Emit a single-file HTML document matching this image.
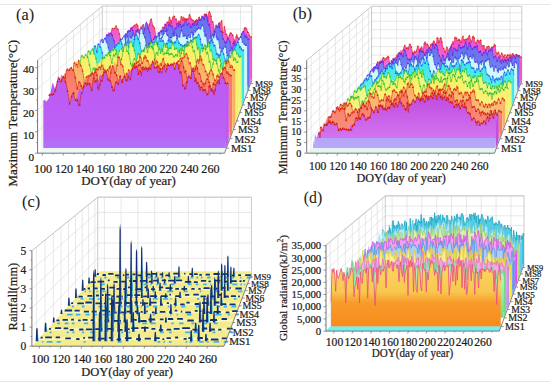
<!DOCTYPE html>
<html><head><meta charset="utf-8"><style>
html,body{margin:0;padding:0;background:#fff;}
svg{display:block;}
text{font-family:"Liberation Serif",serif;fill:#1e1c1a;stroke:#1e1c1a;stroke-width:0.22px;}
</style></head><body>
<svg width="550" height="386" viewBox="0 0 550 386" xmlns="http://www.w3.org/2000/svg">
<defs><linearGradient id="ga9" gradientUnits="userSpaceOnUse" x1="0" y1="15.3" x2="0" y2="83.6"><stop offset="0" stop-color="#f050c8"/><stop offset="1" stop-color="#f088d8"/></linearGradient><linearGradient id="ga8" gradientUnits="userSpaceOnUse" x1="0" y1="18.2" x2="0" y2="90.4"><stop offset="0" stop-color="#6470f0"/><stop offset="1" stop-color="#8890f0"/></linearGradient><linearGradient id="ga7" gradientUnits="userSpaceOnUse" x1="0" y1="28.9" x2="0" y2="97.5"><stop offset="0" stop-color="#c8f8f8"/><stop offset="1" stop-color="#e0fafa"/></linearGradient><linearGradient id="ga6" gradientUnits="userSpaceOnUse" x1="0" y1="38.6" x2="0" y2="104.9"><stop offset="0" stop-color="#38e8e8"/><stop offset="1" stop-color="#78f0f0"/></linearGradient><linearGradient id="ga5" gradientUnits="userSpaceOnUse" x1="0" y1="42.2" x2="0" y2="112.7"><stop offset="0" stop-color="#e8f870"/><stop offset="1" stop-color="#f0f8a0"/></linearGradient><linearGradient id="ga4" gradientUnits="userSpaceOnUse" x1="0" y1="45.9" x2="0" y2="120.9"><stop offset="0" stop-color="#f8f060"/><stop offset="1" stop-color="#f8f290"/></linearGradient><linearGradient id="ga3" gradientUnits="userSpaceOnUse" x1="0" y1="58.6" x2="0" y2="129.6"><stop offset="0" stop-color="#f8b064"/><stop offset="1" stop-color="#f8c488"/></linearGradient><linearGradient id="ga2" gradientUnits="userSpaceOnUse" x1="0" y1="65.7" x2="0" y2="138.6"><stop offset="0" stop-color="#f87a64"/><stop offset="1" stop-color="#f89484"/></linearGradient><linearGradient id="ga1" gradientUnits="userSpaceOnUse" x1="0" y1="66.8" x2="0" y2="148.2"><stop offset="0" stop-color="#bc58f4"/><stop offset="0.871" stop-color="#bc62f6"/><stop offset="0.871" stop-color="#b26af6"/><stop offset="1" stop-color="#b672f6"/></linearGradient><linearGradient id="gb9" gradientUnits="userSpaceOnUse" x1="0" y1="39.5" x2="0" y2="83.8"><stop offset="0" stop-color="#f050c8"/><stop offset="1" stop-color="#f088d8"/></linearGradient><linearGradient id="gb8" gradientUnits="userSpaceOnUse" x1="0" y1="45.9" x2="0" y2="90.6"><stop offset="0" stop-color="#6470f0"/><stop offset="1" stop-color="#8890f0"/></linearGradient><linearGradient id="gb7" gradientUnits="userSpaceOnUse" x1="0" y1="54.8" x2="0" y2="97.7"><stop offset="0" stop-color="#c8f8f8"/><stop offset="1" stop-color="#e0fafa"/></linearGradient><linearGradient id="gb6" gradientUnits="userSpaceOnUse" x1="0" y1="63.1" x2="0" y2="105.1"><stop offset="0" stop-color="#38e8e8"/><stop offset="1" stop-color="#78f0f0"/></linearGradient><linearGradient id="gb5" gradientUnits="userSpaceOnUse" x1="0" y1="72.0" x2="0" y2="112.8"><stop offset="0" stop-color="#e8f870"/><stop offset="1" stop-color="#f0f8a0"/></linearGradient><linearGradient id="gb4" gradientUnits="userSpaceOnUse" x1="0" y1="77.6" x2="0" y2="121.0"><stop offset="0" stop-color="#f8f060"/><stop offset="1" stop-color="#f8f290"/></linearGradient><linearGradient id="gb3" gradientUnits="userSpaceOnUse" x1="0" y1="87.6" x2="0" y2="129.6"><stop offset="0" stop-color="#f8b064"/><stop offset="1" stop-color="#f8c488"/></linearGradient><linearGradient id="gb2" gradientUnits="userSpaceOnUse" x1="0" y1="95.5" x2="0" y2="138.7"><stop offset="0" stop-color="#f87a64"/><stop offset="1" stop-color="#f89484"/></linearGradient><linearGradient id="gb1" gradientUnits="userSpaceOnUse" x1="0" y1="98.8" x2="0" y2="148.2"><stop offset="0" stop-color="#c24ee0"/><stop offset="0.788" stop-color="#d274f0"/><stop offset="0.788" stop-color="#b4a4f8"/><stop offset="1" stop-color="#b8aaf8"/></linearGradient><linearGradient id="gd9" gradientUnits="userSpaceOnUse" x1="0" y1="216.1" x2="0" y2="267.6"><stop offset="0" stop-color="#50d0e2"/><stop offset="0.35" stop-color="#50d0e2"/><stop offset="1" stop-color="#30c0e0"/></linearGradient><linearGradient id="gdb9" gradientUnits="userSpaceOnUse" x1="0" y1="212.7" x2="0" y2="263.4"><stop offset="0" stop-color="#50d0e2"/><stop offset="0.35" stop-color="#50d0e2"/><stop offset="1" stop-color="#30c0e0"/></linearGradient><linearGradient id="gd8" gradientUnits="userSpaceOnUse" x1="0" y1="220.3" x2="0" y2="273.8"><stop offset="0" stop-color="#b0e8f8"/><stop offset="0.35" stop-color="#b0e8f8"/><stop offset="1" stop-color="#64c8f0"/></linearGradient><linearGradient id="gdb8" gradientUnits="userSpaceOnUse" x1="0" y1="216.8" x2="0" y2="269.4"><stop offset="0" stop-color="#b0e8f8"/><stop offset="0.35" stop-color="#b0e8f8"/><stop offset="1" stop-color="#64c8f0"/></linearGradient><linearGradient id="gd7" gradientUnits="userSpaceOnUse" x1="0" y1="227.4" x2="0" y2="280.3"><stop offset="0" stop-color="#d8f0b0"/><stop offset="0.35" stop-color="#d8f0b0"/><stop offset="1" stop-color="#a8e070"/></linearGradient><linearGradient id="gdb7" gradientUnits="userSpaceOnUse" x1="0" y1="223.7" x2="0" y2="275.7"><stop offset="0" stop-color="#d8f0b0"/><stop offset="0.35" stop-color="#d8f0b0"/><stop offset="1" stop-color="#a8e070"/></linearGradient><linearGradient id="gd6" gradientUnits="userSpaceOnUse" x1="0" y1="234.4" x2="0" y2="287.0"><stop offset="0" stop-color="#f0a4f0"/><stop offset="0.35" stop-color="#f0a4f0"/><stop offset="1" stop-color="#f048f0"/></linearGradient><linearGradient id="gdb6" gradientUnits="userSpaceOnUse" x1="0" y1="230.5" x2="0" y2="282.3"><stop offset="0" stop-color="#f0a4f0"/><stop offset="0.35" stop-color="#f0a4f0"/><stop offset="1" stop-color="#f048f0"/></linearGradient><linearGradient id="gd5" gradientUnits="userSpaceOnUse" x1="0" y1="242.9" x2="0" y2="294.2"><stop offset="0" stop-color="#a8d0f8"/><stop offset="0.35" stop-color="#a8d0f8"/><stop offset="1" stop-color="#5c9cf0"/></linearGradient><linearGradient id="gdb5" gradientUnits="userSpaceOnUse" x1="0" y1="238.7" x2="0" y2="289.1"><stop offset="0" stop-color="#a8d0f8"/><stop offset="0.35" stop-color="#a8d0f8"/><stop offset="1" stop-color="#5c9cf0"/></linearGradient><linearGradient id="gd4" gradientUnits="userSpaceOnUse" x1="0" y1="247.7" x2="0" y2="301.6"><stop offset="0" stop-color="#f8f090"/><stop offset="0.35" stop-color="#f8f090"/><stop offset="1" stop-color="#f8e838"/></linearGradient><linearGradient id="gdb4" gradientUnits="userSpaceOnUse" x1="0" y1="243.3" x2="0" y2="296.4"><stop offset="0" stop-color="#f8f090"/><stop offset="0.35" stop-color="#f8f090"/><stop offset="1" stop-color="#f8e838"/></linearGradient><linearGradient id="gd3" gradientUnits="userSpaceOnUse" x1="0" y1="255.6" x2="0" y2="309.5"><stop offset="0" stop-color="#f0acE4"/><stop offset="0.35" stop-color="#f0acE4"/><stop offset="1" stop-color="#c094f0"/></linearGradient><linearGradient id="gdb3" gradientUnits="userSpaceOnUse" x1="0" y1="251.1" x2="0" y2="304.0"><stop offset="0" stop-color="#f0acE4"/><stop offset="0.35" stop-color="#f0acE4"/><stop offset="1" stop-color="#c094f0"/></linearGradient><linearGradient id="gd2" gradientUnits="userSpaceOnUse" x1="0" y1="265.3" x2="0" y2="317.8"><stop offset="0" stop-color="#b0f0b8"/><stop offset="0.35" stop-color="#b0f0b8"/><stop offset="1" stop-color="#70dc80"/></linearGradient><linearGradient id="gdb2" gradientUnits="userSpaceOnUse" x1="0" y1="260.4" x2="0" y2="312.0"><stop offset="0" stop-color="#b0f0b8"/><stop offset="0.35" stop-color="#b0f0b8"/><stop offset="1" stop-color="#70dc80"/></linearGradient><linearGradient id="gd1" gradientUnits="userSpaceOnUse" x1="0" y1="258.5" x2="0" y2="326.5"><stop offset="0" stop-color="#f8da64"/><stop offset="0.487" stop-color="#f8c850"/><stop offset="0.646" stop-color="#f89c2c"/><stop offset="1" stop-color="#f88a1a"/></linearGradient><linearGradient id="gdb1" gradientUnits="userSpaceOnUse" x1="0" y1="258.5" x2="0" y2="326.5"><stop offset="0" stop-color="#f8da64"/><stop offset="0.487" stop-color="#f8c850"/><stop offset="0.646" stop-color="#f89c2c"/><stop offset="1" stop-color="#f88a1a"/></linearGradient></defs>
<rect width="550" height="386" fill="#fff"/>
<line x1="0" y1="4.5" x2="550" y2="4.5" stroke="#e6e6e6" stroke-width="1"/>
<line x1="0" y1="381.5" x2="550" y2="381.5" stroke="#e6e6e6" stroke-width="1"/>
<line x1="102.3" y1="63.3" x2="251.8" y2="63.3" stroke="#d6d6d6" stroke-width="0.6"/>
<line x1="37.6" y1="131.8" x2="102.3" y2="63.3" stroke="#d6d6d6" stroke-width="0.6"/>
<line x1="102.3" y1="46.2" x2="251.8" y2="46.2" stroke="#d6d6d6" stroke-width="0.6"/>
<line x1="37.6" y1="110.4" x2="102.3" y2="46.2" stroke="#d6d6d6" stroke-width="0.6"/>
<line x1="102.3" y1="29.1" x2="251.8" y2="29.1" stroke="#d6d6d6" stroke-width="0.6"/>
<line x1="37.6" y1="89.1" x2="102.3" y2="29.1" stroke="#d6d6d6" stroke-width="0.6"/>
<line x1="102.3" y1="12.0" x2="251.8" y2="12.0" stroke="#d6d6d6" stroke-width="0.6"/>
<line x1="37.6" y1="67.7" x2="102.3" y2="12.0" stroke="#d6d6d6" stroke-width="0.6"/>
<line x1="106.7" y1="6.0" x2="106.7" y2="80.4" stroke="#d6d6d6" stroke-width="0.6"/>
<line x1="123.4" y1="6.0" x2="123.4" y2="80.4" stroke="#d6d6d6" stroke-width="0.6"/>
<line x1="140.1" y1="6.0" x2="140.1" y2="80.4" stroke="#d6d6d6" stroke-width="0.6"/>
<line x1="156.9" y1="6.0" x2="156.9" y2="80.4" stroke="#d6d6d6" stroke-width="0.6"/>
<line x1="173.6" y1="6.0" x2="173.6" y2="80.4" stroke="#d6d6d6" stroke-width="0.6"/>
<line x1="190.3" y1="6.0" x2="190.3" y2="80.4" stroke="#d6d6d6" stroke-width="0.6"/>
<line x1="207.1" y1="6.0" x2="207.1" y2="80.4" stroke="#d6d6d6" stroke-width="0.6"/>
<line x1="223.8" y1="6.0" x2="223.8" y2="80.4" stroke="#d6d6d6" stroke-width="0.6"/>
<line x1="240.5" y1="6.0" x2="240.5" y2="80.4" stroke="#d6d6d6" stroke-width="0.6"/>
<line x1="42.0" y1="56.5" x2="42.0" y2="148.2" stroke="#d6d6d6" stroke-width="0.6"/>
<line x1="50.5" y1="49.4" x2="50.5" y2="138.6" stroke="#d6d6d6" stroke-width="0.6"/>
<line x1="58.6" y1="42.6" x2="58.6" y2="129.6" stroke="#d6d6d6" stroke-width="0.6"/>
<line x1="66.3" y1="36.2" x2="66.3" y2="120.9" stroke="#d6d6d6" stroke-width="0.6"/>
<line x1="73.5" y1="30.1" x2="73.5" y2="112.7" stroke="#d6d6d6" stroke-width="0.6"/>
<line x1="80.5" y1="24.3" x2="80.5" y2="104.9" stroke="#d6d6d6" stroke-width="0.6"/>
<line x1="87.1" y1="18.7" x2="87.1" y2="97.5" stroke="#d6d6d6" stroke-width="0.6"/>
<line x1="93.4" y1="13.5" x2="93.4" y2="90.4" stroke="#d6d6d6" stroke-width="0.6"/>
<line x1="99.4" y1="8.4" x2="99.4" y2="83.6" stroke="#d6d6d6" stroke-width="0.6"/>
<line x1="102.3" y1="6.0" x2="251.8" y2="6.0" stroke="#bcbcbc" stroke-width="0.8"/>
<line x1="251.8" y1="6.0" x2="251.8" y2="80.4" stroke="#bcbcbc" stroke-width="0.8"/>
<line x1="102.3" y1="6.0" x2="102.3" y2="80.4" stroke="#bcbcbc" stroke-width="0.8"/>
<line x1="37.6" y1="60.2" x2="102.3" y2="6.0" stroke="#bcbcbc" stroke-width="0.8"/>
<polygon points="104.5,45.0 105.3,43.6 106.1,43.2 107.0,51.2 107.8,41.5 108.6,40.8 109.5,40.9 110.3,40.3 111.1,34.3 112.0,28.1 112.8,28.6 113.6,29.4 114.5,28.4 115.3,27.2 116.1,25.9 117.0,27.9 117.8,29.2 118.6,30.7 119.5,33.9 120.3,38.8 121.1,44.3 122.0,41.2 122.8,42.1 123.6,37.8 124.5,39.6 125.3,42.6 126.1,41.8 127.0,40.2 127.8,39.3 128.6,40.0 129.5,39.9 130.3,32.7 131.1,27.8 132.0,27.8 132.8,27.0 133.6,25.7 134.5,25.5 135.3,26.4 136.1,24.1 137.0,24.0 137.8,26.0 138.6,30.1 139.5,33.1 140.3,29.4 141.1,26.8 141.9,28.5 142.8,25.5 143.6,24.1 144.4,30.0 145.3,33.7 146.1,32.4 146.9,30.4 147.8,31.9 148.6,31.0 149.4,24.9 150.3,20.1 151.1,19.3 151.9,21.3 152.8,25.7 153.6,26.3 154.4,27.9 155.3,32.3 156.1,37.4 156.9,39.9 157.8,37.8 158.6,34.6 159.4,33.0 160.3,32.8 161.1,34.5 161.9,32.3 162.8,27.4 163.6,26.8 164.4,28.3 165.3,26.4 166.1,25.2 166.9,23.5 167.8,22.3 168.6,21.7 169.4,17.5 170.3,19.3 171.1,22.7 171.9,20.2 172.8,17.6 173.6,16.1 174.4,16.3 175.3,19.1 176.1,19.3 176.9,20.4 177.8,25.3 178.6,21.8 179.4,21.7 180.3,22.7 181.1,16.9 181.9,16.2 182.8,19.9 183.6,16.8 184.4,18.6 185.3,23.2 186.1,20.2 186.9,18.1 187.8,19.6 188.6,17.7 189.4,14.7 190.3,16.0 191.1,19.0 191.9,20.0 192.7,20.0 193.6,20.1 194.4,21.7 195.2,32.4 196.1,20.4 196.9,19.0 197.7,21.7 198.6,17.3 199.4,17.5 200.2,22.5 201.1,19.6 201.9,15.7 202.7,17.0 203.6,16.6 204.4,14.5 205.2,14.0 206.1,14.5 206.9,14.6 207.7,19.5 208.6,12.3 209.4,11.8 210.2,13.0 211.1,16.4 211.9,22.8 212.7,21.6 213.6,24.5 214.4,31.5 215.2,31.3 216.1,32.9 216.9,33.0 217.7,27.6 218.6,22.9 219.4,23.0 220.2,25.1 221.1,21.9 221.9,19.9 222.7,32.2 223.6,32.7 224.4,26.9 225.2,29.7 226.1,34.3 226.9,34.3 227.7,37.6 228.6,39.5 229.4,35.0 230.2,32.4 231.1,33.2 231.9,33.7 232.7,35.2 233.6,38.0 234.4,41.0 235.2,43.6 236.1,36.7 236.9,34.2 237.7,37.7 238.6,38.4 239.4,41.4 240.2,44.9 241.0,40.1 241.9,34.0 242.7,33.3 243.5,32.0 244.4,28.5 245.2,27.1 246.0,28.4 246.9,29.1 247.7,32.3 248.5,32.4 249.4,35.5 250.2,37.6 251.0,36.8 251.9,37.4 251.9,79.1 104.5,79.1" fill="url(#ga9)"/>
<polygon points="250.2,83.6 251.9,79.1 251.9,37.4 250.2,41.3" fill="#f050c8"/>
<polygon points="100.4,49.1 101.3,47.6 102.1,47.2 103.0,55.3 103.8,45.5 104.7,44.7 105.5,44.9 106.4,44.2 107.2,38.2 108.1,31.9 108.9,32.4 109.7,33.2 110.6,32.1 111.4,30.9 112.3,29.6 113.1,31.6 114.0,32.9 114.8,34.5 115.7,37.8 116.5,42.7 117.4,48.3 118.2,45.2 119.0,46.1 119.9,41.7 120.7,43.5 121.6,46.5 122.4,45.8 123.3,44.2 124.1,43.3 125.0,43.9 125.8,43.9 126.7,36.5 127.5,31.5 128.4,31.5 129.2,30.8 130.0,29.4 130.9,29.2 131.7,30.1 132.6,27.8 133.4,27.7 134.3,29.7 135.1,33.9 136.0,37.0 136.8,33.1 137.7,30.6 138.5,32.3 139.3,29.2 140.2,27.8 141.0,33.8 141.9,37.6 142.7,36.2 143.6,34.2 144.4,35.7 145.3,34.8 146.1,28.6 147.0,23.8 147.8,22.9 148.7,25.0 149.5,29.4 150.3,30.1 151.2,31.6 152.0,36.1 152.9,41.4 153.7,43.8 154.6,41.7 155.4,38.4 156.3,36.8 157.1,36.6 158.0,38.3 158.8,36.1 159.7,31.2 160.5,30.6 161.3,32.1 162.2,30.2 163.0,28.9 163.9,27.2 164.7,25.9 165.6,25.4 166.4,21.1 167.3,22.9 168.1,26.4 169.0,23.8 169.8,21.2 170.6,19.6 171.5,19.9 172.3,22.7 173.2,22.9 174.0,24.1 174.9,29.0 175.7,25.4 176.6,25.4 177.4,26.4 178.3,20.5 179.1,19.7 180.0,23.6 180.8,20.4 181.6,22.2 182.5,26.9 183.3,23.8 184.2,21.8 185.0,23.2 185.9,21.2 186.7,18.3 187.6,19.6 188.4,22.6 189.3,23.6 190.1,23.7 190.9,23.7 191.8,25.4 192.6,36.3 193.5,24.0 194.3,22.6 195.2,25.3 196.0,20.9 196.9,21.0 197.7,26.2 198.6,23.2 199.4,19.2 200.3,20.6 201.1,20.2 201.9,18.0 202.8,17.5 203.6,18.0 204.5,18.2 205.3,23.1 206.2,15.8 207.0,15.3 207.9,16.6 208.7,19.9 209.6,26.5 210.4,25.2 211.2,28.2 212.1,35.3 212.9,35.1 213.8,36.7 214.6,36.8 215.5,31.4 216.3,26.6 217.2,26.6 218.0,28.8 218.9,25.5 219.7,23.5 220.6,36.0 221.4,36.5 222.2,30.6 223.1,33.5 223.9,38.2 224.8,38.1 225.6,41.5 226.5,43.4 227.3,38.9 228.2,36.3 229.0,37.0 229.9,37.5 230.7,39.0 231.6,41.9 232.4,45.0 233.2,47.6 234.1,40.6 234.9,38.0 235.8,41.6 236.6,42.3 237.5,45.3 238.3,48.9 239.2,44.1 240.0,37.8 240.9,37.2 241.7,35.8 242.5,32.3 243.4,30.8 244.2,32.2 245.1,32.9 245.9,36.1 246.8,36.3 247.6,39.4 248.5,41.5 249.3,40.7 250.2,41.3 250.2,83.6 100.4,83.6" fill="url(#ga9)"/>
<polyline points="104.5,45.0 105.3,43.6 106.1,43.2 107.0,51.2 107.8,41.5 108.6,40.8 109.5,40.9 110.3,40.3 111.1,34.3 112.0,28.1 112.8,28.6 113.6,29.4 114.5,28.4 115.3,27.2 116.1,25.9 117.0,27.9 117.8,29.2 118.6,30.7 119.5,33.9 120.3,38.8 121.1,44.3 122.0,41.2 122.8,42.1 123.6,37.8 124.5,39.6 125.3,42.6 126.1,41.8 127.0,40.2 127.8,39.3 128.6,40.0 129.5,39.9 130.3,32.7 131.1,27.8 132.0,27.8 132.8,27.0 133.6,25.7 134.5,25.5 135.3,26.4 136.1,24.1 137.0,24.0 137.8,26.0 138.6,30.1 139.5,33.1 140.3,29.4 141.1,26.8 141.9,28.5 142.8,25.5 143.6,24.1 144.4,30.0 145.3,33.7 146.1,32.4 146.9,30.4 147.8,31.9 148.6,31.0 149.4,24.9 150.3,20.1 151.1,19.3 151.9,21.3 152.8,25.7 153.6,26.3 154.4,27.9 155.3,32.3 156.1,37.4 156.9,39.9 157.8,37.8 158.6,34.6 159.4,33.0 160.3,32.8 161.1,34.5 161.9,32.3 162.8,27.4 163.6,26.8 164.4,28.3 165.3,26.4 166.1,25.2 166.9,23.5 167.8,22.3 168.6,21.7 169.4,17.5 170.3,19.3 171.1,22.7 171.9,20.2 172.8,17.6 173.6,16.1 174.4,16.3 175.3,19.1 176.1,19.3 176.9,20.4 177.8,25.3 178.6,21.8 179.4,21.7 180.3,22.7 181.1,16.9 181.9,16.2 182.8,19.9 183.6,16.8 184.4,18.6 185.3,23.2 186.1,20.2 186.9,18.1 187.8,19.6 188.6,17.7 189.4,14.7 190.3,16.0 191.1,19.0 191.9,20.0 192.7,20.0 193.6,20.1 194.4,21.7 195.2,32.4 196.1,20.4 196.9,19.0 197.7,21.7 198.6,17.3 199.4,17.5 200.2,22.5 201.1,19.6 201.9,15.7 202.7,17.0 203.6,16.6 204.4,14.5 205.2,14.0 206.1,14.5 206.9,14.6 207.7,19.5 208.6,12.3 209.4,11.8 210.2,13.0 211.1,16.4 211.9,22.8 212.7,21.6 213.6,24.5 214.4,31.5 215.2,31.3 216.1,32.9 216.9,33.0 217.7,27.6 218.6,22.9 219.4,23.0 220.2,25.1 221.1,21.9 221.9,19.9 222.7,32.2 223.6,32.7 224.4,26.9 225.2,29.7 226.1,34.3 226.9,34.3 227.7,37.6 228.6,39.5 229.4,35.0 230.2,32.4 231.1,33.2 231.9,33.7 232.7,35.2 233.6,38.0 234.4,41.0 235.2,43.6 236.1,36.7 236.9,34.2 237.7,37.7 238.6,38.4 239.4,41.4 240.2,44.9 241.0,40.1 241.9,34.0 242.7,33.3 243.5,32.0 244.4,28.5 245.2,27.1 246.0,28.4 246.9,29.1 247.7,32.3 248.5,32.4 249.4,35.5 250.2,37.6 251.0,36.8 251.9,37.4" fill="none" stroke="#e02818" stroke-width="0.6"/>
<path d="M103.5 45.8h1.9l-0.9 -1.9zM105.2 43.9h1.9l-0.9 -1.9zM106.9 42.2h1.9l-0.9 -1.9zM108.5 41.7h1.9l-0.9 -1.9zM110.2 35.0h1.9l-0.9 -1.9zM111.9 29.3h1.9l-0.9 -1.9zM113.5 29.1h1.9l-0.9 -1.9zM115.2 26.6h1.9l-0.9 -1.9zM116.9 29.9h1.9l-0.9 -1.9zM118.5 34.7h1.9l-0.9 -1.9zM120.2 45.1h1.9l-0.9 -1.9zM121.9 42.8h1.9l-0.9 -1.9zM123.5 40.3h1.9l-0.9 -1.9zM125.2 42.6h1.9l-0.9 -1.9zM126.9 40.1h1.9l-0.9 -1.9zM128.5 40.7h1.9l-0.9 -1.9zM130.2 28.5h1.9l-0.9 -1.9zM131.9 27.8h1.9l-0.9 -1.9zM133.5 26.2h1.9l-0.9 -1.9zM135.2 24.8h1.9l-0.9 -1.9zM136.9 26.7h1.9l-0.9 -1.9zM138.5 33.9h1.9l-0.9 -1.9zM140.2 27.6h1.9l-0.9 -1.9zM141.9 26.2h1.9l-0.9 -1.9zM143.5 30.7h1.9l-0.9 -1.9zM145.2 33.2h1.9l-0.9 -1.9zM146.8 32.6h1.9l-0.9 -1.9zM148.5 25.6h1.9l-0.9 -1.9zM150.2 20.0h1.9l-0.9 -1.9zM151.8 26.4h1.9l-0.9 -1.9zM153.5 28.6h1.9l-0.9 -1.9zM155.2 38.2h1.9l-0.9 -1.9zM156.8 38.5h1.9l-0.9 -1.9zM158.5 33.7h1.9l-0.9 -1.9zM160.2 35.2h1.9l-0.9 -1.9zM161.8 28.2h1.9l-0.9 -1.9zM163.5 29.1h1.9l-0.9 -1.9zM165.2 25.9h1.9l-0.9 -1.9zM166.8 23.0h1.9l-0.9 -1.9zM168.5 18.2h1.9l-0.9 -1.9zM170.2 23.5h1.9l-0.9 -1.9zM171.8 18.3h1.9l-0.9 -1.9zM173.5 17.1h1.9l-0.9 -1.9zM175.2 20.0h1.9l-0.9 -1.9zM176.8 26.0h1.9l-0.9 -1.9zM178.5 22.5h1.9l-0.9 -1.9zM180.2 17.6h1.9l-0.9 -1.9zM181.8 20.7h1.9l-0.9 -1.9zM183.5 19.3h1.9l-0.9 -1.9zM185.2 20.9h1.9l-0.9 -1.9zM186.8 20.3h1.9l-0.9 -1.9zM188.5 15.5h1.9l-0.9 -1.9zM190.2 19.7h1.9l-0.9 -1.9zM191.8 20.8h1.9l-0.9 -1.9zM193.5 22.5h1.9l-0.9 -1.9zM195.1 21.1h1.9l-0.9 -1.9zM196.8 22.4h1.9l-0.9 -1.9zM198.5 18.2h1.9l-0.9 -1.9zM200.1 20.3h1.9l-0.9 -1.9zM201.8 17.7h1.9l-0.9 -1.9zM203.5 15.2h1.9l-0.9 -1.9zM205.1 15.2h1.9l-0.9 -1.9zM206.8 20.3h1.9l-0.9 -1.9zM208.5 12.5h1.9l-0.9 -1.9zM210.1 17.1h1.9l-0.9 -1.9zM211.8 22.3h1.9l-0.9 -1.9zM213.5 32.3h1.9l-0.9 -1.9zM215.1 33.6h1.9l-0.9 -1.9zM216.8 28.4h1.9l-0.9 -1.9zM218.5 23.7h1.9l-0.9 -1.9zM220.1 22.6h1.9l-0.9 -1.9zM221.8 32.9h1.9l-0.9 -1.9zM223.5 27.6h1.9l-0.9 -1.9zM225.1 35.1h1.9l-0.9 -1.9zM226.8 38.3h1.9l-0.9 -1.9zM228.5 35.8h1.9l-0.9 -1.9zM230.1 33.9h1.9l-0.9 -1.9zM231.8 35.9h1.9l-0.9 -1.9zM233.5 41.8h1.9l-0.9 -1.9zM235.1 37.5h1.9l-0.9 -1.9zM236.8 38.4h1.9l-0.9 -1.9zM238.5 42.1h1.9l-0.9 -1.9zM240.1 40.9h1.9l-0.9 -1.9zM241.8 34.1h1.9l-0.9 -1.9zM243.5 29.2h1.9l-0.9 -1.9zM245.1 29.2h1.9l-0.9 -1.9zM246.8 33.0h1.9l-0.9 -1.9zM248.4 36.3h1.9l-0.9 -1.9zM250.1 37.5h1.9l-0.9 -1.9z" fill="#e02818"/>
<polygon points="98.7,52.3 99.5,50.0 100.4,50.1 101.2,51.7 102.1,48.3 102.9,46.3 103.8,47.8 104.6,48.7 105.5,41.3 106.3,34.5 107.2,34.9 108.0,36.5 108.9,35.1 109.7,33.2 110.6,33.5 111.4,34.6 112.3,35.1 113.1,38.3 114.0,40.5 114.9,44.8 115.7,50.4 116.6,47.3 117.4,43.8 118.3,43.5 119.1,45.4 120.0,48.5 120.8,47.2 121.7,45.6 122.5,45.7 123.4,46.1 124.2,45.0 125.1,37.6 125.9,33.9 126.8,33.9 127.6,31.6 128.5,30.1 129.3,31.0 130.2,31.7 131.0,28.5 131.9,28.4 132.7,30.3 133.6,34.4 134.4,37.3 135.3,32.8 136.1,30.5 137.0,32.6 137.8,29.4 138.7,34.2 139.5,33.6 140.4,37.1 141.3,36.3 142.1,34.8 143.0,35.1 143.8,33.7 144.7,28.7 145.5,23.9 146.4,22.6 147.2,24.1 148.1,28.6 148.9,30.3 149.8,32.1 150.6,35.6 151.5,40.6 152.3,44.2 153.2,43.4 154.0,39.3 154.9,36.6 155.7,37.4 156.6,40.1 157.4,38.4 158.3,33.1 159.1,32.2 160.0,34.9 160.8,33.4 161.7,30.9 162.5,30.0 163.4,30.7 164.2,29.6 165.1,24.1 165.9,25.6 166.8,30.5 167.7,29.5 168.5,24.9 169.4,22.6 170.2,25.1 171.1,27.3 171.9,26.0 172.8,27.5 173.6,33.5 174.5,30.1 175.3,28.4 176.2,29.2 177.0,23.8 177.9,22.9 178.7,26.3 179.6,23.3 180.4,24.4 181.3,28.1 182.1,26.0 183.0,24.8 183.8,25.1 184.7,21.7 185.5,19.3 186.4,21.5 187.2,24.9 188.1,24.4 188.9,23.5 189.8,24.6 190.6,26.7 191.5,28.0 192.3,24.3 193.2,22.9 194.1,25.4 194.9,21.7 195.8,21.3 196.6,25.9 197.5,24.0 198.3,19.6 199.2,19.9 200.0,20.5 200.9,19.6 201.7,17.8 202.6,16.8 203.4,18.5 204.3,19.3 205.1,15.7 206.0,14.6 206.8,17.6 207.7,20.8 208.5,26.0 209.4,24.1 210.2,28.2 211.1,36.4 211.9,35.4 212.8,35.8 213.6,35.6 214.5,31.3 215.3,27.1 216.2,25.4 217.0,28.2 217.9,26.6 218.7,23.4 219.6,26.6 220.5,31.8 221.3,31.6 222.2,33.5 223.0,38.9 223.9,40.1 224.7,41.7 225.6,44.5 226.4,42.0 227.3,38.4 228.1,38.8 229.0,39.8 229.8,41.5 230.7,45.4 231.5,48.8 232.4,50.3 233.2,43.3 234.1,41.0 234.9,44.8 235.8,45.3 236.6,46.6 237.5,50.6 238.3,47.0 239.2,39.9 240.0,37.9 240.9,36.5 241.7,33.9 242.6,31.5 243.4,31.4 244.3,33.7 245.1,36.7 246.0,34.7 246.9,37.3 247.7,40.2 248.6,39.2 249.4,38.8 249.4,85.6 98.7,85.6" fill="url(#ga8)"/>
<polygon points="247.6,90.4 249.4,85.6 249.4,38.8 247.6,42.8" fill="#6470f0"/>
<polygon points="94.4,56.5 95.3,54.2 96.2,54.3 97.0,56.0 97.9,52.5 98.8,50.4 99.6,52.0 100.5,52.8 101.4,45.4 102.2,38.4 103.1,38.8 104.0,40.5 104.8,39.0 105.7,37.2 106.6,37.4 107.4,38.5 108.3,39.1 109.2,42.3 110.0,44.6 110.9,48.9 111.8,54.6 112.6,51.4 113.5,47.9 114.4,47.6 115.2,49.5 116.1,52.6 116.9,51.4 117.8,49.7 118.7,49.9 119.5,50.3 120.4,49.1 121.3,41.6 122.1,37.8 123.0,37.8 123.9,35.5 124.7,34.0 125.6,34.9 126.5,35.6 127.3,32.4 128.2,32.3 129.1,34.2 129.9,38.3 130.8,41.3 131.7,36.7 132.5,34.4 133.4,36.5 134.3,33.3 135.1,38.2 136.0,37.5 136.8,41.1 137.7,40.3 138.6,38.8 139.4,39.1 140.3,37.6 141.2,32.5 142.0,27.7 142.9,26.3 143.8,27.9 144.6,32.4 145.5,34.2 146.4,36.0 147.2,39.6 148.1,44.7 149.0,48.3 149.8,47.5 150.7,43.3 151.6,40.6 152.4,41.4 153.3,44.2 154.2,42.4 155.0,37.0 155.9,36.1 156.8,38.8 157.6,37.4 158.5,34.8 159.3,33.9 160.2,34.6 161.1,33.5 161.9,27.9 162.8,29.4 163.7,34.4 164.5,33.4 165.4,28.7 166.3,26.4 167.1,28.9 168.0,31.1 168.9,29.8 169.7,31.4 170.6,37.4 171.5,33.9 172.3,32.2 173.2,33.0 174.1,27.6 174.9,26.6 175.8,30.2 176.7,27.1 177.5,28.2 178.4,32.0 179.3,29.9 180.1,28.6 181.0,28.9 181.8,25.5 182.7,23.0 183.6,25.2 184.4,28.7 185.3,28.2 186.2,27.2 187.0,28.4 187.9,30.5 188.8,31.9 189.6,28.1 190.5,26.7 191.4,29.2 192.2,25.5 193.1,25.0 194.0,29.7 194.8,27.8 195.7,23.3 196.6,23.6 197.4,24.2 198.3,23.3 199.2,21.5 200.0,20.5 200.9,22.2 201.7,23.0 202.6,19.4 203.5,18.2 204.3,21.3 205.2,24.5 206.1,29.8 206.9,27.9 207.8,32.0 208.7,40.4 209.5,39.3 210.4,39.7 211.3,39.5 212.1,35.2 213.0,31.0 213.9,29.2 214.7,32.1 215.6,30.5 216.5,27.1 217.3,30.4 218.2,35.7 219.1,35.5 219.9,37.4 220.8,43.0 221.7,44.1 222.5,45.8 223.4,48.6 224.2,46.0 225.1,42.5 226.0,42.8 226.8,43.8 227.7,45.6 228.6,49.5 229.4,53.0 230.3,54.6 231.2,47.4 232.0,45.0 232.9,48.9 233.8,49.4 234.6,50.8 235.5,54.8 236.4,51.1 237.2,44.0 238.1,41.9 239.0,40.5 239.8,37.9 240.7,35.4 241.6,35.3 242.4,37.6 243.3,40.7 244.2,38.6 245.0,41.3 245.9,44.2 246.7,43.2 247.6,42.8 247.6,90.4 94.4,90.4" fill="url(#ga8)"/>
<polyline points="98.7,52.3 99.5,50.0 100.4,50.1 101.2,51.7 102.1,48.3 102.9,46.3 103.8,47.8 104.6,48.7 105.5,41.3 106.3,34.5 107.2,34.9 108.0,36.5 108.9,35.1 109.7,33.2 110.6,33.5 111.4,34.6 112.3,35.1 113.1,38.3 114.0,40.5 114.9,44.8 115.7,50.4 116.6,47.3 117.4,43.8 118.3,43.5 119.1,45.4 120.0,48.5 120.8,47.2 121.7,45.6 122.5,45.7 123.4,46.1 124.2,45.0 125.1,37.6 125.9,33.9 126.8,33.9 127.6,31.6 128.5,30.1 129.3,31.0 130.2,31.7 131.0,28.5 131.9,28.4 132.7,30.3 133.6,34.4 134.4,37.3 135.3,32.8 136.1,30.5 137.0,32.6 137.8,29.4 138.7,34.2 139.5,33.6 140.4,37.1 141.3,36.3 142.1,34.8 143.0,35.1 143.8,33.7 144.7,28.7 145.5,23.9 146.4,22.6 147.2,24.1 148.1,28.6 148.9,30.3 149.8,32.1 150.6,35.6 151.5,40.6 152.3,44.2 153.2,43.4 154.0,39.3 154.9,36.6 155.7,37.4 156.6,40.1 157.4,38.4 158.3,33.1 159.1,32.2 160.0,34.9 160.8,33.4 161.7,30.9 162.5,30.0 163.4,30.7 164.2,29.6 165.1,24.1 165.9,25.6 166.8,30.5 167.7,29.5 168.5,24.9 169.4,22.6 170.2,25.1 171.1,27.3 171.9,26.0 172.8,27.5 173.6,33.5 174.5,30.1 175.3,28.4 176.2,29.2 177.0,23.8 177.9,22.9 178.7,26.3 179.6,23.3 180.4,24.4 181.3,28.1 182.1,26.0 183.0,24.8 183.8,25.1 184.7,21.7 185.5,19.3 186.4,21.5 187.2,24.9 188.1,24.4 188.9,23.5 189.8,24.6 190.6,26.7 191.5,28.0 192.3,24.3 193.2,22.9 194.1,25.4 194.9,21.7 195.8,21.3 196.6,25.9 197.5,24.0 198.3,19.6 199.2,19.9 200.0,20.5 200.9,19.6 201.7,17.8 202.6,16.8 203.4,18.5 204.3,19.3 205.1,15.7 206.0,14.6 206.8,17.6 207.7,20.8 208.5,26.0 209.4,24.1 210.2,28.2 211.1,36.4 211.9,35.4 212.8,35.8 213.6,35.6 214.5,31.3 215.3,27.1 216.2,25.4 217.0,28.2 217.9,26.6 218.7,23.4 219.6,26.6 220.5,31.8 221.3,31.6 222.2,33.5 223.0,38.9 223.9,40.1 224.7,41.7 225.6,44.5 226.4,42.0 227.3,38.4 228.1,38.8 229.0,39.8 229.8,41.5 230.7,45.4 231.5,48.8 232.4,50.3 233.2,43.3 234.1,41.0 234.9,44.8 235.8,45.3 236.6,46.6 237.5,50.6 238.3,47.0 239.2,39.9 240.0,37.9 240.9,36.5 241.7,33.9 242.6,31.5 243.4,31.4 244.3,33.7 245.1,36.7 246.0,34.7 246.9,37.3 247.7,40.2 248.6,39.2 249.4,38.8" fill="none" stroke="#7020e0" stroke-width="0.6"/>
<path d="M97.7 53.0h1.9l-1.0 -1.9zM99.4 50.8h1.9l-1.0 -1.9zM101.1 49.1h1.9l-1.0 -1.9zM102.8 48.6h1.9l-1.0 -1.9zM104.5 42.1h1.9l-1.0 -1.9zM106.2 35.6h1.9l-1.0 -1.9zM107.9 35.8h1.9l-1.0 -1.9zM109.6 34.3h1.9l-1.0 -1.9zM111.3 35.9h1.9l-1.0 -1.9zM113.0 41.3h1.9l-1.0 -1.9zM114.8 51.2h1.9l-1.0 -1.9zM116.5 44.6h1.9l-1.0 -1.9zM118.2 46.1h1.9l-1.0 -1.9zM119.9 48.0h1.9l-1.0 -1.9zM121.6 46.5h1.9l-1.0 -1.9zM123.3 45.8h1.9l-1.0 -1.9zM125.0 34.7h1.9l-1.0 -1.9zM126.7 32.4h1.9l-1.0 -1.9zM128.4 31.7h1.9l-1.0 -1.9zM130.1 29.3h1.9l-1.0 -1.9zM131.8 31.1h1.9l-1.0 -1.9zM133.5 38.1h1.9l-1.0 -1.9zM135.2 31.3h1.9l-1.0 -1.9zM136.9 30.2h1.9l-1.0 -1.9zM138.6 34.4h1.9l-1.0 -1.9zM140.3 37.1h1.9l-1.0 -1.9zM142.0 35.9h1.9l-1.0 -1.9zM143.7 29.4h1.9l-1.0 -1.9zM145.4 23.3h1.9l-1.0 -1.9zM147.1 29.3h1.9l-1.0 -1.9zM148.8 32.8h1.9l-1.0 -1.9zM150.5 41.4h1.9l-1.0 -1.9zM152.2 44.2h1.9l-1.0 -1.9zM153.9 37.4h1.9l-1.0 -1.9zM155.6 40.9h1.9l-1.0 -1.9zM157.3 33.8h1.9l-1.0 -1.9zM159.0 35.6h1.9l-1.0 -1.9zM160.7 31.7h1.9l-1.0 -1.9zM162.4 31.4h1.9l-1.0 -1.9zM164.1 24.9h1.9l-1.0 -1.9zM165.8 31.3h1.9l-1.0 -1.9zM167.6 25.7h1.9l-1.0 -1.9zM169.3 25.9h1.9l-1.0 -1.9zM171.0 26.7h1.9l-1.0 -1.9zM172.7 34.3h1.9l-1.0 -1.9zM174.4 29.1h1.9l-1.0 -1.9zM176.1 24.5h1.9l-1.0 -1.9zM177.8 27.1h1.9l-1.0 -1.9zM179.5 25.1h1.9l-1.0 -1.9zM181.2 26.8h1.9l-1.0 -1.9zM182.9 25.8h1.9l-1.0 -1.9zM184.6 20.0h1.9l-1.0 -1.9zM186.3 25.6h1.9l-1.0 -1.9zM188.0 24.2h1.9l-1.0 -1.9zM189.7 27.5h1.9l-1.0 -1.9zM191.4 25.1h1.9l-1.0 -1.9zM193.1 26.1h1.9l-1.0 -1.9zM194.8 22.1h1.9l-1.0 -1.9zM196.5 24.8h1.9l-1.0 -1.9zM198.2 20.6h1.9l-1.0 -1.9zM199.9 20.4h1.9l-1.0 -1.9zM201.6 17.6h1.9l-1.0 -1.9zM203.3 20.0h1.9l-1.0 -1.9zM205.0 15.4h1.9l-1.0 -1.9zM206.7 21.6h1.9l-1.0 -1.9zM208.4 24.9h1.9l-1.0 -1.9zM210.1 37.2h1.9l-1.0 -1.9zM211.8 36.5h1.9l-1.0 -1.9zM213.5 32.1h1.9l-1.0 -1.9zM215.2 26.1h1.9l-1.0 -1.9zM216.9 27.4h1.9l-1.0 -1.9zM218.6 27.3h1.9l-1.0 -1.9zM220.4 32.3h1.9l-1.0 -1.9zM222.1 39.7h1.9l-1.0 -1.9zM223.8 42.5h1.9l-1.0 -1.9zM225.5 42.7h1.9l-1.0 -1.9zM227.2 39.6h1.9l-1.0 -1.9zM228.9 42.3h1.9l-1.0 -1.9zM230.6 49.6h1.9l-1.0 -1.9zM232.3 44.0h1.9l-1.0 -1.9zM234.0 45.5h1.9l-1.0 -1.9zM235.7 47.4h1.9l-1.0 -1.9zM237.4 47.7h1.9l-1.0 -1.9zM239.1 38.6h1.9l-1.0 -1.9zM240.8 34.7h1.9l-1.0 -1.9zM242.5 32.2h1.9l-1.0 -1.9zM244.2 37.5h1.9l-1.0 -1.9zM245.9 38.1h1.9l-1.0 -1.9zM247.6 39.9h1.9l-1.0 -1.9z" fill="#7020e0"/>
<polygon points="92.6,58.2 93.5,62.4 94.3,56.4 95.2,57.0 96.1,54.8 97.0,54.2 97.8,53.9 98.7,53.8 99.6,48.6 100.4,40.9 101.3,39.8 102.2,42.7 103.1,42.3 103.9,39.5 104.8,38.4 105.7,40.5 106.5,41.8 107.4,44.3 108.3,47.5 109.2,51.5 110.0,57.1 110.9,55.2 111.8,51.4 112.6,50.0 113.5,52.3 114.4,56.1 115.3,55.4 116.1,52.5 117.0,51.2 117.9,52.9 118.7,52.9 119.6,44.1 120.5,39.2 121.4,39.8 122.2,38.6 123.1,37.0 124.0,36.6 124.8,37.4 125.7,43.5 126.6,34.1 127.5,36.6 128.3,41.3 129.2,43.3 130.1,38.6 130.9,37.1 131.8,39.0 132.7,35.3 133.6,32.9 134.4,38.9 135.3,43.9 136.2,42.2 137.0,39.2 137.9,45.3 138.8,39.7 139.6,33.2 140.5,28.7 141.4,28.6 142.3,29.2 143.1,33.3 144.0,35.6 144.9,37.0 145.7,41.1 146.6,47.5 147.5,49.9 148.4,47.5 149.2,44.0 150.1,42.9 151.0,44.1 151.8,45.5 152.7,42.9 153.6,39.2 154.5,38.6 155.3,40.5 156.2,39.5 157.1,37.0 157.9,35.5 158.8,36.0 159.7,36.4 160.6,31.1 161.4,32.3 162.3,36.9 163.2,35.6 164.0,33.1 164.9,30.3 165.8,31.2 166.7,35.0 167.5,35.3 168.4,36.1 169.3,41.8 170.1,38.8 171.0,37.3 171.9,38.3 172.8,33.8 173.6,36.6 174.5,35.5 175.4,32.7 176.2,35.1 177.1,39.6 178.0,36.4 178.9,34.9 179.7,36.8 180.6,33.2 181.5,30.2 182.3,32.2 183.2,35.9 184.1,36.6 185.0,35.4 185.8,35.9 186.7,38.1 187.6,39.4 188.4,35.6 189.3,34.5 190.2,37.2 191.1,32.1 191.9,32.2 192.8,37.8 193.7,34.3 194.5,30.2 195.4,31.9 196.3,30.9 197.2,29.3 198.0,28.9 198.9,28.1 199.8,28.5 200.6,28.8 201.5,26.9 202.4,25.0 203.3,26.2 204.1,30.7 205.0,37.1 205.9,34.8 206.7,37.7 207.6,45.2 208.5,45.2 209.4,47.0 210.2,45.9 211.1,40.0 212.0,34.9 212.8,34.8 213.7,38.2 214.6,34.4 215.5,31.6 216.3,36.4 217.2,40.2 218.1,38.7 218.9,41.7 219.8,47.8 220.7,46.9 221.6,57.9 222.4,52.8 223.3,48.3 224.2,45.6 225.0,46.9 225.9,46.0 226.8,52.8 227.7,51.7 228.5,54.9 229.4,57.5 230.3,50.3 231.1,47.5 232.0,50.9 232.9,51.2 233.8,53.9 234.6,56.9 235.5,52.2 236.4,46.8 237.2,44.1 238.1,41.1 239.0,38.9 239.9,37.7 240.7,37.2 241.6,38.1 242.5,42.0 243.3,41.3 244.2,43.8 245.1,45.4 246.0,44.9 246.8,46.1 246.8,92.5 92.6,92.5" fill="url(#ga7)"/>
<polygon points="244.9,97.5 246.8,92.5 246.8,46.1 244.9,50.4" fill="#c8f8f8"/>
<polygon points="88.2,62.6 89.1,66.9 89.9,60.8 90.8,61.4 91.7,59.2 92.6,58.5 93.5,58.3 94.4,58.2 95.3,52.8 96.1,45.0 97.0,43.9 97.9,46.8 98.8,46.5 99.7,43.6 100.6,42.6 101.5,44.7 102.3,45.9 103.2,48.5 104.1,51.8 105.0,55.8 105.9,61.5 106.8,59.6 107.7,55.7 108.5,54.3 109.4,56.6 110.3,60.5 111.2,59.7 112.1,56.8 113.0,55.6 113.9,57.3 114.7,57.3 115.6,48.3 116.5,43.3 117.4,44.0 118.3,42.7 119.2,41.1 120.1,40.6 120.9,41.4 121.8,47.7 122.7,38.1 123.6,40.6 124.5,45.4 125.4,47.5 126.3,42.7 127.1,41.2 128.0,43.2 128.9,39.3 129.8,36.9 130.7,43.0 131.6,48.1 132.5,46.4 133.3,43.3 134.2,49.5 135.1,43.8 136.0,37.2 136.9,32.6 137.8,32.5 138.7,33.2 139.5,37.3 140.4,39.6 141.3,41.0 142.2,45.2 143.1,51.7 144.0,54.2 144.9,51.8 145.7,48.2 146.6,47.1 147.5,48.3 148.4,49.7 149.3,47.1 150.2,43.3 151.1,42.7 151.9,44.6 152.8,43.6 153.7,41.1 154.6,39.5 155.5,40.1 156.4,40.5 157.3,35.1 158.1,36.3 159.0,41.0 159.9,39.7 160.8,37.1 161.7,34.3 162.6,35.2 163.5,39.0 164.3,39.4 165.2,40.2 166.1,46.0 167.0,42.9 167.9,41.4 168.8,42.4 169.7,37.8 170.5,40.6 171.4,39.6 172.3,36.8 173.2,39.1 174.1,43.8 175.0,40.5 175.9,39.0 176.7,40.8 177.6,37.2 178.5,34.2 179.4,36.2 180.3,39.9 181.2,40.7 182.1,39.5 182.9,39.9 183.8,42.2 184.7,43.5 185.6,39.6 186.5,38.5 187.4,41.3 188.3,36.1 189.1,36.2 190.0,41.9 190.9,38.4 191.8,34.2 192.7,35.9 193.6,34.9 194.5,33.2 195.3,32.8 196.2,32.0 197.1,32.4 198.0,32.8 198.9,30.8 199.8,28.9 200.7,30.1 201.5,34.7 202.4,41.2 203.3,38.8 204.2,41.8 205.1,49.5 206.0,49.4 206.9,51.2 207.7,50.2 208.6,44.1 209.5,39.0 210.4,38.8 211.3,42.3 212.2,38.4 213.1,35.6 213.9,40.5 214.8,44.3 215.7,42.8 216.6,45.8 217.5,52.1 218.4,51.1 219.3,62.3 220.1,57.1 221.0,52.5 221.9,49.9 222.8,51.1 223.7,50.3 224.6,57.2 225.5,56.0 226.3,59.3 227.2,61.9 228.1,54.6 229.0,51.8 229.9,55.2 230.8,55.5 231.7,58.2 232.5,61.3 233.4,56.6 234.3,51.0 235.2,48.3 236.1,45.3 237.0,43.0 237.9,41.8 238.7,41.3 239.6,42.2 240.5,46.2 241.4,45.5 242.3,48.0 243.2,49.6 244.1,49.1 244.9,50.4 244.9,97.5 88.2,97.5" fill="url(#ga7)"/>
<polyline points="92.6,58.2 93.5,62.4 94.3,56.4 95.2,57.0 96.1,54.8 97.0,54.2 97.8,53.9 98.7,53.8 99.6,48.6 100.4,40.9 101.3,39.8 102.2,42.7 103.1,42.3 103.9,39.5 104.8,38.4 105.7,40.5 106.5,41.8 107.4,44.3 108.3,47.5 109.2,51.5 110.0,57.1 110.9,55.2 111.8,51.4 112.6,50.0 113.5,52.3 114.4,56.1 115.3,55.4 116.1,52.5 117.0,51.2 117.9,52.9 118.7,52.9 119.6,44.1 120.5,39.2 121.4,39.8 122.2,38.6 123.1,37.0 124.0,36.6 124.8,37.4 125.7,43.5 126.6,34.1 127.5,36.6 128.3,41.3 129.2,43.3 130.1,38.6 130.9,37.1 131.8,39.0 132.7,35.3 133.6,32.9 134.4,38.9 135.3,43.9 136.2,42.2 137.0,39.2 137.9,45.3 138.8,39.7 139.6,33.2 140.5,28.7 141.4,28.6 142.3,29.2 143.1,33.3 144.0,35.6 144.9,37.0 145.7,41.1 146.6,47.5 147.5,49.9 148.4,47.5 149.2,44.0 150.1,42.9 151.0,44.1 151.8,45.5 152.7,42.9 153.6,39.2 154.5,38.6 155.3,40.5 156.2,39.5 157.1,37.0 157.9,35.5 158.8,36.0 159.7,36.4 160.6,31.1 161.4,32.3 162.3,36.9 163.2,35.6 164.0,33.1 164.9,30.3 165.8,31.2 166.7,35.0 167.5,35.3 168.4,36.1 169.3,41.8 170.1,38.8 171.0,37.3 171.9,38.3 172.8,33.8 173.6,36.6 174.5,35.5 175.4,32.7 176.2,35.1 177.1,39.6 178.0,36.4 178.9,34.9 179.7,36.8 180.6,33.2 181.5,30.2 182.3,32.2 183.2,35.9 184.1,36.6 185.0,35.4 185.8,35.9 186.7,38.1 187.6,39.4 188.4,35.6 189.3,34.5 190.2,37.2 191.1,32.1 191.9,32.2 192.8,37.8 193.7,34.3 194.5,30.2 195.4,31.9 196.3,30.9 197.2,29.3 198.0,28.9 198.9,28.1 199.8,28.5 200.6,28.8 201.5,26.9 202.4,25.0 203.3,26.2 204.1,30.7 205.0,37.1 205.9,34.8 206.7,37.7 207.6,45.2 208.5,45.2 209.4,47.0 210.2,45.9 211.1,40.0 212.0,34.9 212.8,34.8 213.7,38.2 214.6,34.4 215.5,31.6 216.3,36.4 217.2,40.2 218.1,38.7 218.9,41.7 219.8,47.8 220.7,46.9 221.6,57.9 222.4,52.8 223.3,48.3 224.2,45.6 225.0,46.9 225.9,46.0 226.8,52.8 227.7,51.7 228.5,54.9 229.4,57.5 230.3,50.3 231.1,47.5 232.0,50.9 232.9,51.2 233.8,53.9 234.6,56.9 235.5,52.2 236.4,46.8 237.2,44.1 238.1,41.1 239.0,38.9 239.9,37.7 240.7,37.2 241.6,38.1 242.5,42.0 243.3,41.3 244.2,43.8 245.1,45.4 246.0,44.9 246.8,46.1" fill="none" stroke="#4040e0" stroke-width="0.6"/>
<path d="M91.6 59.0h1.9l-1.0 -1.9zM93.4 57.2h1.9l-1.0 -1.9zM95.1 55.6h1.9l-1.0 -1.9zM96.9 54.7h1.9l-1.0 -1.9zM98.6 49.3h1.9l-1.0 -1.9zM100.3 40.6h1.9l-1.0 -1.9zM102.1 43.1h1.9l-1.0 -1.9zM103.8 39.2h1.9l-1.0 -1.9zM105.6 42.5h1.9l-1.0 -1.9zM107.3 48.3h1.9l-1.0 -1.9zM109.1 57.8h1.9l-1.0 -1.9zM110.8 52.1h1.9l-1.0 -1.9zM112.5 53.0h1.9l-1.0 -1.9zM114.3 56.1h1.9l-1.0 -1.9zM116.0 52.0h1.9l-1.0 -1.9zM117.8 53.7h1.9l-1.0 -1.9zM119.5 40.0h1.9l-1.0 -1.9zM121.2 39.4h1.9l-1.0 -1.9zM123.0 37.3h1.9l-1.0 -1.9zM124.7 44.3h1.9l-1.0 -1.9zM126.5 37.3h1.9l-1.0 -1.9zM128.2 44.1h1.9l-1.0 -1.9zM130.0 37.8h1.9l-1.0 -1.9zM131.7 36.0h1.9l-1.0 -1.9zM133.4 39.7h1.9l-1.0 -1.9zM135.2 43.0h1.9l-1.0 -1.9zM136.9 46.1h1.9l-1.0 -1.9zM138.7 33.9h1.9l-1.0 -1.9zM140.4 29.3h1.9l-1.0 -1.9zM142.2 34.1h1.9l-1.0 -1.9zM143.9 37.7h1.9l-1.0 -1.9zM145.6 48.2h1.9l-1.0 -1.9zM147.4 48.3h1.9l-1.0 -1.9zM149.1 43.7h1.9l-1.0 -1.9zM150.9 46.2h1.9l-1.0 -1.9zM152.6 40.0h1.9l-1.0 -1.9zM154.4 41.3h1.9l-1.0 -1.9zM156.1 37.8h1.9l-1.0 -1.9zM157.8 36.8h1.9l-1.0 -1.9zM159.6 31.9h1.9l-1.0 -1.9zM161.3 37.7h1.9l-1.0 -1.9zM163.1 33.9h1.9l-1.0 -1.9zM164.8 31.9h1.9l-1.0 -1.9zM166.6 36.1h1.9l-1.0 -1.9zM168.3 42.6h1.9l-1.0 -1.9zM170.0 38.0h1.9l-1.0 -1.9zM171.8 34.6h1.9l-1.0 -1.9zM173.5 36.3h1.9l-1.0 -1.9zM175.3 35.9h1.9l-1.0 -1.9zM177.0 37.2h1.9l-1.0 -1.9zM178.8 37.5h1.9l-1.0 -1.9zM180.5 31.0h1.9l-1.0 -1.9zM182.2 36.6h1.9l-1.0 -1.9zM184.0 36.2h1.9l-1.0 -1.9zM185.7 38.9h1.9l-1.0 -1.9zM187.5 36.3h1.9l-1.0 -1.9zM189.2 38.0h1.9l-1.0 -1.9zM191.0 33.0h1.9l-1.0 -1.9zM192.7 35.1h1.9l-1.0 -1.9zM194.4 32.6h1.9l-1.0 -1.9zM196.2 30.0h1.9l-1.0 -1.9zM197.9 28.9h1.9l-1.0 -1.9zM199.7 29.6h1.9l-1.0 -1.9zM201.4 25.8h1.9l-1.0 -1.9zM203.2 31.5h1.9l-1.0 -1.9zM204.9 35.5h1.9l-1.0 -1.9zM206.6 46.0h1.9l-1.0 -1.9zM208.4 47.7h1.9l-1.0 -1.9zM210.1 40.8h1.9l-1.0 -1.9zM211.9 35.6h1.9l-1.0 -1.9zM213.6 35.2h1.9l-1.0 -1.9zM215.4 37.2h1.9l-1.0 -1.9zM217.1 39.5h1.9l-1.0 -1.9zM218.8 48.6h1.9l-1.0 -1.9zM220.6 58.7h1.9l-1.0 -1.9zM222.3 49.1h1.9l-1.0 -1.9zM224.1 47.7h1.9l-1.0 -1.9zM225.8 53.6h1.9l-1.0 -1.9zM227.6 55.7h1.9l-1.0 -1.9zM229.3 51.1h1.9l-1.0 -1.9zM231.0 51.6h1.9l-1.0 -1.9zM232.8 54.7h1.9l-1.0 -1.9zM234.5 53.0h1.9l-1.0 -1.9zM236.3 44.9h1.9l-1.0 -1.9zM238.0 39.7h1.9l-1.0 -1.9zM239.8 38.0h1.9l-1.0 -1.9zM241.5 42.8h1.9l-1.0 -1.9zM243.2 44.5h1.9l-1.0 -1.9zM245.0 45.7h1.9l-1.0 -1.9z" fill="#4040e0"/>
<polygon points="86.2,63.8 87.1,61.9 88.0,62.1 88.9,63.6 89.8,60.1 90.7,58.8 91.6,60.8 92.5,59.9 93.4,52.8 94.3,45.7 95.2,46.1 96.0,48.7 96.9,52.0 97.8,44.0 98.7,44.2 99.6,46.8 100.5,47.0 101.4,48.8 102.3,52.7 103.2,57.8 104.1,63.8 105.0,60.2 105.9,56.7 106.8,56.8 107.6,58.8 108.5,62.0 109.4,60.7 110.3,59.2 111.2,59.5 112.1,59.7 113.0,58.4 113.9,50.7 114.8,46.9 115.7,46.6 116.6,44.9 117.5,43.7 118.3,43.3 119.2,44.1 120.1,40.8 121.0,40.2 121.9,43.6 122.8,48.3 123.7,49.9 124.6,44.7 125.5,43.1 126.4,46.3 127.3,41.9 128.2,39.5 129.1,46.0 129.9,49.9 130.8,48.5 131.7,46.1 132.6,47.4 133.5,46.2 134.4,39.3 135.3,34.7 136.2,34.7 137.1,35.4 138.0,38.7 138.9,40.0 139.8,43.0 140.6,47.8 141.5,51.8 142.4,55.0 143.3,54.3 144.2,50.2 145.1,47.8 146.0,48.7 146.9,51.4 147.8,49.6 148.7,44.0 149.6,44.1 150.5,47.2 151.4,44.2 152.2,42.5 153.1,42.9 154.0,42.0 154.9,41.2 155.8,36.3 156.7,38.7 157.6,44.2 158.5,41.7 159.4,37.9 160.3,42.1 161.2,38.1 162.1,42.0 162.9,40.4 163.8,42.3 164.7,49.0 165.6,44.4 166.5,43.3 167.4,45.2 168.3,40.2 169.2,39.1 170.1,42.0 171.0,39.3 171.9,41.7 172.8,46.7 173.7,43.5 174.5,41.5 175.4,42.5 176.3,40.3 177.2,38.3 178.1,40.1 179.0,43.0 179.9,43.8 180.8,44.7 181.7,44.6 182.6,45.6 183.5,47.6 184.4,45.1 185.2,43.9 186.1,45.6 187.0,41.1 187.9,41.7 188.8,46.9 189.7,43.8 190.6,39.6 191.5,41.0 192.4,40.3 193.3,38.6 194.2,38.6 195.1,37.6 196.0,37.6 196.8,37.4 197.7,35.6 198.6,34.5 199.5,35.8 200.4,39.2 201.3,45.6 202.2,44.4 203.1,46.8 204.0,53.5 204.9,52.8 205.8,54.5 206.7,54.1 207.5,48.0 208.4,42.5 209.3,42.3 210.2,44.4 211.1,40.8 212.0,37.8 212.9,42.2 213.8,46.8 214.7,45.3 215.6,47.6 216.5,53.9 217.4,53.1 218.3,54.9 219.1,58.3 220.0,55.0 220.9,51.1 221.8,51.3 222.7,52.2 223.6,53.7 224.5,57.6 225.4,61.2 226.3,62.5 227.2,54.9 228.1,53.3 229.0,57.6 229.8,56.8 230.7,58.3 231.6,62.4 232.5,58.3 233.4,52.0 234.3,49.3 235.2,47.2 236.1,44.8 237.0,42.1 237.9,42.1 238.8,44.2 239.7,47.5 240.6,46.3 241.4,49.0 242.3,51.1 243.2,50.2 244.1,50.4 244.1,99.7 86.2,99.7" fill="url(#ga6)"/>
<polygon points="242.1,104.9 244.1,99.7 244.1,50.4 242.1,54.8" fill="#38e8e8"/>
<polygon points="81.6,68.5 82.5,66.5 83.4,66.7 84.3,68.2 85.2,64.7 86.1,63.4 87.0,65.4 88.0,64.5 88.9,57.3 89.8,50.0 90.7,50.4 91.6,53.0 92.5,56.4 93.4,48.3 94.3,48.5 95.2,51.2 96.1,51.4 97.0,53.1 97.9,57.1 98.8,62.3 99.7,68.5 100.7,64.7 101.6,61.2 102.5,61.3 103.4,63.3 104.3,66.6 105.2,65.3 106.1,63.7 107.0,64.1 107.9,64.3 108.8,62.9 109.7,55.1 110.6,51.2 111.5,50.9 112.4,49.2 113.3,48.0 114.3,47.6 115.2,48.4 116.1,45.0 117.0,44.5 117.9,47.9 118.8,52.7 119.7,54.3 120.6,49.0 121.5,47.4 122.4,50.6 123.3,46.1 124.2,43.7 125.1,50.3 126.0,54.3 127.0,52.8 127.9,50.5 128.8,51.8 129.7,50.5 130.6,43.5 131.5,38.8 132.4,38.8 133.3,39.5 134.2,42.9 135.1,44.2 136.0,47.2 136.9,52.2 137.8,56.2 138.7,59.5 139.7,58.8 140.6,54.6 141.5,52.1 142.4,53.1 143.3,55.8 144.2,54.0 145.1,48.3 146.0,48.4 146.9,51.5 147.8,48.5 148.7,46.8 149.6,47.2 150.5,46.3 151.4,45.4 152.4,40.4 153.3,43.0 154.2,48.5 155.1,46.0 156.0,42.1 156.9,46.3 157.8,42.3 158.7,46.3 159.6,44.7 160.5,46.6 161.4,53.4 162.3,48.7 163.2,47.6 164.1,49.5 165.0,44.5 166.0,43.3 166.9,46.3 167.8,43.5 168.7,45.9 169.6,51.0 170.5,47.8 171.4,45.7 172.3,46.8 173.2,44.6 174.1,42.5 175.0,44.4 175.9,47.3 176.8,48.1 177.7,49.0 178.7,48.9 179.6,49.9 180.5,52.0 181.4,49.5 182.3,48.2 183.2,50.0 184.1,45.4 185.0,45.9 185.9,51.3 186.8,48.1 187.7,43.8 188.6,45.3 189.5,44.5 190.4,42.8 191.4,42.8 192.3,41.7 193.2,41.8 194.1,41.6 195.0,39.7 195.9,38.6 196.8,39.9 197.7,43.5 198.6,49.9 199.5,48.7 200.4,51.1 201.3,57.9 202.2,57.3 203.1,59.0 204.1,58.6 205.0,52.3 205.9,46.8 206.8,46.5 207.7,48.7 208.6,45.0 209.5,42.0 210.4,46.4 211.3,51.1 212.2,49.6 213.1,51.9 214.0,58.4 214.9,57.5 215.8,59.3 216.8,62.8 217.7,59.5 218.6,55.6 219.5,55.8 220.4,56.7 221.3,58.2 222.2,62.2 223.1,65.8 224.0,67.1 224.9,59.4 225.8,57.8 226.7,62.1 227.6,61.3 228.5,62.8 229.4,67.0 230.4,62.8 231.3,56.4 232.2,53.7 233.1,51.6 234.0,49.2 234.9,46.4 235.8,46.4 236.7,48.5 237.6,51.9 238.5,50.7 239.4,53.4 240.3,55.6 241.2,54.6 242.1,54.8 242.1,104.9 81.6,104.9" fill="url(#ga6)"/>
<polyline points="86.2,63.8 87.1,61.9 88.0,62.1 88.9,63.6 89.8,60.1 90.7,58.8 91.6,60.8 92.5,59.9 93.4,52.8 94.3,45.7 95.2,46.1 96.0,48.7 96.9,52.0 97.8,44.0 98.7,44.2 99.6,46.8 100.5,47.0 101.4,48.8 102.3,52.7 103.2,57.8 104.1,63.8 105.0,60.2 105.9,56.7 106.8,56.8 107.6,58.8 108.5,62.0 109.4,60.7 110.3,59.2 111.2,59.5 112.1,59.7 113.0,58.4 113.9,50.7 114.8,46.9 115.7,46.6 116.6,44.9 117.5,43.7 118.3,43.3 119.2,44.1 120.1,40.8 121.0,40.2 121.9,43.6 122.8,48.3 123.7,49.9 124.6,44.7 125.5,43.1 126.4,46.3 127.3,41.9 128.2,39.5 129.1,46.0 129.9,49.9 130.8,48.5 131.7,46.1 132.6,47.4 133.5,46.2 134.4,39.3 135.3,34.7 136.2,34.7 137.1,35.4 138.0,38.7 138.9,40.0 139.8,43.0 140.6,47.8 141.5,51.8 142.4,55.0 143.3,54.3 144.2,50.2 145.1,47.8 146.0,48.7 146.9,51.4 147.8,49.6 148.7,44.0 149.6,44.1 150.5,47.2 151.4,44.2 152.2,42.5 153.1,42.9 154.0,42.0 154.9,41.2 155.8,36.3 156.7,38.7 157.6,44.2 158.5,41.7 159.4,37.9 160.3,42.1 161.2,38.1 162.1,42.0 162.9,40.4 163.8,42.3 164.7,49.0 165.6,44.4 166.5,43.3 167.4,45.2 168.3,40.2 169.2,39.1 170.1,42.0 171.0,39.3 171.9,41.7 172.8,46.7 173.7,43.5 174.5,41.5 175.4,42.5 176.3,40.3 177.2,38.3 178.1,40.1 179.0,43.0 179.9,43.8 180.8,44.7 181.7,44.6 182.6,45.6 183.5,47.6 184.4,45.1 185.2,43.9 186.1,45.6 187.0,41.1 187.9,41.7 188.8,46.9 189.7,43.8 190.6,39.6 191.5,41.0 192.4,40.3 193.3,38.6 194.2,38.6 195.1,37.6 196.0,37.6 196.8,37.4 197.7,35.6 198.6,34.5 199.5,35.8 200.4,39.2 201.3,45.6 202.2,44.4 203.1,46.8 204.0,53.5 204.9,52.8 205.8,54.5 206.7,54.1 207.5,48.0 208.4,42.5 209.3,42.3 210.2,44.4 211.1,40.8 212.0,37.8 212.9,42.2 213.8,46.8 214.7,45.3 215.6,47.6 216.5,53.9 217.4,53.1 218.3,54.9 219.1,58.3 220.0,55.0 220.9,51.1 221.8,51.3 222.7,52.2 223.6,53.7 224.5,57.6 225.4,61.2 226.3,62.5 227.2,54.9 228.1,53.3 229.0,57.6 229.8,56.8 230.7,58.3 231.6,62.4 232.5,58.3 233.4,52.0 234.3,49.3 235.2,47.2 236.1,44.8 237.0,42.1 237.9,42.1 238.8,44.2 239.7,47.5 240.6,46.3 241.4,49.0 242.3,51.1 243.2,50.2 244.1,50.4" fill="none" stroke="#2060e8" stroke-width="0.6"/>
<path d="M85.2 64.6h2.0l-1.0 -2.0zM87.0 62.9h2.0l-1.0 -2.0zM88.8 60.9h2.0l-1.0 -2.0zM90.6 61.6h2.0l-1.0 -2.0zM92.4 53.6h2.0l-1.0 -2.0zM94.2 46.9h2.0l-1.0 -2.0zM95.9 52.8h2.0l-1.0 -2.0zM97.7 44.9h2.0l-1.0 -2.0zM99.5 47.8h2.0l-1.0 -2.0zM101.3 53.5h2.0l-1.0 -2.0zM103.1 64.6h2.0l-1.0 -2.0zM104.9 57.5h2.0l-1.0 -2.0zM106.6 59.6h2.0l-1.0 -2.0zM108.4 61.5h2.0l-1.0 -2.0zM110.2 60.3h2.0l-1.0 -2.0zM112.0 59.2h2.0l-1.0 -2.0zM113.8 47.7h2.0l-1.0 -2.0zM115.6 45.7h2.0l-1.0 -2.0zM117.4 44.1h2.0l-1.0 -2.0zM119.1 41.6h2.0l-1.0 -2.0zM120.9 44.4h2.0l-1.0 -2.0zM122.7 50.7h2.0l-1.0 -2.0zM124.5 43.9h2.0l-1.0 -2.0zM126.3 42.7h2.0l-1.0 -2.0zM128.1 46.8h2.0l-1.0 -2.0zM129.8 49.3h2.0l-1.0 -2.0zM131.6 48.2h2.0l-1.0 -2.0zM133.4 40.1h2.0l-1.0 -2.0zM135.2 35.5h2.0l-1.0 -2.0zM137.0 39.5h2.0l-1.0 -2.0zM138.8 43.8h2.0l-1.0 -2.0zM140.5 52.6h2.0l-1.0 -2.0zM142.3 55.1h2.0l-1.0 -2.0zM144.1 48.6h2.0l-1.0 -2.0zM145.9 52.2h2.0l-1.0 -2.0zM147.7 44.8h2.0l-1.0 -2.0zM149.5 48.0h2.0l-1.0 -2.0zM151.2 43.3h2.0l-1.0 -2.0zM153.0 42.8h2.0l-1.0 -2.0zM154.8 37.1h2.0l-1.0 -2.0zM156.6 45.0h2.0l-1.0 -2.0zM158.4 38.7h2.0l-1.0 -2.0zM160.2 38.9h2.0l-1.0 -2.0zM162.0 41.2h2.0l-1.0 -2.0zM163.7 49.8h2.0l-1.0 -2.0zM165.5 44.1h2.0l-1.0 -2.0zM167.3 41.0h2.0l-1.0 -2.0zM169.1 42.8h2.0l-1.0 -2.0zM170.9 42.5h2.0l-1.0 -2.0zM172.7 44.3h2.0l-1.0 -2.0zM174.4 43.3h2.0l-1.0 -2.0zM176.2 39.1h2.0l-1.0 -2.0zM178.0 43.8h2.0l-1.0 -2.0zM179.8 45.5h2.0l-1.0 -2.0zM181.6 46.4h2.0l-1.0 -2.0zM183.4 45.9h2.0l-1.0 -2.0zM185.1 46.4h2.0l-1.0 -2.0zM186.9 42.5h2.0l-1.0 -2.0zM188.7 44.6h2.0l-1.0 -2.0zM190.5 41.8h2.0l-1.0 -2.0zM192.3 39.4h2.0l-1.0 -2.0zM194.1 38.3h2.0l-1.0 -2.0zM195.8 38.2h2.0l-1.0 -2.0zM197.6 35.3h2.0l-1.0 -2.0zM199.4 40.0h2.0l-1.0 -2.0zM201.2 45.2h2.0l-1.0 -2.0zM203.0 54.3h2.0l-1.0 -2.0zM204.8 55.3h2.0l-1.0 -2.0zM206.5 48.8h2.0l-1.0 -2.0zM208.3 43.1h2.0l-1.0 -2.0zM210.1 41.6h2.0l-1.0 -2.0zM211.9 43.0h2.0l-1.0 -2.0zM213.7 46.1h2.0l-1.0 -2.0zM215.5 54.7h2.0l-1.0 -2.0zM217.3 55.7h2.0l-1.0 -2.0zM219.0 55.8h2.0l-1.0 -2.0zM220.8 52.1h2.0l-1.0 -2.0zM222.6 54.5h2.0l-1.0 -2.0zM224.4 62.0h2.0l-1.0 -2.0zM226.2 55.7h2.0l-1.0 -2.0zM228.0 58.4h2.0l-1.0 -2.0zM229.7 59.1h2.0l-1.0 -2.0zM231.5 59.1h2.0l-1.0 -2.0zM233.3 50.1h2.0l-1.0 -2.0zM235.1 45.6h2.0l-1.0 -2.0zM236.9 42.9h2.0l-1.0 -2.0zM238.7 48.3h2.0l-1.0 -2.0zM240.4 49.8h2.0l-1.0 -2.0zM242.2 51.0h2.0l-1.0 -2.0z" fill="#2060e8"/>
<polygon points="79.6,69.3 80.5,67.6 81.4,67.7 82.3,69.5 83.2,65.8 84.1,63.5 85.1,65.4 86.0,65.9 86.9,59.1 87.8,51.4 88.7,51.1 89.6,53.9 90.5,53.8 91.4,50.4 92.4,48.9 93.3,52.1 94.2,53.7 95.1,55.2 96.0,58.5 96.9,63.3 97.8,69.3 98.8,67.5 99.7,63.0 100.6,62.2 101.5,65.7 102.4,68.7 103.3,67.5 104.2,66.4 105.2,65.1 106.1,66.4 107.0,66.8 107.9,57.7 108.8,52.7 109.7,53.5 110.6,52.3 111.5,50.6 112.5,50.3 113.4,51.3 114.3,48.5 115.2,48.1 116.1,50.5 117.0,55.2 117.9,57.4 118.9,52.7 119.8,51.0 120.7,53.1 121.6,49.1 122.5,47.2 123.4,54.0 124.3,57.7 125.3,56.0 126.2,53.5 127.1,55.1 128.0,53.7 128.9,46.7 129.8,41.9 130.7,41.7 131.6,42.5 132.6,46.0 133.5,47.2 134.4,50.1 135.3,55.1 136.2,59.3 137.1,61.4 138.0,60.6 139.0,57.8 139.9,54.6 140.8,54.4 141.7,57.4 142.6,55.1 143.5,49.7 144.4,49.7 145.4,61.1 146.3,49.4 147.2,47.5 148.1,47.5 149.0,46.5 149.9,46.2 150.8,42.2 151.7,43.2 152.7,47.1 153.6,46.3 154.5,43.6 155.4,40.9 156.3,42.2 157.2,46.0 158.1,46.4 159.1,47.8 160.0,53.3 160.9,49.1 161.8,48.9 162.7,51.8 163.6,45.5 164.5,43.1 165.5,46.5 166.4,45.0 167.3,47.2 168.2,51.1 169.1,48.2 170.0,46.8 170.9,48.1 171.8,46.0 172.8,42.5 173.7,44.8 174.6,49.1 175.5,49.0 176.4,48.4 177.3,49.1 178.2,51.5 179.2,54.4 180.1,49.7 181.0,48.2 181.9,51.2 182.8,46.6 183.7,46.4 184.6,51.2 185.5,48.9 186.5,44.9 187.4,44.9 188.3,44.5 189.2,43.1 190.1,42.8 191.0,41.5 191.9,41.3 192.9,42.0 193.8,40.2 194.7,37.9 195.6,38.8 196.5,43.7 197.4,50.3 198.3,47.5 199.3,50.2 200.2,67.1 201.1,58.3 202.0,58.8 202.9,57.7 203.8,52.4 204.7,47.4 205.6,45.6 206.6,48.4 207.5,46.5 208.4,42.1 209.3,46.2 210.2,51.5 211.1,50.0 212.0,52.4 213.0,59.2 213.9,58.4 214.8,60.4 215.7,64.1 216.6,60.4 217.5,57.4 218.4,57.4 219.4,57.4 220.3,60.5 221.2,65.6 222.1,67.3 223.0,68.6 223.9,62.8 224.8,61.0 225.7,63.9 226.7,63.8 227.6,67.2 228.5,70.6 229.4,65.0 230.3,57.9 231.2,57.0 232.1,55.5 233.1,50.9 234.0,49.0 234.9,50.0 235.8,50.4 236.7,53.6 237.6,53.1 238.5,55.7 239.5,57.7 240.4,56.5 241.3,56.6 241.3,107.2 79.6,107.2" fill="url(#ga5)"/>
<polygon points="239.2,112.7 241.3,107.2 241.3,56.6 239.2,61.2" fill="#e8f870"/>
<polygon points="74.7,74.1 75.6,72.4 76.6,72.6 77.5,74.4 78.4,70.6 79.4,68.2 80.3,70.2 81.2,70.7 82.1,63.8 83.1,56.0 84.0,55.7 84.9,58.4 85.9,58.3 86.8,54.9 87.7,53.4 88.6,56.7 89.6,58.3 90.5,59.8 91.4,63.1 92.4,68.0 93.3,74.1 94.2,72.3 95.2,67.8 96.1,66.9 97.0,70.4 97.9,73.5 98.9,72.3 99.8,71.2 100.7,69.9 101.7,71.1 102.6,71.6 103.5,62.3 104.4,57.2 105.4,58.0 106.3,56.8 107.2,55.1 108.2,54.8 109.1,55.8 110.0,53.0 111.0,52.6 111.9,55.0 112.8,59.8 113.7,62.0 114.7,57.3 115.6,55.6 116.5,57.6 117.5,53.6 118.4,51.6 119.3,58.5 120.2,62.4 121.2,60.6 122.1,58.1 123.0,59.7 124.0,58.3 124.9,51.2 125.8,46.3 126.8,46.1 127.7,46.9 128.6,50.5 129.5,51.7 130.5,54.6 131.4,59.7 132.3,63.9 133.3,66.1 134.2,65.3 135.1,62.4 136.0,59.2 137.0,59.0 137.9,62.1 138.8,59.7 139.8,54.2 140.7,54.2 141.6,65.8 142.6,53.9 143.5,52.0 144.4,51.9 145.3,50.9 146.3,50.7 147.2,46.6 148.1,47.6 149.1,51.6 150.0,50.7 150.9,48.0 151.8,45.3 152.8,46.5 153.7,50.5 154.6,50.8 155.6,52.3 156.5,57.8 157.4,53.6 158.4,53.4 159.3,56.4 160.2,49.9 161.1,47.5 162.1,51.0 163.0,49.4 163.9,51.7 164.9,55.7 165.8,52.7 166.7,51.2 167.6,52.6 168.6,50.4 169.5,46.9 170.4,49.2 171.4,53.6 172.3,53.5 173.2,52.8 174.2,53.6 175.1,56.0 176.0,59.0 176.9,54.2 177.9,52.7 178.8,55.7 179.7,51.1 180.7,50.8 181.6,55.7 182.5,53.4 183.4,49.3 184.4,49.3 185.3,48.9 186.2,47.5 187.2,47.2 188.1,45.8 189.0,45.7 190.0,46.4 190.9,44.5 191.8,42.2 192.7,43.1 193.7,48.1 194.6,54.8 195.5,51.9 196.5,54.7 197.4,71.9 198.3,63.0 199.2,63.4 200.2,62.3 201.1,57.0 202.0,51.9 203.0,50.1 203.9,52.9 204.8,50.9 205.8,46.5 206.7,50.6 207.6,56.1 208.5,54.5 209.5,57.0 210.4,63.8 211.3,63.0 212.3,65.1 213.2,68.8 214.1,65.1 215.0,62.1 216.0,62.0 216.9,62.0 217.8,65.2 218.8,70.4 219.7,72.1 220.6,73.4 221.6,67.5 222.5,65.7 223.4,68.6 224.3,68.5 225.3,72.0 226.2,75.5 227.1,69.8 228.1,62.6 229.0,61.6 229.9,60.1 230.8,55.4 231.8,53.5 232.7,54.5 233.6,54.9 234.6,58.2 235.5,57.7 236.4,60.3 237.4,62.3 238.3,61.1 239.2,61.2 239.2,112.7 74.7,112.7" fill="url(#ga5)"/>
<polyline points="79.6,69.3 80.5,67.6 81.4,67.7 82.3,69.5 83.2,65.8 84.1,63.5 85.1,65.4 86.0,65.9 86.9,59.1 87.8,51.4 88.7,51.1 89.6,53.9 90.5,53.8 91.4,50.4 92.4,48.9 93.3,52.1 94.2,53.7 95.1,55.2 96.0,58.5 96.9,63.3 97.8,69.3 98.8,67.5 99.7,63.0 100.6,62.2 101.5,65.7 102.4,68.7 103.3,67.5 104.2,66.4 105.2,65.1 106.1,66.4 107.0,66.8 107.9,57.7 108.8,52.7 109.7,53.5 110.6,52.3 111.5,50.6 112.5,50.3 113.4,51.3 114.3,48.5 115.2,48.1 116.1,50.5 117.0,55.2 117.9,57.4 118.9,52.7 119.8,51.0 120.7,53.1 121.6,49.1 122.5,47.2 123.4,54.0 124.3,57.7 125.3,56.0 126.2,53.5 127.1,55.1 128.0,53.7 128.9,46.7 129.8,41.9 130.7,41.7 131.6,42.5 132.6,46.0 133.5,47.2 134.4,50.1 135.3,55.1 136.2,59.3 137.1,61.4 138.0,60.6 139.0,57.8 139.9,54.6 140.8,54.4 141.7,57.4 142.6,55.1 143.5,49.7 144.4,49.7 145.4,61.1 146.3,49.4 147.2,47.5 148.1,47.5 149.0,46.5 149.9,46.2 150.8,42.2 151.7,43.2 152.7,47.1 153.6,46.3 154.5,43.6 155.4,40.9 156.3,42.2 157.2,46.0 158.1,46.4 159.1,47.8 160.0,53.3 160.9,49.1 161.8,48.9 162.7,51.8 163.6,45.5 164.5,43.1 165.5,46.5 166.4,45.0 167.3,47.2 168.2,51.1 169.1,48.2 170.0,46.8 170.9,48.1 171.8,46.0 172.8,42.5 173.7,44.8 174.6,49.1 175.5,49.0 176.4,48.4 177.3,49.1 178.2,51.5 179.2,54.4 180.1,49.7 181.0,48.2 181.9,51.2 182.8,46.6 183.7,46.4 184.6,51.2 185.5,48.9 186.5,44.9 187.4,44.9 188.3,44.5 189.2,43.1 190.1,42.8 191.0,41.5 191.9,41.3 192.9,42.0 193.8,40.2 194.7,37.9 195.6,38.8 196.5,43.7 197.4,50.3 198.3,47.5 199.3,50.2 200.2,67.1 201.1,58.3 202.0,58.8 202.9,57.7 203.8,52.4 204.7,47.4 205.6,45.6 206.6,48.4 207.5,46.5 208.4,42.1 209.3,46.2 210.2,51.5 211.1,50.0 212.0,52.4 213.0,59.2 213.9,58.4 214.8,60.4 215.7,64.1 216.6,60.4 217.5,57.4 218.4,57.4 219.4,57.4 220.3,60.5 221.2,65.6 222.1,67.3 223.0,68.6 223.9,62.8 224.8,61.0 225.7,63.9 226.7,63.8 227.6,67.2 228.5,70.6 229.4,65.0 230.3,57.9 231.2,57.0 232.1,55.5 233.1,50.9 234.0,49.0 234.9,50.0 235.8,50.4 236.7,53.6 237.6,53.1 238.5,55.7 239.5,57.7 240.4,56.5 241.3,56.6" fill="none" stroke="#30c030" stroke-width="0.6"/>
<path d="M78.5 70.1h2.0l-1.0 -2.0zM80.4 68.6h2.0l-1.0 -2.0zM82.2 66.6h2.0l-1.0 -2.0zM84.0 66.2h2.0l-1.0 -2.0zM85.9 59.9h2.0l-1.0 -2.0zM87.7 52.0h2.0l-1.0 -2.0zM89.5 54.6h2.0l-1.0 -2.0zM91.3 49.7h2.0l-1.0 -2.0zM93.2 54.5h2.0l-1.0 -2.0zM95.0 59.3h2.0l-1.0 -2.0zM96.8 70.1h2.0l-1.0 -2.0zM98.6 63.9h2.0l-1.0 -2.0zM100.5 66.5h2.0l-1.0 -2.0zM102.3 68.3h2.0l-1.0 -2.0zM104.1 65.9h2.0l-1.0 -2.0zM106.0 67.6h2.0l-1.0 -2.0zM107.8 53.5h2.0l-1.0 -2.0zM109.6 53.1h2.0l-1.0 -2.0zM111.4 51.1h2.0l-1.0 -2.0zM113.3 49.4h2.0l-1.0 -2.0zM115.1 51.3h2.0l-1.0 -2.0zM116.9 58.2h2.0l-1.0 -2.0zM118.7 51.8h2.0l-1.0 -2.0zM120.6 49.9h2.0l-1.0 -2.0zM122.4 54.8h2.0l-1.0 -2.0zM124.2 56.8h2.0l-1.0 -2.0zM126.1 56.0h2.0l-1.0 -2.0zM127.9 47.5h2.0l-1.0 -2.0zM129.7 42.5h2.0l-1.0 -2.0zM131.5 46.8h2.0l-1.0 -2.0zM133.4 50.9h2.0l-1.0 -2.0zM135.2 60.1h2.0l-1.0 -2.0zM137.0 61.4h2.0l-1.0 -2.0zM138.8 55.4h2.0l-1.0 -2.0zM140.7 58.2h2.0l-1.0 -2.0zM142.5 50.5h2.0l-1.0 -2.0zM144.3 61.9h2.0l-1.0 -2.0zM146.2 48.3h2.0l-1.0 -2.0zM148.0 47.3h2.0l-1.0 -2.0zM149.8 43.0h2.0l-1.0 -2.0zM151.6 48.0h2.0l-1.0 -2.0zM153.5 44.4h2.0l-1.0 -2.0zM155.3 43.0h2.0l-1.0 -2.0zM157.1 47.2h2.0l-1.0 -2.0zM158.9 54.1h2.0l-1.0 -2.0zM160.8 49.8h2.0l-1.0 -2.0zM162.6 46.3h2.0l-1.0 -2.0zM164.4 47.4h2.0l-1.0 -2.0zM166.3 48.1h2.0l-1.0 -2.0zM168.1 49.0h2.0l-1.0 -2.0zM169.9 49.0h2.0l-1.0 -2.0zM171.7 43.3h2.0l-1.0 -2.0zM173.6 49.9h2.0l-1.0 -2.0zM175.4 49.2h2.0l-1.0 -2.0zM177.2 52.3h2.0l-1.0 -2.0zM179.0 50.5h2.0l-1.0 -2.0zM180.9 52.0h2.0l-1.0 -2.0zM182.7 47.2h2.0l-1.0 -2.0zM184.5 49.7h2.0l-1.0 -2.0zM186.4 45.7h2.0l-1.0 -2.0zM188.2 44.0h2.0l-1.0 -2.0zM190.0 42.3h2.0l-1.0 -2.0zM191.8 42.8h2.0l-1.0 -2.0zM193.7 38.7h2.0l-1.0 -2.0zM195.5 44.5h2.0l-1.0 -2.0zM197.3 48.3h2.0l-1.0 -2.0zM199.1 67.9h2.0l-1.0 -2.0zM201.0 59.6h2.0l-1.0 -2.0zM202.8 53.2h2.0l-1.0 -2.0zM204.6 46.4h2.0l-1.0 -2.0zM206.5 47.3h2.0l-1.0 -2.0zM208.3 47.0h2.0l-1.0 -2.0zM210.1 50.8h2.0l-1.0 -2.0zM211.9 60.0h2.0l-1.0 -2.0zM213.8 61.2h2.0l-1.0 -2.0zM215.6 61.2h2.0l-1.0 -2.0zM217.4 58.2h2.0l-1.0 -2.0zM219.2 61.3h2.0l-1.0 -2.0zM221.1 68.1h2.0l-1.0 -2.0zM222.9 63.6h2.0l-1.0 -2.0zM224.7 64.7h2.0l-1.0 -2.0zM226.6 68.0h2.0l-1.0 -2.0zM228.4 65.8h2.0l-1.0 -2.0zM230.2 57.8h2.0l-1.0 -2.0zM232.0 51.7h2.0l-1.0 -2.0zM233.9 50.8h2.0l-1.0 -2.0zM235.7 54.5h2.0l-1.0 -2.0zM237.5 56.5h2.0l-1.0 -2.0zM239.3 57.3h2.0l-1.0 -2.0z" fill="#30c030"/>
<polygon points="72.6,76.0 73.5,73.9 74.4,73.1 75.4,74.4 76.3,72.2 77.2,76.3 78.2,70.1 79.1,70.7 80.1,64.9 81.0,56.7 81.9,55.5 82.9,57.9 83.8,57.5 84.7,55.8 85.7,54.7 86.6,56.3 87.5,57.0 88.5,60.0 89.4,64.8 90.4,68.8 91.3,74.2 92.2,72.9 93.2,68.8 94.1,67.2 95.0,69.9 96.0,74.5 96.9,74.1 97.8,71.3 98.8,70.2 99.7,71.5 100.7,71.8 101.6,63.4 102.5,57.9 103.5,58.7 104.4,57.6 105.3,54.9 106.3,54.9 107.2,56.6 108.1,53.4 109.1,52.7 110.0,55.0 111.0,59.8 111.9,62.6 112.8,58.0 113.8,54.9 114.7,56.7 115.6,53.9 116.6,52.2 117.5,57.3 118.4,61.1 119.4,60.8 120.3,64.7 121.3,59.1 122.2,56.5 123.1,50.8 124.1,46.8 125.0,44.4 125.9,45.9 126.9,51.0 127.8,51.7 128.7,53.4 129.7,57.6 130.6,63.5 131.6,67.1 132.5,64.8 133.4,60.3 134.4,58.7 135.3,59.9 136.2,61.7 137.2,58.5 138.1,53.7 139.0,54.1 140.0,57.0 140.9,53.8 141.9,50.9 142.8,51.0 143.7,51.3 144.7,50.2 145.6,45.0 146.5,47.7 147.5,51.9 148.4,49.3 149.3,46.8 150.3,45.6 151.2,46.5 152.2,49.1 153.1,48.8 154.0,51.7 155.0,58.8 155.9,53.1 156.8,52.5 157.8,55.8 158.7,49.2 159.6,47.8 160.6,52.7 161.5,49.5 162.5,50.9 163.4,55.3 164.3,53.6 165.3,52.7 166.2,53.2 167.1,49.7 168.1,53.1 169.0,55.6 169.9,54.0 170.9,53.7 171.8,53.6 172.8,55.5 173.7,56.3 174.6,57.4 175.6,54.9 176.5,54.3 177.4,55.6 178.4,50.4 179.3,51.3 180.2,57.1 181.2,53.2 182.1,48.7 183.1,50.3 184.0,55.9 184.9,46.6 185.9,46.0 186.8,46.2 187.7,46.3 188.7,45.3 189.6,42.4 190.5,41.4 191.5,43.7 192.4,46.9 193.4,52.3 194.3,50.7 195.2,54.7 196.2,61.9 197.1,60.7 198.0,61.5 199.0,61.4 199.9,56.2 200.8,49.4 201.8,48.2 202.7,51.9 203.7,48.1 204.6,44.4 205.5,49.1 206.5,54.7 207.4,52.4 208.3,54.9 209.3,61.7 210.2,61.1 211.1,70.7 212.1,67.0 213.0,63.8 214.0,59.8 214.9,60.1 215.8,61.1 216.8,63.3 217.7,67.0 218.6,70.4 219.6,73.9 220.5,65.6 221.4,63.2 222.4,68.3 223.3,67.3 224.3,77.4 225.2,74.2 226.1,70.3 227.1,62.2 228.0,59.7 228.9,58.5 229.9,55.7 230.8,58.1 231.7,52.7 232.7,54.6 233.6,59.9 234.6,57.2 235.5,59.2 236.4,62.9 237.4,61.8 238.3,61.4 238.3,115.1 72.6,115.1" fill="url(#ga4)"/>
<polygon points="236.1,120.9 238.3,115.1 238.3,61.4 236.1,66.2" fill="#f8f060"/>
<polygon points="67.5,81.1 68.4,79.0 69.4,78.1 70.3,79.5 71.3,77.2 72.2,81.4 73.2,75.1 74.1,75.6 75.1,69.8 76.0,61.4 77.0,60.2 77.9,62.6 78.9,62.3 79.8,60.5 80.8,59.4 81.8,61.0 82.7,61.8 83.7,64.8 84.6,69.7 85.6,73.7 86.5,79.3 87.5,78.0 88.4,73.7 89.4,72.2 90.3,74.9 91.3,79.6 92.2,79.1 93.2,76.3 94.1,75.2 95.1,76.5 96.0,76.8 97.0,68.2 98.0,62.6 98.9,63.4 99.9,62.3 100.8,59.6 101.8,59.6 102.7,61.3 103.7,58.1 104.6,57.3 105.6,59.8 106.5,64.6 107.5,67.5 108.4,62.7 109.4,59.6 110.3,61.4 111.3,58.6 112.2,56.8 113.2,62.0 114.2,65.9 115.1,65.6 116.1,69.6 117.0,63.9 118.0,61.2 118.9,55.5 119.9,51.3 120.8,48.9 121.8,50.4 122.7,55.6 123.7,56.3 124.6,58.1 125.6,62.4 126.5,68.4 127.5,72.1 128.4,69.6 129.4,65.2 130.4,63.4 131.3,64.7 132.3,66.5 133.2,63.3 134.2,58.4 135.1,58.8 136.1,61.8 137.0,58.5 138.0,55.5 138.9,55.6 139.9,55.9 140.8,54.8 141.8,49.5 142.7,52.3 143.7,56.6 144.6,54.0 145.6,51.3 146.6,50.1 147.5,51.1 148.5,53.7 149.4,53.4 150.4,56.3 151.3,63.6 152.3,57.8 153.2,57.2 154.2,60.5 155.1,53.8 156.1,52.3 157.0,57.4 158.0,54.1 158.9,55.5 159.9,60.0 160.8,58.3 161.8,57.4 162.8,57.9 163.7,54.3 164.7,57.7 165.6,60.4 166.6,58.7 167.5,58.4 168.5,58.3 169.4,60.3 170.4,61.1 171.3,62.1 172.3,59.6 173.2,59.0 174.2,60.3 175.1,55.0 176.1,56.0 177.0,61.8 178.0,57.9 179.0,53.3 179.9,54.9 180.9,60.6 181.8,51.2 182.8,50.5 183.7,50.8 184.7,50.9 185.6,49.9 186.6,46.9 187.5,45.9 188.5,48.2 189.4,51.5 190.4,57.0 191.3,55.3 192.3,59.4 193.2,66.8 194.2,65.5 195.2,66.4 196.1,66.3 197.1,61.0 198.0,54.0 199.0,52.8 199.9,56.6 200.9,52.7 201.8,48.9 202.8,53.7 203.7,59.4 204.7,57.1 205.6,59.7 206.6,66.5 207.5,66.0 208.5,75.7 209.4,71.9 210.4,68.6 211.4,64.6 212.3,64.9 213.3,65.9 214.2,68.2 215.2,71.9 216.1,75.4 217.1,79.0 218.0,70.5 219.0,68.1 219.9,73.3 220.9,72.3 221.8,82.5 222.8,79.2 223.7,75.3 224.7,67.1 225.6,64.5 226.6,63.3 227.6,60.4 228.5,62.8 229.5,57.3 230.4,59.3 231.4,64.7 232.3,62.0 233.3,64.0 234.2,67.7 235.2,66.6 236.1,66.2 236.1,120.9 67.5,120.9" fill="url(#ga4)"/>
<polyline points="72.6,76.0 73.5,73.9 74.4,73.1 75.4,74.4 76.3,72.2 77.2,76.3 78.2,70.1 79.1,70.7 80.1,64.9 81.0,56.7 81.9,55.5 82.9,57.9 83.8,57.5 84.7,55.8 85.7,54.7 86.6,56.3 87.5,57.0 88.5,60.0 89.4,64.8 90.4,68.8 91.3,74.2 92.2,72.9 93.2,68.8 94.1,67.2 95.0,69.9 96.0,74.5 96.9,74.1 97.8,71.3 98.8,70.2 99.7,71.5 100.7,71.8 101.6,63.4 102.5,57.9 103.5,58.7 104.4,57.6 105.3,54.9 106.3,54.9 107.2,56.6 108.1,53.4 109.1,52.7 110.0,55.0 111.0,59.8 111.9,62.6 112.8,58.0 113.8,54.9 114.7,56.7 115.6,53.9 116.6,52.2 117.5,57.3 118.4,61.1 119.4,60.8 120.3,64.7 121.3,59.1 122.2,56.5 123.1,50.8 124.1,46.8 125.0,44.4 125.9,45.9 126.9,51.0 127.8,51.7 128.7,53.4 129.7,57.6 130.6,63.5 131.6,67.1 132.5,64.8 133.4,60.3 134.4,58.7 135.3,59.9 136.2,61.7 137.2,58.5 138.1,53.7 139.0,54.1 140.0,57.0 140.9,53.8 141.9,50.9 142.8,51.0 143.7,51.3 144.7,50.2 145.6,45.0 146.5,47.7 147.5,51.9 148.4,49.3 149.3,46.8 150.3,45.6 151.2,46.5 152.2,49.1 153.1,48.8 154.0,51.7 155.0,58.8 155.9,53.1 156.8,52.5 157.8,55.8 158.7,49.2 159.6,47.8 160.6,52.7 161.5,49.5 162.5,50.9 163.4,55.3 164.3,53.6 165.3,52.7 166.2,53.2 167.1,49.7 168.1,53.1 169.0,55.6 169.9,54.0 170.9,53.7 171.8,53.6 172.8,55.5 173.7,56.3 174.6,57.4 175.6,54.9 176.5,54.3 177.4,55.6 178.4,50.4 179.3,51.3 180.2,57.1 181.2,53.2 182.1,48.7 183.1,50.3 184.0,55.9 184.9,46.6 185.9,46.0 186.8,46.2 187.7,46.3 188.7,45.3 189.6,42.4 190.5,41.4 191.5,43.7 192.4,46.9 193.4,52.3 194.3,50.7 195.2,54.7 196.2,61.9 197.1,60.7 198.0,61.5 199.0,61.4 199.9,56.2 200.8,49.4 201.8,48.2 202.7,51.9 203.7,48.1 204.6,44.4 205.5,49.1 206.5,54.7 207.4,52.4 208.3,54.9 209.3,61.7 210.2,61.1 211.1,70.7 212.1,67.0 213.0,63.8 214.0,59.8 214.9,60.1 215.8,61.1 216.8,63.3 217.7,67.0 218.6,70.4 219.6,73.9 220.5,65.6 221.4,63.2 222.4,68.3 223.3,67.3 224.3,77.4 225.2,74.2 226.1,70.3 227.1,62.2 228.0,59.7 228.9,58.5 229.9,55.7 230.8,58.1 231.7,52.7 232.7,54.6 233.6,59.9 234.6,57.2 235.5,59.2 236.4,62.9 237.4,61.8 238.3,61.4" fill="none" stroke="#30b830" stroke-width="0.6"/>
<path d="M71.5 76.8h2.1l-1.0 -2.1zM73.4 73.9h2.1l-1.0 -2.1zM75.3 73.0h2.1l-1.0 -2.1zM77.1 71.0h2.1l-1.0 -2.1zM79.0 65.8h2.1l-1.0 -2.1zM80.9 56.4h2.1l-1.0 -2.1zM82.8 58.3h2.1l-1.0 -2.1zM84.6 55.5h2.1l-1.0 -2.1zM86.5 57.8h2.1l-1.0 -2.1zM88.4 65.6h2.1l-1.0 -2.1zM90.2 75.1h2.1l-1.0 -2.1zM92.1 69.6h2.1l-1.0 -2.1zM94.0 70.8h2.1l-1.0 -2.1zM95.9 74.9h2.1l-1.0 -2.1zM97.7 71.0h2.1l-1.0 -2.1zM99.6 72.6h2.1l-1.0 -2.1zM101.5 58.7h2.1l-1.0 -2.1zM103.4 58.4h2.1l-1.0 -2.1zM105.2 55.8h2.1l-1.0 -2.1zM107.1 54.3h2.1l-1.0 -2.1zM109.0 55.9h2.1l-1.0 -2.1zM110.8 63.5h2.1l-1.0 -2.1zM112.7 55.8h2.1l-1.0 -2.1zM114.6 54.7h2.1l-1.0 -2.1zM116.5 58.1h2.1l-1.0 -2.1zM118.3 61.6h2.1l-1.0 -2.1zM120.2 60.0h2.1l-1.0 -2.1zM122.1 51.7h2.1l-1.0 -2.1zM124.0 45.2h2.1l-1.0 -2.1zM125.8 51.8h2.1l-1.0 -2.1zM127.7 54.2h2.1l-1.0 -2.1zM129.6 64.3h2.1l-1.0 -2.1zM131.4 65.6h2.1l-1.0 -2.1zM133.3 59.5h2.1l-1.0 -2.1zM135.2 62.5h2.1l-1.0 -2.1zM137.1 54.5h2.1l-1.0 -2.1zM138.9 57.8h2.1l-1.0 -2.1zM140.8 51.7h2.1l-1.0 -2.1zM142.7 52.1h2.1l-1.0 -2.1zM144.6 45.8h2.1l-1.0 -2.1zM146.4 52.7h2.1l-1.0 -2.1zM148.3 47.6h2.1l-1.0 -2.1zM150.2 47.3h2.1l-1.0 -2.1zM152.0 49.6h2.1l-1.0 -2.1zM153.9 59.6h2.1l-1.0 -2.1zM155.8 53.4h2.1l-1.0 -2.1zM157.7 50.0h2.1l-1.0 -2.1zM159.5 53.5h2.1l-1.0 -2.1zM161.4 51.7h2.1l-1.0 -2.1zM163.3 54.5h2.1l-1.0 -2.1zM165.2 54.1h2.1l-1.0 -2.1zM167.0 53.9h2.1l-1.0 -2.1zM168.9 54.9h2.1l-1.0 -2.1zM170.8 54.5h2.1l-1.0 -2.1zM172.6 57.2h2.1l-1.0 -2.1zM174.5 55.8h2.1l-1.0 -2.1zM176.4 56.4h2.1l-1.0 -2.1zM178.3 52.2h2.1l-1.0 -2.1zM180.1 54.1h2.1l-1.0 -2.1zM182.0 51.1h2.1l-1.0 -2.1zM183.9 47.4h2.1l-1.0 -2.1zM185.8 47.0h2.1l-1.0 -2.1zM187.6 46.2h2.1l-1.0 -2.1zM189.5 42.2h2.1l-1.0 -2.1zM191.4 47.8h2.1l-1.0 -2.1zM193.2 51.5h2.1l-1.0 -2.1zM195.1 62.8h2.1l-1.0 -2.1zM197.0 62.4h2.1l-1.0 -2.1zM198.9 57.1h2.1l-1.0 -2.1zM200.7 49.1h2.1l-1.0 -2.1zM202.6 48.9h2.1l-1.0 -2.1zM204.5 49.9h2.1l-1.0 -2.1zM206.4 53.3h2.1l-1.0 -2.1zM208.2 62.5h2.1l-1.0 -2.1zM210.1 71.6h2.1l-1.0 -2.1zM212.0 64.6h2.1l-1.0 -2.1zM213.8 61.0h2.1l-1.0 -2.1zM215.7 64.2h2.1l-1.0 -2.1zM217.6 71.3h2.1l-1.0 -2.1zM219.5 66.4h2.1l-1.0 -2.1zM221.3 69.1h2.1l-1.0 -2.1zM223.2 78.2h2.1l-1.0 -2.1zM225.1 71.1h2.1l-1.0 -2.1zM227.0 60.5h2.1l-1.0 -2.1zM228.8 56.5h2.1l-1.0 -2.1zM230.7 53.5h2.1l-1.0 -2.1zM232.6 60.8h2.1l-1.0 -2.1zM234.4 60.0h2.1l-1.0 -2.1zM236.3 62.6h2.1l-1.0 -2.1z" fill="#30b830"/>
<polygon points="65.2,83.2 66.2,81.2 67.1,80.5 68.1,81.9 69.1,79.9 70.0,77.5 71.0,77.2 71.9,78.0 72.9,72.0 73.9,63.1 74.8,62.7 75.8,66.2 76.7,64.2 77.7,68.0 78.7,60.6 79.6,63.7 80.6,65.3 81.5,67.0 82.5,70.7 83.5,76.0 84.4,82.7 85.4,81.5 86.3,77.2 87.3,75.6 88.3,79.6 89.2,84.6 90.2,83.2 91.1,81.0 92.1,80.9 93.1,82.9 94.0,83.4 95.0,73.8 95.9,68.6 96.9,70.4 97.9,69.4 98.8,66.5 99.8,67.2 100.7,70.0 101.7,65.8 102.7,64.6 103.6,68.9 104.6,74.1 105.5,75.8 106.5,71.1 107.5,69.7 108.4,71.9 109.4,67.7 110.3,65.1 111.3,71.8 112.3,76.9 113.2,75.3 114.2,72.2 115.1,72.9 116.1,71.4 117.1,65.3 118.0,59.3 119.0,57.0 119.9,59.2 120.9,64.4 121.9,64.1 122.8,66.2 123.8,71.6 124.7,76.0 125.7,78.3 126.7,77.1 127.6,73.9 128.6,70.2 129.5,70.9 130.5,74.1 131.5,70.5 132.4,71.7 133.4,64.8 134.3,67.5 135.3,65.7 136.3,63.3 137.2,61.9 138.2,61.6 139.1,61.8 140.1,56.9 141.1,58.0 142.0,63.0 143.0,61.8 144.0,57.9 144.9,55.0 145.9,57.3 146.8,61.7 147.8,60.6 148.8,62.0 149.7,68.4 150.7,64.7 151.6,64.6 152.6,66.0 153.6,63.6 154.5,58.9 155.5,63.6 156.4,59.9 157.4,62.2 158.4,67.7 159.3,68.3 160.3,62.9 161.2,64.8 162.2,60.9 163.2,58.5 164.1,61.9 165.1,64.3 166.0,64.8 167.0,65.5 168.0,65.8 168.9,67.2 169.9,69.4 170.8,66.3 171.8,65.1 172.8,66.8 173.7,62.4 174.7,63.3 175.6,67.6 176.6,64.8 177.6,61.2 178.5,61.2 179.5,60.6 180.4,58.7 181.4,57.8 182.4,58.2 183.3,58.0 184.3,56.6 185.2,54.6 186.2,53.8 187.2,54.8 188.1,58.3 189.1,64.5 190.0,62.7 191.0,66.5 192.0,74.0 192.9,72.7 193.9,73.6 194.8,73.4 195.8,67.7 196.8,61.1 197.7,59.9 198.7,63.8 199.6,59.7 200.6,55.6 201.6,59.7 202.5,65.1 203.5,64.8 204.4,66.4 205.4,71.5 206.4,71.4 207.3,75.0 208.3,78.2 209.2,73.4 210.2,70.1 211.2,70.4 212.1,70.7 213.1,74.5 214.0,78.0 215.0,80.1 216.0,82.5 216.9,76.1 217.9,74.1 218.8,77.1 219.8,76.2 220.8,79.3 221.7,84.2 222.7,78.4 223.7,70.9 224.6,70.1 225.6,67.2 226.5,62.9 227.5,60.9 228.5,61.4 229.4,63.6 230.4,67.0 231.3,64.8 232.3,66.8 233.3,70.2 234.2,70.0 235.2,69.3 235.2,123.5 65.2,123.5" fill="url(#ga3)"/>
<polygon points="232.9,129.6 235.2,123.5 235.2,69.3 232.9,74.4" fill="#f8b064"/>
<polygon points="59.8,88.6 60.8,86.5 61.8,85.8 62.8,87.2 63.7,85.2 64.7,82.7 65.7,82.5 66.7,83.3 67.7,77.2 68.6,68.1 69.6,67.6 70.6,71.2 71.6,69.2 72.5,73.1 73.5,65.5 74.5,68.7 75.5,70.3 76.5,72.1 77.4,75.8 78.4,81.3 79.4,88.1 80.4,86.8 81.3,82.4 82.3,80.8 83.3,84.9 84.3,89.9 85.3,88.6 86.2,86.3 87.2,86.2 88.2,88.2 89.2,88.7 90.1,79.0 91.1,73.7 92.1,75.5 93.1,74.5 94.1,71.6 95.0,72.2 96.0,75.1 97.0,70.8 98.0,69.7 98.9,74.0 99.9,79.2 100.9,81.1 101.9,76.2 102.9,74.8 103.8,77.0 104.8,72.7 105.8,70.1 106.8,76.9 107.7,82.1 108.7,80.5 109.7,77.3 110.7,78.1 111.7,76.5 112.6,70.3 113.6,64.2 114.6,61.9 115.6,64.1 116.5,69.4 117.5,69.1 118.5,71.3 119.5,76.7 120.4,81.2 121.4,83.6 122.4,82.3 123.4,79.1 124.4,75.3 125.3,76.0 126.3,79.2 127.3,75.6 128.3,76.8 129.2,69.9 130.2,72.5 131.2,70.7 132.2,68.3 133.2,66.9 134.1,66.6 135.1,66.8 136.1,61.7 137.1,62.9 138.0,68.0 139.0,66.8 140.0,62.8 141.0,59.9 142.0,62.2 142.9,66.7 143.9,65.6 144.9,67.0 145.9,73.4 146.8,69.7 147.8,69.6 148.8,71.1 149.8,68.6 150.8,63.8 151.7,68.6 152.7,64.9 153.7,67.2 154.7,72.7 155.6,73.4 156.6,67.9 157.6,69.8 158.6,65.9 159.6,63.4 160.5,66.9 161.5,69.3 162.5,69.8 163.5,70.6 164.4,70.8 165.4,72.2 166.4,74.5 167.4,71.3 168.4,70.1 169.3,71.8 170.3,67.3 171.3,68.3 172.3,72.7 173.2,69.8 174.2,66.1 175.2,66.1 176.2,65.6 177.2,63.6 178.1,62.7 179.1,63.1 180.1,62.8 181.1,61.5 182.0,59.4 183.0,58.6 184.0,59.7 185.0,63.2 186.0,69.5 186.9,67.7 187.9,71.6 188.9,79.2 189.9,77.9 190.8,78.8 191.8,78.6 192.8,72.7 193.8,66.1 194.8,64.8 195.7,68.8 196.7,64.6 197.7,60.4 198.7,64.6 199.6,70.1 200.6,69.8 201.6,71.4 202.6,76.6 203.6,76.5 204.5,80.2 205.5,83.4 206.5,78.6 207.5,75.2 208.4,75.5 209.4,75.8 210.4,79.6 211.4,83.3 212.4,85.4 213.3,87.9 214.3,81.3 215.3,79.3 216.3,82.3 217.2,81.5 218.2,84.6 219.2,89.6 220.2,83.6 221.2,76.0 222.1,75.2 223.1,72.2 224.1,67.9 225.1,65.8 226.0,66.4 227.0,68.6 228.0,72.1 229.0,69.8 230.0,71.8 230.9,75.3 231.9,75.1 232.9,74.4 232.9,129.6 59.8,129.6" fill="url(#ga3)"/>
<polyline points="65.2,83.2 66.2,81.2 67.1,80.5 68.1,81.9 69.1,79.9 70.0,77.5 71.0,77.2 71.9,78.0 72.9,72.0 73.9,63.1 74.8,62.7 75.8,66.2 76.7,64.2 77.7,68.0 78.7,60.6 79.6,63.7 80.6,65.3 81.5,67.0 82.5,70.7 83.5,76.0 84.4,82.7 85.4,81.5 86.3,77.2 87.3,75.6 88.3,79.6 89.2,84.6 90.2,83.2 91.1,81.0 92.1,80.9 93.1,82.9 94.0,83.4 95.0,73.8 95.9,68.6 96.9,70.4 97.9,69.4 98.8,66.5 99.8,67.2 100.7,70.0 101.7,65.8 102.7,64.6 103.6,68.9 104.6,74.1 105.5,75.8 106.5,71.1 107.5,69.7 108.4,71.9 109.4,67.7 110.3,65.1 111.3,71.8 112.3,76.9 113.2,75.3 114.2,72.2 115.1,72.9 116.1,71.4 117.1,65.3 118.0,59.3 119.0,57.0 119.9,59.2 120.9,64.4 121.9,64.1 122.8,66.2 123.8,71.6 124.7,76.0 125.7,78.3 126.7,77.1 127.6,73.9 128.6,70.2 129.5,70.9 130.5,74.1 131.5,70.5 132.4,71.7 133.4,64.8 134.3,67.5 135.3,65.7 136.3,63.3 137.2,61.9 138.2,61.6 139.1,61.8 140.1,56.9 141.1,58.0 142.0,63.0 143.0,61.8 144.0,57.9 144.9,55.0 145.9,57.3 146.8,61.7 147.8,60.6 148.8,62.0 149.7,68.4 150.7,64.7 151.6,64.6 152.6,66.0 153.6,63.6 154.5,58.9 155.5,63.6 156.4,59.9 157.4,62.2 158.4,67.7 159.3,68.3 160.3,62.9 161.2,64.8 162.2,60.9 163.2,58.5 164.1,61.9 165.1,64.3 166.0,64.8 167.0,65.5 168.0,65.8 168.9,67.2 169.9,69.4 170.8,66.3 171.8,65.1 172.8,66.8 173.7,62.4 174.7,63.3 175.6,67.6 176.6,64.8 177.6,61.2 178.5,61.2 179.5,60.6 180.4,58.7 181.4,57.8 182.4,58.2 183.3,58.0 184.3,56.6 185.2,54.6 186.2,53.8 187.2,54.8 188.1,58.3 189.1,64.5 190.0,62.7 191.0,66.5 192.0,74.0 192.9,72.7 193.9,73.6 194.8,73.4 195.8,67.7 196.8,61.1 197.7,59.9 198.7,63.8 199.6,59.7 200.6,55.6 201.6,59.7 202.5,65.1 203.5,64.8 204.4,66.4 205.4,71.5 206.4,71.4 207.3,75.0 208.3,78.2 209.2,73.4 210.2,70.1 211.2,70.4 212.1,70.7 213.1,74.5 214.0,78.0 215.0,80.1 216.0,82.5 216.9,76.1 217.9,74.1 218.8,77.1 219.8,76.2 220.8,79.3 221.7,84.2 222.7,78.4 223.7,70.9 224.6,70.1 225.6,67.2 226.5,62.9 227.5,60.9 228.5,61.4 229.4,63.6 230.4,67.0 231.3,64.8 232.3,66.8 233.3,70.2 234.2,70.0 235.2,69.3" fill="none" stroke="#d83010" stroke-width="0.6"/>
<path d="M64.1 84.1h2.2l-1.1 -2.2zM66.1 81.3h2.2l-1.1 -2.2zM68.0 80.8h2.2l-1.1 -2.2zM69.9 78.1h2.2l-1.1 -2.2zM71.8 72.9h2.2l-1.1 -2.2zM73.7 63.5h2.2l-1.1 -2.2zM75.7 65.1h2.2l-1.1 -2.2zM77.6 61.4h2.2l-1.1 -2.2zM79.5 66.2h2.2l-1.1 -2.2zM81.4 71.5h2.2l-1.1 -2.2zM83.3 83.6h2.2l-1.1 -2.2zM85.3 78.0h2.2l-1.1 -2.2zM87.2 80.5h2.2l-1.1 -2.2zM89.1 84.1h2.2l-1.1 -2.2zM91.0 81.8h2.2l-1.1 -2.2zM92.9 84.3h2.2l-1.1 -2.2zM94.9 69.4h2.2l-1.1 -2.2zM96.8 70.3h2.2l-1.1 -2.2zM98.7 68.0h2.2l-1.1 -2.2zM100.6 66.6h2.2l-1.1 -2.2zM102.5 69.8h2.2l-1.1 -2.2zM104.5 76.7h2.2l-1.1 -2.2zM106.4 70.6h2.2l-1.1 -2.2zM108.3 68.5h2.2l-1.1 -2.2zM110.2 72.6h2.2l-1.1 -2.2zM112.1 76.2h2.2l-1.1 -2.2zM114.1 73.8h2.2l-1.1 -2.2zM116.0 66.2h2.2l-1.1 -2.2zM117.9 57.9h2.2l-1.1 -2.2zM119.8 65.3h2.2l-1.1 -2.2zM121.7 67.1h2.2l-1.1 -2.2zM123.7 76.9h2.2l-1.1 -2.2zM125.6 77.9h2.2l-1.1 -2.2zM127.5 71.0h2.2l-1.1 -2.2zM129.4 74.9h2.2l-1.1 -2.2zM131.4 72.5h2.2l-1.1 -2.2zM133.3 68.3h2.2l-1.1 -2.2zM135.2 64.1h2.2l-1.1 -2.2zM137.1 62.5h2.2l-1.1 -2.2zM139.0 57.7h2.2l-1.1 -2.2zM141.0 63.9h2.2l-1.1 -2.2zM142.9 58.8h2.2l-1.1 -2.2zM144.8 58.2h2.2l-1.1 -2.2zM146.7 61.5h2.2l-1.1 -2.2zM148.6 69.2h2.2l-1.1 -2.2zM150.6 65.5h2.2l-1.1 -2.2zM152.5 64.5h2.2l-1.1 -2.2zM154.4 64.4h2.2l-1.1 -2.2zM156.3 63.0h2.2l-1.1 -2.2zM158.2 69.2h2.2l-1.1 -2.2zM160.2 65.7h2.2l-1.1 -2.2zM162.1 59.4h2.2l-1.1 -2.2zM164.0 65.2h2.2l-1.1 -2.2zM165.9 66.4h2.2l-1.1 -2.2zM167.8 68.0h2.2l-1.1 -2.2zM169.8 67.2h2.2l-1.1 -2.2zM171.7 67.6h2.2l-1.1 -2.2zM173.6 64.2h2.2l-1.1 -2.2zM175.5 65.7h2.2l-1.1 -2.2zM177.4 62.0h2.2l-1.1 -2.2zM179.4 59.5h2.2l-1.1 -2.2zM181.3 59.1h2.2l-1.1 -2.2zM183.2 57.5h2.2l-1.1 -2.2zM185.1 54.6h2.2l-1.1 -2.2zM187.0 59.1h2.2l-1.1 -2.2zM189.0 63.6h2.2l-1.1 -2.2zM190.9 74.9h2.2l-1.1 -2.2zM192.8 74.5h2.2l-1.1 -2.2zM194.7 68.5h2.2l-1.1 -2.2zM196.6 60.8h2.2l-1.1 -2.2zM198.6 60.5h2.2l-1.1 -2.2zM200.5 60.5h2.2l-1.1 -2.2zM202.4 65.6h2.2l-1.1 -2.2zM204.3 72.3h2.2l-1.1 -2.2zM206.3 75.8h2.2l-1.1 -2.2zM208.2 74.2h2.2l-1.1 -2.2zM210.1 71.2h2.2l-1.1 -2.2zM212.0 75.3h2.2l-1.1 -2.2zM213.9 80.9h2.2l-1.1 -2.2zM215.9 77.0h2.2l-1.1 -2.2zM217.8 78.0h2.2l-1.1 -2.2zM219.7 80.1h2.2l-1.1 -2.2zM221.6 79.2h2.2l-1.1 -2.2zM223.5 70.9h2.2l-1.1 -2.2zM225.5 63.8h2.2l-1.1 -2.2zM227.4 62.3h2.2l-1.1 -2.2zM229.3 67.9h2.2l-1.1 -2.2zM231.2 67.6h2.2l-1.1 -2.2zM233.1 70.9h2.2l-1.1 -2.2z" fill="#d83010"/>
<polygon points="57.5,90.0 58.5,88.1 59.4,87.6 60.4,88.1 61.4,85.6 62.4,84.5 63.4,84.7 64.4,84.0 65.3,77.5 66.3,70.2 67.3,69.3 68.3,71.2 69.3,70.0 70.3,68.0 71.3,67.9 72.2,69.8 73.2,70.1 74.2,72.5 75.2,77.4 76.2,83.3 77.2,88.5 78.2,85.6 79.1,82.1 80.1,81.9 81.1,85.8 82.1,89.4 83.1,87.5 84.1,86.6 85.1,87.3 86.0,88.4 87.0,87.8 88.0,79.5 89.0,75.6 90.0,76.4 91.0,74.5 92.0,72.4 92.9,73.7 93.9,76.6 94.9,72.3 95.9,70.3 96.9,74.8 97.9,81.4 98.9,83.2 99.8,77.7 100.8,76.3 101.8,78.6 102.8,75.1 103.8,73.7 104.8,79.4 105.8,83.6 106.7,82.6 107.7,80.9 108.7,82.4 109.7,79.5 110.7,72.7 111.7,68.9 112.6,66.0 113.6,67.5 114.6,72.7 115.6,73.4 116.6,75.1 117.6,79.4 118.6,85.3 119.5,89.6 120.5,86.4 121.5,81.0 122.5,79.6 123.5,81.0 124.5,82.5 125.5,78.9 126.4,73.6 127.4,74.1 128.4,76.6 129.4,73.5 130.4,80.2 131.4,70.3 132.4,70.7 133.3,69.2 134.3,63.6 135.3,66.6 136.3,70.8 137.3,68.0 138.3,65.3 139.3,63.5 140.2,64.8 141.2,67.9 142.2,67.5 143.2,70.2 144.2,83.1 145.2,72.3 146.2,71.1 147.1,73.3 148.1,68.1 149.1,67.2 150.1,70.0 151.1,67.5 152.1,70.7 153.0,74.7 154.0,71.4 155.0,70.5 156.0,77.6 157.0,68.2 158.0,65.7 159.0,69.1 159.9,72.3 160.9,72.3 161.9,72.2 162.9,73.5 163.9,76.3 164.9,77.6 165.9,73.1 166.8,72.5 167.8,75.7 168.8,70.4 169.8,69.7 170.8,75.8 171.8,73.7 172.8,68.2 173.7,68.1 174.7,68.9 175.7,67.8 176.7,65.6 177.7,64.4 178.7,65.2 179.7,65.7 180.6,63.3 181.6,60.6 182.6,62.4 183.6,67.4 184.6,73.4 185.6,70.9 186.6,75.4 187.5,83.0 188.5,81.6 189.5,82.6 190.5,82.6 191.5,76.9 192.5,70.1 193.4,68.2 194.4,71.8 195.4,69.4 196.4,65.1 197.4,68.3 198.4,74.0 199.4,73.7 200.3,75.2 201.3,81.2 202.3,81.8 203.3,84.0 204.3,86.9 205.3,83.2 206.3,79.5 207.2,79.1 208.2,78.9 209.2,82.2 210.2,86.9 211.2,89.1 212.2,91.0 213.2,83.9 214.1,81.9 215.1,84.9 216.1,83.9 217.1,86.8 218.1,92.0 219.1,85.6 220.1,77.8 221.0,77.0 222.0,73.9 223.0,69.4 224.0,67.3 225.0,67.8 226.0,69.9 227.0,72.9 227.9,71.4 228.9,74.2 229.9,76.4 230.9,75.3 231.9,75.4 231.9,132.2 57.5,132.2" fill="url(#ga2)"/>
<polygon points="229.5,138.6 231.9,132.2 231.9,75.4 229.5,80.7" fill="#f87a64"/>
<polygon points="51.8,95.6 52.8,93.7 53.8,93.1 54.8,93.7 55.8,91.1 56.8,90.0 57.8,90.3 58.8,89.5 59.8,82.9 60.8,75.5 61.8,74.5 62.8,76.5 63.8,75.3 64.8,73.2 65.9,73.1 66.9,75.1 67.9,75.3 68.9,77.8 69.9,82.7 70.9,88.8 71.9,94.1 72.9,91.2 73.9,87.5 74.9,87.4 75.9,91.4 76.9,95.0 77.9,93.1 78.9,92.2 79.9,92.9 80.9,94.0 81.9,93.4 82.9,85.0 83.9,81.0 84.9,81.7 85.9,79.8 86.9,77.7 87.9,79.0 88.9,82.0 89.9,77.6 90.9,75.6 92.0,80.1 93.0,86.9 94.0,88.7 95.0,83.1 96.0,81.7 97.0,84.0 98.0,80.4 99.0,79.0 100.0,84.8 101.0,89.1 102.0,88.1 103.0,86.3 104.0,87.9 105.0,85.0 106.0,78.0 107.0,74.1 108.0,71.2 109.0,72.7 110.0,78.0 111.0,78.7 112.0,80.5 113.0,84.8 114.0,90.9 115.0,95.2 116.0,91.9 117.0,86.4 118.1,85.0 119.1,86.4 120.1,88.0 121.1,84.3 122.1,78.9 123.1,79.4 124.1,82.0 125.1,78.8 126.1,85.6 127.1,75.6 128.1,76.0 129.1,74.5 130.1,68.8 131.1,71.8 132.1,76.1 133.1,73.2 134.1,70.4 135.1,68.7 136.1,70.0 137.1,73.1 138.1,72.7 139.1,75.4 140.1,88.6 141.1,77.6 142.1,76.4 143.1,78.6 144.1,73.3 145.2,72.4 146.2,75.2 147.2,72.7 148.2,75.9 149.2,80.1 150.2,76.6 151.2,75.8 152.2,83.0 153.2,73.4 154.2,70.9 155.2,74.3 156.2,77.5 157.2,77.6 158.2,77.5 159.2,78.8 160.2,81.6 161.2,83.0 162.2,78.4 163.2,77.8 164.2,81.0 165.2,75.6 166.2,74.9 167.2,81.1 168.2,79.0 169.2,73.4 170.2,73.3 171.3,74.1 172.3,73.0 173.3,70.8 174.3,69.5 175.3,70.4 176.3,70.8 177.3,68.4 178.3,65.7 179.3,67.6 180.3,72.6 181.3,78.7 182.3,76.2 183.3,80.7 184.3,88.5 185.3,87.1 186.3,88.0 187.3,88.0 188.3,82.3 189.3,75.4 190.3,73.4 191.3,77.1 192.3,74.6 193.3,70.2 194.3,73.5 195.3,79.4 196.3,79.0 197.3,80.5 198.4,86.6 199.4,87.3 200.4,89.5 201.4,92.4 202.4,88.7 203.4,84.9 204.4,84.5 205.4,84.3 206.4,87.7 207.4,92.4 208.4,94.7 209.4,96.6 210.4,89.4 211.4,87.3 212.4,90.4 213.4,89.4 214.4,92.4 215.4,97.7 216.4,91.1 217.4,83.2 218.4,82.4 219.4,79.2 220.4,74.6 221.4,72.5 222.4,73.0 223.4,75.2 224.5,78.2 225.5,76.7 226.5,79.5 227.5,81.8 228.5,80.7 229.5,80.7 229.5,138.6 51.8,138.6" fill="url(#ga2)"/>
<polyline points="57.5,90.0 58.5,88.1 59.4,87.6 60.4,88.1 61.4,85.6 62.4,84.5 63.4,84.7 64.4,84.0 65.3,77.5 66.3,70.2 67.3,69.3 68.3,71.2 69.3,70.0 70.3,68.0 71.3,67.9 72.2,69.8 73.2,70.1 74.2,72.5 75.2,77.4 76.2,83.3 77.2,88.5 78.2,85.6 79.1,82.1 80.1,81.9 81.1,85.8 82.1,89.4 83.1,87.5 84.1,86.6 85.1,87.3 86.0,88.4 87.0,87.8 88.0,79.5 89.0,75.6 90.0,76.4 91.0,74.5 92.0,72.4 92.9,73.7 93.9,76.6 94.9,72.3 95.9,70.3 96.9,74.8 97.9,81.4 98.9,83.2 99.8,77.7 100.8,76.3 101.8,78.6 102.8,75.1 103.8,73.7 104.8,79.4 105.8,83.6 106.7,82.6 107.7,80.9 108.7,82.4 109.7,79.5 110.7,72.7 111.7,68.9 112.6,66.0 113.6,67.5 114.6,72.7 115.6,73.4 116.6,75.1 117.6,79.4 118.6,85.3 119.5,89.6 120.5,86.4 121.5,81.0 122.5,79.6 123.5,81.0 124.5,82.5 125.5,78.9 126.4,73.6 127.4,74.1 128.4,76.6 129.4,73.5 130.4,80.2 131.4,70.3 132.4,70.7 133.3,69.2 134.3,63.6 135.3,66.6 136.3,70.8 137.3,68.0 138.3,65.3 139.3,63.5 140.2,64.8 141.2,67.9 142.2,67.5 143.2,70.2 144.2,83.1 145.2,72.3 146.2,71.1 147.1,73.3 148.1,68.1 149.1,67.2 150.1,70.0 151.1,67.5 152.1,70.7 153.0,74.7 154.0,71.4 155.0,70.5 156.0,77.6 157.0,68.2 158.0,65.7 159.0,69.1 159.9,72.3 160.9,72.3 161.9,72.2 162.9,73.5 163.9,76.3 164.9,77.6 165.9,73.1 166.8,72.5 167.8,75.7 168.8,70.4 169.8,69.7 170.8,75.8 171.8,73.7 172.8,68.2 173.7,68.1 174.7,68.9 175.7,67.8 176.7,65.6 177.7,64.4 178.7,65.2 179.7,65.7 180.6,63.3 181.6,60.6 182.6,62.4 183.6,67.4 184.6,73.4 185.6,70.9 186.6,75.4 187.5,83.0 188.5,81.6 189.5,82.6 190.5,82.6 191.5,76.9 192.5,70.1 193.4,68.2 194.4,71.8 195.4,69.4 196.4,65.1 197.4,68.3 198.4,74.0 199.4,73.7 200.3,75.2 201.3,81.2 202.3,81.8 203.3,84.0 204.3,86.9 205.3,83.2 206.3,79.5 207.2,79.1 208.2,78.9 209.2,82.2 210.2,86.9 211.2,89.1 212.2,91.0 213.2,83.9 214.1,81.9 215.1,84.9 216.1,83.9 217.1,86.8 218.1,92.0 219.1,85.6 220.1,77.8 221.0,77.0 222.0,73.9 223.0,69.4 224.0,67.3 225.0,67.8 226.0,69.9 227.0,72.9 227.9,71.4 228.9,74.2 229.9,76.4 230.9,75.3 231.9,75.4" fill="none" stroke="#d42010" stroke-width="0.6"/>
<path d="M56.4 90.9h2.2l-1.1 -2.2zM58.3 88.5h2.2l-1.1 -2.2zM60.3 86.5h2.2l-1.1 -2.2zM62.3 85.6h2.2l-1.1 -2.2zM64.2 78.4h2.2l-1.1 -2.2zM66.2 70.2h2.2l-1.1 -2.2zM68.2 70.9h2.2l-1.1 -2.2zM70.2 68.8h2.2l-1.1 -2.2zM72.1 71.0h2.2l-1.1 -2.2zM74.1 78.2h2.2l-1.1 -2.2zM76.1 89.4h2.2l-1.1 -2.2zM78.0 82.9h2.2l-1.1 -2.2zM80.0 86.7h2.2l-1.1 -2.2zM82.0 88.4h2.2l-1.1 -2.2zM84.0 88.2h2.2l-1.1 -2.2zM85.9 88.7h2.2l-1.1 -2.2zM87.9 76.5h2.2l-1.1 -2.2zM89.9 75.4h2.2l-1.1 -2.2zM91.8 74.5h2.2l-1.1 -2.2zM93.8 73.2h2.2l-1.1 -2.2zM95.8 75.7h2.2l-1.1 -2.2zM97.7 84.1h2.2l-1.1 -2.2zM99.7 77.2h2.2l-1.1 -2.2zM101.7 76.0h2.2l-1.1 -2.2zM103.7 80.3h2.2l-1.1 -2.2zM105.6 83.5h2.2l-1.1 -2.2zM107.6 83.3h2.2l-1.1 -2.2zM109.6 73.6h2.2l-1.1 -2.2zM111.5 66.9h2.2l-1.1 -2.2zM113.5 73.6h2.2l-1.1 -2.2zM115.5 76.0h2.2l-1.1 -2.2zM117.5 86.2h2.2l-1.1 -2.2zM119.4 87.2h2.2l-1.1 -2.2zM121.4 80.5h2.2l-1.1 -2.2zM123.4 83.4h2.2l-1.1 -2.2zM125.3 74.5h2.2l-1.1 -2.2zM127.3 77.5h2.2l-1.1 -2.2zM129.3 81.1h2.2l-1.1 -2.2zM131.3 71.6h2.2l-1.1 -2.2zM133.2 64.5h2.2l-1.1 -2.2zM135.2 71.7h2.2l-1.1 -2.2zM137.2 66.2h2.2l-1.1 -2.2zM139.1 65.7h2.2l-1.1 -2.2zM141.1 68.4h2.2l-1.1 -2.2zM143.1 84.0h2.2l-1.1 -2.2zM145.0 72.0h2.2l-1.1 -2.2zM147.0 68.9h2.2l-1.1 -2.2zM149.0 70.8h2.2l-1.1 -2.2zM151.0 71.6h2.2l-1.1 -2.2zM152.9 72.3h2.2l-1.1 -2.2zM154.9 78.5h2.2l-1.1 -2.2zM156.9 66.6h2.2l-1.1 -2.2zM158.8 73.1h2.2l-1.1 -2.2zM160.8 73.1h2.2l-1.1 -2.2zM162.8 77.2h2.2l-1.1 -2.2zM164.8 74.0h2.2l-1.1 -2.2zM166.7 76.6h2.2l-1.1 -2.2zM168.7 70.6h2.2l-1.1 -2.2zM170.7 74.6h2.2l-1.1 -2.2zM172.6 69.0h2.2l-1.1 -2.2zM174.6 68.7h2.2l-1.1 -2.2zM176.6 65.3h2.2l-1.1 -2.2zM178.6 66.6h2.2l-1.1 -2.2zM180.5 61.5h2.2l-1.1 -2.2zM182.5 68.3h2.2l-1.1 -2.2zM184.5 71.8h2.2l-1.1 -2.2zM186.4 83.9h2.2l-1.1 -2.2zM188.4 83.4h2.2l-1.1 -2.2zM190.4 77.8h2.2l-1.1 -2.2zM192.3 69.1h2.2l-1.1 -2.2zM194.3 70.2h2.2l-1.1 -2.2zM196.3 69.2h2.2l-1.1 -2.2zM198.3 74.5h2.2l-1.1 -2.2zM200.2 82.1h2.2l-1.1 -2.2zM202.2 84.8h2.2l-1.1 -2.2zM204.2 84.1h2.2l-1.1 -2.2zM206.1 80.0h2.2l-1.1 -2.2zM208.1 83.1h2.2l-1.1 -2.2zM210.1 90.0h2.2l-1.1 -2.2zM212.1 84.8h2.2l-1.1 -2.2zM214.0 85.7h2.2l-1.1 -2.2zM216.0 87.7h2.2l-1.1 -2.2zM218.0 86.5h2.2l-1.1 -2.2zM219.9 77.9h2.2l-1.1 -2.2zM221.9 70.3h2.2l-1.1 -2.2zM223.9 68.7h2.2l-1.1 -2.2zM225.8 73.8h2.2l-1.1 -2.2zM227.8 75.1h2.2l-1.1 -2.2zM229.8 76.2h2.2l-1.1 -2.2z" fill="#d42010"/>
<polygon points="49.3,94.9 50.3,94.2 51.3,94.3 52.3,95.8 53.4,94.2 54.4,93.3 55.4,90.4 56.4,87.3 57.4,81.3 58.4,76.7 59.4,79.2 60.4,82.7 61.4,80.5 62.5,77.2 63.5,77.1 64.5,80.7 65.5,81.6 66.5,85.3 67.5,90.8 68.5,96.7 69.5,103.5 70.6,100.8 71.6,96.5 72.6,93.0 73.6,93.0 74.6,98.7 75.6,100.0 76.6,98.6 77.6,100.5 78.7,105.8 79.7,104.8 80.7,95.9 81.7,92.8 82.7,91.8 83.7,86.3 84.7,82.5 85.7,83.4 86.7,86.3 87.8,83.7 88.8,82.9 89.8,83.9 90.8,88.2 91.8,89.9 92.8,81.1 93.8,77.9 94.8,82.9 95.9,80.8 96.9,79.3 97.9,87.4 98.9,90.3 99.9,84.7 100.9,79.4 101.9,80.9 102.9,78.8 103.9,72.3 105.0,69.4 106.0,71.7 107.0,75.4 108.0,79.6 109.0,79.5 110.0,80.8 111.0,82.3 112.0,87.0 113.1,91.7 114.1,89.9 115.1,85.1 116.1,82.1 117.1,82.3 118.1,83.7 119.1,79.7 120.1,76.2 121.2,79.7 122.2,82.2 123.2,78.8 124.2,76.5 125.2,77.4 126.2,79.9 127.2,81.4 128.2,76.7 129.2,78.0 130.3,79.4 131.3,74.2 132.3,68.9 133.3,65.7 134.3,67.3 135.3,68.8 136.3,66.4 137.3,68.0 138.4,74.1 139.4,69.7 140.4,71.7 141.4,76.1 142.4,69.4 143.4,66.6 144.4,69.3 145.4,66.5 146.4,68.3 147.5,72.2 148.5,68.8 149.5,67.2 150.5,68.9 151.5,66.0 152.5,61.6 153.5,62.8 154.5,67.6 155.6,66.9 156.6,67.2 157.6,70.1 158.6,71.5 159.6,73.1 160.6,68.8 161.6,73.6 162.6,68.3 163.6,64.9 164.7,66.3 165.7,72.5 166.7,68.8 167.7,62.9 168.7,65.1 169.7,66.6 170.7,64.6 171.7,63.5 172.8,64.7 173.8,67.9 174.8,68.9 175.8,65.0 176.8,62.8 177.8,64.7 178.8,67.9 179.8,74.1 180.9,71.9 181.9,76.0 182.9,85.3 183.9,86.0 184.9,88.5 185.9,88.7 186.9,82.0 187.9,76.7 188.9,76.8 190.0,77.6 191.0,78.2 192.0,67.8 193.0,71.1 194.0,73.9 195.0,80.9 196.0,77.7 197.0,83.1 198.1,81.9 199.1,85.9 200.1,90.7 201.1,87.2 202.1,87.1 203.1,90.3 204.1,89.4 205.1,89.8 206.1,92.7 207.2,94.3 208.2,94.8 209.2,86.3 210.2,85.1 211.2,90.7 212.2,89.9 213.2,91.6 214.2,95.2 215.3,89.8 216.3,83.3 217.3,82.3 218.3,80.0 219.3,83.3 220.3,74.0 221.3,73.6 222.3,73.4 223.3,77.8 224.4,78.2 225.4,83.0 226.4,84.5 227.4,83.2 228.4,83.6 228.4,141.5 49.3,141.5" fill="url(#ga1)"/>
<polygon points="225.9,148.2 228.4,141.5 228.4,83.6 225.9,89.3" fill="#bc58f4"/>
<polygon points="43.3,100.7 44.4,100.1 45.4,100.2 46.4,101.7 47.5,100.0 48.5,99.1 49.5,96.2 50.5,93.0 51.6,86.9 52.6,82.2 53.6,84.7 54.7,88.3 55.7,86.0 56.7,82.8 57.8,82.7 58.8,86.3 59.8,87.2 60.9,91.0 61.9,96.6 62.9,102.6 64.0,109.5 65.0,106.7 66.0,102.4 67.0,98.8 68.1,98.8 69.1,104.7 70.1,106.0 71.2,104.5 72.2,106.4 73.2,111.8 74.3,110.8 75.3,101.7 76.3,98.6 77.4,97.6 78.4,92.0 79.4,88.2 80.5,89.0 81.5,92.0 82.5,89.4 83.5,88.5 84.6,89.6 85.6,94.0 86.6,95.7 87.7,86.7 88.7,83.5 89.7,88.5 90.8,86.4 91.8,84.8 92.8,93.2 93.9,96.1 94.9,90.4 95.9,85.0 97.0,86.5 98.0,84.3 99.0,77.7 100.0,74.8 101.1,77.1 102.1,80.9 103.1,85.2 104.2,85.1 105.2,86.4 106.2,88.0 107.3,92.7 108.3,97.5 109.3,95.6 110.4,90.8 111.4,87.7 112.4,87.9 113.5,89.4 114.5,85.3 115.5,81.7 116.6,85.3 117.6,87.8 118.6,84.4 119.6,82.1 120.7,83.0 121.7,85.5 122.7,87.0 123.8,82.2 124.8,83.5 125.8,85.0 126.9,79.7 127.9,74.2 128.9,71.0 130.0,72.6 131.0,74.2 132.0,71.8 133.1,73.4 134.1,79.5 135.1,75.0 136.1,77.1 137.2,81.6 138.2,74.8 139.2,71.9 140.3,74.6 141.3,71.8 142.3,73.6 143.4,77.6 144.4,74.2 145.4,72.6 146.5,74.3 147.5,71.4 148.5,66.8 149.6,68.1 150.6,72.9 151.6,72.2 152.6,72.6 153.7,75.5 154.7,77.0 155.7,78.5 156.8,74.1 157.8,79.0 158.8,73.6 159.9,70.2 160.9,71.6 161.9,78.0 163.0,74.1 164.0,68.2 165.0,70.4 166.1,71.9 167.1,69.9 168.1,68.8 169.1,69.9 170.2,73.2 171.2,74.2 172.2,70.3 173.3,68.1 174.3,70.0 175.3,73.3 176.4,79.5 177.4,77.3 178.4,81.5 179.5,91.0 180.5,91.7 181.5,94.2 182.6,94.4 183.6,87.6 184.6,82.2 185.6,82.4 186.7,83.2 187.7,83.7 188.7,73.1 189.8,76.5 190.8,79.3 191.8,86.5 192.9,83.2 193.9,88.7 194.9,87.5 196.0,91.6 197.0,96.5 198.0,92.9 199.1,92.8 200.1,96.1 201.1,95.1 202.1,95.6 203.2,98.6 204.2,100.2 205.2,100.7 206.3,92.0 207.3,90.8 208.3,96.5 209.4,95.6 210.4,97.4 211.4,101.1 212.5,95.6 213.5,88.9 214.5,87.9 215.6,85.5 216.6,88.9 217.6,79.5 218.6,79.0 219.7,78.8 220.7,83.3 221.7,83.8 222.8,88.6 223.8,90.2 224.8,88.8 225.9,89.3 225.9,148.2 43.3,148.2" fill="url(#ga1)"/>
<polyline points="49.3,94.9 50.3,94.2 51.3,94.3 52.3,95.8 53.4,94.2 54.4,93.3 55.4,90.4 56.4,87.3 57.4,81.3 58.4,76.7 59.4,79.2 60.4,82.7 61.4,80.5 62.5,77.2 63.5,77.1 64.5,80.7 65.5,81.6 66.5,85.3 67.5,90.8 68.5,96.7 69.5,103.5 70.6,100.8 71.6,96.5 72.6,93.0 73.6,93.0 74.6,98.7 75.6,100.0 76.6,98.6 77.6,100.5 78.7,105.8 79.7,104.8 80.7,95.9 81.7,92.8 82.7,91.8 83.7,86.3 84.7,82.5 85.7,83.4 86.7,86.3 87.8,83.7 88.8,82.9 89.8,83.9 90.8,88.2 91.8,89.9 92.8,81.1 93.8,77.9 94.8,82.9 95.9,80.8 96.9,79.3 97.9,87.4 98.9,90.3 99.9,84.7 100.9,79.4 101.9,80.9 102.9,78.8 103.9,72.3 105.0,69.4 106.0,71.7 107.0,75.4 108.0,79.6 109.0,79.5 110.0,80.8 111.0,82.3 112.0,87.0 113.1,91.7 114.1,89.9 115.1,85.1 116.1,82.1 117.1,82.3 118.1,83.7 119.1,79.7 120.1,76.2 121.2,79.7 122.2,82.2 123.2,78.8 124.2,76.5 125.2,77.4 126.2,79.9 127.2,81.4 128.2,76.7 129.2,78.0 130.3,79.4 131.3,74.2 132.3,68.9 133.3,65.7 134.3,67.3 135.3,68.8 136.3,66.4 137.3,68.0 138.4,74.1 139.4,69.7 140.4,71.7 141.4,76.1 142.4,69.4 143.4,66.6 144.4,69.3 145.4,66.5 146.4,68.3 147.5,72.2 148.5,68.8 149.5,67.2 150.5,68.9 151.5,66.0 152.5,61.6 153.5,62.8 154.5,67.6 155.6,66.9 156.6,67.2 157.6,70.1 158.6,71.5 159.6,73.1 160.6,68.8 161.6,73.6 162.6,68.3 163.6,64.9 164.7,66.3 165.7,72.5 166.7,68.8 167.7,62.9 168.7,65.1 169.7,66.6 170.7,64.6 171.7,63.5 172.8,64.7 173.8,67.9 174.8,68.9 175.8,65.0 176.8,62.8 177.8,64.7 178.8,67.9 179.8,74.1 180.9,71.9 181.9,76.0 182.9,85.3 183.9,86.0 184.9,88.5 185.9,88.7 186.9,82.0 187.9,76.7 188.9,76.8 190.0,77.6 191.0,78.2 192.0,67.8 193.0,71.1 194.0,73.9 195.0,80.9 196.0,77.7 197.0,83.1 198.1,81.9 199.1,85.9 200.1,90.7 201.1,87.2 202.1,87.1 203.1,90.3 204.1,89.4 205.1,89.8 206.1,92.7 207.2,94.3 208.2,94.8 209.2,86.3 210.2,85.1 211.2,90.7 212.2,89.9 213.2,91.6 214.2,95.2 215.3,89.8 216.3,83.3 217.3,82.3 218.3,80.0 219.3,83.3 220.3,74.0 221.3,73.6 222.3,73.4 223.3,77.8 224.4,78.2 225.4,83.0 226.4,84.5 227.4,83.2 228.4,83.6" fill="none" stroke="#d01818" stroke-width="0.6"/>
<path d="M48.2 95.8h2.3l-1.1 -2.3zM50.2 95.2h2.3l-1.1 -2.3zM52.2 95.1h2.3l-1.1 -2.3zM54.2 91.3h2.3l-1.1 -2.3zM56.3 82.2h2.3l-1.1 -2.3zM58.3 80.1h2.3l-1.1 -2.3zM60.3 81.4h2.3l-1.1 -2.3zM62.3 78.0h2.3l-1.1 -2.3zM64.4 82.5h2.3l-1.1 -2.3zM66.4 91.7h2.3l-1.1 -2.3zM68.4 104.4h2.3l-1.1 -2.3zM70.4 97.4h2.3l-1.1 -2.3zM72.5 93.9h2.3l-1.1 -2.3zM74.5 101.0h2.3l-1.1 -2.3zM76.5 101.4h2.3l-1.1 -2.3zM78.5 105.7h2.3l-1.1 -2.3zM80.6 93.7h2.3l-1.1 -2.3zM82.6 87.2h2.3l-1.1 -2.3zM84.6 84.3h2.3l-1.1 -2.3zM86.6 84.6h2.3l-1.1 -2.3zM88.6 84.8h2.3l-1.1 -2.3zM90.7 90.8h2.3l-1.1 -2.3zM92.7 78.8h2.3l-1.1 -2.3zM94.7 81.7h2.3l-1.1 -2.3zM96.7 88.3h2.3l-1.1 -2.3zM98.8 85.6h2.3l-1.1 -2.3zM100.8 81.8h2.3l-1.1 -2.3zM102.8 73.2h2.3l-1.1 -2.3zM104.8 72.6h2.3l-1.1 -2.3zM106.9 80.6h2.3l-1.1 -2.3zM108.9 81.7h2.3l-1.1 -2.3zM110.9 87.9h2.3l-1.1 -2.3zM112.9 90.8h2.3l-1.1 -2.3zM115.0 83.0h2.3l-1.1 -2.3zM117.0 84.7h2.3l-1.1 -2.3zM119.0 77.1h2.3l-1.1 -2.3zM121.0 83.1h2.3l-1.1 -2.3zM123.1 77.4h2.3l-1.1 -2.3zM125.1 80.8h2.3l-1.1 -2.3zM127.1 77.6h2.3l-1.1 -2.3zM129.1 80.3h2.3l-1.1 -2.3zM131.1 69.8h2.3l-1.1 -2.3zM133.2 68.2h2.3l-1.1 -2.3zM135.2 67.3h2.3l-1.1 -2.3zM137.2 75.0h2.3l-1.1 -2.3zM139.2 72.6h2.3l-1.1 -2.3zM141.3 70.3h2.3l-1.1 -2.3zM143.3 70.2h2.3l-1.1 -2.3zM145.3 69.2h2.3l-1.1 -2.3zM147.3 69.7h2.3l-1.1 -2.3zM149.4 69.8h2.3l-1.1 -2.3zM151.4 62.5h2.3l-1.1 -2.3zM153.4 68.5h2.3l-1.1 -2.3zM155.4 68.1h2.3l-1.1 -2.3zM157.5 72.5h2.3l-1.1 -2.3zM159.5 69.7h2.3l-1.1 -2.3zM161.5 69.2h2.3l-1.1 -2.3zM163.5 67.2h2.3l-1.1 -2.3zM165.6 69.7h2.3l-1.1 -2.3zM167.6 66.0h2.3l-1.1 -2.3zM169.6 65.5h2.3l-1.1 -2.3zM171.6 65.6h2.3l-1.1 -2.3zM173.6 69.8h2.3l-1.1 -2.3zM175.7 63.8h2.3l-1.1 -2.3zM177.7 68.9h2.3l-1.1 -2.3zM179.7 72.8h2.3l-1.1 -2.3zM181.7 86.2h2.3l-1.1 -2.3zM183.8 89.4h2.3l-1.1 -2.3zM185.8 82.9h2.3l-1.1 -2.3zM187.8 77.7h2.3l-1.1 -2.3zM189.8 79.1h2.3l-1.1 -2.3zM191.9 72.0h2.3l-1.1 -2.3zM193.9 81.8h2.3l-1.1 -2.3zM195.9 84.0h2.3l-1.1 -2.3zM197.9 86.8h2.3l-1.1 -2.3zM200.0 88.1h2.3l-1.1 -2.3zM202.0 91.2h2.3l-1.1 -2.3zM204.0 90.7h2.3l-1.1 -2.3zM206.0 95.2h2.3l-1.1 -2.3zM208.0 87.2h2.3l-1.1 -2.3zM210.1 91.6h2.3l-1.1 -2.3zM212.1 92.5h2.3l-1.1 -2.3zM214.1 90.7h2.3l-1.1 -2.3zM216.1 83.2h2.3l-1.1 -2.3zM218.2 84.2h2.3l-1.1 -2.3zM220.2 74.5h2.3l-1.1 -2.3zM222.2 78.7h2.3l-1.1 -2.3zM224.2 83.9h2.3l-1.1 -2.3zM226.3 84.1h2.3l-1.1 -2.3z" fill="#d01818"/>
<polygon points="37.6,153.2 224.5,153.2 226.4,148.2 42.0,148.2" fill="#eaf8f8"/>
<line x1="37.6" y1="60.2" x2="37.6" y2="153.2" stroke="#767676" stroke-width="1.0"/>
<line x1="37.6" y1="153.2" x2="224.5" y2="153.2" stroke="#767676" stroke-width="1.0"/>
<line x1="224.5" y1="153.2" x2="251.8" y2="80.4" stroke="#767676" stroke-width="0.9"/>
<line x1="35.1" y1="153.2" x2="37.6" y2="153.2" stroke="#767676" stroke-width="0.8"/>
<line x1="35.1" y1="131.8" x2="37.6" y2="131.8" stroke="#767676" stroke-width="0.8"/>
<line x1="35.1" y1="110.4" x2="37.6" y2="110.4" stroke="#767676" stroke-width="0.8"/>
<line x1="35.1" y1="89.1" x2="37.6" y2="89.1" stroke="#767676" stroke-width="0.8"/>
<line x1="35.1" y1="67.7" x2="37.6" y2="67.7" stroke="#767676" stroke-width="0.8"/>
<line x1="36.1" y1="142.5" x2="37.6" y2="142.5" stroke="#767676" stroke-width="0.7"/>
<line x1="36.1" y1="121.1" x2="37.6" y2="121.1" stroke="#767676" stroke-width="0.7"/>
<line x1="36.1" y1="99.8" x2="37.6" y2="99.8" stroke="#767676" stroke-width="0.7"/>
<line x1="36.1" y1="78.4" x2="37.6" y2="78.4" stroke="#767676" stroke-width="0.7"/>
<line x1="43.1" y1="153.2" x2="41.9" y2="155.6" stroke="#767676" stroke-width="0.8"/>
<line x1="64.0" y1="153.2" x2="62.8" y2="155.6" stroke="#767676" stroke-width="0.8"/>
<line x1="84.9" y1="153.2" x2="83.7" y2="155.6" stroke="#767676" stroke-width="0.8"/>
<line x1="105.8" y1="153.2" x2="104.6" y2="155.6" stroke="#767676" stroke-width="0.8"/>
<line x1="126.7" y1="153.2" x2="125.5" y2="155.6" stroke="#767676" stroke-width="0.8"/>
<line x1="147.7" y1="153.2" x2="146.5" y2="155.6" stroke="#767676" stroke-width="0.8"/>
<line x1="168.6" y1="153.2" x2="167.4" y2="155.6" stroke="#767676" stroke-width="0.8"/>
<line x1="189.5" y1="153.2" x2="188.3" y2="155.6" stroke="#767676" stroke-width="0.8"/>
<line x1="210.4" y1="153.2" x2="209.2" y2="155.6" stroke="#767676" stroke-width="0.8"/>
<line x1="53.6" y1="153.2" x2="52.9" y2="154.6" stroke="#767676" stroke-width="0.7"/>
<line x1="74.5" y1="153.2" x2="73.8" y2="154.6" stroke="#767676" stroke-width="0.7"/>
<line x1="95.4" y1="153.2" x2="94.7" y2="154.6" stroke="#767676" stroke-width="0.7"/>
<line x1="116.3" y1="153.2" x2="115.6" y2="154.6" stroke="#767676" stroke-width="0.7"/>
<line x1="137.2" y1="153.2" x2="136.5" y2="154.6" stroke="#767676" stroke-width="0.7"/>
<line x1="158.1" y1="153.2" x2="157.4" y2="154.6" stroke="#767676" stroke-width="0.7"/>
<line x1="179.0" y1="153.2" x2="178.3" y2="154.6" stroke="#767676" stroke-width="0.7"/>
<line x1="199.9" y1="153.2" x2="199.2" y2="154.6" stroke="#767676" stroke-width="0.7"/>
<line x1="220.9" y1="153.2" x2="220.2" y2="154.6" stroke="#767676" stroke-width="0.7"/>
<line x1="226.4" y1="148.2" x2="228.9" y2="148.2" stroke="#767676" stroke-width="0.8"/>
<line x1="230.0" y1="138.6" x2="232.5" y2="138.6" stroke="#767676" stroke-width="0.8"/>
<line x1="233.4" y1="129.6" x2="235.9" y2="129.6" stroke="#767676" stroke-width="0.8"/>
<line x1="236.6" y1="120.9" x2="239.1" y2="120.9" stroke="#767676" stroke-width="0.8"/>
<line x1="239.7" y1="112.7" x2="242.2" y2="112.7" stroke="#767676" stroke-width="0.8"/>
<line x1="242.6" y1="104.9" x2="245.1" y2="104.9" stroke="#767676" stroke-width="0.8"/>
<line x1="245.4" y1="97.5" x2="247.9" y2="97.5" stroke="#767676" stroke-width="0.8"/>
<line x1="248.0" y1="90.4" x2="250.5" y2="90.4" stroke="#767676" stroke-width="0.8"/>
<line x1="250.6" y1="83.6" x2="253.1" y2="83.6" stroke="#767676" stroke-width="0.8"/>
<line x1="371.6" y1="72.1" x2="521.8" y2="72.1" stroke="#d6d6d6" stroke-width="0.6"/>
<line x1="306.7" y1="142.6" x2="371.6" y2="72.1" stroke="#d6d6d6" stroke-width="0.6"/>
<line x1="371.6" y1="63.6" x2="521.8" y2="63.6" stroke="#d6d6d6" stroke-width="0.6"/>
<line x1="306.7" y1="132.0" x2="371.6" y2="63.6" stroke="#d6d6d6" stroke-width="0.6"/>
<line x1="371.6" y1="55.1" x2="521.8" y2="55.1" stroke="#d6d6d6" stroke-width="0.6"/>
<line x1="306.7" y1="121.4" x2="371.6" y2="55.1" stroke="#d6d6d6" stroke-width="0.6"/>
<line x1="371.6" y1="46.6" x2="521.8" y2="46.6" stroke="#d6d6d6" stroke-width="0.6"/>
<line x1="306.7" y1="110.8" x2="371.6" y2="46.6" stroke="#d6d6d6" stroke-width="0.6"/>
<line x1="371.6" y1="38.2" x2="521.8" y2="38.2" stroke="#d6d6d6" stroke-width="0.6"/>
<line x1="306.7" y1="100.2" x2="371.6" y2="38.2" stroke="#d6d6d6" stroke-width="0.6"/>
<line x1="371.6" y1="29.7" x2="521.8" y2="29.7" stroke="#d6d6d6" stroke-width="0.6"/>
<line x1="306.7" y1="89.6" x2="371.6" y2="29.7" stroke="#d6d6d6" stroke-width="0.6"/>
<line x1="371.6" y1="21.2" x2="521.8" y2="21.2" stroke="#d6d6d6" stroke-width="0.6"/>
<line x1="306.7" y1="79.0" x2="371.6" y2="21.2" stroke="#d6d6d6" stroke-width="0.6"/>
<line x1="371.6" y1="12.7" x2="521.8" y2="12.7" stroke="#d6d6d6" stroke-width="0.6"/>
<line x1="306.7" y1="68.4" x2="371.6" y2="12.7" stroke="#d6d6d6" stroke-width="0.6"/>
<line x1="380.4" y1="6.3" x2="380.4" y2="80.6" stroke="#d6d6d6" stroke-width="0.6"/>
<line x1="396.6" y1="6.3" x2="396.6" y2="80.6" stroke="#d6d6d6" stroke-width="0.6"/>
<line x1="412.8" y1="6.3" x2="412.8" y2="80.6" stroke="#d6d6d6" stroke-width="0.6"/>
<line x1="429.0" y1="6.3" x2="429.0" y2="80.6" stroke="#d6d6d6" stroke-width="0.6"/>
<line x1="445.2" y1="6.3" x2="445.2" y2="80.6" stroke="#d6d6d6" stroke-width="0.6"/>
<line x1="461.4" y1="6.3" x2="461.4" y2="80.6" stroke="#d6d6d6" stroke-width="0.6"/>
<line x1="477.6" y1="6.3" x2="477.6" y2="80.6" stroke="#d6d6d6" stroke-width="0.6"/>
<line x1="493.8" y1="6.3" x2="493.8" y2="80.6" stroke="#d6d6d6" stroke-width="0.6"/>
<line x1="510.0" y1="6.3" x2="510.0" y2="80.6" stroke="#d6d6d6" stroke-width="0.6"/>
<line x1="311.1" y1="56.6" x2="311.1" y2="148.2" stroke="#d6d6d6" stroke-width="0.6"/>
<line x1="319.7" y1="49.5" x2="319.7" y2="138.7" stroke="#d6d6d6" stroke-width="0.6"/>
<line x1="327.8" y1="42.8" x2="327.8" y2="129.6" stroke="#d6d6d6" stroke-width="0.6"/>
<line x1="335.4" y1="36.4" x2="335.4" y2="121.0" stroke="#d6d6d6" stroke-width="0.6"/>
<line x1="342.7" y1="30.3" x2="342.7" y2="112.8" stroke="#d6d6d6" stroke-width="0.6"/>
<line x1="349.7" y1="24.5" x2="349.7" y2="105.1" stroke="#d6d6d6" stroke-width="0.6"/>
<line x1="356.3" y1="19.0" x2="356.3" y2="97.7" stroke="#d6d6d6" stroke-width="0.6"/>
<line x1="362.6" y1="13.7" x2="362.6" y2="90.6" stroke="#d6d6d6" stroke-width="0.6"/>
<line x1="368.6" y1="8.7" x2="368.6" y2="83.8" stroke="#d6d6d6" stroke-width="0.6"/>
<line x1="371.6" y1="6.3" x2="521.8" y2="6.3" stroke="#bcbcbc" stroke-width="0.8"/>
<line x1="521.8" y1="6.3" x2="521.8" y2="80.6" stroke="#bcbcbc" stroke-width="0.8"/>
<line x1="371.6" y1="6.3" x2="371.6" y2="80.6" stroke="#bcbcbc" stroke-width="0.8"/>
<line x1="306.7" y1="60.3" x2="371.6" y2="6.3" stroke="#bcbcbc" stroke-width="0.8"/>
<polygon points="374.2,77.4 375.0,74.5 375.8,67.3 376.6,68.5 377.4,66.5 378.2,63.6 379.0,62.2 379.9,61.2 380.7,61.5 381.5,61.9 382.3,59.8 383.1,56.9 383.9,58.1 384.7,60.8 385.5,58.8 386.3,57.9 387.1,57.6 387.9,55.8 388.7,57.0 389.5,62.4 390.3,66.2 391.2,63.3 392.0,60.9 392.8,62.3 393.6,60.6 394.4,59.3 395.2,58.2 396.0,57.1 396.8,55.7 397.6,54.2 398.4,53.3 399.2,53.4 400.0,54.3 400.8,64.3 401.6,53.2 402.4,50.8 403.3,49.8 404.1,46.0 404.9,45.4 405.7,49.2 406.5,47.9 407.3,47.3 408.1,48.6 408.9,45.9 409.7,44.1 410.5,44.3 411.3,46.9 412.1,50.8 412.9,52.8 413.7,53.2 414.5,52.2 415.4,52.4 416.2,51.4 417.0,48.3 417.8,46.1 418.6,46.9 419.4,50.1 420.2,48.7 421.0,47.9 421.8,51.3 422.6,52.8 423.4,49.3 424.2,43.6 425.0,41.5 425.8,43.6 426.7,45.0 427.5,44.4 428.3,45.0 429.1,47.7 429.9,48.6 430.7,44.9 431.5,43.5 432.3,44.1 433.1,41.7 433.9,41.1 434.7,43.1 435.5,44.3 436.3,43.8 437.1,37.9 437.9,37.5 438.8,42.2 439.6,40.2 440.4,37.9 441.2,37.8 442.0,42.1 442.8,47.5 443.6,48.4 444.4,49.8 445.2,52.6 446.0,49.6 446.8,47.4 447.6,47.9 448.4,51.4 449.2,51.9 450.0,49.3 450.9,46.9 451.7,44.8 452.5,43.5 453.3,43.6 454.1,41.2 454.9,37.7 455.7,36.8 456.5,38.4 457.3,41.0 458.1,39.9 458.9,38.8 459.7,40.2 460.5,42.5 461.3,42.2 462.2,37.4 463.0,36.4 463.8,40.1 464.6,40.0 465.4,39.1 466.2,39.3 467.0,40.3 467.8,38.7 468.6,36.2 469.4,35.7 470.2,38.1 471.0,41.5 471.8,40.8 472.6,37.1 473.4,35.7 474.3,38.4 475.1,42.7 475.9,43.0 476.7,41.5 477.5,40.3 478.3,40.1 479.1,41.2 479.9,43.6 480.7,40.2 481.5,44.7 482.3,45.9 483.1,49.6 483.9,45.5 484.7,47.8 485.5,50.7 486.4,47.8 487.2,46.7 488.0,49.1 488.8,46.4 489.6,47.6 490.4,50.1 491.2,48.6 492.0,47.2 492.8,47.7 493.6,46.5 494.4,43.8 495.2,45.5 496.0,51.7 496.8,53.6 497.7,52.8 498.5,52.4 499.3,54.1 500.1,56.7 500.9,54.7 501.7,53.0 502.5,53.7 503.3,56.5 504.1,59.0 504.9,54.9 505.7,60.8 506.5,57.1 507.3,54.2 508.1,55.1 508.9,63.0 509.8,55.4 510.6,53.8 511.4,56.7 512.2,53.7 513.0,53.8 513.8,57.7 514.6,56.2 515.4,54.3 516.2,54.5 517.0,56.9 517.8,57.9 518.6,56.5 519.4,55.6 520.2,56.4 521.0,57.2 521.9,58.3 521.9,79.3 374.2,79.3" fill="url(#gb9)"/>
<polygon points="520.1,83.8 521.9,79.3 521.9,58.3 520.1,62.5" fill="#f050c8"/>
<polygon points="370.2,81.9 371.0,79.0 371.8,71.6 372.6,72.9 373.4,70.9 374.3,67.9 375.1,66.5 375.9,65.5 376.7,65.7 377.5,66.2 378.4,64.0 379.2,61.1 380.0,62.3 380.8,65.1 381.6,63.1 382.5,62.1 383.3,61.8 384.1,60.0 384.9,61.2 385.7,66.7 386.6,70.5 387.4,67.6 388.2,65.1 389.0,66.6 389.8,64.8 390.7,63.6 391.5,62.4 392.3,61.3 393.1,59.9 393.9,58.3 394.8,57.5 395.6,57.6 396.4,58.5 397.2,68.6 398.0,57.4 398.9,54.9 399.7,53.9 400.5,50.0 401.3,49.5 402.1,53.3 402.9,52.0 403.8,51.4 404.6,52.7 405.4,50.0 406.2,48.1 407.0,48.3 407.9,51.0 408.7,54.9 409.5,56.9 410.3,57.3 411.1,56.3 412.0,56.6 412.8,55.5 413.6,52.4 414.4,50.1 415.2,51.0 416.1,54.2 416.9,52.8 417.7,51.9 418.5,55.4 419.3,57.0 420.2,53.3 421.0,47.6 421.8,45.4 422.6,47.6 423.4,49.0 424.3,48.4 425.1,49.0 425.9,51.7 426.7,52.6 427.5,48.9 428.4,47.4 429.2,48.1 430.0,45.7 430.8,45.0 431.6,47.1 432.5,48.3 433.3,47.8 434.1,41.8 434.9,41.4 435.7,46.2 436.5,44.2 437.4,41.8 438.2,41.7 439.0,46.1 439.8,51.6 440.6,52.5 441.5,53.9 442.3,56.7 443.1,53.6 443.9,51.4 444.7,52.0 445.6,55.6 446.4,56.0 447.2,53.4 448.0,50.9 448.8,48.8 449.7,47.4 450.5,47.6 451.3,45.2 452.1,41.6 452.9,40.7 453.8,42.3 454.6,44.9 455.4,43.9 456.2,42.7 457.0,44.1 457.9,46.5 458.7,46.1 459.5,41.3 460.3,40.3 461.1,44.1 462.0,44.0 462.8,43.0 463.6,43.2 464.4,44.2 465.2,42.6 466.1,40.1 466.9,39.5 467.7,42.0 468.5,45.5 469.3,44.7 470.1,41.0 471.0,39.5 471.8,42.3 472.6,46.6 473.4,47.0 474.2,45.5 475.1,44.2 475.9,44.0 476.7,45.1 477.5,47.6 478.3,44.1 479.2,48.7 480.0,49.9 480.8,53.7 481.6,49.6 482.4,51.9 483.3,54.8 484.1,51.9 484.9,50.7 485.7,53.1 486.5,50.4 487.4,51.7 488.2,54.2 489.0,52.6 489.8,51.3 490.6,51.8 491.5,50.5 492.3,47.8 493.1,49.6 493.9,55.9 494.7,57.8 495.6,56.9 496.4,56.5 497.2,58.2 498.0,60.9 498.8,58.9 499.7,57.2 500.5,57.9 501.3,60.7 502.1,63.2 502.9,59.1 503.7,65.1 504.6,61.3 505.4,58.4 506.2,59.3 507.0,67.3 507.8,59.6 508.7,57.9 509.5,60.9 510.3,57.9 511.1,58.0 511.9,61.9 512.8,60.4 513.6,58.4 514.4,58.7 515.2,61.1 516.0,62.1 516.9,60.7 517.7,59.8 518.5,60.6 519.3,61.5 520.1,62.5 520.1,83.8 370.2,83.8" fill="url(#gb9)"/>
<polyline points="374.2,77.4 375.0,74.5 375.8,67.3 376.6,68.5 377.4,66.5 378.2,63.6 379.0,62.2 379.9,61.2 380.7,61.5 381.5,61.9 382.3,59.8 383.1,56.9 383.9,58.1 384.7,60.8 385.5,58.8 386.3,57.9 387.1,57.6 387.9,55.8 388.7,57.0 389.5,62.4 390.3,66.2 391.2,63.3 392.0,60.9 392.8,62.3 393.6,60.6 394.4,59.3 395.2,58.2 396.0,57.1 396.8,55.7 397.6,54.2 398.4,53.3 399.2,53.4 400.0,54.3 400.8,64.3 401.6,53.2 402.4,50.8 403.3,49.8 404.1,46.0 404.9,45.4 405.7,49.2 406.5,47.9 407.3,47.3 408.1,48.6 408.9,45.9 409.7,44.1 410.5,44.3 411.3,46.9 412.1,50.8 412.9,52.8 413.7,53.2 414.5,52.2 415.4,52.4 416.2,51.4 417.0,48.3 417.8,46.1 418.6,46.9 419.4,50.1 420.2,48.7 421.0,47.9 421.8,51.3 422.6,52.8 423.4,49.3 424.2,43.6 425.0,41.5 425.8,43.6 426.7,45.0 427.5,44.4 428.3,45.0 429.1,47.7 429.9,48.6 430.7,44.9 431.5,43.5 432.3,44.1 433.1,41.7 433.9,41.1 434.7,43.1 435.5,44.3 436.3,43.8 437.1,37.9 437.9,37.5 438.8,42.2 439.6,40.2 440.4,37.9 441.2,37.8 442.0,42.1 442.8,47.5 443.6,48.4 444.4,49.8 445.2,52.6 446.0,49.6 446.8,47.4 447.6,47.9 448.4,51.4 449.2,51.9 450.0,49.3 450.9,46.9 451.7,44.8 452.5,43.5 453.3,43.6 454.1,41.2 454.9,37.7 455.7,36.8 456.5,38.4 457.3,41.0 458.1,39.9 458.9,38.8 459.7,40.2 460.5,42.5 461.3,42.2 462.2,37.4 463.0,36.4 463.8,40.1 464.6,40.0 465.4,39.1 466.2,39.3 467.0,40.3 467.8,38.7 468.6,36.2 469.4,35.7 470.2,38.1 471.0,41.5 471.8,40.8 472.6,37.1 473.4,35.7 474.3,38.4 475.1,42.7 475.9,43.0 476.7,41.5 477.5,40.3 478.3,40.1 479.1,41.2 479.9,43.6 480.7,40.2 481.5,44.7 482.3,45.9 483.1,49.6 483.9,45.5 484.7,47.8 485.5,50.7 486.4,47.8 487.2,46.7 488.0,49.1 488.8,46.4 489.6,47.6 490.4,50.1 491.2,48.6 492.0,47.2 492.8,47.7 493.6,46.5 494.4,43.8 495.2,45.5 496.0,51.7 496.8,53.6 497.7,52.8 498.5,52.4 499.3,54.1 500.1,56.7 500.9,54.7 501.7,53.0 502.5,53.7 503.3,56.5 504.1,59.0 504.9,54.9 505.7,60.8 506.5,57.1 507.3,54.2 508.1,55.1 508.9,63.0 509.8,55.4 510.6,53.8 511.4,56.7 512.2,53.7 513.0,53.8 513.8,57.7 514.6,56.2 515.4,54.3 516.2,54.5 517.0,56.9 517.8,57.9 518.6,56.5 519.4,55.6 520.2,56.4 521.0,57.2 521.9,58.3" fill="none" stroke="#e02818" stroke-width="0.6"/>
<path d="M373.3 78.1h1.9l-0.9 -1.9zM374.9 68.0h1.9l-0.9 -1.9zM376.5 67.3h1.9l-0.9 -1.9zM378.1 63.0h1.9l-0.9 -1.9zM379.7 62.2h1.9l-0.9 -1.9zM381.3 60.5h1.9l-0.9 -1.9zM383.0 58.8h1.9l-0.9 -1.9zM384.6 59.6h1.9l-0.9 -1.9zM386.2 58.4h1.9l-0.9 -1.9zM387.8 57.8h1.9l-0.9 -1.9zM389.4 66.9h1.9l-0.9 -1.9zM391.0 61.6h1.9l-0.9 -1.9zM392.6 61.3h1.9l-0.9 -1.9zM394.3 58.9h1.9l-0.9 -1.9zM395.9 56.4h1.9l-0.9 -1.9zM397.5 54.1h1.9l-0.9 -1.9zM399.1 55.1h1.9l-0.9 -1.9zM400.7 54.0h1.9l-0.9 -1.9zM402.3 50.6h1.9l-0.9 -1.9zM403.9 46.2h1.9l-0.9 -1.9zM405.5 48.7h1.9l-0.9 -1.9zM407.2 49.4h1.9l-0.9 -1.9zM408.8 44.8h1.9l-0.9 -1.9zM410.4 47.7h1.9l-0.9 -1.9zM412.0 53.5h1.9l-0.9 -1.9zM413.6 52.9h1.9l-0.9 -1.9zM415.2 52.2h1.9l-0.9 -1.9zM416.8 46.8h1.9l-0.9 -1.9zM418.5 50.8h1.9l-0.9 -1.9zM420.1 48.6h1.9l-0.9 -1.9zM421.7 53.6h1.9l-0.9 -1.9zM423.3 44.3h1.9l-0.9 -1.9zM424.9 44.3h1.9l-0.9 -1.9zM426.5 45.2h1.9l-0.9 -1.9zM428.1 48.4h1.9l-0.9 -1.9zM429.8 45.6h1.9l-0.9 -1.9zM431.4 44.8h1.9l-0.9 -1.9zM433.0 41.8h1.9l-0.9 -1.9zM434.6 45.0h1.9l-0.9 -1.9zM436.2 38.7h1.9l-0.9 -1.9zM437.8 42.9h1.9l-0.9 -1.9zM439.4 38.7h1.9l-0.9 -1.9zM441.0 42.8h1.9l-0.9 -1.9zM442.7 49.1h1.9l-0.9 -1.9zM444.3 53.3h1.9l-0.9 -1.9zM445.9 48.1h1.9l-0.9 -1.9zM447.5 52.2h1.9l-0.9 -1.9zM449.1 50.0h1.9l-0.9 -1.9zM450.7 45.6h1.9l-0.9 -1.9zM452.3 44.4h1.9l-0.9 -1.9zM454.0 38.5h1.9l-0.9 -1.9zM455.6 39.1h1.9l-0.9 -1.9zM457.2 40.7h1.9l-0.9 -1.9zM458.8 40.9h1.9l-0.9 -1.9zM460.4 42.9h1.9l-0.9 -1.9zM462.0 37.1h1.9l-0.9 -1.9zM463.6 40.8h1.9l-0.9 -1.9zM465.3 40.1h1.9l-0.9 -1.9zM466.9 39.4h1.9l-0.9 -1.9zM468.5 36.4h1.9l-0.9 -1.9zM470.1 42.3h1.9l-0.9 -1.9zM471.7 37.9h1.9l-0.9 -1.9zM473.3 39.1h1.9l-0.9 -1.9zM474.9 43.7h1.9l-0.9 -1.9zM476.5 41.0h1.9l-0.9 -1.9zM478.2 41.9h1.9l-0.9 -1.9zM479.8 41.0h1.9l-0.9 -1.9zM481.4 46.6h1.9l-0.9 -1.9zM483.0 46.3h1.9l-0.9 -1.9zM484.6 51.4h1.9l-0.9 -1.9zM486.2 47.4h1.9l-0.9 -1.9zM487.8 47.1h1.9l-0.9 -1.9zM489.5 50.9h1.9l-0.9 -1.9zM491.1 48.0h1.9l-0.9 -1.9zM492.7 47.3h1.9l-0.9 -1.9zM494.3 46.3h1.9l-0.9 -1.9zM495.9 54.4h1.9l-0.9 -1.9zM497.5 53.1h1.9l-0.9 -1.9zM499.1 57.4h1.9l-0.9 -1.9zM500.8 53.8h1.9l-0.9 -1.9zM502.4 57.2h1.9l-0.9 -1.9zM504.0 55.7h1.9l-0.9 -1.9zM505.6 57.9h1.9l-0.9 -1.9zM507.2 55.9h1.9l-0.9 -1.9zM508.8 56.2h1.9l-0.9 -1.9zM510.4 57.5h1.9l-0.9 -1.9zM512.0 54.6h1.9l-0.9 -1.9zM513.7 57.0h1.9l-0.9 -1.9zM515.3 55.3h1.9l-0.9 -1.9zM516.9 58.7h1.9l-0.9 -1.9zM518.5 56.4h1.9l-0.9 -1.9zM520.1 58.0h1.9l-0.9 -1.9z" fill="#e02818"/>
<polygon points="368.4,82.2 369.2,79.3 370.0,74.7 370.9,74.8 371.7,73.8 372.5,71.2 373.3,68.2 374.2,66.7 375.0,67.0 375.8,67.4 376.6,64.7 377.5,61.5 378.3,68.4 379.1,65.4 379.9,63.3 380.8,62.1 381.6,61.9 382.4,60.2 383.2,62.0 384.1,67.6 384.9,70.5 385.7,67.2 386.5,65.9 387.4,67.8 388.2,65.3 389.0,63.3 389.8,63.2 390.7,63.6 391.5,60.9 392.3,63.5 393.1,58.6 394.0,60.0 394.8,68.9 395.6,61.8 396.5,59.5 397.3,57.0 398.1,56.1 398.9,52.9 399.8,52.6 400.6,55.4 401.4,54.0 402.2,54.6 403.1,56.4 403.9,52.8 404.7,50.0 405.5,51.3 406.4,55.3 407.2,58.1 408.0,59.1 408.8,60.2 409.7,59.8 410.5,59.9 411.3,58.9 412.1,55.6 413.0,53.4 413.8,54.5 414.6,57.6 415.4,56.0 416.3,62.8 417.1,60.0 417.9,60.6 418.7,55.9 419.6,51.1 420.4,49.3 421.2,51.2 422.0,52.6 422.9,52.0 423.7,51.8 424.5,54.4 425.3,56.5 426.2,52.1 427.0,49.5 427.8,50.4 428.6,48.7 429.5,48.2 430.3,49.0 431.1,50.1 431.9,50.1 432.8,44.7 433.6,44.1 434.4,48.0 435.2,46.3 436.1,44.7 436.9,45.1 437.7,49.5 438.5,54.4 439.4,55.5 440.2,57.5 441.0,61.0 441.8,58.4 442.7,55.1 443.5,56.0 444.3,60.3 445.1,61.5 446.0,59.0 446.8,55.5 447.6,53.6 448.4,53.1 449.3,61.7 450.1,50.3 450.9,46.7 451.7,46.4 452.6,55.0 453.4,50.1 454.2,48.1 455.0,48.0 455.9,49.9 456.7,51.0 457.5,50.7 458.3,46.5 459.2,44.9 460.0,47.9 460.8,47.7 461.6,47.6 462.5,46.9 463.3,47.2 464.1,46.5 464.9,43.5 465.8,41.8 466.6,45.1 467.4,49.3 468.2,46.8 469.1,42.8 469.9,42.6 470.7,46.1 471.5,48.9 472.4,49.0 473.2,48.5 474.0,47.0 474.8,46.2 475.7,47.4 476.5,45.2 477.3,46.1 478.1,51.3 479.0,52.2 479.8,51.0 480.6,51.2 481.4,54.2 482.3,55.2 483.1,52.5 483.9,52.5 484.7,53.9 485.6,49.8 486.4,51.0 487.2,54.6 488.0,52.8 488.9,50.7 489.7,51.2 490.5,50.0 491.3,47.2 492.2,49.0 493.0,55.3 493.8,57.5 494.6,56.5 495.5,55.9 496.3,58.0 497.1,61.0 497.9,59.1 498.8,57.3 499.6,58.2 500.4,61.4 501.2,63.9 502.1,60.0 502.9,59.2 503.7,62.0 504.5,59.3 505.4,60.1 506.2,62.8 507.0,60.1 507.8,58.6 508.7,60.5 509.5,56.9 510.3,57.5 511.1,60.6 512.0,58.6 512.8,56.3 513.6,55.4 514.4,57.2 515.3,58.1 516.1,56.6 516.9,55.4 517.7,54.6 518.6,55.9 519.4,58.3 519.4,85.8 368.4,85.8" fill="url(#gb8)"/>
<polygon points="517.6,90.6 519.4,85.8 519.4,58.3 517.6,62.6" fill="#6470f0"/>
<polygon points="364.2,86.9 365.0,84.0 365.8,79.2 366.7,79.4 367.5,78.4 368.4,75.7 369.2,72.7 370.0,71.1 370.9,71.5 371.7,71.8 372.6,69.2 373.4,65.9 374.2,72.9 375.1,69.8 375.9,67.7 376.7,66.5 377.6,66.3 378.4,64.5 379.3,66.4 380.1,72.1 380.9,75.0 381.8,71.7 382.6,70.3 383.5,72.3 384.3,69.8 385.1,67.7 386.0,67.6 386.8,68.0 387.6,65.2 388.5,67.9 389.3,62.9 390.2,64.4 391.0,73.4 391.8,66.2 392.7,63.8 393.5,61.3 394.4,60.4 395.2,57.1 396.0,56.8 396.9,59.6 397.7,58.2 398.5,58.9 399.4,60.7 400.2,57.0 401.1,54.2 401.9,55.5 402.7,59.5 403.6,62.4 404.4,63.4 405.3,64.5 406.1,64.1 406.9,64.3 407.8,63.2 408.6,59.9 409.4,57.6 410.3,58.7 411.1,61.9 412.0,60.3 412.8,67.2 413.6,64.4 414.5,65.0 415.3,60.1 416.1,55.3 417.0,53.5 417.8,55.4 418.7,56.8 419.5,56.2 420.3,56.0 421.2,58.7 422.0,60.8 422.9,56.3 423.7,53.7 424.5,54.6 425.4,52.8 426.2,52.3 427.0,53.2 427.9,54.3 428.7,54.3 429.6,48.8 430.4,48.2 431.2,52.1 432.1,50.4 432.9,48.8 433.8,49.2 434.6,53.6 435.4,58.7 436.3,59.8 437.1,61.8 437.9,65.4 438.8,62.7 439.6,59.4 440.5,60.2 441.3,64.7 442.1,65.9 443.0,63.3 443.8,59.7 444.7,57.9 445.5,57.3 446.3,66.1 447.2,54.5 448.0,50.8 448.8,50.5 449.7,59.2 450.5,54.3 451.4,52.2 452.2,52.2 453.0,54.1 453.9,55.2 454.7,54.9 455.6,50.6 456.4,49.0 457.2,52.0 458.1,51.9 458.9,51.7 459.7,51.1 460.6,51.3 461.4,50.7 462.3,47.6 463.1,45.9 463.9,49.2 464.8,53.4 465.6,50.9 466.5,46.9 467.3,46.6 468.1,50.3 469.0,53.1 469.8,53.1 470.6,52.7 471.5,51.1 472.3,50.4 473.2,51.6 474.0,49.3 474.8,50.2 475.7,55.5 476.5,56.4 477.3,55.2 478.2,55.4 479.0,58.5 479.9,59.5 480.7,56.7 481.5,56.7 482.4,58.2 483.2,53.9 484.1,55.2 484.9,58.9 485.7,57.0 486.6,54.8 487.4,55.4 488.2,54.1 489.1,51.4 489.9,53.2 490.8,59.6 491.6,61.8 492.4,60.8 493.3,60.2 494.1,62.3 495.0,65.4 495.8,63.4 496.6,61.6 497.5,62.5 498.3,65.7 499.1,68.3 500.0,64.3 500.8,63.5 501.7,66.4 502.5,63.7 503.3,64.5 504.2,67.2 505.0,64.4 505.9,62.9 506.7,64.9 507.5,61.2 508.4,61.8 509.2,64.9 510.0,62.9 510.9,60.5 511.7,59.7 512.6,61.5 513.4,62.4 514.2,60.9 515.1,59.7 515.9,58.8 516.8,60.2 517.6,62.6 517.6,90.6 364.2,90.6" fill="url(#gb8)"/>
<polyline points="368.4,82.2 369.2,79.3 370.0,74.7 370.9,74.8 371.7,73.8 372.5,71.2 373.3,68.2 374.2,66.7 375.0,67.0 375.8,67.4 376.6,64.7 377.5,61.5 378.3,68.4 379.1,65.4 379.9,63.3 380.8,62.1 381.6,61.9 382.4,60.2 383.2,62.0 384.1,67.6 384.9,70.5 385.7,67.2 386.5,65.9 387.4,67.8 388.2,65.3 389.0,63.3 389.8,63.2 390.7,63.6 391.5,60.9 392.3,63.5 393.1,58.6 394.0,60.0 394.8,68.9 395.6,61.8 396.5,59.5 397.3,57.0 398.1,56.1 398.9,52.9 399.8,52.6 400.6,55.4 401.4,54.0 402.2,54.6 403.1,56.4 403.9,52.8 404.7,50.0 405.5,51.3 406.4,55.3 407.2,58.1 408.0,59.1 408.8,60.2 409.7,59.8 410.5,59.9 411.3,58.9 412.1,55.6 413.0,53.4 413.8,54.5 414.6,57.6 415.4,56.0 416.3,62.8 417.1,60.0 417.9,60.6 418.7,55.9 419.6,51.1 420.4,49.3 421.2,51.2 422.0,52.6 422.9,52.0 423.7,51.8 424.5,54.4 425.3,56.5 426.2,52.1 427.0,49.5 427.8,50.4 428.6,48.7 429.5,48.2 430.3,49.0 431.1,50.1 431.9,50.1 432.8,44.7 433.6,44.1 434.4,48.0 435.2,46.3 436.1,44.7 436.9,45.1 437.7,49.5 438.5,54.4 439.4,55.5 440.2,57.5 441.0,61.0 441.8,58.4 442.7,55.1 443.5,56.0 444.3,60.3 445.1,61.5 446.0,59.0 446.8,55.5 447.6,53.6 448.4,53.1 449.3,61.7 450.1,50.3 450.9,46.7 451.7,46.4 452.6,55.0 453.4,50.1 454.2,48.1 455.0,48.0 455.9,49.9 456.7,51.0 457.5,50.7 458.3,46.5 459.2,44.9 460.0,47.9 460.8,47.7 461.6,47.6 462.5,46.9 463.3,47.2 464.1,46.5 464.9,43.5 465.8,41.8 466.6,45.1 467.4,49.3 468.2,46.8 469.1,42.8 469.9,42.6 470.7,46.1 471.5,48.9 472.4,49.0 473.2,48.5 474.0,47.0 474.8,46.2 475.7,47.4 476.5,45.2 477.3,46.1 478.1,51.3 479.0,52.2 479.8,51.0 480.6,51.2 481.4,54.2 482.3,55.2 483.1,52.5 483.9,52.5 484.7,53.9 485.6,49.8 486.4,51.0 487.2,54.6 488.0,52.8 488.9,50.7 489.7,51.2 490.5,50.0 491.3,47.2 492.2,49.0 493.0,55.3 493.8,57.5 494.6,56.5 495.5,55.9 496.3,58.0 497.1,61.0 497.9,59.1 498.8,57.3 499.6,58.2 500.4,61.4 501.2,63.9 502.1,60.0 502.9,59.2 503.7,62.0 504.5,59.3 505.4,60.1 506.2,62.8 507.0,60.1 507.8,58.6 508.7,60.5 509.5,56.9 510.3,57.5 511.1,60.6 512.0,58.6 512.8,56.3 513.6,55.4 514.4,57.2 515.3,58.1 516.1,56.6 516.9,55.4 517.7,54.6 518.6,55.9 519.4,58.3" fill="none" stroke="#7020e0" stroke-width="0.6"/>
<path d="M367.4 83.0h1.9l-1.0 -1.9zM369.1 75.4h1.9l-1.0 -1.9zM370.7 74.6h1.9l-1.0 -1.9zM372.4 69.0h1.9l-1.0 -1.9zM374.0 67.8h1.9l-1.0 -1.9zM375.7 65.5h1.9l-1.0 -1.9zM377.3 69.2h1.9l-1.0 -1.9zM379.0 64.0h1.9l-1.0 -1.9zM380.6 62.7h1.9l-1.0 -1.9zM382.3 62.7h1.9l-1.0 -1.9zM383.9 71.3h1.9l-1.0 -1.9zM385.6 66.6h1.9l-1.0 -1.9zM387.2 66.1h1.9l-1.0 -1.9zM388.9 63.9h1.9l-1.0 -1.9zM390.5 61.6h1.9l-1.0 -1.9zM392.2 59.4h1.9l-1.0 -1.9zM393.8 69.6h1.9l-1.0 -1.9zM395.5 60.2h1.9l-1.0 -1.9zM397.1 56.9h1.9l-1.0 -1.9zM398.8 53.4h1.9l-1.0 -1.9zM400.4 54.7h1.9l-1.0 -1.9zM402.1 57.2h1.9l-1.0 -1.9zM403.7 50.8h1.9l-1.0 -1.9zM405.4 56.0h1.9l-1.0 -1.9zM407.0 59.9h1.9l-1.0 -1.9zM408.7 60.5h1.9l-1.0 -1.9zM410.3 59.6h1.9l-1.0 -1.9zM412.0 54.2h1.9l-1.0 -1.9zM413.6 58.3h1.9l-1.0 -1.9zM415.3 63.6h1.9l-1.0 -1.9zM417.0 61.4h1.9l-1.0 -1.9zM418.6 51.9h1.9l-1.0 -1.9zM420.3 51.9h1.9l-1.0 -1.9zM421.9 52.7h1.9l-1.0 -1.9zM423.6 55.2h1.9l-1.0 -1.9zM425.2 52.9h1.9l-1.0 -1.9zM426.9 51.1h1.9l-1.0 -1.9zM428.5 48.9h1.9l-1.0 -1.9zM430.2 50.9h1.9l-1.0 -1.9zM431.8 45.4h1.9l-1.0 -1.9zM433.5 48.7h1.9l-1.0 -1.9zM435.1 45.5h1.9l-1.0 -1.9zM436.8 50.2h1.9l-1.0 -1.9zM438.4 56.3h1.9l-1.0 -1.9zM440.1 61.8h1.9l-1.0 -1.9zM441.7 55.9h1.9l-1.0 -1.9zM443.4 61.1h1.9l-1.0 -1.9zM445.0 59.8h1.9l-1.0 -1.9zM446.7 54.4h1.9l-1.0 -1.9zM448.3 62.4h1.9l-1.0 -1.9zM450.0 47.5h1.9l-1.0 -1.9zM451.6 55.7h1.9l-1.0 -1.9zM453.3 48.8h1.9l-1.0 -1.9zM454.9 50.7h1.9l-1.0 -1.9zM456.6 51.5h1.9l-1.0 -1.9zM458.2 45.7h1.9l-1.0 -1.9zM459.9 48.5h1.9l-1.0 -1.9zM461.5 47.7h1.9l-1.0 -1.9zM463.2 47.3h1.9l-1.0 -1.9zM464.8 42.6h1.9l-1.0 -1.9zM466.5 50.0h1.9l-1.0 -1.9zM468.1 43.6h1.9l-1.0 -1.9zM469.8 46.9h1.9l-1.0 -1.9zM471.4 49.7h1.9l-1.0 -1.9zM473.1 47.8h1.9l-1.0 -1.9zM474.7 48.2h1.9l-1.0 -1.9zM476.4 46.9h1.9l-1.0 -1.9zM478.0 52.9h1.9l-1.0 -1.9zM479.7 52.0h1.9l-1.0 -1.9zM481.3 56.0h1.9l-1.0 -1.9zM483.0 53.2h1.9l-1.0 -1.9zM484.6 50.5h1.9l-1.0 -1.9zM486.3 55.4h1.9l-1.0 -1.9zM487.9 51.4h1.9l-1.0 -1.9zM489.6 50.7h1.9l-1.0 -1.9zM491.2 49.8h1.9l-1.0 -1.9zM492.9 58.3h1.9l-1.0 -1.9zM494.5 56.7h1.9l-1.0 -1.9zM496.2 61.8h1.9l-1.0 -1.9zM497.8 58.1h1.9l-1.0 -1.9zM499.5 62.1h1.9l-1.0 -1.9zM501.1 60.7h1.9l-1.0 -1.9zM502.8 62.7h1.9l-1.0 -1.9zM504.4 60.9h1.9l-1.0 -1.9zM506.1 60.8h1.9l-1.0 -1.9zM507.7 61.3h1.9l-1.0 -1.9zM509.4 58.2h1.9l-1.0 -1.9zM511.0 59.3h1.9l-1.0 -1.9zM512.7 56.2h1.9l-1.0 -1.9zM514.3 58.9h1.9l-1.0 -1.9zM516.0 56.2h1.9l-1.0 -1.9zM517.6 56.7h1.9l-1.0 -1.9z" fill="#7020e0"/>
<polygon points="362.3,89.4 363.2,86.4 364.0,81.5 364.9,82.6 365.7,81.8 366.5,77.7 367.4,75.4 368.2,74.9 369.1,74.9 369.9,74.3 370.8,71.4 371.6,69.0 372.4,70.0 373.3,72.7 374.1,70.5 375.0,68.2 375.8,68.4 376.7,68.0 377.5,68.2 378.4,73.2 379.2,77.6 380.0,74.5 380.9,72.1 381.7,74.2 382.6,72.7 383.4,70.5 384.3,69.3 385.1,75.5 386.0,68.2 386.8,65.4 387.6,65.3 388.5,67.1 389.3,67.4 390.2,68.8 391.0,72.9 391.9,63.9 392.7,63.7 393.6,65.4 394.4,59.5 395.2,62.5 396.1,62.7 396.9,63.6 397.8,64.7 398.6,61.1 399.5,58.8 400.3,60.5 401.2,64.2 402.0,67.3 402.8,68.6 403.7,70.1 404.5,69.9 405.4,69.0 406.2,67.7 407.1,64.7 407.9,63.0 408.7,64.1 409.6,65.9 410.4,64.0 411.3,64.4 412.1,68.6 413.0,68.9 413.8,63.7 414.7,58.7 415.5,56.9 416.3,58.6 417.2,60.1 418.0,68.1 418.9,59.3 419.7,61.9 420.6,63.8 421.4,59.4 422.3,56.9 423.1,58.2 423.9,56.4 424.8,55.0 425.6,56.1 426.5,58.2 427.3,58.7 428.2,52.0 429.0,50.6 429.9,55.4 430.7,54.5 431.5,52.5 432.4,52.2 433.2,56.2 434.1,62.1 434.9,64.4 435.8,65.9 436.6,68.5 437.4,65.2 438.3,63.2 439.1,65.3 440.0,69.0 440.8,69.9 441.7,76.0 442.5,64.3 443.4,63.3 444.2,63.9 445.0,63.0 445.9,59.4 446.7,56.6 447.6,57.1 448.4,59.5 449.3,61.0 450.1,59.0 451.0,59.1 451.8,61.0 452.6,62.6 453.5,62.0 454.3,57.5 455.2,56.9 456.0,59.8 456.9,58.6 457.7,57.7 458.6,58.2 459.4,58.7 460.2,56.6 461.1,53.7 461.9,52.7 462.8,55.0 463.6,58.4 464.5,57.3 465.3,53.4 466.2,51.7 467.0,54.5 467.8,58.8 468.7,59.1 469.5,57.5 470.4,56.1 471.2,56.3 472.1,57.9 472.9,54.0 473.7,56.0 474.6,62.2 475.4,62.0 476.3,60.8 477.1,61.7 478.0,64.3 478.8,65.9 479.7,62.8 480.5,62.1 481.3,64.9 482.2,60.7 483.0,61.1 483.9,65.0 484.7,63.0 485.6,60.7 486.4,61.3 487.3,59.7 488.1,56.6 488.9,59.1 489.8,65.7 490.6,66.9 491.5,65.8 492.3,65.6 493.2,67.7 494.0,70.6 494.9,68.4 495.7,66.5 496.5,67.3 497.4,70.4 498.2,72.8 499.1,69.0 499.9,67.6 500.8,69.6 501.6,67.7 502.5,68.8 503.3,70.2 504.1,67.1 505.0,65.7 505.8,68.0 506.7,64.0 507.5,63.5 508.4,67.3 509.2,65.9 510.0,62.1 510.9,60.9 511.7,63.7 512.6,65.2 513.4,62.7 514.3,67.4 515.1,60.3 516.0,62.2 516.8,64.2 516.8,92.7 362.3,92.7" fill="url(#gb7)"/>
<polygon points="514.9,97.7 516.8,92.7 516.8,64.2 514.9,68.7" fill="#c8f8f8"/>
<polygon points="357.9,94.4 358.8,91.3 359.6,86.3 360.5,87.4 361.3,86.6 362.2,82.5 363.0,80.1 363.9,79.6 364.8,79.6 365.6,79.0 366.5,76.0 367.3,73.6 368.2,74.6 369.0,77.4 369.9,75.1 370.8,72.8 371.6,73.0 372.5,72.6 373.3,72.7 374.2,77.9 375.1,82.3 375.9,79.2 376.8,76.7 377.6,78.9 378.5,77.4 379.3,75.1 380.2,73.9 381.1,80.2 381.9,72.8 382.8,69.9 383.6,69.8 384.5,71.7 385.4,71.9 386.2,73.4 387.1,77.5 387.9,68.5 388.8,68.2 389.6,70.0 390.5,63.9 391.4,67.0 392.2,67.2 393.1,68.1 393.9,69.2 394.8,65.5 395.6,63.3 396.5,64.9 397.4,68.7 398.2,71.9 399.1,73.2 399.9,74.7 400.8,74.5 401.7,73.6 402.5,72.2 403.4,69.3 404.2,67.5 405.1,68.6 405.9,70.4 406.8,68.6 407.7,68.9 408.5,73.2 409.4,73.5 410.2,68.2 411.1,63.1 412.0,61.3 412.8,63.0 413.7,64.5 414.5,72.7 415.4,63.7 416.2,66.4 417.1,68.3 418.0,63.9 418.8,61.3 419.7,62.6 420.5,60.8 421.4,59.3 422.2,60.4 423.1,62.6 424.0,63.1 424.8,56.3 425.7,54.8 426.5,59.7 427.4,58.9 428.3,56.8 429.1,56.5 430.0,60.6 430.8,66.6 431.7,68.9 432.5,70.4 433.4,73.1 434.3,69.8 435.1,67.7 436.0,69.8 436.8,73.6 437.7,74.5 438.6,80.7 439.4,68.8 440.3,67.8 441.1,68.4 442.0,67.5 442.8,63.9 443.7,61.0 444.6,61.5 445.4,64.0 446.3,65.5 447.1,63.4 448.0,63.6 448.8,65.4 449.7,67.1 450.6,66.5 451.4,61.9 452.3,61.3 453.1,64.3 454.0,63.0 454.9,62.2 455.7,62.6 456.6,63.1 457.4,60.9 458.3,58.0 459.1,57.0 460.0,59.4 460.9,62.8 461.7,61.7 462.6,57.7 463.4,56.0 464.3,58.8 465.2,63.2 466.0,63.5 466.9,61.9 467.7,60.5 468.6,60.7 469.4,62.3 470.3,58.4 471.2,60.3 472.0,66.6 472.9,66.5 473.7,65.2 474.6,66.1 475.4,68.8 476.3,70.5 477.2,67.3 478.0,66.6 478.9,69.5 479.7,65.2 480.6,65.6 481.5,69.6 482.3,67.5 483.2,65.2 484.0,65.7 484.9,64.2 485.7,61.0 486.6,63.5 487.5,70.2 488.3,71.4 489.2,70.3 490.0,70.2 490.9,72.3 491.8,75.3 492.6,73.0 493.5,71.0 494.3,71.8 495.2,75.0 496.0,77.4 496.9,73.5 497.8,72.2 498.6,74.2 499.5,72.2 500.3,73.4 501.2,74.8 502.0,71.7 502.9,70.2 503.8,72.6 504.6,68.6 505.5,68.0 506.3,71.9 507.2,70.4 508.1,66.6 508.9,65.4 509.8,68.2 510.6,69.7 511.5,67.2 512.3,72.0 513.2,64.7 514.1,66.6 514.9,68.7 514.9,97.7 357.9,97.7" fill="url(#gb7)"/>
<polyline points="362.3,89.4 363.2,86.4 364.0,81.5 364.9,82.6 365.7,81.8 366.5,77.7 367.4,75.4 368.2,74.9 369.1,74.9 369.9,74.3 370.8,71.4 371.6,69.0 372.4,70.0 373.3,72.7 374.1,70.5 375.0,68.2 375.8,68.4 376.7,68.0 377.5,68.2 378.4,73.2 379.2,77.6 380.0,74.5 380.9,72.1 381.7,74.2 382.6,72.7 383.4,70.5 384.3,69.3 385.1,75.5 386.0,68.2 386.8,65.4 387.6,65.3 388.5,67.1 389.3,67.4 390.2,68.8 391.0,72.9 391.9,63.9 392.7,63.7 393.6,65.4 394.4,59.5 395.2,62.5 396.1,62.7 396.9,63.6 397.8,64.7 398.6,61.1 399.5,58.8 400.3,60.5 401.2,64.2 402.0,67.3 402.8,68.6 403.7,70.1 404.5,69.9 405.4,69.0 406.2,67.7 407.1,64.7 407.9,63.0 408.7,64.1 409.6,65.9 410.4,64.0 411.3,64.4 412.1,68.6 413.0,68.9 413.8,63.7 414.7,58.7 415.5,56.9 416.3,58.6 417.2,60.1 418.0,68.1 418.9,59.3 419.7,61.9 420.6,63.8 421.4,59.4 422.3,56.9 423.1,58.2 423.9,56.4 424.8,55.0 425.6,56.1 426.5,58.2 427.3,58.7 428.2,52.0 429.0,50.6 429.9,55.4 430.7,54.5 431.5,52.5 432.4,52.2 433.2,56.2 434.1,62.1 434.9,64.4 435.8,65.9 436.6,68.5 437.4,65.2 438.3,63.2 439.1,65.3 440.0,69.0 440.8,69.9 441.7,76.0 442.5,64.3 443.4,63.3 444.2,63.9 445.0,63.0 445.9,59.4 446.7,56.6 447.6,57.1 448.4,59.5 449.3,61.0 450.1,59.0 451.0,59.1 451.8,61.0 452.6,62.6 453.5,62.0 454.3,57.5 455.2,56.9 456.0,59.8 456.9,58.6 457.7,57.7 458.6,58.2 459.4,58.7 460.2,56.6 461.1,53.7 461.9,52.7 462.8,55.0 463.6,58.4 464.5,57.3 465.3,53.4 466.2,51.7 467.0,54.5 467.8,58.8 468.7,59.1 469.5,57.5 470.4,56.1 471.2,56.3 472.1,57.9 472.9,54.0 473.7,56.0 474.6,62.2 475.4,62.0 476.3,60.8 477.1,61.7 478.0,64.3 478.8,65.9 479.7,62.8 480.5,62.1 481.3,64.9 482.2,60.7 483.0,61.1 483.9,65.0 484.7,63.0 485.6,60.7 486.4,61.3 487.3,59.7 488.1,56.6 488.9,59.1 489.8,65.7 490.6,66.9 491.5,65.8 492.3,65.6 493.2,67.7 494.0,70.6 494.9,68.4 495.7,66.5 496.5,67.3 497.4,70.4 498.2,72.8 499.1,69.0 499.9,67.6 500.8,69.6 501.6,67.7 502.5,68.8 503.3,70.2 504.1,67.1 505.0,65.7 505.8,68.0 506.7,64.0 507.5,63.5 508.4,67.3 509.2,65.9 510.0,62.1 510.9,60.9 511.7,63.7 512.6,65.2 513.4,62.7 514.3,67.4 515.1,60.3 516.0,62.2 516.8,64.2" fill="none" stroke="#4040e0" stroke-width="0.6"/>
<path d="M361.3 90.2h1.9l-1.0 -1.9zM363.0 82.3h1.9l-1.0 -1.9zM364.7 82.6h1.9l-1.0 -1.9zM366.4 76.2h1.9l-1.0 -1.9zM368.1 75.7h1.9l-1.0 -1.9zM369.8 72.1h1.9l-1.0 -1.9zM371.5 70.8h1.9l-1.0 -1.9zM373.2 71.3h1.9l-1.0 -1.9zM374.9 69.2h1.9l-1.0 -1.9zM376.5 68.9h1.9l-1.0 -1.9zM378.2 78.4h1.9l-1.0 -1.9zM379.9 72.8h1.9l-1.0 -1.9zM381.6 73.5h1.9l-1.0 -1.9zM383.3 70.1h1.9l-1.0 -1.9zM385.0 69.0h1.9l-1.0 -1.9zM386.7 66.1h1.9l-1.0 -1.9zM388.4 68.1h1.9l-1.0 -1.9zM390.0 73.7h1.9l-1.0 -1.9zM391.7 64.5h1.9l-1.0 -1.9zM393.4 60.3h1.9l-1.0 -1.9zM395.1 63.5h1.9l-1.0 -1.9zM396.8 65.5h1.9l-1.0 -1.9zM398.5 59.6h1.9l-1.0 -1.9zM400.2 65.0h1.9l-1.0 -1.9zM401.9 69.4h1.9l-1.0 -1.9zM403.6 70.7h1.9l-1.0 -1.9zM405.2 68.5h1.9l-1.0 -1.9zM406.9 63.7h1.9l-1.0 -1.9zM408.6 66.6h1.9l-1.0 -1.9zM410.3 65.2h1.9l-1.0 -1.9zM412.0 69.7h1.9l-1.0 -1.9zM413.7 59.5h1.9l-1.0 -1.9zM415.4 59.4h1.9l-1.0 -1.9zM417.1 68.9h1.9l-1.0 -1.9zM418.7 62.7h1.9l-1.0 -1.9zM420.4 60.2h1.9l-1.0 -1.9zM422.1 59.0h1.9l-1.0 -1.9zM423.8 55.7h1.9l-1.0 -1.9zM425.5 58.9h1.9l-1.0 -1.9zM427.2 52.8h1.9l-1.0 -1.9zM428.9 56.1h1.9l-1.0 -1.9zM430.6 53.3h1.9l-1.0 -1.9zM432.3 57.0h1.9l-1.0 -1.9zM433.9 65.1h1.9l-1.0 -1.9zM435.6 69.3h1.9l-1.0 -1.9zM437.3 64.0h1.9l-1.0 -1.9zM439.0 69.8h1.9l-1.0 -1.9zM440.7 76.8h1.9l-1.0 -1.9zM442.4 64.0h1.9l-1.0 -1.9zM444.1 63.8h1.9l-1.0 -1.9zM445.8 57.4h1.9l-1.0 -1.9zM447.5 60.3h1.9l-1.0 -1.9zM449.1 59.8h1.9l-1.0 -1.9zM450.8 61.8h1.9l-1.0 -1.9zM452.5 62.8h1.9l-1.0 -1.9zM454.2 57.7h1.9l-1.0 -1.9zM455.9 59.4h1.9l-1.0 -1.9zM457.6 59.0h1.9l-1.0 -1.9zM459.3 57.3h1.9l-1.0 -1.9zM461.0 53.5h1.9l-1.0 -1.9zM462.6 59.2h1.9l-1.0 -1.9zM464.3 54.1h1.9l-1.0 -1.9zM466.0 55.2h1.9l-1.0 -1.9zM467.7 59.9h1.9l-1.0 -1.9zM469.4 56.9h1.9l-1.0 -1.9zM471.1 58.7h1.9l-1.0 -1.9zM472.8 56.7h1.9l-1.0 -1.9zM474.5 62.8h1.9l-1.0 -1.9zM476.2 62.5h1.9l-1.0 -1.9zM477.8 66.7h1.9l-1.0 -1.9zM479.5 62.9h1.9l-1.0 -1.9zM481.2 61.5h1.9l-1.0 -1.9zM482.9 65.8h1.9l-1.0 -1.9zM484.6 61.5h1.9l-1.0 -1.9zM486.3 60.5h1.9l-1.0 -1.9zM488.0 59.9h1.9l-1.0 -1.9zM489.7 67.7h1.9l-1.0 -1.9zM491.3 66.4h1.9l-1.0 -1.9zM493.0 71.4h1.9l-1.0 -1.9zM494.7 67.2h1.9l-1.0 -1.9zM496.4 71.2h1.9l-1.0 -1.9zM498.1 69.7h1.9l-1.0 -1.9zM499.8 70.4h1.9l-1.0 -1.9zM501.5 69.6h1.9l-1.0 -1.9zM503.2 67.9h1.9l-1.0 -1.9zM504.9 68.8h1.9l-1.0 -1.9zM506.5 64.3h1.9l-1.0 -1.9zM508.2 66.7h1.9l-1.0 -1.9zM509.9 61.7h1.9l-1.0 -1.9zM511.6 66.0h1.9l-1.0 -1.9zM513.3 68.2h1.9l-1.0 -1.9zM515.0 62.9h1.9l-1.0 -1.9z" fill="#4040e0"/>
<polygon points="356.0,97.6 356.8,94.5 357.7,90.4 358.5,91.5 359.4,89.5 360.3,86.3 361.1,84.6 362.0,83.4 362.9,83.5 363.7,83.3 364.6,80.3 365.5,78.0 366.3,78.7 367.2,81.4 368.1,79.0 368.9,76.7 369.8,76.2 370.6,74.6 371.5,76.1 372.4,81.8 373.2,84.2 374.1,81.3 375.0,79.6 375.8,80.6 376.7,78.3 377.6,77.1 378.4,75.9 379.3,74.8 380.1,73.3 381.0,71.7 381.9,70.7 382.7,71.6 383.6,73.5 384.5,74.0 385.3,70.8 386.2,69.3 387.1,68.4 387.9,64.5 388.8,64.0 389.7,67.2 390.5,66.5 391.4,67.3 392.2,68.3 393.1,64.6 394.0,62.8 394.8,64.3 395.7,73.1 396.6,70.8 397.4,73.2 398.3,74.9 399.2,73.8 400.0,73.3 400.9,72.8 401.8,70.4 402.6,68.6 403.5,68.7 404.3,71.0 405.2,70.7 406.1,70.8 406.9,74.3 407.8,75.0 408.7,70.5 409.5,65.8 410.4,63.8 411.3,64.7 412.1,66.4 413.0,66.3 413.9,66.5 414.7,69.4 415.6,70.4 416.4,65.6 417.3,64.2 418.2,65.9 419.0,62.8 419.9,61.7 420.8,64.3 421.6,65.5 422.5,65.1 423.4,58.8 424.2,58.5 425.1,63.2 426.0,61.4 426.8,59.8 427.7,60.7 428.5,64.1 429.4,69.1 430.3,71.3 431.1,73.9 432.0,76.5 432.9,73.0 433.7,71.0 434.6,71.8 435.5,75.8 436.3,77.1 437.2,74.8 438.0,70.7 438.9,69.5 439.8,70.0 440.6,68.8 441.5,65.6 442.4,63.3 443.2,62.7 444.1,64.6 445.0,67.4 445.8,65.9 446.7,65.1 447.6,66.6 448.4,69.1 449.3,69.4 450.1,63.9 451.0,62.8 451.9,67.2 452.7,65.9 453.6,65.2 454.5,66.2 455.3,65.7 456.2,63.7 457.1,60.8 457.9,59.8 458.8,62.8 459.7,65.8 460.5,71.7 461.4,60.1 462.2,59.5 463.1,61.6 464.0,64.9 464.8,64.8 465.7,63.9 466.6,63.2 467.4,62.3 468.3,62.5 469.2,60.1 470.0,62.3 470.9,67.5 471.8,67.6 472.6,67.4 473.5,68.1 474.3,70.0 475.2,72.3 476.1,70.1 476.9,68.7 477.8,70.7 478.7,67.7 479.5,69.1 480.4,71.3 481.3,70.2 482.1,68.7 483.0,68.1 483.8,67.0 484.7,65.1 485.6,67.7 486.4,73.2 487.3,74.5 488.2,74.8 489.0,75.6 489.9,76.3 490.8,78.9 491.6,83.3 492.5,76.3 493.4,76.8 494.2,80.0 495.1,82.8 495.9,78.9 496.8,77.5 497.7,79.6 498.5,77.7 499.4,78.8 500.3,80.1 501.1,76.7 502.0,75.7 502.9,82.7 503.7,73.2 504.6,72.3 505.5,76.1 506.3,74.4 507.2,71.3 508.0,70.0 508.9,72.1 509.8,73.6 510.6,70.7 511.5,69.0 512.4,69.4 513.2,70.1 514.1,75.3 514.1,99.8 356.0,99.8" fill="url(#gb6)"/>
<polygon points="512.1,105.1 514.1,99.8 514.1,75.3 512.1,80.1" fill="#38e8e8"/>
<polygon points="351.3,102.8 352.2,99.6 353.1,95.5 353.9,96.6 354.8,94.6 355.7,91.3 356.6,89.5 357.5,88.3 358.3,88.5 359.2,88.3 360.1,85.2 361.0,82.9 361.9,83.6 362.7,86.3 363.6,83.9 364.5,81.5 365.4,81.1 366.3,79.4 367.1,80.9 368.0,86.7 368.9,89.2 369.8,86.2 370.6,84.5 371.5,85.5 372.4,83.1 373.3,82.0 374.2,80.7 375.0,79.6 375.9,78.1 376.8,76.5 377.7,75.4 378.6,76.3 379.4,78.3 380.3,78.8 381.2,75.5 382.1,74.0 382.9,73.1 383.8,69.1 384.7,68.7 385.6,71.9 386.5,71.2 387.3,72.0 388.2,73.0 389.1,69.2 390.0,67.4 390.9,69.0 391.7,77.8 392.6,75.6 393.5,77.9 394.4,79.7 395.3,78.6 396.1,78.1 397.0,77.6 397.9,75.1 398.8,73.3 399.6,73.4 400.5,75.7 401.4,75.4 402.3,75.6 403.2,79.1 404.0,79.9 404.9,75.2 405.8,70.4 406.7,68.5 407.6,69.4 408.4,71.1 409.3,71.0 410.2,71.2 411.1,74.1 411.9,75.1 412.8,70.2 413.7,68.9 414.6,70.6 415.5,67.4 416.3,66.3 417.2,68.9 418.1,70.2 419.0,69.7 419.9,63.4 420.7,63.1 421.6,67.8 422.5,66.0 423.4,64.4 424.2,65.3 425.1,68.7 426.0,73.8 426.9,76.0 427.8,78.7 428.6,81.3 429.5,77.8 430.4,75.8 431.3,76.6 432.2,80.6 433.0,81.9 433.9,79.6 434.8,75.4 435.7,74.2 436.6,74.7 437.4,73.5 438.3,70.3 439.2,67.9 440.1,67.3 440.9,69.2 441.8,72.0 442.7,70.6 443.6,69.7 444.5,71.3 445.3,73.8 446.2,74.1 447.1,68.5 448.0,67.4 448.9,71.9 449.7,70.5 450.6,69.8 451.5,70.8 452.4,70.4 453.2,68.3 454.1,65.3 455.0,64.3 455.9,67.4 456.8,70.4 457.6,76.4 458.5,64.6 459.4,64.0 460.3,66.2 461.2,69.5 462.0,69.5 462.9,68.6 463.8,67.8 464.7,66.9 465.6,67.1 466.4,64.6 467.3,66.9 468.2,72.1 469.1,72.3 469.9,72.0 470.8,72.8 471.7,74.8 472.6,77.0 473.5,74.8 474.3,73.4 475.2,75.5 476.1,72.4 477.0,73.8 477.9,76.0 478.7,74.9 479.6,73.4 480.5,72.8 481.4,71.7 482.2,69.7 483.1,72.4 484.0,78.0 484.9,79.3 485.8,79.6 486.6,80.4 487.5,81.1 488.4,83.7 489.3,88.2 490.2,81.2 491.0,81.7 491.9,84.9 492.8,87.7 493.7,83.7 494.5,82.3 495.4,84.4 496.3,82.5 497.2,83.7 498.1,85.0 498.9,81.6 499.8,80.6 500.7,87.6 501.6,78.0 502.5,77.1 503.3,81.0 504.2,79.2 505.1,76.1 506.0,74.8 506.9,76.9 507.7,78.4 508.6,75.5 509.5,73.7 510.4,74.1 511.2,74.9 512.1,80.1 512.1,105.1 351.3,105.1" fill="url(#gb6)"/>
<polyline points="356.0,97.6 356.8,94.5 357.7,90.4 358.5,91.5 359.4,89.5 360.3,86.3 361.1,84.6 362.0,83.4 362.9,83.5 363.7,83.3 364.6,80.3 365.5,78.0 366.3,78.7 367.2,81.4 368.1,79.0 368.9,76.7 369.8,76.2 370.6,74.6 371.5,76.1 372.4,81.8 373.2,84.2 374.1,81.3 375.0,79.6 375.8,80.6 376.7,78.3 377.6,77.1 378.4,75.9 379.3,74.8 380.1,73.3 381.0,71.7 381.9,70.7 382.7,71.6 383.6,73.5 384.5,74.0 385.3,70.8 386.2,69.3 387.1,68.4 387.9,64.5 388.8,64.0 389.7,67.2 390.5,66.5 391.4,67.3 392.2,68.3 393.1,64.6 394.0,62.8 394.8,64.3 395.7,73.1 396.6,70.8 397.4,73.2 398.3,74.9 399.2,73.8 400.0,73.3 400.9,72.8 401.8,70.4 402.6,68.6 403.5,68.7 404.3,71.0 405.2,70.7 406.1,70.8 406.9,74.3 407.8,75.0 408.7,70.5 409.5,65.8 410.4,63.8 411.3,64.7 412.1,66.4 413.0,66.3 413.9,66.5 414.7,69.4 415.6,70.4 416.4,65.6 417.3,64.2 418.2,65.9 419.0,62.8 419.9,61.7 420.8,64.3 421.6,65.5 422.5,65.1 423.4,58.8 424.2,58.5 425.1,63.2 426.0,61.4 426.8,59.8 427.7,60.7 428.5,64.1 429.4,69.1 430.3,71.3 431.1,73.9 432.0,76.5 432.9,73.0 433.7,71.0 434.6,71.8 435.5,75.8 436.3,77.1 437.2,74.8 438.0,70.7 438.9,69.5 439.8,70.0 440.6,68.8 441.5,65.6 442.4,63.3 443.2,62.7 444.1,64.6 445.0,67.4 445.8,65.9 446.7,65.1 447.6,66.6 448.4,69.1 449.3,69.4 450.1,63.9 451.0,62.8 451.9,67.2 452.7,65.9 453.6,65.2 454.5,66.2 455.3,65.7 456.2,63.7 457.1,60.8 457.9,59.8 458.8,62.8 459.7,65.8 460.5,71.7 461.4,60.1 462.2,59.5 463.1,61.6 464.0,64.9 464.8,64.8 465.7,63.9 466.6,63.2 467.4,62.3 468.3,62.5 469.2,60.1 470.0,62.3 470.9,67.5 471.8,67.6 472.6,67.4 473.5,68.1 474.3,70.0 475.2,72.3 476.1,70.1 476.9,68.7 477.8,70.7 478.7,67.7 479.5,69.1 480.4,71.3 481.3,70.2 482.1,68.7 483.0,68.1 483.8,67.0 484.7,65.1 485.6,67.7 486.4,73.2 487.3,74.5 488.2,74.8 489.0,75.6 489.9,76.3 490.8,78.9 491.6,83.3 492.5,76.3 493.4,76.8 494.2,80.0 495.1,82.8 495.9,78.9 496.8,77.5 497.7,79.6 498.5,77.7 499.4,78.8 500.3,80.1 501.1,76.7 502.0,75.7 502.9,82.7 503.7,73.2 504.6,72.3 505.5,76.1 506.3,74.4 507.2,71.3 508.0,70.0 508.9,72.1 509.8,73.6 510.6,70.7 511.5,69.0 512.4,69.4 513.2,70.1 514.1,75.3" fill="none" stroke="#2060e8" stroke-width="0.6"/>
<path d="M355.0 98.4h2.0l-1.0 -2.0zM356.7 91.2h2.0l-1.0 -2.0zM358.4 90.3h2.0l-1.0 -2.0zM360.1 85.4h2.0l-1.0 -2.0zM361.9 84.3h2.0l-1.0 -2.0zM363.6 81.1h2.0l-1.0 -2.0zM365.3 79.5h2.0l-1.0 -2.0zM367.1 79.8h2.0l-1.0 -2.0zM368.8 77.0h2.0l-1.0 -2.0zM370.5 76.9h2.0l-1.0 -2.0zM372.2 85.0h2.0l-1.0 -2.0zM374.0 80.4h2.0l-1.0 -2.0zM375.7 79.1h2.0l-1.0 -2.0zM377.4 76.7h2.0l-1.0 -2.0zM379.2 74.1h2.0l-1.0 -2.0zM380.9 71.5h2.0l-1.0 -2.0zM382.6 74.3h2.0l-1.0 -2.0zM384.3 71.6h2.0l-1.0 -2.0zM386.1 69.2h2.0l-1.0 -2.0zM387.8 64.8h2.0l-1.0 -2.0zM389.5 67.3h2.0l-1.0 -2.0zM391.2 69.1h2.0l-1.0 -2.0zM393.0 63.6h2.0l-1.0 -2.0zM394.7 73.9h2.0l-1.0 -2.0zM396.4 74.0h2.0l-1.0 -2.0zM398.2 74.6h2.0l-1.0 -2.0zM399.9 73.6h2.0l-1.0 -2.0zM401.6 69.4h2.0l-1.0 -2.0zM403.3 71.8h2.0l-1.0 -2.0zM405.1 71.6h2.0l-1.0 -2.0zM406.8 75.8h2.0l-1.0 -2.0zM408.5 66.6h2.0l-1.0 -2.0zM410.3 65.5h2.0l-1.0 -2.0zM412.0 67.1h2.0l-1.0 -2.0zM413.7 70.2h2.0l-1.0 -2.0zM415.4 66.4h2.0l-1.0 -2.0zM417.2 66.7h2.0l-1.0 -2.0zM418.9 62.5h2.0l-1.0 -2.0zM420.6 66.3h2.0l-1.0 -2.0zM422.4 59.6h2.0l-1.0 -2.0zM424.1 64.0h2.0l-1.0 -2.0zM425.8 60.6h2.0l-1.0 -2.0zM427.5 64.9h2.0l-1.0 -2.0zM429.3 72.1h2.0l-1.0 -2.0zM431.0 77.3h2.0l-1.0 -2.0zM432.7 71.8h2.0l-1.0 -2.0zM434.5 76.6h2.0l-1.0 -2.0zM436.2 75.6h2.0l-1.0 -2.0zM437.9 70.3h2.0l-1.0 -2.0zM439.6 69.6h2.0l-1.0 -2.0zM441.4 64.1h2.0l-1.0 -2.0zM443.1 65.3h2.0l-1.0 -2.0zM444.8 66.7h2.0l-1.0 -2.0zM446.6 67.4h2.0l-1.0 -2.0zM448.3 70.2h2.0l-1.0 -2.0zM450.0 63.6h2.0l-1.0 -2.0zM451.7 66.7h2.0l-1.0 -2.0zM453.5 67.0h2.0l-1.0 -2.0zM455.2 64.5h2.0l-1.0 -2.0zM456.9 60.6h2.0l-1.0 -2.0zM458.7 66.6h2.0l-1.0 -2.0zM460.4 60.9h2.0l-1.0 -2.0zM462.1 62.4h2.0l-1.0 -2.0zM463.8 65.6h2.0l-1.0 -2.0zM465.6 64.0h2.0l-1.0 -2.0zM467.3 63.3h2.0l-1.0 -2.0zM469.0 63.1h2.0l-1.0 -2.0zM470.8 68.4h2.0l-1.0 -2.0zM472.5 68.9h2.0l-1.0 -2.0zM474.2 73.1h2.0l-1.0 -2.0zM475.9 69.5h2.0l-1.0 -2.0zM477.7 68.5h2.0l-1.0 -2.0zM479.4 72.1h2.0l-1.0 -2.0zM481.1 69.5h2.0l-1.0 -2.0zM482.9 67.8h2.0l-1.0 -2.0zM484.6 68.5h2.0l-1.0 -2.0zM486.3 75.3h2.0l-1.0 -2.0zM488.0 76.4h2.0l-1.0 -2.0zM489.8 79.7h2.0l-1.0 -2.0zM491.5 77.1h2.0l-1.0 -2.0zM493.2 80.8h2.0l-1.0 -2.0zM495.0 79.7h2.0l-1.0 -2.0zM496.7 80.4h2.0l-1.0 -2.0zM498.4 79.6h2.0l-1.0 -2.0zM500.1 77.5h2.0l-1.0 -2.0zM501.9 83.5h2.0l-1.0 -2.0zM503.6 73.1h2.0l-1.0 -2.0zM505.3 75.2h2.0l-1.0 -2.0zM507.0 70.8h2.0l-1.0 -2.0zM508.8 74.4h2.0l-1.0 -2.0zM510.5 69.8h2.0l-1.0 -2.0zM512.2 70.9h2.0l-1.0 -2.0z" fill="#2060e8"/>
<polygon points="349.3,103.4 350.2,100.8 351.0,96.3 351.9,97.5 352.8,97.0 353.7,93.4 354.6,90.9 355.5,90.9 356.4,92.3 357.2,91.8 358.1,88.1 359.0,86.2 359.9,88.6 360.8,90.9 361.7,88.1 362.6,86.9 363.4,86.8 364.3,85.0 365.2,86.5 366.1,92.4 367.0,95.1 367.9,92.0 368.7,90.3 369.6,91.1 370.5,88.6 371.4,87.2 372.3,86.2 373.2,85.3 374.1,83.1 374.9,81.0 375.8,81.4 376.7,81.7 377.6,82.2 378.5,83.6 379.4,80.9 380.3,79.2 381.1,78.4 382.0,74.0 382.9,73.5 383.8,77.8 384.7,76.7 385.6,76.3 386.5,77.8 387.3,74.8 388.2,72.7 389.1,72.9 390.0,76.4 390.9,80.9 391.8,81.5 392.6,82.6 393.5,82.1 394.4,81.2 395.3,80.4 396.2,78.3 397.1,75.1 398.0,75.0 398.8,77.7 399.7,77.4 400.6,77.7 401.5,80.7 402.4,81.0 403.3,77.2 404.2,72.9 405.0,70.1 405.9,70.9 406.8,73.2 407.7,74.0 408.6,74.7 409.5,76.2 410.4,78.2 411.2,75.1 412.1,72.8 413.0,73.7 413.9,71.7 414.8,71.2 415.7,73.7 416.5,75.1 417.4,74.8 418.3,68.5 419.2,68.2 420.1,73.3 421.0,71.5 421.9,76.7 422.7,69.3 423.6,73.9 424.5,79.7 425.4,80.8 426.3,82.5 427.2,85.8 428.1,82.7 428.9,79.1 429.8,79.8 430.7,84.3 431.6,85.3 432.5,82.3 433.4,78.2 434.3,76.8 435.1,77.0 436.0,76.0 436.9,72.2 437.8,69.1 438.7,69.3 439.6,71.4 440.4,73.4 441.3,71.7 442.2,71.6 443.1,73.7 444.0,75.4 444.9,75.4 445.8,71.3 446.6,69.8 447.5,73.1 448.4,72.7 449.3,72.6 450.2,73.2 451.1,73.1 452.0,71.5 452.8,68.7 453.7,67.6 454.6,71.2 455.5,73.9 456.4,71.9 457.3,68.9 458.1,67.2 459.0,69.5 459.9,73.4 460.8,73.7 461.7,72.4 462.6,70.7 463.5,70.3 464.3,71.7 465.2,67.9 466.1,69.2 467.0,75.3 467.9,76.1 468.8,75.1 469.7,75.2 470.5,77.6 471.4,80.2 472.3,78.1 473.2,76.5 474.1,78.4 475.0,75.7 475.9,76.7 476.7,79.7 477.6,78.4 478.5,76.1 479.4,76.3 480.3,76.1 481.2,72.8 482.0,74.7 482.9,81.9 483.8,83.3 484.7,82.2 485.6,82.1 486.5,84.4 487.4,87.4 488.2,85.1 489.1,83.2 490.0,84.8 490.9,88.3 491.8,89.8 492.7,86.3 493.6,86.0 494.4,88.0 495.3,85.5 496.2,86.7 497.1,89.8 498.0,86.5 498.9,84.6 499.8,86.7 500.6,83.1 501.5,83.7 502.4,86.9 503.3,84.7 504.2,82.5 505.1,81.0 505.9,83.3 506.8,85.3 507.7,82.2 508.6,80.5 509.5,81.2 510.4,81.7 511.3,83.4 511.3,107.4 349.3,107.4" fill="url(#gb5)"/>
<polygon points="509.2,112.8 511.3,107.4 511.3,83.4 509.2,88.5" fill="#e8f870"/>
<polygon points="344.4,108.9 345.3,106.2 346.2,101.6 347.1,102.9 348.0,102.3 348.9,98.7 349.8,96.1 350.7,96.1 351.6,97.5 352.5,97.1 353.4,93.3 354.3,91.3 355.2,93.7 356.1,96.1 357.0,93.2 357.9,92.0 358.8,91.9 359.7,90.1 360.6,91.6 361.5,97.6 362.4,100.3 363.3,97.2 364.2,95.5 365.1,96.3 366.0,93.8 366.9,92.3 367.8,91.3 368.7,90.4 369.6,88.2 370.5,86.0 371.4,86.4 372.3,86.7 373.2,87.3 374.1,88.7 375.0,86.0 375.9,84.2 376.8,83.4 377.7,78.9 378.6,78.4 379.5,82.8 380.4,81.6 381.3,81.2 382.2,82.8 383.1,79.7 384.0,77.6 384.9,77.8 385.8,81.3 386.7,86.0 387.6,86.5 388.5,87.6 389.4,87.2 390.3,86.2 391.2,85.5 392.1,83.3 393.0,80.1 393.9,79.9 394.8,82.7 395.7,82.4 396.6,82.7 397.5,85.7 398.4,86.1 399.3,82.2 400.2,77.8 401.1,74.9 402.0,75.8 402.9,78.1 403.8,78.9 404.7,79.6 405.6,81.1 406.5,83.2 407.4,80.0 408.3,77.7 409.2,78.6 410.1,76.6 411.0,76.1 411.9,78.6 412.8,80.1 413.7,79.7 414.6,73.3 415.5,73.1 416.4,78.2 417.3,76.3 418.2,81.7 419.1,74.2 420.0,78.8 420.9,84.7 421.8,85.9 422.7,87.5 423.6,91.0 424.5,87.7 425.4,84.1 426.3,84.8 427.2,89.4 428.1,90.4 429.0,87.4 429.9,83.2 430.8,81.8 431.8,81.9 432.7,80.9 433.6,77.1 434.5,73.9 435.4,74.1 436.3,76.3 437.2,78.3 438.1,76.6 439.0,76.5 439.9,78.6 440.8,80.3 441.7,80.3 442.6,76.1 443.5,74.6 444.4,78.0 445.3,77.6 446.2,77.5 447.1,78.1 448.0,78.0 448.9,76.4 449.8,73.5 450.7,72.4 451.6,76.1 452.5,78.8 453.4,76.7 454.3,73.7 455.2,72.0 456.1,74.4 457.0,78.3 457.9,78.6 458.8,77.3 459.7,75.5 460.6,75.1 461.5,76.5 462.4,72.7 463.3,74.0 464.2,80.3 465.1,81.1 466.0,80.0 466.9,80.1 467.8,82.6 468.7,85.2 469.6,83.1 470.5,81.5 471.4,83.4 472.3,80.6 473.2,81.6 474.1,84.8 475.0,83.3 475.9,81.1 476.8,81.2 477.7,81.1 478.6,77.7 479.5,79.6 480.4,87.0 481.3,88.3 482.2,87.3 483.1,87.2 484.0,89.4 484.9,92.5 485.8,90.2 486.7,88.3 487.6,89.9 488.5,93.5 489.4,94.9 490.3,91.4 491.2,91.2 492.1,93.2 493.0,90.6 493.9,91.8 494.8,94.9 495.7,91.7 496.6,89.7 497.5,91.8 498.4,88.2 499.3,88.8 500.2,92.0 501.1,89.8 502.0,87.5 502.9,86.0 503.8,88.4 504.7,90.4 505.6,87.3 506.5,85.5 507.4,86.2 508.3,86.8 509.2,88.5 509.2,112.8 344.4,112.8" fill="url(#gb5)"/>
<polyline points="349.3,103.4 350.2,100.8 351.0,96.3 351.9,97.5 352.8,97.0 353.7,93.4 354.6,90.9 355.5,90.9 356.4,92.3 357.2,91.8 358.1,88.1 359.0,86.2 359.9,88.6 360.8,90.9 361.7,88.1 362.6,86.9 363.4,86.8 364.3,85.0 365.2,86.5 366.1,92.4 367.0,95.1 367.9,92.0 368.7,90.3 369.6,91.1 370.5,88.6 371.4,87.2 372.3,86.2 373.2,85.3 374.1,83.1 374.9,81.0 375.8,81.4 376.7,81.7 377.6,82.2 378.5,83.6 379.4,80.9 380.3,79.2 381.1,78.4 382.0,74.0 382.9,73.5 383.8,77.8 384.7,76.7 385.6,76.3 386.5,77.8 387.3,74.8 388.2,72.7 389.1,72.9 390.0,76.4 390.9,80.9 391.8,81.5 392.6,82.6 393.5,82.1 394.4,81.2 395.3,80.4 396.2,78.3 397.1,75.1 398.0,75.0 398.8,77.7 399.7,77.4 400.6,77.7 401.5,80.7 402.4,81.0 403.3,77.2 404.2,72.9 405.0,70.1 405.9,70.9 406.8,73.2 407.7,74.0 408.6,74.7 409.5,76.2 410.4,78.2 411.2,75.1 412.1,72.8 413.0,73.7 413.9,71.7 414.8,71.2 415.7,73.7 416.5,75.1 417.4,74.8 418.3,68.5 419.2,68.2 420.1,73.3 421.0,71.5 421.9,76.7 422.7,69.3 423.6,73.9 424.5,79.7 425.4,80.8 426.3,82.5 427.2,85.8 428.1,82.7 428.9,79.1 429.8,79.8 430.7,84.3 431.6,85.3 432.5,82.3 433.4,78.2 434.3,76.8 435.1,77.0 436.0,76.0 436.9,72.2 437.8,69.1 438.7,69.3 439.6,71.4 440.4,73.4 441.3,71.7 442.2,71.6 443.1,73.7 444.0,75.4 444.9,75.4 445.8,71.3 446.6,69.8 447.5,73.1 448.4,72.7 449.3,72.6 450.2,73.2 451.1,73.1 452.0,71.5 452.8,68.7 453.7,67.6 454.6,71.2 455.5,73.9 456.4,71.9 457.3,68.9 458.1,67.2 459.0,69.5 459.9,73.4 460.8,73.7 461.7,72.4 462.6,70.7 463.5,70.3 464.3,71.7 465.2,67.9 466.1,69.2 467.0,75.3 467.9,76.1 468.8,75.1 469.7,75.2 470.5,77.6 471.4,80.2 472.3,78.1 473.2,76.5 474.1,78.4 475.0,75.7 475.9,76.7 476.7,79.7 477.6,78.4 478.5,76.1 479.4,76.3 480.3,76.1 481.2,72.8 482.0,74.7 482.9,81.9 483.8,83.3 484.7,82.2 485.6,82.1 486.5,84.4 487.4,87.4 488.2,85.1 489.1,83.2 490.0,84.8 490.9,88.3 491.8,89.8 492.7,86.3 493.6,86.0 494.4,88.0 495.3,85.5 496.2,86.7 497.1,89.8 498.0,86.5 498.9,84.6 499.8,86.7 500.6,83.1 501.5,83.7 502.4,86.9 503.3,84.7 504.2,82.5 505.1,81.0 505.9,83.3 506.8,85.3 507.7,82.2 508.6,80.5 509.5,81.2 510.4,81.7 511.3,83.4" fill="none" stroke="#30c030" stroke-width="0.6"/>
<path d="M348.3 104.3h2.0l-1.0 -2.0zM350.0 97.2h2.0l-1.0 -2.0zM351.8 97.8h2.0l-1.0 -2.0zM353.6 91.7h2.0l-1.0 -2.0zM355.3 93.1h2.0l-1.0 -2.0zM357.1 89.0h2.0l-1.0 -2.0zM358.9 89.4h2.0l-1.0 -2.0zM360.6 88.9h2.0l-1.0 -2.0zM362.4 87.6h2.0l-1.0 -2.0zM364.2 87.3h2.0l-1.0 -2.0zM366.0 95.9h2.0l-1.0 -2.0zM367.7 91.1h2.0l-1.0 -2.0zM369.5 89.4h2.0l-1.0 -2.0zM371.3 87.0h2.0l-1.0 -2.0zM373.0 83.9h2.0l-1.0 -2.0zM374.8 82.2h2.0l-1.0 -2.0zM376.6 83.0h2.0l-1.0 -2.0zM378.3 81.7h2.0l-1.0 -2.0zM380.1 79.2h2.0l-1.0 -2.0zM381.9 74.3h2.0l-1.0 -2.0zM383.7 77.5h2.0l-1.0 -2.0zM385.4 78.6h2.0l-1.0 -2.0zM387.2 73.5h2.0l-1.0 -2.0zM389.0 77.2h2.0l-1.0 -2.0zM390.7 82.3h2.0l-1.0 -2.0zM392.5 82.9h2.0l-1.0 -2.0zM394.3 81.2h2.0l-1.0 -2.0zM396.1 76.0h2.0l-1.0 -2.0zM397.8 78.5h2.0l-1.0 -2.0zM399.6 78.5h2.0l-1.0 -2.0zM401.4 81.9h2.0l-1.0 -2.0zM403.1 73.8h2.0l-1.0 -2.0zM404.9 71.7h2.0l-1.0 -2.0zM406.7 74.8h2.0l-1.0 -2.0zM408.4 77.0h2.0l-1.0 -2.0zM410.2 75.9h2.0l-1.0 -2.0zM412.0 74.5h2.0l-1.0 -2.0zM413.8 72.1h2.0l-1.0 -2.0zM415.5 76.0h2.0l-1.0 -2.0zM417.3 69.3h2.0l-1.0 -2.0zM419.1 74.1h2.0l-1.0 -2.0zM420.8 77.5h2.0l-1.0 -2.0zM422.6 74.7h2.0l-1.0 -2.0zM424.4 81.6h2.0l-1.0 -2.0zM426.1 86.7h2.0l-1.0 -2.0zM427.9 79.9h2.0l-1.0 -2.0zM429.7 85.1h2.0l-1.0 -2.0zM431.5 83.1h2.0l-1.0 -2.0zM433.2 77.6h2.0l-1.0 -2.0zM435.0 76.8h2.0l-1.0 -2.0zM436.8 69.9h2.0l-1.0 -2.0zM438.5 72.3h2.0l-1.0 -2.0zM440.3 72.5h2.0l-1.0 -2.0zM442.1 74.6h2.0l-1.0 -2.0zM443.8 76.2h2.0l-1.0 -2.0zM445.6 70.6h2.0l-1.0 -2.0zM447.4 73.5h2.0l-1.0 -2.0zM449.2 74.0h2.0l-1.0 -2.0zM450.9 72.3h2.0l-1.0 -2.0zM452.7 68.4h2.0l-1.0 -2.0zM454.5 74.7h2.0l-1.0 -2.0zM456.2 69.7h2.0l-1.0 -2.0zM458.0 70.4h2.0l-1.0 -2.0zM459.8 74.5h2.0l-1.0 -2.0zM461.6 71.5h2.0l-1.0 -2.0zM463.3 72.5h2.0l-1.0 -2.0zM465.1 70.0h2.0l-1.0 -2.0zM466.9 76.9h2.0l-1.0 -2.0zM468.6 76.0h2.0l-1.0 -2.0zM470.4 81.0h2.0l-1.0 -2.0zM472.2 77.4h2.0l-1.0 -2.0zM473.9 76.5h2.0l-1.0 -2.0zM475.7 80.6h2.0l-1.0 -2.0zM477.5 76.9h2.0l-1.0 -2.0zM479.3 77.0h2.0l-1.0 -2.0zM481.0 75.5h2.0l-1.0 -2.0zM482.8 84.1h2.0l-1.0 -2.0zM484.6 83.0h2.0l-1.0 -2.0zM486.3 88.2h2.0l-1.0 -2.0zM488.1 84.0h2.0l-1.0 -2.0zM489.9 89.1h2.0l-1.0 -2.0zM491.6 87.1h2.0l-1.0 -2.0zM493.4 88.9h2.0l-1.0 -2.0zM495.2 87.5h2.0l-1.0 -2.0zM497.0 87.4h2.0l-1.0 -2.0zM498.7 87.5h2.0l-1.0 -2.0zM500.5 84.5h2.0l-1.0 -2.0zM502.3 85.5h2.0l-1.0 -2.0zM504.0 81.8h2.0l-1.0 -2.0zM505.8 86.1h2.0l-1.0 -2.0zM507.6 81.3h2.0l-1.0 -2.0zM509.4 82.6h2.0l-1.0 -2.0z" fill="#30c030"/>
<polygon points="342.3,111.8 343.2,109.0 344.1,104.3 345.0,105.1 345.9,104.7 346.8,102.4 347.7,99.3 348.6,98.8 349.5,100.7 350.4,100.3 351.3,97.3 352.2,95.8 353.2,97.5 354.1,100.3 355.0,97.7 355.9,96.8 356.8,98.0 357.7,96.0 358.6,96.7 359.5,103.0 360.4,107.8 361.3,104.2 362.2,101.1 363.1,103.6 364.0,102.0 364.9,99.5 365.9,98.1 366.8,97.5 367.7,95.9 368.6,93.6 369.5,92.8 370.4,93.2 371.3,94.1 372.2,95.7 373.1,92.7 374.0,89.3 374.9,88.6 375.8,85.1 376.7,83.0 377.6,86.5 378.6,86.1 379.5,85.3 380.4,86.6 381.3,91.0 382.2,80.2 383.1,80.5 384.0,83.8 384.9,87.7 385.8,89.7 386.7,90.1 387.6,88.3 388.5,87.8 389.4,87.3 390.3,84.3 391.3,81.3 392.2,81.4 393.1,84.1 394.0,83.4 394.9,83.8 395.8,86.4 396.7,87.4 397.6,83.6 398.5,77.3 399.4,74.8 400.3,77.0 401.2,78.8 402.1,78.4 403.0,78.4 404.0,81.2 404.9,83.7 405.8,79.0 406.7,76.3 407.6,77.5 408.5,76.0 409.4,75.3 410.3,86.1 411.2,78.5 412.1,78.7 413.0,72.8 413.9,72.6 414.8,76.5 415.7,75.3 416.7,74.4 417.6,74.2 418.5,78.1 419.4,84.0 420.3,86.2 421.2,89.2 422.1,91.7 423.0,87.2 423.9,85.1 424.8,87.0 425.7,91.2 426.6,91.3 427.5,88.4 428.4,85.6 429.4,83.7 430.3,82.7 431.2,82.6 432.1,79.9 433.0,75.7 433.9,83.9 434.8,78.3 435.7,80.0 436.6,78.1 437.5,77.4 438.4,79.7 439.3,82.2 440.2,81.8 441.1,76.3 442.1,81.6 443.0,80.1 443.9,79.2 444.8,78.0 445.7,78.8 446.6,87.1 447.5,78.0 448.4,74.8 449.3,73.3 450.2,76.9 451.1,80.8 452.0,78.4 452.9,74.7 453.8,74.1 454.8,76.3 455.7,80.3 456.6,81.0 457.5,78.9 458.4,77.1 459.3,76.6 460.2,77.7 461.1,74.8 462.0,76.0 462.9,81.5 463.8,82.5 464.7,81.3 465.6,81.2 466.5,83.5 467.5,86.1 468.4,83.5 469.3,82.1 470.2,88.8 471.1,80.8 472.0,81.7 472.9,85.8 473.8,84.0 474.7,81.8 475.6,82.5 476.5,81.1 477.4,78.0 478.3,80.7 479.3,88.1 480.2,89.2 481.1,87.9 482.0,88.8 482.9,91.2 483.8,92.9 484.7,91.3 485.6,90.9 486.5,91.1 487.4,93.1 488.3,96.3 489.2,93.3 490.1,91.8 491.0,93.6 492.0,99.8 492.9,93.5 493.8,95.2 494.7,92.0 495.6,90.7 496.5,93.4 497.4,89.5 498.3,89.1 499.2,92.8 500.1,90.6 501.0,87.9 501.9,87.8 502.8,89.5 503.7,89.9 504.7,88.5 505.6,87.2 506.5,86.6 507.4,87.7 508.3,89.4 508.3,115.3 342.3,115.3" fill="url(#gb4)"/>
<polygon points="506.1,121.0 508.3,115.3 508.3,89.4 506.1,94.7" fill="#f8f060"/>
<polygon points="337.2,117.5 338.1,114.7 339.0,109.9 339.9,110.7 340.8,110.3 341.8,107.9 342.7,104.7 343.6,104.3 344.5,106.3 345.5,105.8 346.4,102.8 347.3,101.2 348.2,103.0 349.2,105.8 350.1,103.2 351.0,102.2 351.9,103.4 352.8,101.4 353.8,102.1 354.7,108.6 355.6,113.5 356.5,109.8 357.5,106.6 358.4,109.2 359.3,107.6 360.2,105.0 361.2,103.6 362.1,103.0 363.0,101.3 363.9,99.0 364.8,98.2 365.8,98.5 366.7,99.5 367.6,101.1 368.5,98.1 369.5,94.7 370.4,93.9 371.3,90.3 372.2,88.2 373.2,91.8 374.1,91.3 375.0,90.5 375.9,91.8 376.9,96.4 377.8,85.3 378.7,85.6 379.6,89.0 380.5,93.0 381.5,95.0 382.4,95.4 383.3,93.6 384.2,93.0 385.2,92.6 386.1,89.5 387.0,86.5 387.9,86.6 388.9,89.4 389.8,88.6 390.7,89.0 391.6,91.6 392.5,92.7 393.5,88.8 394.4,82.4 395.3,79.9 396.2,82.0 397.2,83.9 398.1,83.5 399.0,83.5 399.9,86.3 400.9,89.0 401.8,84.2 402.7,81.4 403.6,82.6 404.5,81.0 405.5,80.4 406.4,91.3 407.3,83.6 408.2,83.9 409.2,77.8 410.1,77.6 411.0,81.6 411.9,80.3 412.9,79.5 413.8,79.2 414.7,83.2 415.6,89.2 416.6,91.4 417.5,94.5 418.4,97.0 419.3,92.4 420.2,90.3 421.2,92.2 422.1,96.6 423.0,96.7 423.9,93.7 424.9,90.8 425.8,88.9 426.7,87.8 427.6,87.7 428.6,85.0 429.5,80.7 430.4,89.1 431.3,83.4 432.2,85.1 433.2,83.2 434.1,82.5 435.0,84.8 435.9,87.4 436.9,86.9 437.8,81.4 438.7,86.7 439.6,85.3 440.6,84.3 441.5,83.1 442.4,83.9 443.3,92.4 444.2,83.1 445.2,79.8 446.1,78.3 447.0,82.0 447.9,86.0 448.9,83.5 449.8,79.8 450.7,79.1 451.6,81.4 452.6,85.5 453.5,86.2 454.4,84.1 455.3,82.2 456.2,81.7 457.2,82.8 458.1,79.8 459.0,81.0 459.9,86.7 460.9,87.7 461.8,86.4 462.7,86.3 463.6,88.7 464.6,91.4 465.5,88.7 466.4,87.3 467.3,94.1 468.3,85.9 469.2,86.9 470.1,91.1 471.0,89.2 471.9,86.9 472.9,87.7 473.8,86.3 474.7,83.2 475.6,85.9 476.6,93.4 477.5,94.6 478.4,93.2 479.3,94.1 480.3,96.5 481.2,98.3 482.1,96.6 483.0,96.3 483.9,96.4 484.9,98.5 485.8,101.7 486.7,98.7 487.6,97.2 488.6,98.9 489.5,105.3 490.4,98.8 491.3,100.6 492.3,97.4 493.2,96.0 494.1,98.8 495.0,94.8 495.9,94.4 496.9,98.2 497.8,95.9 498.7,93.1 499.6,93.0 500.6,94.8 501.5,95.2 502.4,93.8 503.3,92.5 504.3,91.8 505.2,92.9 506.1,94.7 506.1,121.0 337.2,121.0" fill="url(#gb4)"/>
<polyline points="342.3,111.8 343.2,109.0 344.1,104.3 345.0,105.1 345.9,104.7 346.8,102.4 347.7,99.3 348.6,98.8 349.5,100.7 350.4,100.3 351.3,97.3 352.2,95.8 353.2,97.5 354.1,100.3 355.0,97.7 355.9,96.8 356.8,98.0 357.7,96.0 358.6,96.7 359.5,103.0 360.4,107.8 361.3,104.2 362.2,101.1 363.1,103.6 364.0,102.0 364.9,99.5 365.9,98.1 366.8,97.5 367.7,95.9 368.6,93.6 369.5,92.8 370.4,93.2 371.3,94.1 372.2,95.7 373.1,92.7 374.0,89.3 374.9,88.6 375.8,85.1 376.7,83.0 377.6,86.5 378.6,86.1 379.5,85.3 380.4,86.6 381.3,91.0 382.2,80.2 383.1,80.5 384.0,83.8 384.9,87.7 385.8,89.7 386.7,90.1 387.6,88.3 388.5,87.8 389.4,87.3 390.3,84.3 391.3,81.3 392.2,81.4 393.1,84.1 394.0,83.4 394.9,83.8 395.8,86.4 396.7,87.4 397.6,83.6 398.5,77.3 399.4,74.8 400.3,77.0 401.2,78.8 402.1,78.4 403.0,78.4 404.0,81.2 404.9,83.7 405.8,79.0 406.7,76.3 407.6,77.5 408.5,76.0 409.4,75.3 410.3,86.1 411.2,78.5 412.1,78.7 413.0,72.8 413.9,72.6 414.8,76.5 415.7,75.3 416.7,74.4 417.6,74.2 418.5,78.1 419.4,84.0 420.3,86.2 421.2,89.2 422.1,91.7 423.0,87.2 423.9,85.1 424.8,87.0 425.7,91.2 426.6,91.3 427.5,88.4 428.4,85.6 429.4,83.7 430.3,82.7 431.2,82.6 432.1,79.9 433.0,75.7 433.9,83.9 434.8,78.3 435.7,80.0 436.6,78.1 437.5,77.4 438.4,79.7 439.3,82.2 440.2,81.8 441.1,76.3 442.1,81.6 443.0,80.1 443.9,79.2 444.8,78.0 445.7,78.8 446.6,87.1 447.5,78.0 448.4,74.8 449.3,73.3 450.2,76.9 451.1,80.8 452.0,78.4 452.9,74.7 453.8,74.1 454.8,76.3 455.7,80.3 456.6,81.0 457.5,78.9 458.4,77.1 459.3,76.6 460.2,77.7 461.1,74.8 462.0,76.0 462.9,81.5 463.8,82.5 464.7,81.3 465.6,81.2 466.5,83.5 467.5,86.1 468.4,83.5 469.3,82.1 470.2,88.8 471.1,80.8 472.0,81.7 472.9,85.8 473.8,84.0 474.7,81.8 475.6,82.5 476.5,81.1 477.4,78.0 478.3,80.7 479.3,88.1 480.2,89.2 481.1,87.9 482.0,88.8 482.9,91.2 483.8,92.9 484.7,91.3 485.6,90.9 486.5,91.1 487.4,93.1 488.3,96.3 489.2,93.3 490.1,91.8 491.0,93.6 492.0,99.8 492.9,93.5 493.8,95.2 494.7,92.0 495.6,90.7 496.5,93.4 497.4,89.5 498.3,89.1 499.2,92.8 500.1,90.6 501.0,87.9 501.9,87.8 502.8,89.5 503.7,89.9 504.7,88.5 505.6,87.2 506.5,86.6 507.4,87.7 508.3,89.4" fill="none" stroke="#30b830" stroke-width="0.6"/>
<path d="M341.2 112.6h2.1l-1.0 -2.1zM343.0 105.2h2.1l-1.0 -2.1zM344.8 105.5h2.1l-1.0 -2.1zM346.7 100.1h2.1l-1.0 -2.1zM348.5 101.6h2.1l-1.0 -2.1zM350.3 98.2h2.1l-1.0 -2.1zM352.1 98.3h2.1l-1.0 -2.1zM353.9 98.5h2.1l-1.0 -2.1zM355.7 98.8h2.1l-1.0 -2.1zM357.5 97.5h2.1l-1.0 -2.1zM359.4 108.7h2.1l-1.0 -2.1zM361.2 102.0h2.1l-1.0 -2.1zM363.0 102.9h2.1l-1.0 -2.1zM364.8 99.0h2.1l-1.0 -2.1zM366.6 96.7h2.1l-1.0 -2.1zM368.4 93.7h2.1l-1.0 -2.1zM370.2 94.9h2.1l-1.0 -2.1zM372.1 93.5h2.1l-1.0 -2.1zM373.9 89.5h2.1l-1.0 -2.1zM375.7 83.8h2.1l-1.0 -2.1zM377.5 86.9h2.1l-1.0 -2.1zM379.3 87.4h2.1l-1.0 -2.1zM381.1 81.0h2.1l-1.0 -2.1zM382.9 84.6h2.1l-1.0 -2.1zM384.8 90.5h2.1l-1.0 -2.1zM386.6 89.2h2.1l-1.0 -2.1zM388.4 88.1h2.1l-1.0 -2.1zM390.2 82.2h2.1l-1.0 -2.1zM392.0 85.0h2.1l-1.0 -2.1zM393.8 84.6h2.1l-1.0 -2.1zM395.7 88.2h2.1l-1.0 -2.1zM397.5 78.1h2.1l-1.0 -2.1zM399.3 77.8h2.1l-1.0 -2.1zM401.1 79.3h2.1l-1.0 -2.1zM402.9 82.0h2.1l-1.0 -2.1zM404.7 79.9h2.1l-1.0 -2.1zM406.5 78.3h2.1l-1.0 -2.1zM408.4 76.2h2.1l-1.0 -2.1zM410.2 79.3h2.1l-1.0 -2.1zM412.0 73.6h2.1l-1.0 -2.1zM413.8 77.4h2.1l-1.0 -2.1zM415.6 75.3h2.1l-1.0 -2.1zM417.4 78.9h2.1l-1.0 -2.1zM419.2 87.0h2.1l-1.0 -2.1zM421.1 92.5h2.1l-1.0 -2.1zM422.9 85.9h2.1l-1.0 -2.1zM424.7 92.1h2.1l-1.0 -2.1zM426.5 89.2h2.1l-1.0 -2.1zM428.3 84.5h2.1l-1.0 -2.1zM430.1 83.4h2.1l-1.0 -2.1zM431.9 76.5h2.1l-1.0 -2.1zM433.8 79.1h2.1l-1.0 -2.1zM435.6 78.9h2.1l-1.0 -2.1zM437.4 80.5h2.1l-1.0 -2.1zM439.2 82.6h2.1l-1.0 -2.1zM441.0 82.4h2.1l-1.0 -2.1zM442.8 80.0h2.1l-1.0 -2.1zM444.6 79.6h2.1l-1.0 -2.1zM446.5 78.9h2.1l-1.0 -2.1zM448.3 74.1h2.1l-1.0 -2.1zM450.1 81.7h2.1l-1.0 -2.1zM451.9 75.6h2.1l-1.0 -2.1zM453.7 77.1h2.1l-1.0 -2.1zM455.5 81.8h2.1l-1.0 -2.1zM457.3 77.9h2.1l-1.0 -2.1zM459.2 78.6h2.1l-1.0 -2.1zM461.0 76.8h2.1l-1.0 -2.1zM462.8 83.4h2.1l-1.0 -2.1zM464.6 82.0h2.1l-1.0 -2.1zM466.4 86.9h2.1l-1.0 -2.1zM468.2 83.0h2.1l-1.0 -2.1zM470.0 81.6h2.1l-1.0 -2.1zM471.9 86.7h2.1l-1.0 -2.1zM473.7 82.6h2.1l-1.0 -2.1zM475.5 81.9h2.1l-1.0 -2.1zM477.3 81.6h2.1l-1.0 -2.1zM479.1 90.1h2.1l-1.0 -2.1zM480.9 89.6h2.1l-1.0 -2.1zM482.7 93.8h2.1l-1.0 -2.1zM484.6 91.8h2.1l-1.0 -2.1zM486.4 94.0h2.1l-1.0 -2.1zM488.2 94.2h2.1l-1.0 -2.1zM490.0 94.4h2.1l-1.0 -2.1zM491.8 94.3h2.1l-1.0 -2.1zM493.6 92.9h2.1l-1.0 -2.1zM495.4 94.2h2.1l-1.0 -2.1zM497.3 89.9h2.1l-1.0 -2.1zM499.1 91.4h2.1l-1.0 -2.1zM500.9 88.6h2.1l-1.0 -2.1zM502.7 90.7h2.1l-1.0 -2.1zM504.5 88.0h2.1l-1.0 -2.1zM506.3 88.5h2.1l-1.0 -2.1z" fill="#30b830"/>
<polygon points="334.9,117.1 335.8,114.5 336.8,109.9 337.7,111.1 338.6,110.5 339.6,107.0 340.5,104.6 341.4,104.2 342.3,105.8 343.3,106.8 344.2,103.3 345.1,110.1 346.1,102.8 347.0,107.1 347.9,105.2 348.9,103.2 349.8,103.4 350.7,103.2 351.6,106.0 352.6,111.5 353.5,115.4 354.4,112.9 355.4,111.7 356.3,114.2 357.2,111.7 358.2,109.5 359.1,109.1 360.0,109.2 361.0,107.8 361.9,104.7 362.8,103.8 363.7,104.6 364.7,106.3 365.6,107.7 366.5,103.4 367.5,100.9 368.4,100.9 369.3,95.7 370.3,93.7 371.2,97.2 372.1,96.7 373.0,97.1 374.0,97.6 374.9,93.0 375.8,90.9 376.8,92.5 377.7,95.1 378.6,98.8 379.6,101.6 380.5,101.9 381.4,99.9 382.3,100.5 383.3,100.4 384.2,96.6 385.1,94.0 386.1,95.7 387.0,98.0 387.9,96.3 388.9,96.0 389.8,100.7 390.7,102.2 391.7,96.6 392.6,91.3 393.5,89.4 394.4,90.4 395.4,92.3 396.3,92.3 397.2,92.5 398.2,95.5 399.1,96.8 400.0,91.9 401.0,89.6 401.9,91.1 402.8,89.4 403.7,87.4 404.7,88.2 405.6,90.8 406.5,91.5 407.5,84.0 408.4,82.3 409.3,86.9 410.3,85.9 411.2,84.3 412.1,83.6 413.0,87.2 414.0,93.5 414.9,95.5 415.8,97.1 416.8,99.9 417.7,96.1 418.6,93.3 419.6,95.2 420.5,99.5 421.4,99.5 422.4,96.6 423.3,93.8 424.2,91.9 425.1,91.4 426.1,91.8 427.0,87.9 427.9,84.4 428.9,84.3 429.8,86.8 430.7,89.7 431.7,88.0 432.6,95.3 433.5,90.0 434.4,92.1 435.4,91.7 436.3,86.6 437.2,86.1 438.2,90.9 439.1,89.8 440.0,88.6 441.0,89.7 441.9,91.0 442.8,89.2 443.7,85.7 444.7,84.3 445.6,88.4 446.5,92.8 447.5,90.1 448.4,85.8 449.3,85.3 450.3,88.8 451.2,92.2 452.1,92.1 453.1,91.5 454.0,89.1 454.9,88.6 455.8,90.0 456.8,85.8 457.7,87.6 458.6,94.2 459.6,93.6 460.5,91.8 461.4,92.8 462.4,95.8 463.3,97.3 464.2,93.6 465.1,92.4 466.1,95.5 467.0,92.4 467.9,92.3 468.9,95.2 469.8,98.9 470.7,92.4 471.7,92.6 472.6,91.3 473.5,89.0 474.4,91.7 475.4,98.2 476.3,100.1 477.2,99.8 478.2,100.1 479.1,102.7 480.0,104.8 481.0,102.4 481.9,101.9 482.8,103.7 483.8,106.2 484.7,108.0 485.6,104.4 486.5,104.1 487.5,107.1 488.4,103.8 489.3,104.6 490.3,107.9 491.2,104.6 492.1,102.7 493.1,104.9 494.0,101.0 494.9,101.7 495.8,105.0 496.8,102.7 497.7,100.6 498.6,98.8 499.6,101.2 500.5,103.0 501.4,100.6 502.4,98.4 503.3,98.1 504.2,100.0 505.1,102.2 505.1,123.6 334.9,123.6" fill="url(#gb3)"/>
<polygon points="502.9,129.6 505.1,123.6 505.1,102.2 502.9,107.9" fill="#f8b064"/>
<polygon points="329.5,123.0 330.5,120.4 331.4,115.7 332.4,116.9 333.3,116.4 334.3,112.8 335.2,110.3 336.1,109.9 337.1,111.5 338.0,112.6 339.0,109.0 339.9,115.9 340.9,108.5 341.8,112.8 342.8,110.9 343.7,108.9 344.7,109.1 345.6,108.9 346.6,111.7 347.5,117.3 348.5,121.3 349.4,118.8 350.4,117.5 351.3,120.1 352.3,117.5 353.2,115.3 354.1,114.9 355.1,115.0 356.0,113.6 357.0,110.5 357.9,109.5 358.9,110.4 359.8,112.0 360.8,113.5 361.7,109.1 362.7,106.5 363.6,106.6 364.6,101.2 365.5,99.2 366.5,102.8 367.4,102.3 368.4,102.7 369.3,103.2 370.2,98.5 371.2,96.4 372.1,98.0 373.1,100.7 374.0,104.4 375.0,107.3 375.9,107.6 376.9,105.6 377.8,106.2 378.8,106.0 379.7,102.1 380.7,99.6 381.6,101.3 382.6,103.6 383.5,101.9 384.5,101.6 385.4,106.4 386.4,107.9 387.3,102.2 388.2,96.7 389.2,94.9 390.1,95.9 391.1,97.8 392.0,97.8 393.0,98.0 393.9,101.0 394.9,102.4 395.8,97.4 396.8,95.1 397.7,96.6 398.7,94.9 399.6,92.8 400.6,93.6 401.5,96.3 402.5,97.0 403.4,89.4 404.3,87.6 405.3,92.3 406.2,91.3 407.2,89.6 408.1,88.9 409.1,92.6 410.0,99.0 411.0,101.0 411.9,102.7 412.9,105.6 413.8,101.6 414.8,98.9 415.7,100.8 416.7,105.1 417.6,105.2 418.6,102.2 419.5,99.4 420.5,97.4 421.4,96.9 422.3,97.3 423.3,93.4 424.2,89.7 425.2,89.6 426.1,92.2 427.1,95.1 428.0,93.4 429.0,100.9 429.9,95.5 430.9,97.5 431.8,97.1 432.8,92.0 433.7,91.5 434.7,96.3 435.6,95.3 436.6,94.0 437.5,95.1 438.4,96.5 439.4,94.7 440.3,91.1 441.3,89.7 442.2,93.8 443.2,98.3 444.1,95.6 445.1,91.1 446.0,90.6 447.0,94.2 447.9,97.7 448.9,97.6 449.8,97.0 450.8,94.6 451.7,94.0 452.7,95.4 453.6,91.2 454.6,93.0 455.5,99.7 456.4,99.1 457.4,97.3 458.3,98.3 459.3,101.4 460.2,102.9 461.2,99.1 462.1,97.9 463.1,101.1 464.0,97.9 465.0,97.8 465.9,100.7 466.9,104.5 467.8,97.9 468.8,98.1 469.7,96.8 470.7,94.5 471.6,97.2 472.5,103.8 473.5,105.8 474.4,105.4 475.4,105.8 476.3,108.4 477.3,110.5 478.2,108.1 479.2,107.5 480.1,109.4 481.1,111.9 482.0,113.8 483.0,110.1 483.9,109.8 484.9,112.8 485.8,109.5 486.8,110.4 487.7,113.7 488.7,110.3 489.6,108.4 490.5,110.6 491.5,106.7 492.4,107.3 493.4,110.8 494.3,108.4 495.3,106.2 496.2,104.4 497.2,106.9 498.1,108.7 499.1,106.2 500.0,104.0 501.0,103.7 501.9,105.6 502.9,107.9 502.9,129.6 329.5,129.6" fill="url(#gb3)"/>
<polyline points="334.9,117.1 335.8,114.5 336.8,109.9 337.7,111.1 338.6,110.5 339.6,107.0 340.5,104.6 341.4,104.2 342.3,105.8 343.3,106.8 344.2,103.3 345.1,110.1 346.1,102.8 347.0,107.1 347.9,105.2 348.9,103.2 349.8,103.4 350.7,103.2 351.6,106.0 352.6,111.5 353.5,115.4 354.4,112.9 355.4,111.7 356.3,114.2 357.2,111.7 358.2,109.5 359.1,109.1 360.0,109.2 361.0,107.8 361.9,104.7 362.8,103.8 363.7,104.6 364.7,106.3 365.6,107.7 366.5,103.4 367.5,100.9 368.4,100.9 369.3,95.7 370.3,93.7 371.2,97.2 372.1,96.7 373.0,97.1 374.0,97.6 374.9,93.0 375.8,90.9 376.8,92.5 377.7,95.1 378.6,98.8 379.6,101.6 380.5,101.9 381.4,99.9 382.3,100.5 383.3,100.4 384.2,96.6 385.1,94.0 386.1,95.7 387.0,98.0 387.9,96.3 388.9,96.0 389.8,100.7 390.7,102.2 391.7,96.6 392.6,91.3 393.5,89.4 394.4,90.4 395.4,92.3 396.3,92.3 397.2,92.5 398.2,95.5 399.1,96.8 400.0,91.9 401.0,89.6 401.9,91.1 402.8,89.4 403.7,87.4 404.7,88.2 405.6,90.8 406.5,91.5 407.5,84.0 408.4,82.3 409.3,86.9 410.3,85.9 411.2,84.3 412.1,83.6 413.0,87.2 414.0,93.5 414.9,95.5 415.8,97.1 416.8,99.9 417.7,96.1 418.6,93.3 419.6,95.2 420.5,99.5 421.4,99.5 422.4,96.6 423.3,93.8 424.2,91.9 425.1,91.4 426.1,91.8 427.0,87.9 427.9,84.4 428.9,84.3 429.8,86.8 430.7,89.7 431.7,88.0 432.6,95.3 433.5,90.0 434.4,92.1 435.4,91.7 436.3,86.6 437.2,86.1 438.2,90.9 439.1,89.8 440.0,88.6 441.0,89.7 441.9,91.0 442.8,89.2 443.7,85.7 444.7,84.3 445.6,88.4 446.5,92.8 447.5,90.1 448.4,85.8 449.3,85.3 450.3,88.8 451.2,92.2 452.1,92.1 453.1,91.5 454.0,89.1 454.9,88.6 455.8,90.0 456.8,85.8 457.7,87.6 458.6,94.2 459.6,93.6 460.5,91.8 461.4,92.8 462.4,95.8 463.3,97.3 464.2,93.6 465.1,92.4 466.1,95.5 467.0,92.4 467.9,92.3 468.9,95.2 469.8,98.9 470.7,92.4 471.7,92.6 472.6,91.3 473.5,89.0 474.4,91.7 475.4,98.2 476.3,100.1 477.2,99.8 478.2,100.1 479.1,102.7 480.0,104.8 481.0,102.4 481.9,101.9 482.8,103.7 483.8,106.2 484.7,108.0 485.6,104.4 486.5,104.1 487.5,107.1 488.4,103.8 489.3,104.6 490.3,107.9 491.2,104.6 492.1,102.7 493.1,104.9 494.0,101.0 494.9,101.7 495.8,105.0 496.8,102.7 497.7,100.6 498.6,98.8 499.6,101.2 500.5,103.0 501.4,100.6 502.4,98.4 503.3,98.1 504.2,100.0 505.1,102.2" fill="none" stroke="#d83010" stroke-width="0.6"/>
<path d="M333.8 117.9h2.2l-1.1 -2.2zM335.7 110.7h2.2l-1.1 -2.2zM337.5 111.4h2.2l-1.1 -2.2zM339.4 105.4h2.2l-1.1 -2.2zM341.3 106.6h2.2l-1.1 -2.2zM343.1 104.2h2.2l-1.1 -2.2zM345.0 103.7h2.2l-1.1 -2.2zM346.9 106.0h2.2l-1.1 -2.2zM348.7 104.3h2.2l-1.1 -2.2zM350.6 106.8h2.2l-1.1 -2.2zM352.4 116.3h2.2l-1.1 -2.2zM354.3 112.5h2.2l-1.1 -2.2zM356.2 112.5h2.2l-1.1 -2.2zM358.0 110.0h2.2l-1.1 -2.2zM359.9 108.7h2.2l-1.1 -2.2zM361.7 104.7h2.2l-1.1 -2.2zM363.6 107.1h2.2l-1.1 -2.2zM365.5 104.3h2.2l-1.1 -2.2zM367.3 101.8h2.2l-1.1 -2.2zM369.2 94.5h2.2l-1.1 -2.2zM371.0 97.6h2.2l-1.1 -2.2zM372.9 98.5h2.2l-1.1 -2.2zM374.8 91.8h2.2l-1.1 -2.2zM376.6 96.0h2.2l-1.1 -2.2zM378.5 102.5h2.2l-1.1 -2.2zM380.3 100.8h2.2l-1.1 -2.2zM382.2 101.2h2.2l-1.1 -2.2zM384.1 94.9h2.2l-1.1 -2.2zM385.9 98.9h2.2l-1.1 -2.2zM387.8 96.9h2.2l-1.1 -2.2zM389.6 103.1h2.2l-1.1 -2.2zM391.5 92.1h2.2l-1.1 -2.2zM393.4 91.3h2.2l-1.1 -2.2zM395.2 93.1h2.2l-1.1 -2.2zM397.1 96.3h2.2l-1.1 -2.2zM398.9 92.8h2.2l-1.1 -2.2zM400.8 92.0h2.2l-1.1 -2.2zM402.7 88.2h2.2l-1.1 -2.2zM404.5 91.7h2.2l-1.1 -2.2zM406.4 84.9h2.2l-1.1 -2.2zM408.3 87.8h2.2l-1.1 -2.2zM410.1 85.1h2.2l-1.1 -2.2zM412.0 88.0h2.2l-1.1 -2.2zM413.8 96.3h2.2l-1.1 -2.2zM415.7 100.8h2.2l-1.1 -2.2zM417.6 94.2h2.2l-1.1 -2.2zM419.4 100.3h2.2l-1.1 -2.2zM421.3 97.5h2.2l-1.1 -2.2zM423.1 92.7h2.2l-1.1 -2.2zM425.0 92.7h2.2l-1.1 -2.2zM426.9 85.2h2.2l-1.1 -2.2zM428.7 87.7h2.2l-1.1 -2.2zM430.6 88.9h2.2l-1.1 -2.2zM432.4 90.9h2.2l-1.1 -2.2zM434.3 92.5h2.2l-1.1 -2.2zM436.2 87.0h2.2l-1.1 -2.2zM438.0 90.7h2.2l-1.1 -2.2zM439.9 90.5h2.2l-1.1 -2.2zM441.7 90.1h2.2l-1.1 -2.2zM443.6 85.2h2.2l-1.1 -2.2zM445.5 93.6h2.2l-1.1 -2.2zM447.3 86.6h2.2l-1.1 -2.2zM449.2 89.6h2.2l-1.1 -2.2zM451.0 93.0h2.2l-1.1 -2.2zM452.9 90.0h2.2l-1.1 -2.2zM454.8 90.8h2.2l-1.1 -2.2zM456.6 88.5h2.2l-1.1 -2.2zM458.5 94.4h2.2l-1.1 -2.2zM460.3 93.6h2.2l-1.1 -2.2zM462.2 98.2h2.2l-1.1 -2.2zM464.1 93.3h2.2l-1.1 -2.2zM465.9 93.2h2.2l-1.1 -2.2zM467.8 96.0h2.2l-1.1 -2.2zM469.7 93.3h2.2l-1.1 -2.2zM471.5 92.2h2.2l-1.1 -2.2zM473.4 92.6h2.2l-1.1 -2.2zM475.2 101.0h2.2l-1.1 -2.2zM477.1 101.0h2.2l-1.1 -2.2zM479.0 105.6h2.2l-1.1 -2.2zM480.8 102.7h2.2l-1.1 -2.2zM482.7 107.0h2.2l-1.1 -2.2zM484.5 105.2h2.2l-1.1 -2.2zM486.4 107.9h2.2l-1.1 -2.2zM488.3 105.5h2.2l-1.1 -2.2zM490.1 105.5h2.2l-1.1 -2.2zM492.0 105.8h2.2l-1.1 -2.2zM493.8 102.5h2.2l-1.1 -2.2zM495.7 103.6h2.2l-1.1 -2.2zM497.6 99.7h2.2l-1.1 -2.2zM499.4 103.9h2.2l-1.1 -2.2zM501.3 99.2h2.2l-1.1 -2.2zM503.1 100.9h2.2l-1.1 -2.2z" fill="#d83010"/>
<polygon points="327.2,123.9 328.1,121.3 329.1,116.8 330.0,117.5 331.0,116.6 331.9,113.7 332.9,111.0 333.8,110.5 334.8,112.4 335.7,111.9 336.7,107.9 337.7,106.1 338.6,108.8 339.6,112.0 340.5,108.8 341.5,107.3 342.4,108.4 343.4,107.7 344.3,108.7 345.3,114.7 346.2,120.3 347.2,116.8 348.2,113.9 349.1,116.9 350.1,115.2 351.0,113.3 352.0,112.7 352.9,113.0 353.9,111.5 354.8,109.1 355.8,109.0 356.7,110.3 357.7,112.1 358.7,119.7 359.6,110.6 360.6,108.3 361.5,108.0 362.5,104.2 363.4,103.8 364.4,107.4 365.3,106.1 366.3,106.9 367.2,109.3 368.2,105.0 369.2,101.8 370.1,103.5 371.1,107.8 372.0,111.2 373.0,117.2 373.9,114.2 374.9,113.7 375.8,112.3 376.8,111.4 377.7,108.7 378.7,105.3 379.7,105.8 380.6,109.3 381.6,107.5 382.5,106.5 383.5,110.8 384.4,112.6 385.4,106.7 386.3,100.3 387.3,97.6 388.2,99.5 389.2,102.2 390.2,101.4 391.1,100.4 392.1,103.4 393.0,106.0 394.0,100.4 394.9,98.0 395.9,99.6 396.8,96.5 397.8,95.3 398.8,97.6 399.7,98.9 400.7,98.4 401.6,91.9 402.6,91.5 403.5,95.7 404.5,93.5 405.4,92.2 406.4,93.2 407.3,96.7 408.3,101.9 409.3,104.5 410.2,107.3 411.2,110.3 412.1,106.0 413.1,102.9 414.0,104.8 415.0,110.3 415.9,110.3 416.9,106.0 417.8,103.2 418.8,102.5 419.8,100.8 420.7,100.2 421.7,97.1 422.6,93.2 423.6,92.8 424.5,95.7 425.5,96.9 426.4,95.3 427.4,102.4 428.3,96.5 429.3,98.3 430.3,98.2 431.2,93.2 432.2,92.6 433.1,95.9 434.1,94.6 435.0,94.8 436.0,95.8 436.9,95.6 437.9,93.7 438.8,90.7 439.8,89.9 440.8,93.8 441.7,96.9 442.7,95.0 443.6,92.0 444.6,90.3 445.5,93.0 446.5,97.9 447.4,98.4 448.4,96.5 449.3,94.8 450.3,95.0 451.3,96.5 452.2,92.5 453.2,93.8 454.1,100.5 455.1,101.3 456.0,100.1 457.0,100.1 457.9,103.0 458.9,105.8 459.8,102.3 460.8,100.8 461.8,103.8 462.7,100.4 463.7,100.2 464.6,103.8 465.6,103.2 466.5,100.0 467.5,99.7 468.4,99.5 469.4,96.4 470.4,98.0 471.3,104.7 472.3,107.2 473.2,106.9 474.2,106.6 475.1,108.1 476.1,111.0 477.0,109.7 478.0,109.2 478.9,109.2 479.9,112.5 480.9,116.3 481.8,112.1 482.8,110.8 483.7,113.6 484.7,112.2 485.6,114.2 486.6,115.7 487.5,113.3 488.5,113.5 489.4,115.2 490.4,110.0 491.4,111.3 492.3,116.8 493.3,113.9 494.2,110.0 495.2,110.4 496.1,113.8 497.1,114.2 498.0,111.4 499.0,110.5 499.9,111.1 500.9,111.6 501.9,113.4 501.9,132.3 327.2,132.3" fill="url(#gb2)"/>
<polygon points="499.4,138.7 501.9,132.3 501.9,113.4 499.4,119.4" fill="#f87a64"/>
<polygon points="321.5,130.1 322.5,127.5 323.4,122.9 324.4,123.6 325.4,122.7 326.3,119.8 327.3,117.0 328.3,116.5 329.3,118.4 330.2,117.9 331.2,113.9 332.2,112.0 333.1,114.8 334.1,118.0 335.1,114.8 336.1,113.3 337.0,114.3 338.0,113.7 339.0,114.6 340.0,120.8 340.9,126.5 341.9,122.9 342.9,119.9 343.8,123.0 344.8,121.3 345.8,119.4 346.8,118.8 347.7,119.0 348.7,117.5 349.7,115.1 350.7,114.9 351.6,116.2 352.6,118.1 353.6,125.9 354.5,116.6 355.5,114.2 356.5,114.0 357.5,110.0 358.4,109.7 359.4,113.3 360.4,112.0 361.4,112.8 362.3,115.2 363.3,110.9 364.3,107.6 365.2,109.4 366.2,113.7 367.2,117.2 368.2,123.3 369.1,120.2 370.1,119.7 371.1,118.3 372.0,117.4 373.0,114.7 374.0,111.2 375.0,111.7 375.9,115.2 376.9,113.5 377.9,112.4 378.9,116.8 379.8,118.6 380.8,112.6 381.8,106.1 382.7,103.3 383.7,105.3 384.7,108.0 385.7,107.2 386.6,106.2 387.6,109.3 388.6,111.9 389.6,106.2 390.5,103.7 391.5,105.4 392.5,102.2 393.4,101.0 394.4,103.3 395.4,104.7 396.4,104.1 397.3,97.5 398.3,97.1 399.3,101.4 400.3,99.1 401.2,97.9 402.2,98.8 403.2,102.4 404.1,107.7 405.1,110.4 406.1,113.3 407.1,116.3 408.0,111.9 409.0,108.7 410.0,110.7 410.9,116.3 411.9,116.3 412.9,111.9 413.9,109.1 414.8,108.4 415.8,106.6 416.8,106.0 417.8,102.8 418.7,98.9 419.7,98.5 420.7,101.4 421.6,102.6 422.6,101.0 423.6,108.2 424.6,102.2 425.5,104.1 426.5,103.9 427.5,98.8 428.5,98.3 429.4,101.6 430.4,100.3 431.4,100.4 432.3,101.5 433.3,101.3 434.3,99.3 435.3,96.3 436.2,95.5 437.2,99.5 438.2,102.7 439.1,100.7 440.1,97.7 441.1,96.0 442.1,98.6 443.0,103.6 444.0,104.1 445.0,102.2 446.0,100.5 446.9,100.6 447.9,102.2 448.9,98.1 449.8,99.5 450.8,106.3 451.8,107.2 452.8,105.9 453.7,105.9 454.7,108.9 455.7,111.7 456.7,108.2 457.6,106.6 458.6,109.6 459.6,106.2 460.5,106.0 461.5,109.6 462.5,109.0 463.5,105.8 464.4,105.5 465.4,105.3 466.4,102.1 467.4,103.7 468.3,110.6 469.3,113.1 470.3,112.9 471.2,112.5 472.2,114.1 473.2,117.0 474.2,115.6 475.1,115.2 476.1,115.1 477.1,118.5 478.0,122.4 479.0,118.2 480.0,116.8 481.0,119.7 481.9,118.2 482.9,120.3 483.9,121.8 484.9,119.3 485.8,119.5 486.8,121.3 487.8,116.0 488.7,117.3 489.7,122.9 490.7,120.0 491.7,116.0 492.6,116.3 493.6,119.8 494.6,120.2 495.6,117.4 496.5,116.5 497.5,117.1 498.5,117.6 499.4,119.4 499.4,138.7 321.5,138.7" fill="url(#gb2)"/>
<polyline points="327.2,123.9 328.1,121.3 329.1,116.8 330.0,117.5 331.0,116.6 331.9,113.7 332.9,111.0 333.8,110.5 334.8,112.4 335.7,111.9 336.7,107.9 337.7,106.1 338.6,108.8 339.6,112.0 340.5,108.8 341.5,107.3 342.4,108.4 343.4,107.7 344.3,108.7 345.3,114.7 346.2,120.3 347.2,116.8 348.2,113.9 349.1,116.9 350.1,115.2 351.0,113.3 352.0,112.7 352.9,113.0 353.9,111.5 354.8,109.1 355.8,109.0 356.7,110.3 357.7,112.1 358.7,119.7 359.6,110.6 360.6,108.3 361.5,108.0 362.5,104.2 363.4,103.8 364.4,107.4 365.3,106.1 366.3,106.9 367.2,109.3 368.2,105.0 369.2,101.8 370.1,103.5 371.1,107.8 372.0,111.2 373.0,117.2 373.9,114.2 374.9,113.7 375.8,112.3 376.8,111.4 377.7,108.7 378.7,105.3 379.7,105.8 380.6,109.3 381.6,107.5 382.5,106.5 383.5,110.8 384.4,112.6 385.4,106.7 386.3,100.3 387.3,97.6 388.2,99.5 389.2,102.2 390.2,101.4 391.1,100.4 392.1,103.4 393.0,106.0 394.0,100.4 394.9,98.0 395.9,99.6 396.8,96.5 397.8,95.3 398.8,97.6 399.7,98.9 400.7,98.4 401.6,91.9 402.6,91.5 403.5,95.7 404.5,93.5 405.4,92.2 406.4,93.2 407.3,96.7 408.3,101.9 409.3,104.5 410.2,107.3 411.2,110.3 412.1,106.0 413.1,102.9 414.0,104.8 415.0,110.3 415.9,110.3 416.9,106.0 417.8,103.2 418.8,102.5 419.8,100.8 420.7,100.2 421.7,97.1 422.6,93.2 423.6,92.8 424.5,95.7 425.5,96.9 426.4,95.3 427.4,102.4 428.3,96.5 429.3,98.3 430.3,98.2 431.2,93.2 432.2,92.6 433.1,95.9 434.1,94.6 435.0,94.8 436.0,95.8 436.9,95.6 437.9,93.7 438.8,90.7 439.8,89.9 440.8,93.8 441.7,96.9 442.7,95.0 443.6,92.0 444.6,90.3 445.5,93.0 446.5,97.9 447.4,98.4 448.4,96.5 449.3,94.8 450.3,95.0 451.3,96.5 452.2,92.5 453.2,93.8 454.1,100.5 455.1,101.3 456.0,100.1 457.0,100.1 457.9,103.0 458.9,105.8 459.8,102.3 460.8,100.8 461.8,103.8 462.7,100.4 463.7,100.2 464.6,103.8 465.6,103.2 466.5,100.0 467.5,99.7 468.4,99.5 469.4,96.4 470.4,98.0 471.3,104.7 472.3,107.2 473.2,106.9 474.2,106.6 475.1,108.1 476.1,111.0 477.0,109.7 478.0,109.2 478.9,109.2 479.9,112.5 480.9,116.3 481.8,112.1 482.8,110.8 483.7,113.6 484.7,112.2 485.6,114.2 486.6,115.7 487.5,113.3 488.5,113.5 489.4,115.2 490.4,110.0 491.4,111.3 492.3,116.8 493.3,113.9 494.2,110.0 495.2,110.4 496.1,113.8 497.1,114.2 498.0,111.4 499.0,110.5 499.9,111.1 500.9,111.6 501.9,113.4" fill="none" stroke="#d42010" stroke-width="0.6"/>
<path d="M326.0 124.8h2.2l-1.1 -2.2zM328.0 117.7h2.2l-1.1 -2.2zM329.9 117.5h2.2l-1.1 -2.2zM331.8 111.9h2.2l-1.1 -2.2zM333.7 113.3h2.2l-1.1 -2.2zM335.6 108.8h2.2l-1.1 -2.2zM337.5 109.7h2.2l-1.1 -2.2zM339.4 109.7h2.2l-1.1 -2.2zM341.3 109.2h2.2l-1.1 -2.2zM343.2 109.5h2.2l-1.1 -2.2zM345.1 121.2h2.2l-1.1 -2.2zM347.1 114.8h2.2l-1.1 -2.2zM349.0 116.1h2.2l-1.1 -2.2zM350.9 113.6h2.2l-1.1 -2.2zM352.8 112.4h2.2l-1.1 -2.2zM354.7 109.8h2.2l-1.1 -2.2zM356.6 113.0h2.2l-1.1 -2.2zM358.5 111.5h2.2l-1.1 -2.2zM360.4 108.9h2.2l-1.1 -2.2zM362.3 104.7h2.2l-1.1 -2.2zM364.2 107.0h2.2l-1.1 -2.2zM366.1 110.2h2.2l-1.1 -2.2zM368.1 102.6h2.2l-1.1 -2.2zM370.0 108.7h2.2l-1.1 -2.2zM371.9 118.1h2.2l-1.1 -2.2zM373.8 114.5h2.2l-1.1 -2.2zM375.7 112.3h2.2l-1.1 -2.2zM377.6 106.2h2.2l-1.1 -2.2zM379.5 110.1h2.2l-1.1 -2.2zM381.4 107.3h2.2l-1.1 -2.2zM383.3 113.5h2.2l-1.1 -2.2zM385.2 101.2h2.2l-1.1 -2.2zM387.1 100.4h2.2l-1.1 -2.2zM389.1 102.3h2.2l-1.1 -2.2zM391.0 104.3h2.2l-1.1 -2.2zM392.9 101.3h2.2l-1.1 -2.2zM394.8 100.5h2.2l-1.1 -2.2zM396.7 96.1h2.2l-1.1 -2.2zM398.6 99.8h2.2l-1.1 -2.2zM400.5 92.8h2.2l-1.1 -2.2zM402.4 96.6h2.2l-1.1 -2.2zM404.3 93.1h2.2l-1.1 -2.2zM406.2 97.6h2.2l-1.1 -2.2zM408.1 105.4h2.2l-1.1 -2.2zM410.1 111.2h2.2l-1.1 -2.2zM412.0 103.7h2.2l-1.1 -2.2zM413.9 111.2h2.2l-1.1 -2.2zM415.8 106.9h2.2l-1.1 -2.2zM417.7 103.4h2.2l-1.1 -2.2zM419.6 101.0h2.2l-1.1 -2.2zM421.5 94.1h2.2l-1.1 -2.2zM423.4 96.5h2.2l-1.1 -2.2zM425.3 96.2h2.2l-1.1 -2.2zM427.2 97.4h2.2l-1.1 -2.2zM429.2 99.0h2.2l-1.1 -2.2zM431.1 93.5h2.2l-1.1 -2.2zM433.0 95.5h2.2l-1.1 -2.2zM434.9 96.7h2.2l-1.1 -2.2zM436.8 94.5h2.2l-1.1 -2.2zM438.7 90.7h2.2l-1.1 -2.2zM440.6 97.8h2.2l-1.1 -2.2zM442.5 92.9h2.2l-1.1 -2.2zM444.4 93.9h2.2l-1.1 -2.2zM446.3 99.2h2.2l-1.1 -2.2zM448.2 95.7h2.2l-1.1 -2.2zM450.2 97.4h2.2l-1.1 -2.2zM452.1 94.7h2.2l-1.1 -2.2zM454.0 102.2h2.2l-1.1 -2.2zM455.9 101.0h2.2l-1.1 -2.2zM457.8 106.7h2.2l-1.1 -2.2zM459.7 101.6h2.2l-1.1 -2.2zM461.6 101.2h2.2l-1.1 -2.2zM463.5 104.7h2.2l-1.1 -2.2zM465.4 100.9h2.2l-1.1 -2.2zM467.3 100.4h2.2l-1.1 -2.2zM469.2 98.9h2.2l-1.1 -2.2zM471.2 108.1h2.2l-1.1 -2.2zM473.1 107.5h2.2l-1.1 -2.2zM475.0 111.9h2.2l-1.1 -2.2zM476.9 110.1h2.2l-1.1 -2.2zM478.8 113.4h2.2l-1.1 -2.2zM480.7 113.0h2.2l-1.1 -2.2zM482.6 114.5h2.2l-1.1 -2.2zM484.5 115.1h2.2l-1.1 -2.2zM486.4 114.2h2.2l-1.1 -2.2zM488.3 116.1h2.2l-1.1 -2.2zM490.2 112.2h2.2l-1.1 -2.2zM492.2 114.8h2.2l-1.1 -2.2zM494.1 111.2h2.2l-1.1 -2.2zM496.0 115.1h2.2l-1.1 -2.2zM497.9 111.4h2.2l-1.1 -2.2zM499.8 112.4h2.2l-1.1 -2.2z" fill="#d42010"/>
<polygon points="319.0,133.4 320.0,138.0 320.9,127.4 321.9,131.0 322.9,130.2 323.9,126.5 324.9,125.0 325.8,124.8 326.8,124.9 327.8,124.7 328.8,122.0 329.8,120.1 330.7,122.7 331.7,125.1 332.7,121.9 333.7,121.7 334.7,124.4 335.6,124.1 336.6,123.6 337.6,126.8 338.6,130.0 339.6,128.6 340.6,128.7 341.5,131.2 342.5,128.6 343.5,127.9 344.5,128.8 345.5,129.8 346.4,129.5 347.4,129.2 348.4,129.8 349.4,129.5 350.4,129.7 351.3,131.0 352.3,126.2 353.3,124.1 354.3,124.7 355.3,119.6 356.2,117.9 357.2,121.1 358.2,118.1 359.2,117.0 360.2,119.0 361.1,116.4 362.1,114.1 363.1,113.3 364.1,115.6 365.1,118.9 366.0,119.5 367.0,119.7 368.0,118.0 369.0,117.6 370.0,117.4 370.9,113.4 371.9,109.9 372.9,109.9 373.9,112.3 374.9,109.7 375.8,106.9 376.8,109.4 377.8,112.0 378.8,109.7 379.8,105.8 380.7,104.2 381.7,106.4 382.7,109.4 383.7,109.1 384.7,107.7 385.6,109.2 386.6,111.1 387.6,107.6 388.6,106.6 389.6,108.0 390.5,105.4 391.5,104.0 392.5,104.2 393.5,105.7 394.5,108.0 395.4,103.5 396.4,102.6 397.4,106.3 398.4,104.1 399.4,101.5 400.4,100.5 401.3,103.2 402.3,106.5 403.3,105.3 404.3,106.7 405.3,109.0 406.2,110.9 407.2,102.8 408.2,112.6 409.2,105.2 410.2,106.0 411.1,104.2 412.1,101.3 413.1,100.0 414.1,100.5 415.1,101.9 416.0,100.2 417.0,97.2 418.0,96.4 419.0,98.9 420.0,102.1 420.9,99.6 421.9,97.4 422.9,98.9 423.9,101.9 424.9,101.7 425.8,96.5 426.8,96.7 427.8,100.7 428.8,98.6 429.8,96.3 430.7,96.1 431.7,97.7 432.7,98.0 433.7,94.9 434.7,93.0 435.6,96.4 436.6,98.8 437.6,96.4 438.6,94.0 439.6,94.3 440.5,97.2 441.5,99.9 442.5,98.6 443.5,97.1 444.5,97.2 445.4,98.9 446.4,100.1 447.4,96.8 448.4,99.1 449.4,103.2 450.3,101.8 451.3,101.6 452.3,102.5 453.3,104.6 454.3,107.1 455.2,105.2 456.2,104.4 457.2,107.3 458.2,104.2 459.2,105.6 460.1,108.3 461.1,106.0 462.1,105.0 463.1,107.1 464.1,107.0 465.1,105.1 466.0,107.4 467.0,112.3 468.0,112.7 469.0,112.3 470.0,113.6 470.9,117.0 471.9,119.7 472.9,118.5 473.9,118.1 474.9,118.8 475.8,122.0 476.8,125.8 477.8,121.7 478.8,120.8 479.8,124.8 480.7,123.3 481.7,123.2 482.7,124.3 483.7,121.3 484.7,120.7 485.6,123.7 486.6,117.8 487.6,117.1 488.6,121.9 489.6,118.2 490.5,114.2 491.5,113.5 492.5,116.4 493.5,117.5 494.5,114.9 495.4,112.7 496.4,113.0 497.4,115.2 498.4,116.1 498.4,141.5 319.0,141.5" fill="url(#gb1)"/>
<polygon points="495.8,148.2 498.4,141.5 498.4,116.1 495.8,122.4" fill="#c24ee0"/>
<polygon points="313.0,140.0 314.0,144.7 315.0,133.9 316.0,137.6 317.0,136.8 318.0,132.9 319.0,131.5 320.0,131.3 321.0,131.4 322.0,131.1 323.0,128.3 324.0,126.4 325.0,129.0 326.0,131.6 327.0,128.3 328.0,128.1 329.0,130.8 330.0,130.5 331.0,130.0 332.0,133.2 333.0,136.6 334.0,135.0 335.0,135.2 336.0,137.8 337.0,135.1 338.0,134.4 339.0,135.3 340.0,136.3 341.0,136.0 342.0,135.7 343.0,136.3 344.0,136.0 345.0,136.2 346.0,137.5 347.0,132.7 348.0,130.5 349.0,131.1 350.0,126.0 351.0,124.2 352.0,127.4 353.0,124.4 354.0,123.3 355.0,125.4 356.0,122.6 357.0,120.3 358.0,119.5 359.0,121.8 360.0,125.2 361.0,125.8 362.0,126.0 363.0,124.2 364.0,123.9 365.0,123.7 366.0,119.6 367.0,116.0 368.0,116.0 369.0,118.5 369.9,115.9 370.9,113.0 371.9,115.6 372.9,118.2 373.9,115.9 374.9,111.8 375.9,110.2 376.9,112.4 377.9,115.6 378.9,115.2 379.9,113.8 380.9,115.3 381.9,117.3 382.9,113.7 383.9,112.7 384.9,114.1 385.9,111.4 386.9,110.0 387.9,110.2 388.9,111.8 389.9,114.1 390.9,109.5 391.9,108.6 392.9,112.4 393.9,110.1 394.9,107.5 395.9,106.5 396.9,109.2 397.9,112.6 398.9,111.4 399.9,112.8 400.9,115.1 401.9,117.1 402.9,108.8 403.9,118.8 404.9,111.2 405.9,112.0 406.9,110.2 407.9,107.2 408.9,106.0 409.9,106.5 410.9,107.9 411.9,106.2 412.9,103.1 413.9,102.3 414.9,104.8 415.9,108.0 416.9,105.5 417.9,103.3 418.9,104.8 419.9,107.9 420.9,107.7 421.9,102.4 422.9,102.6 423.9,106.7 424.9,104.5 425.9,102.2 426.9,102.0 427.9,103.6 428.9,103.9 429.9,100.7 430.9,98.8 431.9,102.3 432.9,104.7 433.9,102.3 434.9,99.8 435.9,100.2 436.9,103.1 437.9,105.8 438.9,104.5 439.9,103.0 440.9,103.1 441.9,104.9 442.9,106.0 443.9,102.7 444.9,105.1 445.9,109.2 446.9,107.8 447.9,107.5 448.9,108.5 449.9,110.6 450.9,113.2 451.9,111.3 452.9,110.4 453.9,113.4 454.9,110.3 455.9,111.6 456.9,114.4 457.9,112.1 458.9,111.0 459.9,113.1 460.9,113.1 461.9,111.2 462.9,113.5 463.9,118.5 464.9,118.9 465.9,118.5 466.9,119.8 467.9,123.3 468.9,126.0 469.9,124.8 470.9,124.4 471.9,125.1 472.9,128.4 473.9,132.2 474.9,128.0 475.9,127.2 476.9,131.3 477.9,129.7 478.9,129.6 479.9,130.7 480.9,127.7 481.9,127.1 482.9,130.1 483.8,124.1 484.8,123.4 485.8,128.3 486.8,124.5 487.8,120.4 488.8,119.7 489.8,122.7 490.8,123.8 491.8,121.2 492.8,118.9 493.8,119.2 494.8,121.4 495.8,122.4 495.8,148.2 313.0,148.2" fill="url(#gb1)"/>
<polyline points="319.0,133.4 320.0,138.0 320.9,127.4 321.9,131.0 322.9,130.2 323.9,126.5 324.9,125.0 325.8,124.8 326.8,124.9 327.8,124.7 328.8,122.0 329.8,120.1 330.7,122.7 331.7,125.1 332.7,121.9 333.7,121.7 334.7,124.4 335.6,124.1 336.6,123.6 337.6,126.8 338.6,130.0 339.6,128.6 340.6,128.7 341.5,131.2 342.5,128.6 343.5,127.9 344.5,128.8 345.5,129.8 346.4,129.5 347.4,129.2 348.4,129.8 349.4,129.5 350.4,129.7 351.3,131.0 352.3,126.2 353.3,124.1 354.3,124.7 355.3,119.6 356.2,117.9 357.2,121.1 358.2,118.1 359.2,117.0 360.2,119.0 361.1,116.4 362.1,114.1 363.1,113.3 364.1,115.6 365.1,118.9 366.0,119.5 367.0,119.7 368.0,118.0 369.0,117.6 370.0,117.4 370.9,113.4 371.9,109.9 372.9,109.9 373.9,112.3 374.9,109.7 375.8,106.9 376.8,109.4 377.8,112.0 378.8,109.7 379.8,105.8 380.7,104.2 381.7,106.4 382.7,109.4 383.7,109.1 384.7,107.7 385.6,109.2 386.6,111.1 387.6,107.6 388.6,106.6 389.6,108.0 390.5,105.4 391.5,104.0 392.5,104.2 393.5,105.7 394.5,108.0 395.4,103.5 396.4,102.6 397.4,106.3 398.4,104.1 399.4,101.5 400.4,100.5 401.3,103.2 402.3,106.5 403.3,105.3 404.3,106.7 405.3,109.0 406.2,110.9 407.2,102.8 408.2,112.6 409.2,105.2 410.2,106.0 411.1,104.2 412.1,101.3 413.1,100.0 414.1,100.5 415.1,101.9 416.0,100.2 417.0,97.2 418.0,96.4 419.0,98.9 420.0,102.1 420.9,99.6 421.9,97.4 422.9,98.9 423.9,101.9 424.9,101.7 425.8,96.5 426.8,96.7 427.8,100.7 428.8,98.6 429.8,96.3 430.7,96.1 431.7,97.7 432.7,98.0 433.7,94.9 434.7,93.0 435.6,96.4 436.6,98.8 437.6,96.4 438.6,94.0 439.6,94.3 440.5,97.2 441.5,99.9 442.5,98.6 443.5,97.1 444.5,97.2 445.4,98.9 446.4,100.1 447.4,96.8 448.4,99.1 449.4,103.2 450.3,101.8 451.3,101.6 452.3,102.5 453.3,104.6 454.3,107.1 455.2,105.2 456.2,104.4 457.2,107.3 458.2,104.2 459.2,105.6 460.1,108.3 461.1,106.0 462.1,105.0 463.1,107.1 464.1,107.0 465.1,105.1 466.0,107.4 467.0,112.3 468.0,112.7 469.0,112.3 470.0,113.6 470.9,117.0 471.9,119.7 472.9,118.5 473.9,118.1 474.9,118.8 475.8,122.0 476.8,125.8 477.8,121.7 478.8,120.8 479.8,124.8 480.7,123.3 481.7,123.2 482.7,124.3 483.7,121.3 484.7,120.7 485.6,123.7 486.6,117.8 487.6,117.1 488.6,121.9 489.6,118.2 490.5,114.2 491.5,113.5 492.5,116.4 493.5,117.5 494.5,114.9 495.4,112.7 496.4,113.0 497.4,115.2 498.4,116.1" fill="none" stroke="#d01818" stroke-width="0.6"/>
<path d="M317.8 134.3h2.3l-1.1 -2.3zM319.8 128.3h2.3l-1.1 -2.3zM321.8 131.2h2.3l-1.1 -2.3zM323.7 125.9h2.3l-1.1 -2.3zM325.7 125.8h2.3l-1.1 -2.3zM327.7 122.9h2.3l-1.1 -2.3zM329.6 123.6h2.3l-1.1 -2.3zM331.6 122.8h2.3l-1.1 -2.3zM333.5 125.3h2.3l-1.1 -2.3zM335.5 124.5h2.3l-1.1 -2.3zM337.5 130.9h2.3l-1.1 -2.3zM339.4 129.7h2.3l-1.1 -2.3zM341.4 129.5h2.3l-1.1 -2.3zM343.3 129.7h2.3l-1.1 -2.3zM345.3 130.4h2.3l-1.1 -2.3zM347.3 130.7h2.3l-1.1 -2.3zM349.2 130.6h2.3l-1.1 -2.3zM351.2 127.1h2.3l-1.1 -2.3zM353.1 125.6h2.3l-1.1 -2.3zM355.1 118.8h2.3l-1.1 -2.3zM357.1 119.0h2.3l-1.1 -2.3zM359.0 119.9h2.3l-1.1 -2.3zM361.0 115.0h2.3l-1.1 -2.3zM362.9 116.5h2.3l-1.1 -2.3zM364.9 120.4h2.3l-1.1 -2.3zM366.9 118.9h2.3l-1.1 -2.3zM368.8 118.3h2.3l-1.1 -2.3zM370.8 110.8h2.3l-1.1 -2.3zM372.7 113.2h2.3l-1.1 -2.3zM374.7 107.8h2.3l-1.1 -2.3zM376.7 112.9h2.3l-1.1 -2.3zM378.6 106.7h2.3l-1.1 -2.3zM380.6 107.3h2.3l-1.1 -2.3zM382.6 110.0h2.3l-1.1 -2.3zM384.5 110.1h2.3l-1.1 -2.3zM386.5 108.5h2.3l-1.1 -2.3zM388.4 108.9h2.3l-1.1 -2.3zM390.4 104.9h2.3l-1.1 -2.3zM392.4 106.6h2.3l-1.1 -2.3zM394.3 104.4h2.3l-1.1 -2.3zM396.3 107.2h2.3l-1.1 -2.3zM398.2 102.4h2.3l-1.1 -2.3zM400.2 104.1h2.3l-1.1 -2.3zM402.2 106.3h2.3l-1.1 -2.3zM404.1 109.9h2.3l-1.1 -2.3zM406.1 103.7h2.3l-1.1 -2.3zM408.0 106.1h2.3l-1.1 -2.3zM410.0 105.1h2.3l-1.1 -2.3zM412.0 100.9h2.3l-1.1 -2.3zM413.9 102.8h2.3l-1.1 -2.3zM415.9 98.1h2.3l-1.1 -2.3zM417.8 99.8h2.3l-1.1 -2.3zM419.8 100.5h2.3l-1.1 -2.3zM421.8 99.8h2.3l-1.1 -2.3zM423.7 102.6h2.3l-1.1 -2.3zM425.7 97.6h2.3l-1.1 -2.3zM427.6 99.5h2.3l-1.1 -2.3zM429.6 97.0h2.3l-1.1 -2.3zM431.6 98.9h2.3l-1.1 -2.3zM433.5 93.9h2.3l-1.1 -2.3zM435.5 99.7h2.3l-1.1 -2.3zM437.4 94.9h2.3l-1.1 -2.3zM439.4 98.1h2.3l-1.1 -2.3zM441.4 99.5h2.3l-1.1 -2.3zM443.3 98.1h2.3l-1.1 -2.3zM445.3 101.0h2.3l-1.1 -2.3zM447.3 100.0h2.3l-1.1 -2.3zM449.2 102.7h2.3l-1.1 -2.3zM451.2 103.4h2.3l-1.1 -2.3zM453.1 108.0h2.3l-1.1 -2.3zM455.1 105.3h2.3l-1.1 -2.3zM457.1 105.2h2.3l-1.1 -2.3zM459.0 109.2h2.3l-1.1 -2.3zM461.0 105.9h2.3l-1.1 -2.3zM462.9 107.9h2.3l-1.1 -2.3zM464.9 108.4h2.3l-1.1 -2.3zM466.9 113.6h2.3l-1.1 -2.3zM468.8 114.5h2.3l-1.1 -2.3zM470.8 120.6h2.3l-1.1 -2.3zM472.7 119.0h2.3l-1.1 -2.3zM474.7 123.0h2.3l-1.1 -2.3zM476.7 122.6h2.3l-1.1 -2.3zM478.6 125.8h2.3l-1.1 -2.3zM480.6 124.1h2.3l-1.1 -2.3zM482.5 122.2h2.3l-1.1 -2.3zM484.5 124.6h2.3l-1.1 -2.3zM486.5 118.0h2.3l-1.1 -2.3zM488.4 119.1h2.3l-1.1 -2.3zM490.4 114.4h2.3l-1.1 -2.3zM492.3 118.4h2.3l-1.1 -2.3zM494.3 113.6h2.3l-1.1 -2.3zM496.3 116.1h2.3l-1.1 -2.3z" fill="#d01818"/>
<polygon points="306.7,153.2 494.5,153.2 496.4,148.2 311.1,148.2" fill="#e2f6f0"/>
<line x1="306.7" y1="60.3" x2="306.7" y2="153.2" stroke="#767676" stroke-width="1.0"/>
<line x1="306.7" y1="153.2" x2="494.5" y2="153.2" stroke="#767676" stroke-width="1.0"/>
<line x1="494.5" y1="153.2" x2="521.8" y2="80.6" stroke="#767676" stroke-width="0.9"/>
<line x1="304.2" y1="153.2" x2="306.7" y2="153.2" stroke="#767676" stroke-width="0.8"/>
<line x1="304.2" y1="142.6" x2="306.7" y2="142.6" stroke="#767676" stroke-width="0.8"/>
<line x1="304.2" y1="132.0" x2="306.7" y2="132.0" stroke="#767676" stroke-width="0.8"/>
<line x1="304.2" y1="121.4" x2="306.7" y2="121.4" stroke="#767676" stroke-width="0.8"/>
<line x1="304.2" y1="110.8" x2="306.7" y2="110.8" stroke="#767676" stroke-width="0.8"/>
<line x1="304.2" y1="100.2" x2="306.7" y2="100.2" stroke="#767676" stroke-width="0.8"/>
<line x1="304.2" y1="89.6" x2="306.7" y2="89.6" stroke="#767676" stroke-width="0.8"/>
<line x1="304.2" y1="79.0" x2="306.7" y2="79.0" stroke="#767676" stroke-width="0.8"/>
<line x1="304.2" y1="68.4" x2="306.7" y2="68.4" stroke="#767676" stroke-width="0.8"/>
<line x1="317.7" y1="153.2" x2="316.5" y2="155.6" stroke="#767676" stroke-width="0.8"/>
<line x1="338.0" y1="153.2" x2="336.8" y2="155.6" stroke="#767676" stroke-width="0.8"/>
<line x1="358.2" y1="153.2" x2="357.0" y2="155.6" stroke="#767676" stroke-width="0.8"/>
<line x1="378.5" y1="153.2" x2="377.3" y2="155.6" stroke="#767676" stroke-width="0.8"/>
<line x1="398.7" y1="153.2" x2="397.5" y2="155.6" stroke="#767676" stroke-width="0.8"/>
<line x1="419.0" y1="153.2" x2="417.8" y2="155.6" stroke="#767676" stroke-width="0.8"/>
<line x1="439.3" y1="153.2" x2="438.1" y2="155.6" stroke="#767676" stroke-width="0.8"/>
<line x1="459.5" y1="153.2" x2="458.3" y2="155.6" stroke="#767676" stroke-width="0.8"/>
<line x1="479.8" y1="153.2" x2="478.6" y2="155.6" stroke="#767676" stroke-width="0.8"/>
<line x1="327.8" y1="153.2" x2="327.1" y2="154.6" stroke="#767676" stroke-width="0.7"/>
<line x1="348.1" y1="153.2" x2="347.4" y2="154.6" stroke="#767676" stroke-width="0.7"/>
<line x1="368.3" y1="153.2" x2="367.6" y2="154.6" stroke="#767676" stroke-width="0.7"/>
<line x1="388.6" y1="153.2" x2="387.9" y2="154.6" stroke="#767676" stroke-width="0.7"/>
<line x1="408.9" y1="153.2" x2="408.2" y2="154.6" stroke="#767676" stroke-width="0.7"/>
<line x1="429.1" y1="153.2" x2="428.4" y2="154.6" stroke="#767676" stroke-width="0.7"/>
<line x1="449.4" y1="153.2" x2="448.7" y2="154.6" stroke="#767676" stroke-width="0.7"/>
<line x1="469.6" y1="153.2" x2="468.9" y2="154.6" stroke="#767676" stroke-width="0.7"/>
<line x1="489.9" y1="153.2" x2="489.2" y2="154.6" stroke="#767676" stroke-width="0.7"/>
<line x1="496.4" y1="148.2" x2="498.9" y2="148.2" stroke="#767676" stroke-width="0.8"/>
<line x1="500.0" y1="138.7" x2="502.5" y2="138.7" stroke="#767676" stroke-width="0.8"/>
<line x1="503.4" y1="129.6" x2="505.9" y2="129.6" stroke="#767676" stroke-width="0.8"/>
<line x1="506.6" y1="121.0" x2="509.1" y2="121.0" stroke="#767676" stroke-width="0.8"/>
<line x1="509.7" y1="112.8" x2="512.2" y2="112.8" stroke="#767676" stroke-width="0.8"/>
<line x1="512.6" y1="105.1" x2="515.1" y2="105.1" stroke="#767676" stroke-width="0.8"/>
<line x1="515.4" y1="97.7" x2="517.9" y2="97.7" stroke="#767676" stroke-width="0.8"/>
<line x1="518.0" y1="90.6" x2="520.5" y2="90.6" stroke="#767676" stroke-width="0.8"/>
<line x1="520.6" y1="83.8" x2="523.1" y2="83.8" stroke="#767676" stroke-width="0.8"/>
<line x1="97.7" y1="258.3" x2="251.4" y2="258.3" stroke="#d6d6d6" stroke-width="0.6"/>
<line x1="31.9" y1="327.1" x2="97.7" y2="258.3" stroke="#d6d6d6" stroke-width="0.6"/>
<line x1="97.7" y1="243.0" x2="251.4" y2="243.0" stroke="#d6d6d6" stroke-width="0.6"/>
<line x1="31.9" y1="308.0" x2="97.7" y2="243.0" stroke="#d6d6d6" stroke-width="0.6"/>
<line x1="97.7" y1="227.7" x2="251.4" y2="227.7" stroke="#d6d6d6" stroke-width="0.6"/>
<line x1="31.9" y1="288.9" x2="97.7" y2="227.7" stroke="#d6d6d6" stroke-width="0.6"/>
<line x1="97.7" y1="212.4" x2="251.4" y2="212.4" stroke="#d6d6d6" stroke-width="0.6"/>
<line x1="31.9" y1="269.8" x2="97.7" y2="212.4" stroke="#d6d6d6" stroke-width="0.6"/>
<line x1="97.7" y1="197.2" x2="251.4" y2="197.2" stroke="#d6d6d6" stroke-width="0.6"/>
<line x1="31.9" y1="250.7" x2="97.7" y2="197.2" stroke="#d6d6d6" stroke-width="0.6"/>
<line x1="104.4" y1="197.2" x2="104.4" y2="273.6" stroke="#d6d6d6" stroke-width="0.6"/>
<line x1="121.1" y1="197.2" x2="121.1" y2="273.6" stroke="#d6d6d6" stroke-width="0.6"/>
<line x1="137.9" y1="197.2" x2="137.9" y2="273.6" stroke="#d6d6d6" stroke-width="0.6"/>
<line x1="154.7" y1="197.2" x2="154.7" y2="273.6" stroke="#d6d6d6" stroke-width="0.6"/>
<line x1="171.5" y1="197.2" x2="171.5" y2="273.6" stroke="#d6d6d6" stroke-width="0.6"/>
<line x1="188.3" y1="197.2" x2="188.3" y2="273.6" stroke="#d6d6d6" stroke-width="0.6"/>
<line x1="205.1" y1="197.2" x2="205.1" y2="273.6" stroke="#d6d6d6" stroke-width="0.6"/>
<line x1="221.8" y1="197.2" x2="221.8" y2="273.6" stroke="#d6d6d6" stroke-width="0.6"/>
<line x1="238.6" y1="197.2" x2="238.6" y2="273.6" stroke="#d6d6d6" stroke-width="0.6"/>
<line x1="36.4" y1="247.0" x2="36.4" y2="341.2" stroke="#d6d6d6" stroke-width="0.6"/>
<line x1="45.1" y1="240.0" x2="45.1" y2="331.7" stroke="#d6d6d6" stroke-width="0.6"/>
<line x1="53.3" y1="233.3" x2="53.3" y2="322.6" stroke="#d6d6d6" stroke-width="0.6"/>
<line x1="61.1" y1="227.0" x2="61.1" y2="314.0" stroke="#d6d6d6" stroke-width="0.6"/>
<line x1="68.5" y1="221.0" x2="68.5" y2="305.8" stroke="#d6d6d6" stroke-width="0.6"/>
<line x1="75.5" y1="215.2" x2="75.5" y2="298.1" stroke="#d6d6d6" stroke-width="0.6"/>
<line x1="82.2" y1="209.8" x2="82.2" y2="290.7" stroke="#d6d6d6" stroke-width="0.6"/>
<line x1="88.6" y1="204.5" x2="88.6" y2="283.6" stroke="#d6d6d6" stroke-width="0.6"/>
<line x1="94.8" y1="199.6" x2="94.8" y2="276.8" stroke="#d6d6d6" stroke-width="0.6"/>
<line x1="97.7" y1="197.2" x2="251.4" y2="197.2" stroke="#bcbcbc" stroke-width="0.8"/>
<line x1="251.4" y1="197.2" x2="251.4" y2="273.6" stroke="#bcbcbc" stroke-width="0.8"/>
<line x1="97.7" y1="197.2" x2="97.7" y2="273.6" stroke="#bcbcbc" stroke-width="0.8"/>
<line x1="31.9" y1="250.7" x2="97.7" y2="197.2" stroke="#bcbcbc" stroke-width="0.8"/>
<polygon points="31.9,346.2 224.0,346.2 252.3,271.3 99.8,271.3" fill="#f4ec8a"/>
<polygon points="37.5,340.1 226.3,340.1 227.3,337.5 39.8,337.5" fill="#f8f6c4"/>
<polygon points="46.1,330.6 229.9,330.6 230.8,328.2 48.2,328.2" fill="#f8f6c4"/>
<polygon points="54.2,321.6 233.3,321.6 234.1,319.3 56.3,319.3" fill="#f8f6c4"/>
<polygon points="62.0,313.0 236.5,313.0 237.3,310.9 63.9,310.9" fill="#f8f6c4"/>
<polygon points="69.3,304.9 239.6,304.9 240.4,302.8 71.2,302.8" fill="#f8f6c4"/>
<polygon points="76.3,297.2 242.5,297.2 243.2,295.2 78.1,295.2" fill="#f8f6c4"/>
<polygon points="83.0,289.8 245.3,289.8 246.0,287.9 84.7,287.9" fill="#f8f6c4"/>
<polygon points="89.4,282.8 247.9,282.8 248.6,281.0 91.0,281.0" fill="#f8f6c4"/>
<polygon points="95.5,276.0 250.5,276.0 251.1,274.3 97.0,274.3" fill="#f8f6c4"/>
<path d="M95.7 270.3L96.7 276.8L95.7 276.8ZM142.3 270.3L143.3 276.8L142.3 276.8ZM147.1 263.7L148.2 276.8L147.1 276.8ZM152.0 271.6L153.1 276.8L152.1 276.8ZM179.4 267.6L180.5 276.8L179.5 276.8ZM192.7 268.9L193.8 276.8L192.8 276.8ZM222.2 271.6L223.3 276.8L222.2 276.8ZM228.4 258.4L229.4 276.8L228.4 276.8ZM234.3 268.9L235.4 276.8L234.4 276.8ZM104.0 278.4L104.6 276.6L106.4 276.6L106.4 278.4ZM116.4 278.4L117.0 276.6L120.2 276.6L120.2 278.4ZM126.7 278.4L127.3 276.6L129.4 276.6L129.4 278.4ZM139.6 278.4L140.2 276.6L142.5 276.6L142.5 278.4ZM147.3 278.4L147.9 276.6L150.9 276.6L150.9 278.4ZM154.2 278.4L154.8 276.6L156.8 276.6L156.8 278.4ZM160.5 278.4L161.1 276.6L163.3 276.6L163.3 278.4ZM168.4 278.4L169.0 276.6L170.7 276.6L170.7 278.4ZM175.5 278.4L176.1 276.6L180.0 276.6L180.0 278.4ZM190.4 278.4L191.0 276.6L193.2 276.6L193.2 278.4ZM196.2 278.4L196.8 276.6L198.2 276.6L198.2 278.4ZM200.6 278.4L201.2 276.6L202.4 276.6L202.4 278.4ZM207.0 278.4L207.6 276.6L210.5 276.6L210.5 278.4ZM217.3 278.4L217.9 276.6L220.2 276.6L220.2 278.4ZM225.0 278.4L225.6 276.6L227.6 276.6L227.6 278.4ZM231.9 278.4L232.5 276.6L234.1 276.6L234.1 278.4ZM239.9 278.4L240.5 276.6L241.4 276.6L241.4 278.4ZM246.5 278.4L247.1 276.6L251.8 276.6L251.8 278.4Z" fill="#3cb4ee"/>
<path d="M94.2 276.8L94.6 269.7L95.2 269.1L95.8 269.7L96.0 276.8ZM140.8 276.8L141.2 269.7L141.8 269.1L142.4 269.7L142.6 276.8ZM145.6 276.8L146.0 262.6L146.6 261.4L147.2 262.6L147.4 276.8ZM150.5 276.8L151.0 271.1L151.5 270.6L152.1 271.1L152.3 276.8ZM155.6 276.8L156.0 272.6L156.6 272.2L157.2 272.6L157.4 276.8ZM161.6 276.8L162.0 272.6L162.6 272.2L163.2 272.6L163.3 276.8ZM168.1 276.8L168.5 272.6L169.1 272.2L169.7 272.6L169.9 276.8ZM177.9 276.8L178.4 266.9L179.0 266.0L179.6 266.9L179.7 276.8ZM191.3 276.8L191.7 268.3L192.3 267.6L192.9 268.3L193.0 276.8ZM220.7 276.8L221.1 271.1L221.7 270.6L222.3 271.1L222.5 276.8ZM226.9 276.8L227.3 256.9L227.9 255.2L228.5 256.9L228.7 276.8ZM232.8 276.8L233.3 268.3L233.9 267.6L234.5 268.3L234.6 276.8ZM96.7 274.9L97.1 273.1L98.7 273.1L99.1 274.9ZM102.3 275.9L102.7 274.1L105.7 274.1L106.1 275.9ZM108.0 274.7L108.4 272.9L113.3 272.9L113.7 274.7ZM114.7 276.3L115.1 274.5L119.5 274.5L119.9 276.3ZM122.7 276.0L123.1 274.2L124.2 274.2L124.6 276.0ZM125.6 275.5L126.0 273.7L128.8 273.7L129.2 275.5ZM132.2 275.3L132.6 273.5L135.3 273.5L135.7 275.3ZM136.9 276.3L137.3 274.5L141.8 274.5L142.2 276.3ZM146.3 275.2L146.7 273.4L150.2 273.4L150.6 275.2ZM151.8 274.8L152.2 273.0L156.1 273.0L156.5 274.8ZM159.5 275.2L159.9 273.4L162.6 273.4L163.0 275.2ZM165.2 276.3L165.6 274.5L170.0 274.5L170.4 276.3ZM173.1 274.5L173.5 272.7L179.3 272.7L179.7 274.5ZM183.9 274.6L184.3 272.8L185.2 272.8L185.6 274.6ZM189.1 275.1L189.5 273.3L192.5 273.3L192.9 275.1ZM193.9 275.1L194.3 273.3L197.5 273.3L197.9 275.1ZM199.1 275.7L199.5 273.9L201.7 273.9L202.1 275.7ZM205.3 275.6L205.7 273.8L209.8 273.8L210.2 275.6ZM213.3 274.9L213.7 273.1L219.5 273.1L219.9 274.9ZM221.9 275.0L222.3 273.2L226.9 273.2L227.3 275.0ZM231.5 276.3L231.9 274.5L233.4 274.5L233.8 276.3ZM238.0 276.1L238.4 274.3L240.8 274.3L241.2 276.1ZM245.0 276.0L245.4 274.2L251.1 274.2L251.5 276.0Z" fill="#122f72"/>
<path d="M89.6 278.2L90.6 283.6L89.6 283.6ZM137.2 272.8L138.3 283.6L137.3 283.6ZM142.2 251.3L143.3 283.6L142.2 283.6ZM147.2 275.5L148.3 283.6L147.3 283.6ZM152.4 276.9L153.5 283.6L152.5 283.6ZM158.5 278.2L159.6 283.6L158.5 283.6ZM175.2 276.9L176.3 283.6L175.3 283.6ZM188.9 276.9L190.0 283.6L188.9 283.6ZM219.0 276.9L220.1 283.6L219.0 283.6ZM225.3 267.5L226.4 283.6L225.4 283.6ZM231.4 268.8L232.5 283.6L231.5 283.6ZM101.4 285.2L102.0 283.4L104.8 283.4L104.8 285.2ZM143.2 285.2L143.8 283.4L146.4 283.4L146.4 285.2ZM150.0 285.2L150.6 283.4L151.7 283.4L151.7 285.2ZM156.1 285.2L156.7 283.4L158.5 283.4L158.5 285.2ZM162.8 285.2L163.4 283.4L166.5 283.4L166.5 285.2ZM170.1 285.2L170.7 283.4L174.5 283.4L174.5 285.2ZM187.8 285.2L188.4 283.4L191.8 283.4L191.8 285.2ZM195.4 285.2L196.0 283.4L198.3 283.4L198.3 285.2ZM202.9 285.2L203.5 283.4L206.7 283.4L206.7 285.2ZM209.8 285.2L210.4 283.4L211.2 283.4L211.2 285.2ZM226.1 285.2L226.7 283.4L227.7 283.4L227.7 285.2ZM232.1 285.2L232.7 283.4L237.3 283.4L237.3 285.2ZM240.0 285.2L240.6 283.4L242.1 283.4L242.1 285.2ZM244.1 285.2L244.7 283.4L245.4 283.4L245.4 285.2Z" fill="#3cb4ee"/>
<path d="M88.0 283.6L88.5 277.8L89.1 277.3L89.7 277.8L89.9 283.6ZM135.7 283.6L136.1 271.9L136.7 270.9L137.4 271.9L137.5 283.6ZM140.7 283.6L141.1 248.7L141.7 245.6L142.3 248.7L142.5 283.6ZM145.7 283.6L146.1 274.9L146.7 274.1L147.3 274.9L147.5 283.6ZM150.9 283.6L151.3 276.3L151.9 275.7L152.5 276.3L152.7 283.6ZM157.0 283.6L157.4 277.8L158.0 277.3L158.6 277.8L158.8 283.6ZM163.7 283.6L164.1 279.2L164.7 278.8L165.3 279.2L165.5 283.6ZM173.7 283.6L174.2 276.3L174.8 275.7L175.4 276.3L175.6 283.6ZM187.4 283.6L187.8 276.3L188.4 275.7L189.0 276.3L189.2 283.6ZM217.5 283.6L217.9 276.3L218.5 275.7L219.1 276.3L219.3 283.6ZM223.8 283.6L224.3 266.1L224.9 264.6L225.5 266.1L225.6 283.6ZM229.9 283.6L230.3 267.6L230.9 266.2L231.5 267.6L231.7 283.6ZM90.4 283.0L90.8 281.2L95.5 281.2L95.9 283.0ZM97.2 282.6L97.6 280.8L104.1 280.8L104.5 282.6ZM107.6 281.3L108.0 279.5L109.4 279.5L109.8 281.3ZM113.3 282.8L113.7 281.0L117.5 281.0L117.9 282.8ZM119.8 282.5L120.2 280.7L125.8 280.7L126.2 282.5ZM129.0 281.8L129.4 280.0L131.2 280.0L131.6 281.8ZM132.7 281.9L133.1 280.1L137.3 280.1L137.7 281.9ZM139.7 281.7L140.1 279.9L145.7 279.9L146.1 281.7ZM148.6 282.6L149.0 280.8L151.0 280.8L151.4 282.6ZM152.9 281.6L153.3 279.8L157.8 279.8L158.2 281.6ZM161.6 281.3L162.0 279.5L165.8 279.5L166.2 281.3ZM167.9 281.5L168.3 279.7L173.8 279.7L174.2 281.5ZM175.8 281.2L176.2 279.4L181.9 279.4L182.3 281.2ZM184.7 282.7L185.1 280.9L191.1 280.9L191.5 282.7ZM193.6 283.0L194.0 281.2L197.6 281.2L198.0 283.0ZM200.7 281.7L201.1 279.9L206.0 279.9L206.4 281.7ZM208.3 282.3L208.7 280.5L210.5 280.5L210.9 282.3ZM214.3 281.5L214.7 279.7L220.2 279.7L220.6 281.5ZM224.7 282.5L225.1 280.7L227.0 280.7L227.4 282.5ZM230.0 282.0L230.4 280.2L236.6 280.2L237.0 282.0ZM239.3 282.0L239.7 280.2L241.4 280.2L241.8 282.0ZM242.7 281.8L243.1 280.0L244.7 280.0L245.1 281.8Z" fill="#122f72"/>
<path d="M83.2 281.0L84.3 290.7L83.2 290.7ZM132.0 276.9L133.1 290.7L132.0 290.7ZM137.0 254.9L138.1 290.7L137.1 290.7ZM142.2 278.3L143.3 290.7L142.2 290.7ZM147.5 285.2L148.6 290.7L147.6 290.7ZM160.6 283.8L161.7 290.7L160.6 290.7ZM170.9 285.2L172.0 290.7L170.9 290.7ZM215.7 282.4L216.8 290.7L215.7 290.7ZM222.1 267.3L223.3 290.7L222.2 290.7ZM228.4 276.9L229.5 290.7L228.4 290.7ZM84.3 292.3L84.9 290.5L86.0 290.5L86.0 292.3ZM88.9 292.3L89.5 290.5L90.6 290.5L90.6 292.3ZM96.2 292.3L96.8 290.5L98.2 290.5L98.2 292.3ZM101.3 292.3L101.9 290.5L105.5 290.5L105.5 292.3ZM123.7 292.3L124.3 290.5L126.0 290.5L126.0 292.3ZM137.1 292.3L137.7 290.5L141.4 290.5L141.4 292.3ZM145.7 292.3L146.3 290.5L147.2 290.5L147.2 292.3ZM152.4 292.3L153.0 290.5L155.6 290.5L155.6 292.3ZM166.9 292.3L167.5 290.5L173.1 290.5L173.1 292.3ZM183.5 292.3L184.1 290.5L187.7 290.5L187.7 292.3ZM199.6 292.3L200.2 290.5L201.2 290.5L201.2 292.3ZM215.3 292.3L215.9 290.5L218.2 290.5L218.2 292.3ZM223.9 292.3L224.5 290.5L226.1 290.5L226.1 292.3ZM237.5 292.3L238.1 290.5L242.3 290.5L242.3 292.3Z" fill="#3cb4ee"/>
<path d="M81.6 290.7L82.1 280.2L82.7 279.3L83.3 280.2L83.5 290.7ZM130.4 290.7L130.8 275.8L131.5 274.5L132.1 275.8L132.3 290.7ZM135.5 290.7L135.9 252.0L136.5 248.6L137.2 252.0L137.3 290.7ZM140.6 290.7L141.1 277.3L141.7 276.1L142.3 277.3L142.5 290.7ZM146.0 290.7L146.4 284.7L147.0 284.2L147.6 284.7L147.8 290.7ZM152.2 290.7L152.6 286.2L153.2 285.8L153.9 286.2L154.0 290.7ZM159.0 290.7L159.5 283.2L160.1 282.6L160.7 283.2L160.9 290.7ZM169.3 290.7L169.8 284.7L170.4 284.2L171.0 284.7L171.2 290.7ZM183.3 290.7L183.7 286.2L184.3 285.8L185.0 286.2L185.1 290.7ZM214.1 290.7L214.6 281.7L215.2 280.9L215.8 281.7L216.0 290.7ZM220.6 290.7L221.0 265.3L221.7 263.1L222.3 265.3L222.5 290.7ZM226.8 290.7L227.3 275.8L227.9 274.5L228.5 275.8L228.7 290.7ZM83.6 289.7L84.0 287.9L85.3 287.9L85.7 289.7ZM87.5 289.4L87.9 287.6L89.8 287.6L90.2 289.4ZM93.2 289.2L93.6 287.4L97.5 287.4L97.9 289.2ZM100.2 289.7L100.6 287.9L104.8 287.9L105.2 289.7ZM109.2 288.6L109.6 286.8L114.5 286.8L114.9 288.6ZM116.3 289.8L116.7 288.0L121.3 288.0L121.7 289.8ZM123.1 289.9L123.5 288.1L125.3 288.1L125.7 289.9ZM127.9 288.2L128.3 286.4L131.7 286.4L132.1 288.2ZM135.1 290.1L135.5 288.3L140.7 288.3L141.1 290.1ZM144.4 288.3L144.8 286.5L146.5 286.5L146.9 288.3ZM150.8 290.1L151.2 288.3L154.9 288.3L155.3 290.1ZM158.8 288.3L159.2 286.5L162.9 286.5L163.3 288.3ZM165.4 289.1L165.8 287.3L172.4 287.3L172.8 289.1ZM175.1 289.8L175.5 288.0L178.8 288.0L179.2 289.8ZM181.2 289.7L181.6 287.9L187.0 287.9L187.4 289.7ZM191.1 289.7L191.5 287.9L194.5 287.9L194.9 289.7ZM198.2 289.7L198.6 287.9L200.5 287.9L200.9 289.7ZM203.3 289.0L203.7 287.2L209.4 287.2L209.8 289.0ZM213.5 289.6L213.9 287.8L217.5 287.8L217.9 289.6ZM222.4 288.7L222.8 286.9L225.4 286.9L225.8 288.7ZM229.3 288.7L229.7 286.9L230.6 286.9L231.0 288.7ZM235.2 289.4L235.6 287.6L241.6 287.6L242.0 289.4Z" fill="#122f72"/>
<path d="M76.5 289.6L77.6 298.1L76.5 298.1ZM126.4 272.0L127.6 298.1L126.5 298.1ZM131.6 248.8L132.8 298.1L131.7 298.1ZM136.9 288.2L138.0 298.1L137.0 298.1ZM142.4 291.0L143.5 298.1L142.4 298.1ZM148.7 289.6L149.9 298.1L148.8 298.1ZM155.7 292.4L156.9 298.1L155.8 298.1ZM180.6 292.4L181.7 298.1L180.6 298.1ZM212.2 286.8L213.3 298.1L212.2 298.1ZM218.8 274.1L219.9 298.1L218.8 298.1ZM225.2 285.4L226.3 298.1L225.2 298.1ZM80.3 299.7L80.9 297.9L83.4 297.9L83.4 299.7ZM88.7 299.7L89.3 297.9L92.9 297.9L92.9 299.7ZM97.2 299.7L97.8 297.9L99.6 297.9L99.6 299.7ZM108.1 299.7L108.7 297.9L110.9 297.9L110.9 299.7ZM118.8 299.7L119.4 297.9L123.3 297.9L123.3 299.7ZM152.5 299.7L153.1 297.9L157.6 297.9L157.6 299.7ZM162.9 299.7L163.5 297.9L168.2 297.9L168.2 299.7ZM170.1 299.7L170.7 297.9L171.5 297.9L171.5 299.7ZM196.7 299.7L197.3 297.9L199.3 297.9L199.3 299.7ZM203.0 299.7L203.6 297.9L206.6 297.9L206.6 299.7ZM211.2 299.7L211.8 297.9L215.9 297.9L215.9 299.7ZM233.5 299.7L234.1 297.9L236.5 297.9L236.5 299.7Z" fill="#3cb4ee"/>
<path d="M74.9 298.1L75.3 288.9L76.0 288.1L76.6 288.9L76.8 298.1ZM124.8 298.1L125.3 269.9L125.9 267.4L126.6 269.9L126.8 298.1ZM130.0 298.1L130.5 244.7L131.1 240.1L131.8 244.7L131.9 298.1ZM135.3 298.1L135.8 287.4L136.4 286.5L137.0 287.4L137.2 298.1ZM140.8 298.1L141.2 290.4L141.9 289.8L142.5 290.4L142.7 298.1ZM147.1 298.1L147.6 288.9L148.2 288.1L148.9 288.9L149.1 298.1ZM154.1 298.1L154.6 292.0L155.2 291.4L155.9 292.0L156.1 298.1ZM164.7 298.1L165.2 293.5L165.8 293.1L166.4 293.5L166.6 298.1ZM179.0 298.1L179.4 292.0L180.1 291.4L180.7 292.0L180.9 298.1ZM210.6 298.1L211.0 285.9L211.7 284.8L212.3 285.9L212.5 298.1ZM217.2 298.1L217.7 272.2L218.3 269.9L218.9 272.2L219.1 298.1ZM223.6 298.1L224.0 284.3L224.7 283.2L225.3 284.3L225.5 298.1ZM78.3 297.5L78.7 295.7L82.6 295.7L83.0 297.5ZM87.2 296.8L87.6 295.0L92.1 295.0L92.5 296.8ZM95.7 296.4L96.1 294.6L98.8 294.6L99.2 296.4ZM101.9 295.9L102.3 294.1L103.4 294.1L103.8 295.9ZM105.2 295.8L105.6 294.0L110.2 294.0L110.6 295.8ZM112.0 297.0L112.4 295.2L113.8 295.2L114.2 297.0ZM116.2 297.4L116.6 295.6L122.5 295.6L122.9 297.4ZM126.8 296.0L127.2 294.2L132.2 294.2L132.6 296.0ZM134.1 296.1L134.5 294.3L140.0 294.3L140.4 296.1ZM143.0 297.2L143.4 295.4L146.9 295.4L147.3 297.2ZM149.8 297.0L150.2 295.2L156.8 295.2L157.2 297.0ZM160.4 297.1L160.8 295.3L167.5 295.3L167.9 297.1ZM169.2 295.5L169.6 293.7L170.8 293.7L171.2 295.5ZM175.0 297.0L175.4 295.2L180.2 295.2L180.6 297.0ZM184.9 295.7L185.3 293.9L189.0 293.9L189.4 295.7ZM193.1 295.6L193.5 293.8L198.6 293.8L199.0 295.6ZM200.3 297.3L200.7 295.5L205.9 295.5L206.3 297.3ZM209.7 297.2L210.1 295.4L215.1 295.4L215.5 297.2ZM218.8 295.7L219.2 293.9L221.2 293.9L221.6 295.7ZM223.6 297.4L224.0 295.6L228.7 295.6L229.1 297.4ZM230.7 297.0L231.1 295.2L235.8 295.2L236.2 297.0ZM237.9 297.2L238.3 295.4L239.6 295.4L240.0 297.2Z" fill="#122f72"/>
<path d="M69.5 298.6L70.6 305.8L69.5 305.8ZM120.6 235.9L121.8 305.8L120.7 305.8ZM126.0 284.2L127.1 305.8L126.0 305.8ZM131.4 292.9L132.5 305.8L131.4 305.8ZM137.0 297.2L138.1 305.8L137.0 305.8ZM143.5 300.1L144.7 305.8L143.5 305.8ZM150.7 298.6L151.8 305.8L150.7 305.8ZM161.5 297.2L162.7 305.8L161.5 305.8ZM176.1 298.6L177.3 305.8L176.2 305.8ZM208.5 295.7L209.7 305.8L208.5 305.8ZM215.3 281.3L216.5 305.8L215.3 305.8ZM221.8 294.3L223.0 305.8L221.9 305.8ZM71.6 307.4L72.2 305.6L73.7 305.6L73.7 307.4ZM81.6 307.4L82.2 305.6L84.5 305.6L84.5 307.4ZM98.3 307.4L98.9 305.6L102.7 305.6L102.7 307.4ZM103.9 307.4L104.5 305.6L105.9 305.6L105.9 307.4ZM110.7 307.4L111.3 305.6L112.4 305.6L112.4 307.4ZM119.3 307.4L119.9 305.6L122.5 305.6L122.5 307.4ZM126.1 307.4L126.7 305.6L130.1 305.6L130.1 307.4ZM135.5 307.4L136.1 305.6L138.4 305.6L138.4 307.4ZM140.6 307.4L141.2 305.6L142.1 305.6L142.1 307.4ZM146.0 307.4L146.6 305.6L148.7 305.6L148.7 307.4ZM152.7 307.4L153.3 305.6L157.2 305.6L157.2 307.4ZM167.6 307.4L168.2 305.6L169.4 305.6L169.4 307.4ZM174.4 307.4L175.0 305.6L176.0 305.6L176.0 307.4ZM181.0 307.4L181.6 305.6L185.3 305.6L185.3 307.4ZM195.6 307.4L196.2 305.6L199.6 305.6L199.6 307.4ZM210.3 307.4L210.9 305.6L212.3 305.6L212.3 307.4ZM216.3 307.4L216.9 305.6L219.9 305.6L219.9 307.4ZM223.3 307.4L223.9 305.6L227.0 305.6L227.0 307.4ZM231.2 307.4L231.8 305.6L236.2 305.6L236.2 307.4Z" fill="#3cb4ee"/>
<path d="M67.8 305.8L68.3 298.0L68.9 297.4L69.6 298.0L69.8 305.8ZM119.0 305.8L119.5 230.1L120.1 223.5L120.8 230.1L121.0 305.8ZM124.3 305.8L124.8 282.4L125.5 280.4L126.1 282.4L126.3 305.8ZM129.7 305.8L130.2 291.8L130.9 290.6L131.5 291.8L131.7 305.8ZM135.3 305.8L135.8 296.5L136.5 295.7L137.1 296.5L137.3 305.8ZM141.9 305.8L142.3 299.6L143.0 299.1L143.6 299.6L143.8 305.8ZM149.0 305.8L149.5 298.0L150.2 297.4L150.8 298.0L151.0 305.8ZM159.9 305.8L160.3 296.5L161.0 295.7L161.6 296.5L161.8 305.8ZM174.5 305.8L175.0 298.0L175.6 297.4L176.3 298.0L176.5 305.8ZM206.9 305.8L207.3 294.9L208.0 294.0L208.6 294.9L208.8 305.8ZM213.7 305.8L214.1 279.3L214.8 277.0L215.4 279.3L215.6 305.8ZM220.2 305.8L220.7 293.3L221.3 292.3L222.0 293.3L222.1 305.8ZM71.0 304.0L71.4 302.2L72.9 302.2L73.3 304.0ZM77.1 304.2L77.5 302.4L83.7 302.4L84.1 304.2ZM85.2 303.4L85.6 301.6L91.7 301.6L92.1 303.4ZM95.2 304.2L95.6 302.4L102.0 302.4L102.4 304.2ZM103.6 304.2L104.0 302.4L105.1 302.4L105.5 304.2ZM109.4 304.8L109.8 303.0L111.7 303.0L112.1 304.8ZM114.9 303.7L115.3 301.9L121.8 301.9L122.2 303.7ZM124.5 303.9L124.9 302.1L129.4 302.1L129.8 303.9ZM134.4 303.4L134.8 301.6L137.7 301.6L138.1 303.4ZM139.9 303.8L140.3 302.0L141.4 302.0L141.8 303.8ZM143.1 304.2L143.5 302.4L148.0 302.4L148.4 304.2ZM150.7 303.6L151.1 301.8L156.4 301.8L156.8 303.6ZM160.1 305.2L160.5 303.4L162.6 303.4L163.0 305.2ZM166.6 304.1L167.0 302.3L168.7 302.3L169.1 304.1ZM173.6 304.9L174.0 303.1L175.2 303.1L175.6 304.9ZM179.9 305.2L180.3 303.4L184.5 303.4L184.9 305.2ZM186.2 303.5L186.6 301.7L189.5 301.7L189.9 303.5ZM194.5 304.9L194.9 303.1L198.9 303.1L199.3 304.9ZM201.8 303.9L202.2 302.1L206.8 302.1L207.2 303.9ZM209.6 303.5L210.0 301.7L211.5 301.7L211.9 303.5ZM213.5 303.4L213.9 301.6L219.2 301.6L219.6 303.4ZM220.7 305.0L221.1 303.2L226.2 303.2L226.6 305.0ZM229.3 305.2L229.7 303.4L235.4 303.4L235.8 305.2Z" fill="#122f72"/>
<path d="M114.6 287.4L115.8 314.0L114.6 314.0ZM120.0 299.2L121.2 314.0L120.1 314.0ZM125.6 302.2L126.8 314.0L125.6 314.0ZM131.3 297.7L132.5 314.0L131.3 314.0ZM138.0 306.6L139.2 314.0L138.0 314.0ZM145.3 303.7L146.5 314.0L145.4 314.0ZM156.4 308.1L157.6 314.0L156.5 314.0ZM171.4 305.1L172.6 314.0L171.5 314.0ZM204.6 299.2L205.8 314.0L204.7 314.0ZM211.6 290.3L212.8 314.0L211.7 314.0ZM218.3 306.6L219.5 314.0L218.3 314.0ZM66.7 315.6L67.3 313.8L72.6 313.8L72.6 315.6ZM75.5 315.6L76.1 313.8L80.3 313.8L80.3 315.6ZM85.2 315.6L85.8 313.8L89.6 313.8L89.6 315.6ZM92.8 315.6L93.4 313.8L97.3 313.8L97.3 315.6ZM102.4 315.6L103.0 313.8L106.7 313.8L106.7 315.6ZM108.5 315.6L109.1 313.8L110.8 313.8L110.8 315.6ZM122.4 315.6L123.0 313.8L124.5 313.8L124.5 315.6ZM136.8 315.6L137.4 313.8L139.0 313.8L139.0 315.6ZM152.5 315.6L153.1 313.8L155.2 313.8L155.2 315.6ZM170.0 315.6L170.6 313.8L171.4 313.8L171.4 315.6ZM176.3 315.6L176.9 313.8L177.8 313.8L177.8 315.6ZM186.6 315.6L187.2 313.8L191.5 313.8L191.5 315.6ZM215.0 315.6L215.6 313.8L221.5 313.8L221.5 315.6ZM227.4 315.6L228.0 313.8L229.9 313.8L229.9 315.6ZM235.0 315.6L235.6 313.8L238.8 313.8L238.8 315.6Z" fill="#3cb4ee"/>
<path d="M60.4 314.0L60.9 309.9L61.6 309.5L62.2 309.9L62.4 314.0ZM112.9 314.0L113.4 285.2L114.0 282.7L114.7 285.2L114.9 314.0ZM118.3 314.0L118.8 298.0L119.5 296.6L120.2 298.0L120.3 314.0ZM123.9 314.0L124.4 301.2L125.0 300.1L125.7 301.2L125.9 314.0ZM129.6 314.0L130.1 296.4L130.8 294.9L131.4 296.4L131.6 314.0ZM136.3 314.0L136.8 306.0L137.5 305.3L138.1 306.0L138.3 314.0ZM143.7 314.0L144.2 302.8L144.8 301.8L145.5 302.8L145.7 314.0ZM154.8 314.0L155.2 307.6L155.9 307.1L156.6 307.6L156.8 314.0ZM169.8 314.0L170.3 304.4L170.9 303.6L171.6 304.4L171.8 314.0ZM203.0 314.0L203.4 298.0L204.1 296.6L204.8 298.0L205.0 314.0ZM209.9 314.0L210.4 288.4L211.1 286.2L211.7 288.4L211.9 314.0ZM216.6 314.0L217.1 306.0L217.8 305.3L218.4 306.0L218.6 314.0ZM64.5 311.4L64.9 309.6L71.9 309.6L72.3 311.4ZM74.4 311.6L74.8 309.8L79.5 309.8L79.9 311.6ZM83.6 312.6L84.0 310.8L88.8 310.8L89.2 312.6ZM91.4 312.6L91.8 310.8L96.5 310.8L96.9 312.6ZM101.3 311.6L101.7 309.8L105.9 309.8L106.3 311.6ZM107.5 312.6L107.9 310.8L110.0 310.8L110.4 312.6ZM115.0 313.2L115.4 311.4L116.5 311.4L116.9 313.2ZM120.7 313.2L121.1 311.4L123.8 311.4L124.2 313.2ZM126.3 312.5L126.7 310.7L130.8 310.7L131.2 312.5ZM134.6 312.6L135.0 310.8L138.2 310.8L138.6 312.6ZM140.4 312.7L140.8 310.9L142.5 310.9L142.9 312.7ZM146.0 312.2L146.4 310.4L147.5 310.4L147.9 312.2ZM151.7 313.2L152.1 311.4L154.4 311.4L154.8 313.2ZM159.5 312.7L159.9 310.9L165.2 310.9L165.6 312.7ZM168.9 312.9L169.3 311.1L170.6 311.1L171.0 312.9ZM174.5 311.6L174.9 309.8L177.1 309.8L177.5 311.6ZM180.6 312.5L181.0 310.7L182.1 310.7L182.5 312.5ZM185.2 313.2L185.6 311.4L190.8 311.4L191.2 313.2ZM194.6 311.7L195.0 309.9L197.5 309.9L197.9 311.7ZM199.4 312.0L199.8 310.2L201.2 310.2L201.6 312.0ZM206.0 313.3L206.4 311.5L209.6 311.5L210.0 313.3ZM213.3 312.7L213.7 310.9L220.7 310.9L221.1 312.7ZM225.5 313.2L225.9 311.4L229.2 311.4L229.6 313.2ZM232.0 312.1L232.4 310.3L238.0 310.3L238.4 312.1Z" fill="#122f72"/>
<path d="M108.2 289.2L109.4 322.6L108.2 322.6ZM113.8 304.4L115.0 322.6L113.8 322.6ZM119.4 307.4L120.7 322.6L119.5 322.6ZM125.3 310.5L126.6 322.6L125.4 322.6ZM132.2 302.9L133.4 322.6L132.2 322.6ZM139.7 313.5L141.0 322.6L139.8 322.6ZM151.1 315.0L152.4 322.6L151.2 322.6ZM200.6 304.4L201.8 322.6L200.6 322.6ZM207.7 299.8L208.9 322.6L207.8 322.6ZM214.6 313.5L215.8 322.6L214.6 322.6ZM57.0 324.2L57.6 322.4L60.1 322.4L60.1 324.2ZM64.4 324.2L65.0 322.4L68.5 322.4L68.5 324.2ZM71.6 324.2L72.2 322.4L74.5 322.4L74.5 324.2ZM83.7 324.2L84.3 322.4L88.2 322.4L88.2 324.2ZM91.7 324.2L92.3 322.4L94.2 322.4L94.2 324.2ZM99.5 324.2L100.1 322.4L100.8 322.4L100.8 324.2ZM116.7 324.2L117.3 322.4L121.5 322.4L121.5 324.2ZM125.3 324.2L125.9 322.4L127.0 322.4L127.0 324.2ZM141.9 324.2L142.5 322.4L147.2 322.4L147.2 324.2ZM150.0 324.2L150.6 322.4L155.8 322.4L155.8 324.2ZM171.0 324.2L171.6 322.4L173.7 322.4L173.7 324.2ZM178.8 324.2L179.4 322.4L183.6 322.4L183.6 324.2ZM191.2 324.2L191.8 322.4L194.4 322.4L194.4 324.2ZM202.1 324.2L202.7 322.4L207.3 322.4L207.3 324.2ZM213.5 324.2L214.1 322.4L217.7 322.4L217.7 324.2Z" fill="#3cb4ee"/>
<path d="M52.6 322.6L53.1 317.7L53.8 317.3L54.5 317.7L54.7 322.6ZM106.4 322.6L106.9 286.5L107.6 283.3L108.3 286.5L108.5 322.6ZM112.0 322.6L112.5 302.9L113.2 301.2L113.9 302.9L114.1 322.6ZM117.7 322.6L118.2 306.2L118.9 304.8L119.6 306.2L119.8 322.6ZM123.6 322.6L124.1 309.5L124.8 308.3L125.5 309.5L125.7 322.6ZM130.5 322.6L131.0 301.3L131.7 299.4L132.3 301.3L132.5 322.6ZM138.0 322.6L138.5 312.8L139.2 311.9L139.9 312.8L140.1 322.6ZM149.4 322.6L149.9 314.4L150.6 313.7L151.3 314.4L151.5 322.6ZM164.8 322.6L165.3 317.7L166.0 317.3L166.7 317.7L166.9 322.6ZM198.8 322.6L199.3 302.9L200.0 301.2L200.7 302.9L200.9 322.6ZM206.0 322.6L206.5 298.0L207.2 295.8L207.9 298.0L208.1 322.6ZM212.9 322.6L213.4 312.8L214.0 311.9L214.7 312.8L214.9 322.6ZM56.2 321.3L56.6 319.5L59.3 319.5L59.7 321.3ZM62.3 320.7L62.7 318.9L67.7 318.9L68.1 320.7ZM70.9 320.6L71.3 318.8L73.8 318.8L74.2 320.6ZM77.9 321.2L78.3 319.4L80.5 319.4L80.9 321.2ZM82.4 320.7L82.8 318.9L87.4 318.9L87.8 320.7ZM90.5 321.1L90.9 319.3L93.4 319.3L93.8 321.1ZM98.5 320.7L98.9 318.9L100.1 318.9L100.5 320.7ZM104.5 321.4L104.9 319.6L108.9 319.6L109.3 321.4ZM113.6 321.7L114.0 319.9L120.7 319.9L121.1 321.7ZM123.3 321.2L123.7 319.4L126.2 319.4L126.6 321.2ZM131.2 320.7L131.6 318.9L136.6 318.9L137.0 320.7ZM140.1 321.9L140.5 320.1L146.4 320.1L146.8 321.9ZM148.2 320.4L148.6 318.6L155.0 318.6L155.4 320.4ZM159.7 320.3L160.1 318.5L163.4 318.5L163.8 320.3ZM167.7 319.9L168.1 318.1L173.0 318.1L173.4 319.9ZM176.9 319.8L177.3 318.0L182.8 318.0L183.2 319.8ZM187.1 321.4L187.5 319.6L193.6 319.6L194.0 321.4ZM198.9 321.5L199.3 319.7L206.6 319.7L207.0 321.5ZM209.9 320.9L210.3 319.1L216.9 319.1L217.3 320.9ZM221.4 319.9L221.8 318.1L226.8 318.1L227.2 319.9Z" fill="#122f72"/>
<path d="M46.1 323.9L47.4 331.7L46.2 331.7ZM101.4 284.9L102.7 331.7L101.5 331.7ZM107.2 309.9L108.4 331.7L107.2 331.7ZM113.0 303.6L114.3 331.7L113.1 331.7ZM119.0 313.0L120.3 331.7L119.1 331.7ZM126.1 322.3L127.4 331.7L126.1 331.7ZM133.8 314.5L135.1 331.7L133.9 331.7ZM161.3 325.4L162.6 331.7L161.4 331.7ZM196.3 323.9L197.5 331.7L196.3 331.7ZM203.6 311.4L204.9 331.7L203.7 331.7ZM210.7 323.9L211.9 331.7L210.7 331.7ZM49.5 333.3L50.1 331.5L51.6 331.5L51.6 333.3ZM66.4 333.3L67.0 331.5L68.8 331.5L68.8 333.3ZM72.1 333.3L72.7 331.5L74.4 331.5L74.4 333.3ZM81.7 333.3L82.3 331.5L84.1 331.5L84.1 333.3ZM89.9 333.3L90.5 331.5L93.0 331.5L93.0 333.3ZM120.8 333.3L121.4 331.5L123.2 331.5L123.2 333.3ZM128.2 333.3L128.8 331.5L130.3 331.5L130.3 333.3ZM160.0 333.3L160.6 331.5L163.8 331.5L163.8 333.3ZM168.8 333.3L169.4 331.5L171.8 331.5L171.8 333.3ZM184.9 333.3L185.5 331.5L190.6 331.5L190.6 333.3ZM193.4 333.3L194.0 331.5L198.2 331.5L198.2 333.3ZM212.4 333.3L213.0 331.5L215.5 331.5L215.5 333.3ZM229.2 333.3L229.8 331.5L233.4 331.5L233.4 333.3Z" fill="#3cb4ee"/>
<path d="M44.4 331.7L44.9 323.2L45.6 322.5L46.3 323.2L46.5 331.7ZM99.7 331.7L100.2 281.1L100.9 276.7L101.6 281.1L101.8 331.7ZM105.4 331.7L105.9 308.1L106.6 306.0L107.3 308.1L107.5 331.7ZM111.2 331.7L111.7 301.3L112.4 298.7L113.2 301.3L113.4 331.7ZM117.3 331.7L117.8 311.4L118.5 309.7L119.2 311.4L119.4 331.7ZM124.3 331.7L124.8 321.6L125.5 320.7L126.2 321.6L126.4 331.7ZM132.1 331.7L132.6 313.1L133.3 311.5L134.0 313.1L134.2 331.7ZM143.8 331.7L144.3 326.6L145.0 326.2L145.7 326.6L145.9 331.7ZM159.6 331.7L160.1 324.9L160.8 324.3L161.5 324.9L161.7 331.7ZM194.5 331.7L195.0 323.2L195.7 322.5L196.4 323.2L196.6 331.7ZM201.9 331.7L202.4 309.7L203.1 307.8L203.8 309.7L204.0 331.7ZM208.9 331.7L209.4 323.2L210.1 322.5L210.8 323.2L211.0 331.7ZM48.8 329.7L49.2 327.9L50.8 327.9L51.2 329.7ZM54.9 329.1L55.3 327.3L60.9 327.3L61.3 329.1ZM63.5 329.2L63.9 327.4L68.0 327.4L68.4 329.2ZM69.6 330.8L70.0 329.0L73.6 329.0L74.0 330.8ZM79.0 330.4L79.4 328.6L83.3 328.6L83.7 330.4ZM85.6 330.3L86.0 328.5L92.2 328.5L92.6 330.3ZM94.6 330.0L95.0 328.2L102.2 328.2L102.6 330.0ZM106.7 329.7L107.1 327.9L113.7 327.9L114.1 329.7ZM118.1 330.8L118.5 329.0L122.4 329.0L122.8 330.8ZM127.7 330.0L128.1 328.2L129.5 328.2L129.9 330.0ZM131.1 329.1L131.5 327.3L138.3 327.3L138.7 329.1ZM141.0 328.8L141.4 327.0L148.3 327.0L148.7 328.8ZM151.2 329.8L151.6 328.0L155.2 328.0L155.6 329.8ZM158.7 330.8L159.1 329.0L163.0 329.0L163.4 330.8ZM166.4 330.5L166.8 328.7L171.0 328.7L171.4 330.5ZM173.5 329.7L173.9 327.9L179.4 327.9L179.8 329.7ZM181.9 329.1L182.3 327.3L189.8 327.3L190.2 329.1ZM192.2 330.5L192.6 328.7L197.4 328.7L197.8 330.5ZM201.6 329.4L202.0 327.6L207.0 327.6L207.4 329.4ZM210.8 330.4L211.2 328.6L214.7 328.6L215.1 330.4ZM218.0 330.5L218.4 328.7L221.2 328.7L221.6 330.5ZM226.7 329.6L227.1 327.8L232.6 327.8L233.0 329.6Z" fill="#122f72"/>
<path d="M37.5 329.7L38.8 341.2L37.6 341.2ZM94.3 280.4L95.6 341.2L94.4 341.2ZM100.2 315.6L101.5 341.2L100.3 341.2ZM106.2 299.6L107.5 341.2L106.3 341.2ZM112.4 301.2L113.7 341.2L112.5 341.2ZM119.7 325.2L121.0 341.2L119.7 341.2ZM127.6 322.0L128.9 341.2L127.7 341.2ZM139.6 334.8L140.9 341.2L139.7 341.2ZM155.9 333.2L157.2 341.2L155.9 341.2ZM191.8 331.6L193.1 341.2L191.8 341.2ZM199.3 326.8L200.6 341.2L199.4 341.2ZM206.6 334.8L207.9 341.2L206.6 341.2ZM41.8 342.8L42.4 341.0L43.3 341.0L43.3 342.8ZM46.4 342.8L47.0 341.0L52.5 341.0L52.5 342.8ZM56.4 342.8L57.0 341.0L60.7 341.0L60.7 342.8ZM83.4 342.8L84.0 341.0L85.6 341.0L85.6 342.8ZM117.5 342.8L118.1 341.0L121.7 341.0L121.7 342.8ZM157.2 342.8L157.8 341.0L160.3 341.0L160.3 342.8ZM163.2 342.8L163.8 341.0L165.0 341.0L165.0 342.8ZM168.6 342.8L169.2 341.0L171.5 341.0L171.5 342.8ZM185.3 342.8L185.9 341.0L187.3 341.0L187.3 342.8ZM189.2 342.8L189.8 341.0L192.2 341.0L192.2 342.8ZM199.1 342.8L199.7 341.0L203.6 341.0L203.6 342.8ZM206.7 342.8L207.3 341.0L208.8 341.0L208.8 342.8ZM213.4 342.8L214.0 341.0L219.1 341.0L219.1 342.8ZM223.5 342.8L224.1 341.0L227.8 341.0L227.8 342.8Z" fill="#3cb4ee"/>
<path d="M35.7 341.2L36.2 328.7L36.9 327.7L37.7 328.7L37.9 341.2ZM92.5 341.2L93.0 275.4L93.7 269.6L94.5 275.4L94.7 341.2ZM98.4 341.2L98.9 313.5L99.6 311.1L100.4 313.5L100.6 341.2ZM104.4 341.2L104.9 296.2L105.6 292.2L106.4 296.2L106.6 341.2ZM110.6 341.2L111.1 297.9L111.8 294.1L112.6 297.9L112.8 341.2ZM117.8 341.2L118.4 323.9L119.1 322.4L119.8 323.9L120.0 341.2ZM125.8 341.2L126.3 320.4L127.1 318.6L127.8 320.4L128.0 341.2ZM137.8 341.2L138.3 334.3L139.1 333.7L139.8 334.3L140.0 341.2ZM154.1 341.2L154.6 332.6L155.3 331.8L156.0 332.6L156.2 341.2ZM190.0 341.2L190.5 330.8L191.2 329.9L191.9 330.8L192.1 341.2ZM197.5 341.2L198.0 325.6L198.8 324.3L199.5 325.6L199.7 341.2ZM204.8 341.2L205.3 334.3L206.0 333.7L206.7 334.3L206.9 341.2ZM40.4 338.5L40.8 336.7L42.5 336.7L42.9 338.5ZM45.0 338.3L45.4 336.5L51.7 336.5L52.1 338.3ZM55.5 338.3L55.9 336.5L59.9 336.5L60.3 338.3ZM65.1 339.3L65.5 337.5L70.7 337.5L71.1 339.3ZM76.0 339.9L76.4 338.1L79.3 338.1L79.7 339.9ZM83.0 338.7L83.4 336.9L84.8 336.9L85.2 338.7ZM87.9 338.5L88.3 336.7L93.4 336.7L93.8 338.5ZM97.6 339.5L98.0 337.7L104.2 337.7L104.6 339.5ZM108.7 338.8L109.1 337.0L110.9 337.0L111.3 338.8ZM116.4 340.2L116.8 338.4L120.9 338.4L121.3 340.2ZM124.8 339.1L125.2 337.3L131.4 337.3L131.8 339.1ZM136.0 339.9L136.4 338.1L140.8 338.1L141.2 339.9ZM144.5 339.6L144.9 337.8L150.7 337.8L151.1 339.6ZM153.9 339.0L154.3 337.2L159.5 337.2L159.9 339.0ZM162.2 340.1L162.6 338.3L164.1 338.3L164.5 340.1ZM166.3 339.0L166.7 337.2L170.7 337.2L171.1 339.0ZM174.9 338.4L175.3 336.6L178.0 336.6L178.4 338.4ZM183.4 339.7L183.8 337.9L186.5 337.9L186.9 339.7ZM188.2 339.0L188.6 337.2L191.4 337.2L191.8 339.0ZM197.1 338.9L197.5 337.1L202.7 337.1L203.1 338.9ZM204.8 340.1L205.2 338.3L208.0 338.3L208.4 340.1ZM210.7 340.4L211.1 338.6L218.3 338.6L218.7 340.4ZM221.5 339.3L221.9 337.5L226.9 337.5L227.3 339.3Z" fill="#122f72"/>
<line x1="31.9" y1="250.7" x2="31.9" y2="346.2" stroke="#767676" stroke-width="1.0"/>
<line x1="31.9" y1="346.2" x2="224.0" y2="346.2" stroke="#767676" stroke-width="1.0"/>
<line x1="224.0" y1="346.2" x2="251.4" y2="273.6" stroke="#767676" stroke-width="0.9"/>
<line x1="29.4" y1="346.2" x2="31.9" y2="346.2" stroke="#767676" stroke-width="0.8"/>
<line x1="29.4" y1="327.1" x2="31.9" y2="327.1" stroke="#767676" stroke-width="0.8"/>
<line x1="29.4" y1="308.0" x2="31.9" y2="308.0" stroke="#767676" stroke-width="0.8"/>
<line x1="29.4" y1="288.9" x2="31.9" y2="288.9" stroke="#767676" stroke-width="0.8"/>
<line x1="29.4" y1="269.8" x2="31.9" y2="269.8" stroke="#767676" stroke-width="0.8"/>
<line x1="29.4" y1="250.7" x2="31.9" y2="250.7" stroke="#767676" stroke-width="0.8"/>
<line x1="30.4" y1="336.6" x2="31.9" y2="336.6" stroke="#767676" stroke-width="0.7"/>
<line x1="30.4" y1="317.6" x2="31.9" y2="317.6" stroke="#767676" stroke-width="0.7"/>
<line x1="30.4" y1="298.4" x2="31.9" y2="298.4" stroke="#767676" stroke-width="0.7"/>
<line x1="30.4" y1="279.3" x2="31.9" y2="279.3" stroke="#767676" stroke-width="0.7"/>
<line x1="30.4" y1="260.2" x2="31.9" y2="260.2" stroke="#767676" stroke-width="0.7"/>
<line x1="40.2" y1="346.2" x2="39.0" y2="348.6" stroke="#767676" stroke-width="0.8"/>
<line x1="61.2" y1="346.2" x2="60.0" y2="348.6" stroke="#767676" stroke-width="0.8"/>
<line x1="82.2" y1="346.2" x2="81.0" y2="348.6" stroke="#767676" stroke-width="0.8"/>
<line x1="103.1" y1="346.2" x2="101.9" y2="348.6" stroke="#767676" stroke-width="0.8"/>
<line x1="124.1" y1="346.2" x2="122.9" y2="348.6" stroke="#767676" stroke-width="0.8"/>
<line x1="145.1" y1="346.2" x2="143.9" y2="348.6" stroke="#767676" stroke-width="0.8"/>
<line x1="166.1" y1="346.2" x2="164.9" y2="348.6" stroke="#767676" stroke-width="0.8"/>
<line x1="187.1" y1="346.2" x2="185.9" y2="348.6" stroke="#767676" stroke-width="0.8"/>
<line x1="208.0" y1="346.2" x2="206.8" y2="348.6" stroke="#767676" stroke-width="0.8"/>
<line x1="50.7" y1="346.2" x2="50.0" y2="347.6" stroke="#767676" stroke-width="0.7"/>
<line x1="71.7" y1="346.2" x2="71.0" y2="347.6" stroke="#767676" stroke-width="0.7"/>
<line x1="92.7" y1="346.2" x2="92.0" y2="347.6" stroke="#767676" stroke-width="0.7"/>
<line x1="113.6" y1="346.2" x2="112.9" y2="347.6" stroke="#767676" stroke-width="0.7"/>
<line x1="134.6" y1="346.2" x2="133.9" y2="347.6" stroke="#767676" stroke-width="0.7"/>
<line x1="155.6" y1="346.2" x2="154.9" y2="347.6" stroke="#767676" stroke-width="0.7"/>
<line x1="176.6" y1="346.2" x2="175.9" y2="347.6" stroke="#767676" stroke-width="0.7"/>
<line x1="197.6" y1="346.2" x2="196.9" y2="347.6" stroke="#767676" stroke-width="0.7"/>
<line x1="218.5" y1="346.2" x2="217.8" y2="347.6" stroke="#767676" stroke-width="0.7"/>
<line x1="225.9" y1="341.2" x2="228.4" y2="341.2" stroke="#767676" stroke-width="0.8"/>
<line x1="229.5" y1="331.7" x2="232.0" y2="331.7" stroke="#767676" stroke-width="0.8"/>
<line x1="232.9" y1="322.6" x2="235.4" y2="322.6" stroke="#767676" stroke-width="0.8"/>
<line x1="236.1" y1="314.0" x2="238.6" y2="314.0" stroke="#767676" stroke-width="0.8"/>
<line x1="239.2" y1="305.8" x2="241.7" y2="305.8" stroke="#767676" stroke-width="0.8"/>
<line x1="242.2" y1="298.1" x2="244.7" y2="298.1" stroke="#767676" stroke-width="0.8"/>
<line x1="245.0" y1="290.7" x2="247.5" y2="290.7" stroke="#767676" stroke-width="0.8"/>
<line x1="247.6" y1="283.6" x2="250.1" y2="283.6" stroke="#767676" stroke-width="0.8"/>
<line x1="250.2" y1="276.8" x2="252.7" y2="276.8" stroke="#767676" stroke-width="0.8"/>
<line x1="385.3" y1="254.9" x2="524.0" y2="254.9" stroke="#d6d6d6" stroke-width="0.6"/>
<line x1="326.0" y1="318.9" x2="385.3" y2="254.9" stroke="#d6d6d6" stroke-width="0.6"/>
<line x1="385.3" y1="245.1" x2="524.0" y2="245.1" stroke="#d6d6d6" stroke-width="0.6"/>
<line x1="326.0" y1="306.7" x2="385.3" y2="245.1" stroke="#d6d6d6" stroke-width="0.6"/>
<line x1="385.3" y1="235.3" x2="524.0" y2="235.3" stroke="#d6d6d6" stroke-width="0.6"/>
<line x1="326.0" y1="294.5" x2="385.3" y2="235.3" stroke="#d6d6d6" stroke-width="0.6"/>
<line x1="385.3" y1="225.6" x2="524.0" y2="225.6" stroke="#d6d6d6" stroke-width="0.6"/>
<line x1="326.0" y1="282.3" x2="385.3" y2="225.6" stroke="#d6d6d6" stroke-width="0.6"/>
<line x1="385.3" y1="215.8" x2="524.0" y2="215.8" stroke="#d6d6d6" stroke-width="0.6"/>
<line x1="326.0" y1="270.1" x2="385.3" y2="215.8" stroke="#d6d6d6" stroke-width="0.6"/>
<line x1="385.3" y1="206.1" x2="524.0" y2="206.1" stroke="#d6d6d6" stroke-width="0.6"/>
<line x1="326.0" y1="257.9" x2="385.3" y2="206.1" stroke="#d6d6d6" stroke-width="0.6"/>
<line x1="385.3" y1="196.3" x2="524.0" y2="196.3" stroke="#d6d6d6" stroke-width="0.6"/>
<line x1="326.0" y1="245.7" x2="385.3" y2="196.3" stroke="#d6d6d6" stroke-width="0.6"/>
<line x1="392.1" y1="195.7" x2="392.1" y2="264.6" stroke="#d6d6d6" stroke-width="0.6"/>
<line x1="407.0" y1="195.7" x2="407.0" y2="264.6" stroke="#d6d6d6" stroke-width="0.6"/>
<line x1="421.8" y1="195.7" x2="421.8" y2="264.6" stroke="#d6d6d6" stroke-width="0.6"/>
<line x1="436.7" y1="195.7" x2="436.7" y2="264.6" stroke="#d6d6d6" stroke-width="0.6"/>
<line x1="451.5" y1="195.7" x2="451.5" y2="264.6" stroke="#d6d6d6" stroke-width="0.6"/>
<line x1="466.4" y1="195.7" x2="466.4" y2="264.6" stroke="#d6d6d6" stroke-width="0.6"/>
<line x1="481.2" y1="195.7" x2="481.2" y2="264.6" stroke="#d6d6d6" stroke-width="0.6"/>
<line x1="496.1" y1="195.7" x2="496.1" y2="264.6" stroke="#d6d6d6" stroke-width="0.6"/>
<line x1="510.9" y1="195.7" x2="510.9" y2="264.6" stroke="#d6d6d6" stroke-width="0.6"/>
<line x1="330.1" y1="241.6" x2="330.1" y2="326.5" stroke="#d6d6d6" stroke-width="0.6"/>
<line x1="337.9" y1="235.1" x2="337.9" y2="317.8" stroke="#d6d6d6" stroke-width="0.6"/>
<line x1="345.3" y1="229.0" x2="345.3" y2="309.5" stroke="#d6d6d6" stroke-width="0.6"/>
<line x1="352.3" y1="223.1" x2="352.3" y2="301.6" stroke="#d6d6d6" stroke-width="0.6"/>
<line x1="359.0" y1="217.6" x2="359.0" y2="294.2" stroke="#d6d6d6" stroke-width="0.6"/>
<line x1="365.3" y1="212.3" x2="365.3" y2="287.0" stroke="#d6d6d6" stroke-width="0.6"/>
<line x1="371.4" y1="207.3" x2="371.4" y2="280.3" stroke="#d6d6d6" stroke-width="0.6"/>
<line x1="377.2" y1="202.5" x2="377.2" y2="273.8" stroke="#d6d6d6" stroke-width="0.6"/>
<line x1="382.7" y1="197.9" x2="382.7" y2="267.6" stroke="#d6d6d6" stroke-width="0.6"/>
<line x1="385.3" y1="195.7" x2="524.0" y2="195.7" stroke="#bcbcbc" stroke-width="0.8"/>
<line x1="524.0" y1="195.7" x2="524.0" y2="264.6" stroke="#bcbcbc" stroke-width="0.8"/>
<line x1="385.3" y1="195.7" x2="385.3" y2="264.6" stroke="#bcbcbc" stroke-width="0.8"/>
<line x1="326.0" y1="245.0" x2="385.3" y2="195.7" stroke="#bcbcbc" stroke-width="0.8"/>
<polygon points="387.2,246.6 388.0,230.6 388.7,240.8 389.5,227.5 390.2,228.7 390.9,253.4 391.7,243.9 392.4,222.0 393.2,220.5 393.9,228.3 394.6,225.6 395.4,232.4 396.1,226.5 396.9,224.8 397.6,227.6 398.3,221.2 399.1,223.8 399.8,224.4 400.6,233.7 401.3,227.6 402.0,223.6 402.8,226.9 403.5,239.7 404.2,226.9 405.0,220.6 405.7,235.5 406.5,222.1 407.2,243.5 407.9,235.5 408.7,232.4 409.4,242.3 410.2,218.3 410.9,236.9 411.6,241.6 412.4,224.4 413.1,228.6 413.9,224.4 414.6,223.4 415.3,225.5 416.1,218.7 416.8,242.5 417.6,223.2 418.3,219.6 419.0,222.3 419.8,221.2 420.5,223.3 421.2,214.5 422.0,235.1 422.7,221.9 423.5,218.3 424.2,218.2 424.9,225.8 425.7,223.7 426.4,221.1 427.2,245.3 427.9,222.5 428.6,221.2 429.4,235.3 430.1,217.0 430.9,242.1 431.6,216.9 432.3,220.6 433.1,218.1 433.8,234.5 434.6,212.7 435.3,239.1 436.0,215.9 436.8,233.9 437.5,219.9 438.2,214.9 439.0,219.6 439.7,216.2 440.5,214.6 441.2,220.5 441.9,232.1 442.7,214.9 443.4,219.1 444.2,217.7 444.9,220.4 445.6,232.2 446.4,215.6 447.1,215.1 447.9,217.4 448.6,239.0 449.3,219.8 450.1,220.6 450.8,227.1 451.6,216.0 452.3,219.4 453.0,226.9 453.8,220.7 454.5,215.9 455.2,218.3 456.0,222.2 456.7,214.2 457.5,214.3 458.2,228.1 458.9,229.0 459.7,217.4 460.4,220.0 461.2,214.3 461.9,213.2 462.6,214.2 463.4,216.5 464.1,227.6 464.9,229.8 465.6,230.0 466.3,219.5 467.1,217.3 467.8,219.2 468.5,220.8 469.3,216.3 470.0,214.0 470.8,220.4 471.5,214.4 472.2,215.4 473.0,216.0 473.7,213.4 474.5,219.4 475.2,212.8 475.9,240.3 476.7,216.0 477.4,245.3 478.2,214.8 478.9,235.1 479.6,219.4 480.4,220.8 481.1,217.3 481.9,214.1 482.6,216.5 483.3,219.1 484.1,220.4 484.8,221.3 485.5,219.3 486.3,223.3 487.0,220.0 487.8,215.9 488.5,219.6 489.2,220.1 490.0,221.7 490.7,218.1 491.5,218.7 492.2,216.6 492.9,223.1 493.7,224.6 494.4,223.4 495.2,225.6 495.9,222.4 496.6,223.8 497.4,225.4 498.1,223.4 498.9,220.6 499.6,221.8 500.3,226.0 501.1,224.4 501.8,223.9 502.5,244.9 503.3,226.5 504.0,245.0 504.8,225.2 505.5,229.4 506.2,228.0 507.0,228.1 507.7,225.0 508.5,229.4 509.2,227.9 509.9,229.4 510.7,230.8 511.4,227.0 512.2,250.4 512.9,250.5 513.6,230.0 514.4,236.6 515.1,236.4 515.9,241.3 516.6,231.7 517.3,250.4 518.1,235.0 518.8,248.9 519.5,235.3 520.3,255.7 521.0,235.6 521.8,236.1 522.5,239.2 523.2,233.1 524.0,235.3 524.0,263.4 387.2,263.4" fill="url(#gdb9)"/>
<polygon points="522.4,267.6 524.0,263.4 524.0,235.3 522.4,239.1" fill="#30c0e0"/>
<polygon points="383.5,250.5 384.3,234.3 385.0,244.6 385.8,231.1 386.5,232.3 387.3,257.4 388.0,247.7 388.8,225.5 389.5,224.0 390.3,231.9 391.1,229.1 391.8,236.1 392.6,230.0 393.3,228.4 394.1,231.2 394.8,224.7 395.6,227.3 396.3,227.9 397.1,237.4 397.8,231.2 398.6,227.1 399.3,230.5 400.1,243.5 400.8,230.5 401.6,224.1 402.3,239.2 403.1,225.7 403.8,247.4 404.6,239.2 405.3,236.1 406.1,246.1 406.8,221.7 407.6,240.7 408.3,245.4 409.1,228.0 409.8,232.2 410.6,227.9 411.3,226.9 412.1,229.1 412.8,222.1 413.6,246.3 414.3,226.8 415.1,223.1 415.8,225.8 416.6,224.7 417.3,226.8 418.1,217.9 418.8,238.8 419.6,225.4 420.3,221.8 421.1,221.7 421.8,229.4 422.6,227.3 423.3,224.6 424.1,249.2 424.8,226.1 425.6,224.7 426.3,239.0 427.1,220.4 427.8,246.0 428.6,220.4 429.3,224.1 430.1,221.5 430.8,238.2 431.6,216.1 432.3,242.9 433.1,219.3 433.8,237.6 434.6,223.3 435.3,218.3 436.1,223.1 436.8,219.7 437.6,218.0 438.3,224.0 439.1,235.8 439.8,218.3 440.6,222.6 441.4,221.2 442.1,223.9 442.9,235.9 443.6,219.0 444.4,218.6 445.1,220.8 445.9,242.8 446.6,223.3 447.4,224.1 448.1,230.7 448.9,219.4 449.6,222.9 450.4,230.4 451.1,224.2 451.9,219.3 452.6,221.7 453.4,225.7 454.1,217.6 454.9,217.7 455.6,231.7 456.4,232.6 457.1,220.9 457.9,223.5 458.6,217.7 459.4,216.6 460.1,217.6 460.9,220.0 461.6,231.2 462.4,233.4 463.1,233.7 463.9,223.0 464.6,220.7 465.4,222.7 466.1,224.3 466.9,219.7 467.6,217.3 468.4,223.9 469.1,217.8 469.9,218.8 470.6,219.4 471.4,216.8 472.1,222.8 472.9,216.1 473.6,244.1 474.4,219.4 475.1,249.2 475.9,218.2 476.6,238.8 477.4,222.9 478.1,224.3 478.9,220.7 479.6,217.5 480.4,219.9 481.1,222.6 481.9,223.9 482.6,224.8 483.4,222.8 484.1,226.8 484.9,223.4 485.6,219.3 486.4,223.0 487.1,223.6 487.9,225.2 488.6,221.6 489.4,222.1 490.1,220.1 490.9,226.6 491.7,228.2 492.4,227.0 493.2,229.1 493.9,225.9 494.7,227.4 495.4,229.0 496.2,226.9 496.9,224.1 497.7,225.3 498.4,229.6 499.2,227.9 499.9,227.5 500.7,248.8 501.4,230.1 502.2,248.8 502.9,228.8 503.7,233.0 504.4,231.6 505.2,231.7 505.9,228.5 506.7,233.0 507.4,231.5 508.2,233.0 508.9,234.4 509.7,230.6 510.4,254.4 511.2,254.4 511.9,233.6 512.7,240.3 513.4,240.2 514.2,245.1 514.9,235.3 515.7,254.4 516.4,238.7 517.2,252.9 517.9,239.1 518.7,259.7 519.4,239.3 520.2,239.9 520.9,243.0 521.7,236.8 522.4,239.1 522.4,267.6 383.5,267.6" fill="url(#gd9)"/>
<polyline points="387.2,246.6 388.0,230.6 388.7,240.8 389.5,227.5 390.2,228.7 390.9,253.4 391.7,243.9 392.4,222.0 393.2,220.5 393.9,228.3 394.6,225.6 395.4,232.4 396.1,226.5 396.9,224.8 397.6,227.6 398.3,221.2 399.1,223.8 399.8,224.4 400.6,233.7 401.3,227.6 402.0,223.6 402.8,226.9 403.5,239.7 404.2,226.9 405.0,220.6 405.7,235.5 406.5,222.1 407.2,243.5 407.9,235.5 408.7,232.4 409.4,242.3 410.2,218.3 410.9,236.9 411.6,241.6 412.4,224.4 413.1,228.6 413.9,224.4 414.6,223.4 415.3,225.5 416.1,218.7 416.8,242.5 417.6,223.2 418.3,219.6 419.0,222.3 419.8,221.2 420.5,223.3 421.2,214.5 422.0,235.1 422.7,221.9 423.5,218.3 424.2,218.2 424.9,225.8 425.7,223.7 426.4,221.1 427.2,245.3 427.9,222.5 428.6,221.2 429.4,235.3 430.1,217.0 430.9,242.1 431.6,216.9 432.3,220.6 433.1,218.1 433.8,234.5 434.6,212.7 435.3,239.1 436.0,215.9 436.8,233.9 437.5,219.9 438.2,214.9 439.0,219.6 439.7,216.2 440.5,214.6 441.2,220.5 441.9,232.1 442.7,214.9 443.4,219.1 444.2,217.7 444.9,220.4 445.6,232.2 446.4,215.6 447.1,215.1 447.9,217.4 448.6,239.0 449.3,219.8 450.1,220.6 450.8,227.1 451.6,216.0 452.3,219.4 453.0,226.9 453.8,220.7 454.5,215.9 455.2,218.3 456.0,222.2 456.7,214.2 457.5,214.3 458.2,228.1 458.9,229.0 459.7,217.4 460.4,220.0 461.2,214.3 461.9,213.2 462.6,214.2 463.4,216.5 464.1,227.6 464.9,229.8 465.6,230.0 466.3,219.5 467.1,217.3 467.8,219.2 468.5,220.8 469.3,216.3 470.0,214.0 470.8,220.4 471.5,214.4 472.2,215.4 473.0,216.0 473.7,213.4 474.5,219.4 475.2,212.8 475.9,240.3 476.7,216.0 477.4,245.3 478.2,214.8 478.9,235.1 479.6,219.4 480.4,220.8 481.1,217.3 481.9,214.1 482.6,216.5 483.3,219.1 484.1,220.4 484.8,221.3 485.5,219.3 486.3,223.3 487.0,220.0 487.8,215.9 488.5,219.6 489.2,220.1 490.0,221.7 490.7,218.1 491.5,218.7 492.2,216.6 492.9,223.1 493.7,224.6 494.4,223.4 495.2,225.6 495.9,222.4 496.6,223.8 497.4,225.4 498.1,223.4 498.9,220.6 499.6,221.8 500.3,226.0 501.1,224.4 501.8,223.9 502.5,244.9 503.3,226.5 504.0,245.0 504.8,225.2 505.5,229.4 506.2,228.0 507.0,228.1 507.7,225.0 508.5,229.4 509.2,227.9 509.9,229.4 510.7,230.8 511.4,227.0 512.2,250.4 512.9,250.5 513.6,230.0 514.4,236.6 515.1,236.4 515.9,241.3 516.6,231.7 517.3,250.4 518.1,235.0 518.8,248.9 519.5,235.3 520.3,255.7 521.0,235.6 521.8,236.1 522.5,239.2 523.2,233.1 524.0,235.3" fill="none" stroke="#1ca4c0" stroke-width="0.8"/>
<polygon points="381.9,235.6 382.7,229.2 383.4,230.4 384.2,231.9 384.9,236.7 385.7,233.0 386.5,242.2 387.2,234.3 388.0,232.5 388.7,235.4 389.5,232.2 390.2,243.4 391.0,242.4 391.7,232.1 392.5,236.7 393.3,238.8 394.0,232.2 394.8,228.8 395.5,228.0 396.3,230.9 397.0,233.0 397.8,233.0 398.5,231.1 399.3,230.3 400.1,228.6 400.8,229.9 401.6,224.1 402.3,229.5 403.1,228.3 403.8,226.5 404.6,226.7 405.4,239.1 406.1,234.1 406.9,233.0 407.6,237.0 408.4,227.0 409.1,227.7 409.9,226.2 410.6,240.5 411.4,230.6 412.2,220.5 412.9,220.0 413.7,246.5 414.4,242.0 415.2,226.8 415.9,239.8 416.7,246.5 417.4,242.5 418.2,227.4 419.0,228.0 419.7,233.3 420.5,229.3 421.2,225.7 422.0,227.7 422.7,221.7 423.5,223.1 424.2,230.8 425.0,229.0 425.8,225.1 426.5,227.7 427.3,246.7 428.0,225.4 428.8,228.8 429.5,226.4 430.3,224.0 431.0,225.5 431.8,240.6 432.6,246.9 433.3,249.1 434.1,220.9 434.8,228.6 435.6,223.3 436.3,226.2 437.1,223.4 437.9,222.0 438.6,222.5 439.4,222.3 440.1,229.5 440.9,222.6 441.6,224.8 442.4,221.9 443.1,221.1 443.9,221.4 444.7,223.1 445.4,223.0 446.2,229.7 446.9,226.2 447.7,224.3 448.4,220.7 449.2,220.0 449.9,242.7 450.7,226.9 451.5,222.1 452.2,220.5 453.0,221.2 453.7,241.5 454.5,226.6 455.2,226.1 456.0,234.3 456.7,220.3 457.5,222.4 458.3,216.8 459.0,218.3 459.8,220.2 460.5,225.3 461.3,221.3 462.0,221.9 462.8,227.5 463.6,245.4 464.3,225.5 465.1,233.2 465.8,242.1 466.6,236.3 467.3,223.1 468.1,221.5 468.8,227.0 469.6,217.7 470.4,225.7 471.1,229.5 471.9,240.0 472.6,242.1 473.4,233.3 474.1,241.0 474.9,224.7 475.6,221.5 476.4,223.6 477.2,229.0 477.9,223.6 478.7,227.4 479.4,224.7 480.2,223.4 480.9,242.7 481.7,221.2 482.4,224.6 483.2,226.1 484.0,236.0 484.7,222.8 485.5,225.7 486.2,225.5 487.0,227.0 487.7,225.8 488.5,247.9 489.2,221.2 490.0,232.1 490.8,233.8 491.5,230.2 492.3,227.7 493.0,229.8 493.8,234.5 494.5,226.3 495.3,232.3 496.1,249.9 496.8,227.9 497.6,225.0 498.3,232.6 499.1,224.7 499.8,234.2 500.6,226.3 501.3,227.9 502.1,230.1 502.9,235.0 503.6,227.2 504.4,230.0 505.1,237.7 505.9,250.3 506.6,235.4 507.4,236.4 508.1,232.0 508.9,234.1 509.7,233.9 510.4,236.8 511.2,241.1 511.9,237.7 512.7,240.9 513.4,244.0 514.2,235.6 514.9,239.4 515.7,259.9 516.5,241.1 517.2,240.1 518.0,237.3 518.7,246.2 519.5,241.6 520.2,238.7 521.0,240.1 521.8,240.0 521.8,269.4 381.9,269.4" fill="url(#gdb8)"/>
<polygon points="520.1,273.8 521.8,269.4 521.8,240.0 520.1,243.9" fill="#64c8f0"/>
<polygon points="378.0,239.4 378.8,232.9 379.6,234.1 380.3,235.6 381.1,240.5 381.9,236.8 382.7,246.1 383.4,238.1 384.2,236.3 385.0,239.2 385.7,236.0 386.5,247.4 387.3,246.3 388.0,235.9 388.8,240.5 389.6,242.7 390.3,235.9 391.1,232.5 391.9,231.7 392.6,234.6 393.4,236.8 394.2,236.7 394.9,234.9 395.7,234.0 396.5,232.3 397.2,233.6 398.0,227.7 398.8,233.2 399.5,232.0 400.3,230.2 401.1,230.4 401.9,242.9 402.6,237.9 403.4,236.8 404.2,240.9 404.9,230.7 405.7,231.3 406.5,229.8 407.2,244.4 408.0,234.3 408.8,224.1 409.5,223.6 410.3,250.5 411.1,245.9 411.8,230.5 412.6,243.7 413.4,250.4 414.1,246.4 414.9,231.1 415.7,231.6 416.4,237.1 417.2,233.0 418.0,229.4 418.7,231.4 419.5,225.3 420.3,226.7 421.1,234.5 421.8,232.7 422.6,228.8 423.4,231.4 424.1,250.7 424.9,229.1 425.7,232.5 426.4,230.0 427.2,227.6 428.0,229.2 428.7,244.5 429.5,250.9 430.3,253.1 431.0,224.5 431.8,232.3 432.6,227.0 433.3,229.9 434.1,227.0 434.9,225.6 435.6,226.1 436.4,225.9 437.2,233.2 437.9,226.2 438.7,228.5 439.5,225.5 440.3,224.7 441.0,225.0 441.8,226.7 442.6,226.6 443.3,233.5 444.1,229.9 444.9,227.9 445.6,224.2 446.4,223.6 447.2,246.6 447.9,230.6 448.7,225.6 449.5,224.1 450.2,224.7 451.0,245.4 451.8,230.3 452.5,229.7 453.3,238.1 454.1,223.9 454.8,226.0 455.6,220.3 456.4,221.9 457.1,223.8 457.9,228.9 458.7,224.9 459.5,225.5 460.2,231.1 461.0,249.4 461.8,229.1 462.5,237.0 463.3,246.0 464.1,240.1 464.8,226.7 465.6,225.1 466.4,230.7 467.1,221.2 467.9,229.3 468.7,233.2 469.4,243.9 470.2,246.0 471.0,237.0 471.7,244.9 472.5,228.4 473.3,225.1 474.0,227.2 474.8,232.7 475.6,227.2 476.3,231.1 477.1,228.4 477.9,227.0 478.7,246.6 479.4,224.8 480.2,228.2 481.0,229.8 481.7,239.8 482.5,226.4 483.3,229.3 484.0,229.1 484.8,230.6 485.6,229.4 486.3,251.9 487.1,224.8 487.9,235.8 488.6,237.6 489.4,233.9 490.2,231.4 490.9,233.5 491.7,238.3 492.5,230.0 493.2,236.0 494.0,254.0 494.8,231.6 495.5,228.7 496.3,236.3 497.1,228.3 497.9,238.0 498.6,230.0 499.4,231.6 500.2,233.8 500.9,238.8 501.7,230.9 502.5,233.7 503.2,241.6 504.0,254.4 504.8,239.2 505.5,240.2 506.3,235.7 507.1,237.9 507.8,237.7 508.6,240.6 509.4,245.0 510.1,241.5 510.9,244.8 511.7,247.9 512.4,239.4 513.2,243.3 514.0,264.1 514.7,245.0 515.5,244.0 516.3,241.1 517.1,250.2 517.8,245.5 518.6,242.5 519.4,244.0 520.1,243.9 520.1,273.8 378.0,273.8" fill="url(#gd8)"/>
<polyline points="381.9,235.6 382.7,229.2 383.4,230.4 384.2,231.9 384.9,236.7 385.7,233.0 386.5,242.2 387.2,234.3 388.0,232.5 388.7,235.4 389.5,232.2 390.2,243.4 391.0,242.4 391.7,232.1 392.5,236.7 393.3,238.8 394.0,232.2 394.8,228.8 395.5,228.0 396.3,230.9 397.0,233.0 397.8,233.0 398.5,231.1 399.3,230.3 400.1,228.6 400.8,229.9 401.6,224.1 402.3,229.5 403.1,228.3 403.8,226.5 404.6,226.7 405.4,239.1 406.1,234.1 406.9,233.0 407.6,237.0 408.4,227.0 409.1,227.7 409.9,226.2 410.6,240.5 411.4,230.6 412.2,220.5 412.9,220.0 413.7,246.5 414.4,242.0 415.2,226.8 415.9,239.8 416.7,246.5 417.4,242.5 418.2,227.4 419.0,228.0 419.7,233.3 420.5,229.3 421.2,225.7 422.0,227.7 422.7,221.7 423.5,223.1 424.2,230.8 425.0,229.0 425.8,225.1 426.5,227.7 427.3,246.7 428.0,225.4 428.8,228.8 429.5,226.4 430.3,224.0 431.0,225.5 431.8,240.6 432.6,246.9 433.3,249.1 434.1,220.9 434.8,228.6 435.6,223.3 436.3,226.2 437.1,223.4 437.9,222.0 438.6,222.5 439.4,222.3 440.1,229.5 440.9,222.6 441.6,224.8 442.4,221.9 443.1,221.1 443.9,221.4 444.7,223.1 445.4,223.0 446.2,229.7 446.9,226.2 447.7,224.3 448.4,220.7 449.2,220.0 449.9,242.7 450.7,226.9 451.5,222.1 452.2,220.5 453.0,221.2 453.7,241.5 454.5,226.6 455.2,226.1 456.0,234.3 456.7,220.3 457.5,222.4 458.3,216.8 459.0,218.3 459.8,220.2 460.5,225.3 461.3,221.3 462.0,221.9 462.8,227.5 463.6,245.4 464.3,225.5 465.1,233.2 465.8,242.1 466.6,236.3 467.3,223.1 468.1,221.5 468.8,227.0 469.6,217.7 470.4,225.7 471.1,229.5 471.9,240.0 472.6,242.1 473.4,233.3 474.1,241.0 474.9,224.7 475.6,221.5 476.4,223.6 477.2,229.0 477.9,223.6 478.7,227.4 479.4,224.7 480.2,223.4 480.9,242.7 481.7,221.2 482.4,224.6 483.2,226.1 484.0,236.0 484.7,222.8 485.5,225.7 486.2,225.5 487.0,227.0 487.7,225.8 488.5,247.9 489.2,221.2 490.0,232.1 490.8,233.8 491.5,230.2 492.3,227.7 493.0,229.8 493.8,234.5 494.5,226.3 495.3,232.3 496.1,249.9 496.8,227.9 497.6,225.0 498.3,232.6 499.1,224.7 499.8,234.2 500.6,226.3 501.3,227.9 502.1,230.1 502.9,235.0 503.6,227.2 504.4,230.0 505.1,237.7 505.9,250.3 506.6,235.4 507.4,236.4 508.1,232.0 508.9,234.1 509.7,233.9 510.4,236.8 511.2,241.1 511.9,237.7 512.7,240.9 513.4,244.0 514.2,235.6 514.9,239.4 515.7,259.9 516.5,241.1 517.2,240.1 518.0,237.3 518.7,246.2 519.5,241.6 520.2,238.7 521.0,240.1 521.8,240.0" fill="none" stroke="#58c4dc" stroke-width="0.8"/>
<polygon points="376.3,257.1 377.1,242.5 377.9,242.8 378.7,256.9 379.4,258.4 380.2,252.9 381.0,254.9 381.8,248.3 382.5,239.1 383.3,239.1 384.1,242.8 384.9,251.9 385.6,245.4 386.4,232.2 387.2,251.6 387.9,238.4 388.7,238.1 389.5,233.4 390.3,238.7 391.0,238.5 391.8,233.5 392.6,254.6 393.4,232.3 394.1,248.1 394.9,235.0 395.7,237.9 396.5,234.7 397.2,259.7 398.0,236.4 398.8,232.3 399.5,234.9 400.3,242.7 401.1,232.2 401.9,234.0 402.6,235.8 403.4,252.5 404.2,257.5 405.0,231.1 405.7,234.6 406.5,239.3 407.3,236.8 408.1,229.1 408.8,230.5 409.6,231.4 410.4,236.2 411.1,232.0 411.9,230.4 412.7,249.3 413.5,231.0 414.2,229.7 415.0,229.9 415.8,231.6 416.6,231.4 417.3,236.5 418.1,233.5 418.9,230.0 419.7,246.2 420.4,231.8 421.2,228.9 422.0,232.1 422.7,235.0 423.5,230.6 424.3,230.4 425.1,234.5 425.8,234.3 426.6,251.7 427.4,233.1 428.2,229.9 428.9,235.5 429.7,246.4 430.5,233.1 431.3,230.0 432.0,235.8 432.8,228.1 433.6,230.3 434.3,235.0 435.1,235.8 435.9,236.3 436.7,251.6 437.4,227.8 438.2,236.0 439.0,228.8 439.8,227.5 440.5,226.0 441.3,229.9 442.1,235.0 442.9,236.1 443.6,223.7 444.4,228.8 445.2,242.4 445.9,231.0 446.7,241.6 447.5,230.6 448.3,232.8 449.0,230.8 449.8,233.3 450.6,252.9 451.4,226.4 452.1,229.7 452.9,231.8 453.7,242.4 454.5,225.7 455.2,229.6 456.0,235.0 456.8,239.3 457.5,225.7 458.3,231.5 459.1,225.3 459.9,232.2 460.6,230.5 461.4,231.1 462.2,229.1 463.0,230.1 463.7,225.3 464.5,230.8 465.3,228.4 466.1,229.7 466.8,249.0 467.6,232.4 468.4,230.0 469.1,225.7 469.9,227.4 470.7,233.6 471.5,231.3 472.2,233.2 473.0,232.3 473.8,232.2 474.6,234.0 475.3,228.9 476.1,227.6 476.9,229.9 477.7,231.9 478.4,230.1 479.2,233.0 480.0,242.9 480.7,223.9 481.5,239.5 482.3,230.3 483.1,231.5 483.8,231.3 484.6,233.0 485.4,236.9 486.2,232.8 486.9,234.0 487.7,252.0 488.5,255.7 489.3,235.1 490.0,234.2 490.8,237.8 491.6,235.5 492.3,258.6 493.1,235.3 493.9,230.3 494.7,235.4 495.4,238.1 496.2,239.9 497.0,257.5 497.8,238.6 498.5,234.8 499.3,239.1 500.1,238.9 500.9,237.7 501.6,264.3 502.4,234.5 503.2,242.0 503.9,238.3 504.7,237.7 505.5,256.6 506.3,238.3 507.0,237.5 507.8,241.9 508.6,241.2 509.4,255.6 510.1,238.2 510.9,244.8 511.7,240.9 512.5,245.0 513.2,259.2 514.0,248.9 514.8,253.0 515.5,262.9 516.3,248.9 517.1,265.6 517.9,242.0 518.6,248.3 519.4,267.6 519.4,275.7 376.3,275.7" fill="url(#gdb7)"/>
<polygon points="517.7,280.3 519.4,275.7 519.4,267.6 517.7,272.0" fill="#a8e070"/>
<polygon points="372.3,261.4 373.1,246.5 373.9,246.9 374.6,261.2 375.4,262.6 376.2,257.1 377.0,259.1 377.8,252.4 378.6,243.1 379.4,243.0 380.1,246.8 380.9,256.1 381.7,249.5 382.5,236.0 383.3,255.8 384.1,242.3 384.9,242.1 385.7,237.3 386.4,242.6 387.2,242.4 388.0,237.4 388.8,258.8 389.6,236.1 390.4,252.2 391.2,238.8 391.9,241.8 392.7,238.6 393.5,264.0 394.3,240.3 395.1,236.2 395.9,238.8 396.7,246.8 397.4,236.0 398.2,237.9 399.0,239.7 399.8,256.7 400.6,261.7 401.4,234.9 402.2,238.5 402.9,243.2 403.7,240.8 404.5,232.9 405.3,234.4 406.1,235.2 406.9,240.1 407.7,235.8 408.4,234.2 409.2,253.4 410.0,234.9 410.8,233.5 411.6,233.7 412.4,235.4 413.2,235.2 414.0,240.4 414.7,237.4 415.5,233.8 416.3,250.2 417.1,235.6 417.9,232.7 418.7,235.9 419.5,238.9 420.2,234.4 421.0,234.3 421.8,238.4 422.6,238.2 423.4,255.9 424.2,236.9 425.0,233.7 425.7,239.4 426.5,250.5 427.3,236.9 428.1,233.8 428.9,239.7 429.7,231.9 430.5,234.1 431.2,238.9 432.0,239.7 432.8,240.2 433.6,255.8 434.4,231.6 435.2,239.9 436.0,232.6 436.7,231.3 437.5,229.7 438.3,233.7 439.1,238.8 439.9,240.0 440.7,227.4 441.5,232.6 442.2,246.4 443.0,234.8 443.8,245.6 444.6,234.4 445.4,236.6 446.2,234.6 447.0,237.1 447.8,257.0 448.5,230.1 449.3,233.5 450.1,235.7 450.9,246.4 451.7,229.4 452.5,233.4 453.3,238.9 454.0,243.3 454.8,229.4 455.6,235.3 456.4,229.0 457.2,236.1 458.0,234.3 458.8,234.9 459.5,232.9 460.3,234.0 461.1,229.1 461.9,234.6 462.7,232.2 463.5,233.5 464.3,253.1 465.0,236.2 465.8,233.8 466.6,229.4 467.4,231.2 468.2,237.5 469.0,235.1 469.8,237.0 470.5,236.2 471.3,236.0 472.1,237.9 472.9,232.7 473.7,231.3 474.5,233.7 475.3,235.8 476.1,233.9 476.8,236.8 477.6,246.9 478.4,227.6 479.2,243.4 480.0,234.1 480.8,235.4 481.6,235.1 482.3,236.8 483.1,240.9 483.9,236.7 484.7,237.9 485.5,256.1 486.3,259.9 487.1,238.9 487.8,238.1 488.6,241.8 489.4,239.4 490.2,262.8 491.0,239.2 491.8,234.1 492.6,239.3 493.3,242.1 494.1,243.9 494.9,261.7 495.7,242.5 496.5,238.7 497.3,243.1 498.1,242.9 498.8,241.7 499.6,268.7 500.4,238.4 501.2,246.0 502.0,242.3 502.8,241.6 503.6,260.8 504.3,242.2 505.1,241.4 505.9,246.0 506.7,245.2 507.5,259.8 508.3,242.1 509.1,248.9 509.9,244.9 510.6,249.1 511.4,263.4 512.2,253.1 513.0,257.2 513.8,267.2 514.6,253.0 515.4,269.9 516.1,246.0 516.9,252.4 517.7,272.0 517.7,280.3 372.3,280.3" fill="url(#gd7)"/>
<polyline points="376.3,257.1 377.1,242.5 377.9,242.8 378.7,256.9 379.4,258.4 380.2,252.9 381.0,254.9 381.8,248.3 382.5,239.1 383.3,239.1 384.1,242.8 384.9,251.9 385.6,245.4 386.4,232.2 387.2,251.6 387.9,238.4 388.7,238.1 389.5,233.4 390.3,238.7 391.0,238.5 391.8,233.5 392.6,254.6 393.4,232.3 394.1,248.1 394.9,235.0 395.7,237.9 396.5,234.7 397.2,259.7 398.0,236.4 398.8,232.3 399.5,234.9 400.3,242.7 401.1,232.2 401.9,234.0 402.6,235.8 403.4,252.5 404.2,257.5 405.0,231.1 405.7,234.6 406.5,239.3 407.3,236.8 408.1,229.1 408.8,230.5 409.6,231.4 410.4,236.2 411.1,232.0 411.9,230.4 412.7,249.3 413.5,231.0 414.2,229.7 415.0,229.9 415.8,231.6 416.6,231.4 417.3,236.5 418.1,233.5 418.9,230.0 419.7,246.2 420.4,231.8 421.2,228.9 422.0,232.1 422.7,235.0 423.5,230.6 424.3,230.4 425.1,234.5 425.8,234.3 426.6,251.7 427.4,233.1 428.2,229.9 428.9,235.5 429.7,246.4 430.5,233.1 431.3,230.0 432.0,235.8 432.8,228.1 433.6,230.3 434.3,235.0 435.1,235.8 435.9,236.3 436.7,251.6 437.4,227.8 438.2,236.0 439.0,228.8 439.8,227.5 440.5,226.0 441.3,229.9 442.1,235.0 442.9,236.1 443.6,223.7 444.4,228.8 445.2,242.4 445.9,231.0 446.7,241.6 447.5,230.6 448.3,232.8 449.0,230.8 449.8,233.3 450.6,252.9 451.4,226.4 452.1,229.7 452.9,231.8 453.7,242.4 454.5,225.7 455.2,229.6 456.0,235.0 456.8,239.3 457.5,225.7 458.3,231.5 459.1,225.3 459.9,232.2 460.6,230.5 461.4,231.1 462.2,229.1 463.0,230.1 463.7,225.3 464.5,230.8 465.3,228.4 466.1,229.7 466.8,249.0 467.6,232.4 468.4,230.0 469.1,225.7 469.9,227.4 470.7,233.6 471.5,231.3 472.2,233.2 473.0,232.3 473.8,232.2 474.6,234.0 475.3,228.9 476.1,227.6 476.9,229.9 477.7,231.9 478.4,230.1 479.2,233.0 480.0,242.9 480.7,223.9 481.5,239.5 482.3,230.3 483.1,231.5 483.8,231.3 484.6,233.0 485.4,236.9 486.2,232.8 486.9,234.0 487.7,252.0 488.5,255.7 489.3,235.1 490.0,234.2 490.8,237.8 491.6,235.5 492.3,258.6 493.1,235.3 493.9,230.3 494.7,235.4 495.4,238.1 496.2,239.9 497.0,257.5 497.8,238.6 498.5,234.8 499.3,239.1 500.1,238.9 500.9,237.7 501.6,264.3 502.4,234.5 503.2,242.0 503.9,238.3 504.7,237.7 505.5,256.6 506.3,238.3 507.0,237.5 507.8,241.9 508.6,241.2 509.4,255.6 510.1,238.2 510.9,244.8 511.7,240.9 512.5,245.0 513.2,259.2 514.0,248.9 514.8,253.0 515.5,262.9 516.3,248.9 517.1,265.6 517.9,242.0 518.6,248.3 519.4,267.6" fill="none" stroke="#a0d070" stroke-width="0.8"/>
<polygon points="370.5,247.3 371.3,250.2 372.1,244.2 372.9,241.5 373.7,245.5 374.5,245.9 375.3,246.9 376.1,246.1 376.8,241.1 377.6,244.2 378.4,243.0 379.2,242.3 380.0,253.2 380.8,243.4 381.6,242.0 382.4,259.3 383.2,248.1 384.0,245.8 384.8,241.1 385.6,241.8 386.3,241.6 387.1,263.3 387.9,257.3 388.7,238.1 389.5,242.3 390.3,238.1 391.1,239.5 391.9,239.5 392.7,244.1 393.5,243.9 394.3,243.8 395.1,238.0 395.8,237.6 396.6,244.6 397.4,245.3 398.2,240.8 399.0,244.9 399.8,240.1 400.6,238.8 401.4,239.2 402.2,238.8 403.0,240.9 403.8,238.9 404.6,238.1 405.3,240.5 406.1,234.8 406.9,243.3 407.7,241.1 408.5,252.3 409.3,236.3 410.1,236.2 410.9,241.8 411.7,239.1 412.5,240.7 413.3,243.4 414.1,241.6 414.8,238.0 415.6,237.2 416.4,241.1 417.2,238.8 418.0,236.1 418.8,234.3 419.6,237.4 420.4,240.9 421.2,254.8 422.0,238.0 422.8,239.1 423.6,239.9 424.3,240.2 425.1,239.7 425.9,237.4 426.7,259.9 427.5,240.3 428.3,231.9 429.1,233.2 429.9,238.3 430.7,236.5 431.5,256.4 432.3,240.2 433.0,239.2 433.8,239.1 434.6,240.3 435.4,234.9 436.2,256.9 437.0,236.7 437.8,236.7 438.6,237.6 439.4,255.5 440.2,237.4 441.0,260.7 441.8,241.1 442.5,257.2 443.3,236.2 444.1,236.2 444.9,235.8 445.7,237.9 446.5,235.3 447.3,247.2 448.1,250.9 448.9,235.3 449.7,243.1 450.5,237.4 451.3,233.1 452.0,236.3 452.8,238.8 453.6,233.6 454.4,254.9 455.2,253.1 456.0,236.7 456.8,258.4 457.6,234.6 458.4,233.4 459.2,232.5 460.0,242.1 460.8,234.4 461.5,241.6 462.3,239.5 463.1,247.8 463.9,235.2 464.7,241.8 465.5,236.4 466.3,241.4 467.1,230.6 467.9,238.5 468.7,253.5 469.5,264.6 470.3,246.9 471.0,257.9 471.8,236.3 472.6,261.5 473.4,238.7 474.2,237.7 475.0,231.9 475.8,237.7 476.6,236.2 477.4,234.4 478.2,230.5 479.0,236.1 479.8,241.6 480.5,241.5 481.3,233.4 482.1,237.6 482.9,245.0 483.7,253.2 484.5,240.9 485.3,240.7 486.1,237.9 486.9,238.0 487.7,236.2 488.5,246.4 489.3,264.4 490.0,241.6 490.8,244.5 491.6,238.8 492.4,267.2 493.2,246.2 494.0,237.1 494.8,241.1 495.6,240.1 496.4,238.8 497.2,259.4 498.0,239.1 498.8,243.3 499.5,242.3 500.3,241.7 501.1,242.5 501.9,269.5 502.7,245.1 503.5,244.8 504.3,253.9 505.1,273.9 505.9,241.8 506.7,249.4 507.5,240.0 508.3,245.6 509.0,241.9 509.8,248.5 510.6,242.7 511.4,247.1 512.2,247.5 513.0,247.7 513.8,257.3 514.6,254.6 515.4,255.5 516.2,250.7 517.0,252.4 517.0,282.3 370.5,282.3" fill="url(#gdb6)"/>
<polygon points="515.2,287.0 517.0,282.3 517.0,252.4 515.2,256.6" fill="#f048f0"/>
<polygon points="366.3,251.5 367.1,254.4 367.9,248.3 368.7,245.6 369.5,249.7 370.3,250.1 371.1,251.1 371.9,250.2 372.7,245.2 373.5,248.3 374.3,247.1 375.1,246.4 375.9,257.4 376.7,247.5 377.5,246.1 378.3,263.7 379.1,252.3 379.9,250.0 380.7,245.2 381.6,245.9 382.4,245.7 383.2,267.7 384.0,261.6 384.8,242.1 385.6,246.4 386.4,242.2 387.2,243.6 388.0,243.6 388.8,248.2 389.6,248.0 390.4,248.0 391.2,242.1 392.0,241.6 392.8,248.8 393.6,249.4 394.4,244.8 395.2,249.0 396.0,244.1 396.8,242.9 397.7,243.3 398.5,242.8 399.3,245.0 400.1,242.9 400.9,242.2 401.7,244.6 402.5,238.8 403.3,247.4 404.1,245.1 404.9,256.5 405.7,240.4 406.5,240.2 407.3,245.9 408.1,243.2 408.9,244.8 409.7,247.6 410.5,245.7 411.3,242.0 412.1,241.2 412.9,245.2 413.8,242.8 414.6,240.1 415.4,238.3 416.2,241.4 417.0,245.0 417.8,259.2 418.6,242.1 419.4,243.2 420.2,244.0 421.0,244.2 421.8,243.8 422.6,241.4 423.4,264.3 424.2,244.3 425.0,235.8 425.8,237.2 426.6,242.4 427.4,240.5 428.2,260.8 429.0,244.3 429.9,243.3 430.7,243.2 431.5,244.4 432.3,238.9 433.1,261.2 433.9,240.8 434.7,240.8 435.5,241.6 436.3,259.8 437.1,241.4 437.9,265.1 438.7,245.2 439.5,261.5 440.3,240.2 441.1,240.2 441.9,239.8 442.7,242.0 443.5,239.3 444.3,251.4 445.1,255.2 446.0,239.3 446.8,247.2 447.6,241.4 448.4,237.1 449.2,240.3 450.0,242.9 450.8,237.5 451.6,259.2 452.4,257.4 453.2,240.7 454.0,262.8 454.8,238.6 455.6,237.3 456.4,236.4 457.2,246.2 458.0,238.4 458.8,245.7 459.6,243.6 460.4,252.0 461.2,239.2 462.1,245.9 462.9,240.4 463.7,245.5 464.5,234.5 465.3,242.5 466.1,257.8 466.9,269.1 467.7,251.1 468.5,262.3 469.3,240.3 470.1,265.9 470.9,242.8 471.7,241.7 472.5,235.8 473.3,241.7 474.1,240.2 474.9,238.4 475.7,234.4 476.5,240.1 477.3,245.7 478.2,245.6 479.0,237.3 479.8,241.6 480.6,249.2 481.4,257.5 482.2,245.0 483.0,244.8 483.8,241.9 484.6,242.0 485.4,240.2 486.2,250.6 487.0,268.9 487.8,245.7 488.6,248.7 489.4,242.9 490.2,271.8 491.0,250.4 491.8,241.1 492.6,245.2 493.4,244.2 494.3,242.9 495.1,263.8 495.9,243.2 496.7,247.5 497.5,246.4 498.3,245.8 499.1,246.6 499.9,274.1 500.7,249.2 501.5,248.9 502.3,258.2 503.1,278.6 503.9,245.9 504.7,253.6 505.5,244.1 506.3,249.8 507.1,246.0 507.9,252.7 508.7,246.8 509.5,251.3 510.4,251.7 511.2,251.9 512.0,261.7 512.8,258.9 513.6,259.8 514.4,254.9 515.2,256.6 515.2,287.0 366.3,287.0" fill="url(#gd6)"/>
<polyline points="370.5,247.3 371.3,250.2 372.1,244.2 372.9,241.5 373.7,245.5 374.5,245.9 375.3,246.9 376.1,246.1 376.8,241.1 377.6,244.2 378.4,243.0 379.2,242.3 380.0,253.2 380.8,243.4 381.6,242.0 382.4,259.3 383.2,248.1 384.0,245.8 384.8,241.1 385.6,241.8 386.3,241.6 387.1,263.3 387.9,257.3 388.7,238.1 389.5,242.3 390.3,238.1 391.1,239.5 391.9,239.5 392.7,244.1 393.5,243.9 394.3,243.8 395.1,238.0 395.8,237.6 396.6,244.6 397.4,245.3 398.2,240.8 399.0,244.9 399.8,240.1 400.6,238.8 401.4,239.2 402.2,238.8 403.0,240.9 403.8,238.9 404.6,238.1 405.3,240.5 406.1,234.8 406.9,243.3 407.7,241.1 408.5,252.3 409.3,236.3 410.1,236.2 410.9,241.8 411.7,239.1 412.5,240.7 413.3,243.4 414.1,241.6 414.8,238.0 415.6,237.2 416.4,241.1 417.2,238.8 418.0,236.1 418.8,234.3 419.6,237.4 420.4,240.9 421.2,254.8 422.0,238.0 422.8,239.1 423.6,239.9 424.3,240.2 425.1,239.7 425.9,237.4 426.7,259.9 427.5,240.3 428.3,231.9 429.1,233.2 429.9,238.3 430.7,236.5 431.5,256.4 432.3,240.2 433.0,239.2 433.8,239.1 434.6,240.3 435.4,234.9 436.2,256.9 437.0,236.7 437.8,236.7 438.6,237.6 439.4,255.5 440.2,237.4 441.0,260.7 441.8,241.1 442.5,257.2 443.3,236.2 444.1,236.2 444.9,235.8 445.7,237.9 446.5,235.3 447.3,247.2 448.1,250.9 448.9,235.3 449.7,243.1 450.5,237.4 451.3,233.1 452.0,236.3 452.8,238.8 453.6,233.6 454.4,254.9 455.2,253.1 456.0,236.7 456.8,258.4 457.6,234.6 458.4,233.4 459.2,232.5 460.0,242.1 460.8,234.4 461.5,241.6 462.3,239.5 463.1,247.8 463.9,235.2 464.7,241.8 465.5,236.4 466.3,241.4 467.1,230.6 467.9,238.5 468.7,253.5 469.5,264.6 470.3,246.9 471.0,257.9 471.8,236.3 472.6,261.5 473.4,238.7 474.2,237.7 475.0,231.9 475.8,237.7 476.6,236.2 477.4,234.4 478.2,230.5 479.0,236.1 479.8,241.6 480.5,241.5 481.3,233.4 482.1,237.6 482.9,245.0 483.7,253.2 484.5,240.9 485.3,240.7 486.1,237.9 486.9,238.0 487.7,236.2 488.5,246.4 489.3,264.4 490.0,241.6 490.8,244.5 491.6,238.8 492.4,267.2 493.2,246.2 494.0,237.1 494.8,241.1 495.6,240.1 496.4,238.8 497.2,259.4 498.0,239.1 498.8,243.3 499.5,242.3 500.3,241.7 501.1,242.5 501.9,269.5 502.7,245.1 503.5,244.8 504.3,253.9 505.1,273.9 505.9,241.8 506.7,249.4 507.5,240.0 508.3,245.6 509.0,241.9 509.8,248.5 510.6,242.7 511.4,247.1 512.2,247.5 513.0,247.7 513.8,257.3 514.6,254.6 515.4,255.5 516.2,250.7 517.0,252.4" fill="none" stroke="#d058e0" stroke-width="0.8"/>
<polygon points="364.4,256.3 365.2,249.2 366.0,263.0 366.8,264.7 367.6,250.4 368.4,253.3 369.3,250.0 370.1,249.2 370.9,252.8 371.7,245.7 372.5,250.0 373.3,252.9 374.1,255.5 374.9,242.9 375.7,275.0 376.6,249.6 377.4,248.8 378.2,246.7 379.0,253.9 379.8,257.3 380.6,248.9 381.4,254.0 382.2,250.0 383.0,242.3 383.8,250.8 384.7,263.6 385.5,252.3 386.3,249.6 387.1,249.7 387.9,247.0 388.7,248.7 389.5,250.1 390.3,244.6 391.1,248.7 392.0,250.8 392.8,249.5 393.6,248.6 394.4,247.3 395.2,247.0 396.0,250.0 396.8,249.0 397.6,240.5 398.4,248.0 399.3,242.6 400.1,248.4 400.9,245.7 401.7,248.8 402.5,253.2 403.3,248.5 404.1,243.7 404.9,255.2 405.7,242.9 406.6,248.1 407.4,247.3 408.2,263.2 409.0,245.2 409.8,243.4 410.6,245.2 411.4,248.3 412.2,244.5 413.0,245.4 413.9,244.1 414.7,246.2 415.5,244.9 416.3,247.8 417.1,248.1 417.9,253.6 418.7,244.5 419.5,244.6 420.3,263.5 421.1,264.4 422.0,263.1 422.8,239.3 423.6,245.2 424.4,245.6 425.2,253.0 426.0,261.9 426.8,239.6 427.6,247.6 428.4,260.7 429.3,251.0 430.1,245.2 430.9,241.3 431.7,242.0 432.5,248.6 433.3,241.9 434.1,245.5 434.9,246.5 435.7,251.8 436.6,257.4 437.4,248.0 438.2,247.0 439.0,243.6 439.8,245.0 440.6,240.9 441.4,245.3 442.2,243.7 443.0,268.8 443.9,243.1 444.7,239.3 445.5,248.0 446.3,249.4 447.1,248.6 447.9,244.7 448.7,243.3 449.5,242.0 450.3,242.7 451.2,243.3 452.0,249.5 452.8,253.9 453.6,242.3 454.4,247.8 455.2,245.3 456.0,245.2 456.8,242.2 457.6,246.7 458.4,273.3 459.3,245.0 460.1,267.7 460.9,241.2 461.7,245.9 462.5,244.7 463.3,245.7 464.1,245.6 464.9,250.7 465.7,252.4 466.6,242.2 467.4,246.8 468.2,264.4 469.0,249.3 469.8,263.9 470.6,267.1 471.4,242.6 472.2,240.0 473.0,248.7 473.9,268.8 474.7,241.2 475.5,238.7 476.3,245.2 477.1,252.2 477.9,250.7 478.7,264.8 479.5,240.2 480.3,246.5 481.2,250.7 482.0,242.7 482.8,274.2 483.6,249.0 484.4,249.0 485.2,249.3 486.0,245.6 486.8,250.7 487.6,259.1 488.5,244.4 489.3,244.6 490.1,260.6 490.9,249.8 491.7,254.3 492.5,248.4 493.3,248.5 494.1,248.5 494.9,250.9 495.7,272.3 496.6,253.4 497.4,247.6 498.2,244.8 499.0,250.3 499.8,250.8 500.6,249.2 501.4,249.7 502.2,249.9 503.0,251.3 503.9,262.4 504.7,247.4 505.5,256.7 506.3,266.9 507.1,278.1 507.9,252.1 508.7,257.1 509.5,259.3 510.3,280.6 511.2,258.1 512.0,251.0 512.8,257.7 513.6,277.8 514.4,260.0 514.4,289.1 364.4,289.1" fill="url(#gdb5)"/>
<polygon points="512.5,294.2 514.4,289.1 514.4,260.0 512.5,264.5" fill="#5c9cf0"/>
<polygon points="359.9,260.7 360.7,253.5 361.6,267.6 362.4,269.3 363.2,254.8 364.0,257.7 364.9,254.3 365.7,253.5 366.5,257.2 367.3,250.0 368.2,254.4 369.0,257.3 369.8,259.9 370.6,247.1 371.5,279.8 372.3,254.0 373.1,253.1 373.9,251.0 374.8,258.3 375.6,261.8 376.4,253.3 377.2,258.4 378.1,254.3 378.9,246.5 379.7,255.1 380.5,268.1 381.4,256.6 382.2,254.0 383.0,254.0 383.8,251.3 384.7,253.0 385.5,254.4 386.3,248.8 387.1,253.0 388.0,255.2 388.8,253.8 389.6,253.0 390.4,251.6 391.3,251.3 392.1,254.4 392.9,253.3 393.7,244.7 394.6,252.3 395.4,246.9 396.2,252.7 397.0,250.0 397.9,253.2 398.7,257.6 399.5,252.8 400.3,248.0 401.2,259.6 402.0,247.2 402.8,252.5 403.6,251.6 404.5,267.8 405.3,249.5 406.1,247.6 406.9,249.5 407.8,252.6 408.6,248.8 409.4,249.7 410.2,248.4 411.1,250.5 411.9,249.1 412.7,252.1 413.5,252.4 414.4,258.0 415.2,248.8 416.0,248.9 416.8,268.1 417.7,269.0 418.5,267.6 419.3,243.5 420.1,249.4 421.0,249.8 421.8,257.4 422.6,266.4 423.4,243.8 424.3,251.9 425.1,265.2 425.9,255.3 426.7,249.5 427.6,245.5 428.4,246.2 429.2,252.9 430.0,246.1 430.9,249.7 431.7,250.8 432.5,256.2 433.3,261.9 434.2,252.4 435.0,251.3 435.8,247.9 436.6,249.2 437.5,245.1 438.3,249.6 439.1,247.9 439.9,273.5 440.8,247.3 441.6,243.4 442.4,252.3 443.2,253.7 444.1,252.9 444.9,248.9 445.7,247.6 446.5,246.2 447.4,246.9 448.2,247.5 449.0,253.8 449.8,258.3 450.7,246.5 451.5,252.1 452.3,249.6 453.1,249.4 454.0,246.4 454.8,250.9 455.6,278.0 456.4,249.3 457.3,272.4 458.1,245.4 458.9,250.1 459.7,248.9 460.6,249.9 461.4,249.8 462.2,255.0 463.0,256.7 463.9,246.4 464.7,251.0 465.5,269.0 466.3,253.6 467.2,268.5 468.0,271.7 468.8,246.8 469.6,244.2 470.5,253.0 471.3,273.5 472.1,245.4 472.9,242.9 473.8,249.5 474.6,256.5 475.4,255.0 476.2,269.4 477.1,244.4 477.9,250.8 478.7,255.0 479.5,246.9 480.4,278.9 481.2,253.4 482.0,253.4 482.8,253.6 483.7,249.9 484.5,255.1 485.3,263.6 486.1,248.6 487.0,248.8 487.8,265.2 488.6,254.1 489.4,258.8 490.3,252.7 491.1,252.8 491.9,252.8 492.7,255.3 493.6,277.0 494.4,257.8 495.2,251.9 496.0,249.0 496.9,254.7 497.7,255.2 498.5,253.5 499.3,254.0 500.2,254.2 501.0,255.7 501.8,267.0 502.6,251.7 503.5,261.2 504.3,271.5 505.1,282.9 505.9,256.5 506.8,261.5 507.6,263.8 508.4,285.5 509.2,262.6 510.1,255.3 510.9,262.1 511.7,282.7 512.5,264.5 512.5,294.2 359.9,294.2" fill="url(#gd5)"/>
<polyline points="364.4,256.3 365.2,249.2 366.0,263.0 366.8,264.7 367.6,250.4 368.4,253.3 369.3,250.0 370.1,249.2 370.9,252.8 371.7,245.7 372.5,250.0 373.3,252.9 374.1,255.5 374.9,242.9 375.7,275.0 376.6,249.6 377.4,248.8 378.2,246.7 379.0,253.9 379.8,257.3 380.6,248.9 381.4,254.0 382.2,250.0 383.0,242.3 383.8,250.8 384.7,263.6 385.5,252.3 386.3,249.6 387.1,249.7 387.9,247.0 388.7,248.7 389.5,250.1 390.3,244.6 391.1,248.7 392.0,250.8 392.8,249.5 393.6,248.6 394.4,247.3 395.2,247.0 396.0,250.0 396.8,249.0 397.6,240.5 398.4,248.0 399.3,242.6 400.1,248.4 400.9,245.7 401.7,248.8 402.5,253.2 403.3,248.5 404.1,243.7 404.9,255.2 405.7,242.9 406.6,248.1 407.4,247.3 408.2,263.2 409.0,245.2 409.8,243.4 410.6,245.2 411.4,248.3 412.2,244.5 413.0,245.4 413.9,244.1 414.7,246.2 415.5,244.9 416.3,247.8 417.1,248.1 417.9,253.6 418.7,244.5 419.5,244.6 420.3,263.5 421.1,264.4 422.0,263.1 422.8,239.3 423.6,245.2 424.4,245.6 425.2,253.0 426.0,261.9 426.8,239.6 427.6,247.6 428.4,260.7 429.3,251.0 430.1,245.2 430.9,241.3 431.7,242.0 432.5,248.6 433.3,241.9 434.1,245.5 434.9,246.5 435.7,251.8 436.6,257.4 437.4,248.0 438.2,247.0 439.0,243.6 439.8,245.0 440.6,240.9 441.4,245.3 442.2,243.7 443.0,268.8 443.9,243.1 444.7,239.3 445.5,248.0 446.3,249.4 447.1,248.6 447.9,244.7 448.7,243.3 449.5,242.0 450.3,242.7 451.2,243.3 452.0,249.5 452.8,253.9 453.6,242.3 454.4,247.8 455.2,245.3 456.0,245.2 456.8,242.2 457.6,246.7 458.4,273.3 459.3,245.0 460.1,267.7 460.9,241.2 461.7,245.9 462.5,244.7 463.3,245.7 464.1,245.6 464.9,250.7 465.7,252.4 466.6,242.2 467.4,246.8 468.2,264.4 469.0,249.3 469.8,263.9 470.6,267.1 471.4,242.6 472.2,240.0 473.0,248.7 473.9,268.8 474.7,241.2 475.5,238.7 476.3,245.2 477.1,252.2 477.9,250.7 478.7,264.8 479.5,240.2 480.3,246.5 481.2,250.7 482.0,242.7 482.8,274.2 483.6,249.0 484.4,249.0 485.2,249.3 486.0,245.6 486.8,250.7 487.6,259.1 488.5,244.4 489.3,244.6 490.1,260.6 490.9,249.8 491.7,254.3 492.5,248.4 493.3,248.5 494.1,248.5 494.9,250.9 495.7,272.3 496.6,253.4 497.4,247.6 498.2,244.8 499.0,250.3 499.8,250.8 500.6,249.2 501.4,249.7 502.2,249.9 503.0,251.3 503.9,262.4 504.7,247.4 505.5,256.7 506.3,266.9 507.1,278.1 507.9,252.1 508.7,257.1 509.5,259.3 510.3,280.6 511.2,258.1 512.0,251.0 512.8,257.7 513.6,277.8 514.4,260.0" fill="none" stroke="#5898e0" stroke-width="0.8"/>
<polygon points="358.0,258.7 358.8,265.7 359.6,257.3 360.5,269.6 361.3,261.0 362.1,257.3 362.9,250.2 363.8,261.1 364.6,256.1 365.4,261.8 366.3,262.2 367.1,258.0 367.9,274.8 368.8,255.6 369.6,255.5 370.4,252.3 371.3,266.6 372.1,258.1 372.9,259.2 373.8,256.9 374.6,254.7 375.4,278.6 376.2,256.4 377.1,257.4 377.9,258.1 378.7,259.3 379.6,257.9 380.4,249.3 381.2,251.5 382.1,250.4 382.9,273.9 383.7,255.2 384.6,277.6 385.4,255.9 386.2,250.8 387.0,254.0 387.9,251.7 388.7,256.8 389.5,248.2 390.4,253.4 391.2,251.8 392.0,256.4 392.9,256.1 393.7,251.4 394.5,259.1 395.4,249.5 396.2,267.0 397.0,250.3 397.9,255.5 398.7,274.2 399.5,252.9 400.3,250.1 401.2,255.9 402.0,251.2 402.8,271.0 403.7,250.3 404.5,255.5 405.3,261.8 406.2,272.4 407.0,253.8 407.8,249.0 408.7,248.5 409.5,255.5 410.3,278.4 411.1,252.5 412.0,255.3 412.8,276.6 413.6,255.6 414.5,250.2 415.3,255.1 416.1,261.3 417.0,258.3 417.8,269.0 418.6,263.6 419.5,253.9 420.3,257.3 421.1,273.2 422.0,255.6 422.8,248.0 423.6,272.4 424.4,251.5 425.3,262.0 426.1,271.1 426.9,251.5 427.8,249.5 428.6,250.1 429.4,253.0 430.3,247.6 431.1,271.3 431.9,247.6 432.8,270.2 433.6,248.9 434.4,254.6 435.2,253.8 436.1,254.0 436.9,253.0 437.7,271.2 438.6,253.7 439.4,253.1 440.2,256.0 441.1,253.3 441.9,256.5 442.7,248.1 443.6,251.5 444.4,248.0 445.2,246.5 446.1,263.8 446.9,249.9 447.7,260.1 448.5,252.4 449.4,258.1 450.2,250.4 451.0,274.3 451.9,254.3 452.7,252.9 453.5,272.7 454.4,248.8 455.2,254.3 456.0,274.5 456.9,247.6 457.7,249.4 458.5,272.7 459.3,262.7 460.2,255.8 461.0,247.0 461.8,247.3 462.7,253.3 463.5,267.6 464.3,247.9 465.2,243.3 466.0,247.6 466.8,259.4 467.7,252.3 468.5,275.8 469.3,251.9 470.2,265.7 471.0,249.9 471.8,261.4 472.6,253.0 473.5,278.3 474.3,252.1 475.1,270.7 476.0,251.5 476.8,255.9 477.6,250.8 478.5,273.6 479.3,247.0 480.1,255.9 481.0,247.2 481.8,267.0 482.6,275.8 483.4,273.1 484.3,273.4 485.1,258.2 485.9,256.2 486.8,275.6 487.6,253.7 488.4,252.0 489.3,253.6 490.1,250.4 490.9,256.1 491.8,269.6 492.6,257.9 493.4,256.0 494.3,259.1 495.1,265.4 495.9,257.2 496.7,257.7 497.6,281.0 498.4,258.4 499.2,269.7 500.1,257.2 500.9,278.6 501.7,262.7 502.6,258.1 503.4,260.0 504.2,265.1 505.1,252.3 505.9,263.5 506.7,256.8 507.6,257.3 508.4,280.0 509.2,261.8 510.0,269.0 510.9,279.9 511.7,261.9 511.7,296.4 358.0,296.4" fill="url(#gdb4)"/>
<polygon points="509.7,301.6 511.7,296.4 511.7,261.9 509.7,266.6" fill="#f8e838"/>
<polygon points="353.3,263.3 354.1,270.5 355.0,261.9 355.8,274.4 356.7,265.6 357.5,261.8 358.3,254.7 359.2,265.8 360.0,260.6 360.9,266.5 361.7,266.8 362.6,262.6 363.4,279.6 364.3,260.2 365.1,260.1 366.0,256.8 366.8,271.4 367.6,262.7 368.5,263.8 369.3,261.5 370.2,259.2 371.0,283.5 371.9,261.0 372.7,262.0 373.6,262.7 374.4,263.9 375.3,262.5 376.1,253.7 377.0,256.0 377.8,254.9 378.6,278.8 379.5,259.7 380.3,282.5 381.2,260.4 382.0,255.2 382.9,258.5 383.7,256.2 384.6,261.4 385.4,252.6 386.3,257.9 387.1,256.3 387.9,260.9 388.8,260.7 389.6,255.9 390.5,263.7 391.3,253.9 392.2,271.8 393.0,254.7 393.9,260.1 394.7,279.1 395.6,257.4 396.4,254.6 397.3,260.4 398.1,255.6 398.9,275.8 399.8,254.8 400.6,260.1 401.5,266.5 402.3,277.2 403.2,258.4 404.0,253.4 404.9,253.0 405.7,260.0 406.6,283.4 407.4,257.0 408.2,259.9 409.1,281.5 409.9,260.2 410.8,254.7 411.6,259.7 412.5,265.9 413.3,262.9 414.2,273.8 415.0,268.3 415.9,258.4 416.7,261.9 417.5,278.0 418.4,260.2 419.2,252.4 420.1,277.2 420.9,256.0 421.8,266.6 422.6,275.9 423.5,255.9 424.3,254.0 425.2,254.6 426.0,257.5 426.9,252.0 427.7,276.1 428.5,252.0 429.4,275.0 430.2,253.4 431.1,259.2 431.9,258.3 432.8,258.5 433.6,257.5 434.5,276.0 435.3,258.3 436.2,257.6 437.0,260.5 437.8,257.8 438.7,261.0 439.5,252.5 440.4,256.0 441.2,252.4 442.1,250.9 442.9,268.5 443.8,254.4 444.6,264.7 445.5,256.9 446.3,262.7 447.2,254.9 448.0,279.2 448.8,258.8 449.7,257.4 450.5,277.6 451.4,253.3 452.2,258.9 453.1,279.4 453.9,252.0 454.8,253.8 455.6,277.5 456.5,267.4 457.3,260.3 458.1,251.4 459.0,251.7 459.8,257.8 460.7,272.3 461.5,252.3 462.4,247.7 463.2,252.0 464.1,264.0 464.9,256.8 465.8,280.7 466.6,256.4 467.4,270.5 468.3,254.3 469.1,266.1 470.0,257.5 470.8,283.3 471.7,256.6 472.5,275.6 473.4,255.9 474.2,260.5 475.1,255.3 475.9,278.4 476.8,251.4 477.6,260.5 478.4,251.6 479.3,271.8 480.1,280.7 481.0,278.0 481.8,278.2 482.7,262.8 483.5,260.8 484.4,280.5 485.2,258.2 486.1,256.5 486.9,258.1 487.7,254.9 488.6,260.7 489.4,274.4 490.3,262.5 491.1,260.6 492.0,263.7 492.8,270.1 493.7,261.8 494.5,262.3 495.4,286.0 496.2,263.0 497.1,274.5 497.9,261.8 498.7,283.5 499.6,267.4 500.4,262.7 501.3,264.6 502.1,269.8 503.0,256.8 503.8,268.2 504.7,261.4 505.5,261.9 506.4,285.0 507.2,266.4 508.0,273.8 508.9,284.9 509.7,266.6 509.7,301.6 353.3,301.6" fill="url(#gd4)"/>
<polyline points="358.0,258.7 358.8,265.7 359.6,257.3 360.5,269.6 361.3,261.0 362.1,257.3 362.9,250.2 363.8,261.1 364.6,256.1 365.4,261.8 366.3,262.2 367.1,258.0 367.9,274.8 368.8,255.6 369.6,255.5 370.4,252.3 371.3,266.6 372.1,258.1 372.9,259.2 373.8,256.9 374.6,254.7 375.4,278.6 376.2,256.4 377.1,257.4 377.9,258.1 378.7,259.3 379.6,257.9 380.4,249.3 381.2,251.5 382.1,250.4 382.9,273.9 383.7,255.2 384.6,277.6 385.4,255.9 386.2,250.8 387.0,254.0 387.9,251.7 388.7,256.8 389.5,248.2 390.4,253.4 391.2,251.8 392.0,256.4 392.9,256.1 393.7,251.4 394.5,259.1 395.4,249.5 396.2,267.0 397.0,250.3 397.9,255.5 398.7,274.2 399.5,252.9 400.3,250.1 401.2,255.9 402.0,251.2 402.8,271.0 403.7,250.3 404.5,255.5 405.3,261.8 406.2,272.4 407.0,253.8 407.8,249.0 408.7,248.5 409.5,255.5 410.3,278.4 411.1,252.5 412.0,255.3 412.8,276.6 413.6,255.6 414.5,250.2 415.3,255.1 416.1,261.3 417.0,258.3 417.8,269.0 418.6,263.6 419.5,253.9 420.3,257.3 421.1,273.2 422.0,255.6 422.8,248.0 423.6,272.4 424.4,251.5 425.3,262.0 426.1,271.1 426.9,251.5 427.8,249.5 428.6,250.1 429.4,253.0 430.3,247.6 431.1,271.3 431.9,247.6 432.8,270.2 433.6,248.9 434.4,254.6 435.2,253.8 436.1,254.0 436.9,253.0 437.7,271.2 438.6,253.7 439.4,253.1 440.2,256.0 441.1,253.3 441.9,256.5 442.7,248.1 443.6,251.5 444.4,248.0 445.2,246.5 446.1,263.8 446.9,249.9 447.7,260.1 448.5,252.4 449.4,258.1 450.2,250.4 451.0,274.3 451.9,254.3 452.7,252.9 453.5,272.7 454.4,248.8 455.2,254.3 456.0,274.5 456.9,247.6 457.7,249.4 458.5,272.7 459.3,262.7 460.2,255.8 461.0,247.0 461.8,247.3 462.7,253.3 463.5,267.6 464.3,247.9 465.2,243.3 466.0,247.6 466.8,259.4 467.7,252.3 468.5,275.8 469.3,251.9 470.2,265.7 471.0,249.9 471.8,261.4 472.6,253.0 473.5,278.3 474.3,252.1 475.1,270.7 476.0,251.5 476.8,255.9 477.6,250.8 478.5,273.6 479.3,247.0 480.1,255.9 481.0,247.2 481.8,267.0 482.6,275.8 483.4,273.1 484.3,273.4 485.1,258.2 485.9,256.2 486.8,275.6 487.6,253.7 488.4,252.0 489.3,253.6 490.1,250.4 490.9,256.1 491.8,269.6 492.6,257.9 493.4,256.0 494.3,259.1 495.1,265.4 495.9,257.2 496.7,257.7 497.6,281.0 498.4,258.4 499.2,269.7 500.1,257.2 500.9,278.6 501.7,262.7 502.6,258.1 503.4,260.0 504.2,265.1 505.1,252.3 505.9,263.5 506.7,256.8 507.6,257.3 508.4,280.0 509.2,261.8 510.0,269.0 510.9,279.9 511.7,261.9" fill="none" stroke="#e8cc40" stroke-width="0.8"/>
<polygon points="351.2,268.7 352.1,263.9 352.9,262.1 353.8,289.1 354.6,286.2 355.5,261.5 356.3,263.0 357.2,295.0 358.0,260.7 358.9,275.1 359.7,267.6 360.6,277.1 361.4,265.6 362.3,263.3 363.1,262.5 364.0,255.2 364.8,260.1 365.7,289.1 366.5,262.6 367.4,261.7 368.3,261.2 369.1,264.8 370.0,287.1 370.8,273.4 371.7,264.4 372.5,262.7 373.4,259.0 374.2,259.5 375.1,272.0 375.9,258.1 376.8,261.8 377.6,278.2 378.5,257.0 379.3,264.2 380.2,265.2 381.0,268.2 381.9,265.5 382.7,258.8 383.6,264.1 384.4,282.2 385.3,260.0 386.2,264.6 387.0,263.7 387.9,263.8 388.7,259.8 389.6,263.3 390.4,272.5 391.3,271.3 392.1,266.9 393.0,261.6 393.8,266.7 394.7,264.6 395.5,262.2 396.4,260.2 397.2,261.4 398.1,257.0 398.9,260.0 399.8,268.6 400.6,261.9 401.5,262.4 402.3,254.6 403.2,265.6 404.0,256.2 404.9,262.5 405.8,257.8 406.6,264.2 407.5,258.3 408.3,258.8 409.2,266.8 410.0,271.4 410.9,268.4 411.7,256.3 412.6,258.6 413.4,261.4 414.3,272.4 415.1,263.8 416.0,262.7 416.8,258.7 417.7,259.4 418.5,257.0 419.4,282.2 420.2,268.2 421.1,259.6 421.9,257.2 422.8,251.1 423.6,262.4 424.5,279.7 425.4,260.6 426.2,257.4 427.1,257.5 427.9,261.6 428.8,258.4 429.6,258.2 430.5,282.2 431.3,283.8 432.2,254.3 433.0,256.8 433.9,259.6 434.7,258.0 435.6,252.2 436.4,272.6 437.3,255.0 438.1,260.9 439.0,283.7 439.8,261.0 440.7,257.6 441.5,259.5 442.4,261.0 443.3,270.5 444.1,261.9 445.0,272.0 445.8,283.8 446.7,267.0 447.5,257.3 448.4,257.8 449.2,258.5 450.1,255.8 450.9,260.8 451.8,258.9 452.6,267.4 453.5,258.3 454.3,284.3 455.2,283.2 456.0,282.4 456.9,259.6 457.7,263.2 458.6,257.9 459.4,256.3 460.3,270.1 461.1,260.9 462.0,280.1 462.9,260.1 463.7,262.7 464.6,266.4 465.4,258.2 466.3,258.1 467.1,284.2 468.0,262.5 468.8,260.0 469.7,263.9 470.5,264.9 471.4,258.6 472.2,266.3 473.1,261.5 473.9,252.7 474.8,277.8 475.6,270.6 476.5,258.8 477.3,261.6 478.2,263.0 479.0,254.5 479.9,261.9 480.7,263.3 481.6,270.9 482.5,261.8 483.3,257.5 484.2,264.0 485.0,264.7 485.9,263.5 486.7,274.0 487.6,259.3 488.4,261.7 489.3,262.4 490.1,261.7 491.0,266.2 491.8,261.4 492.7,264.9 493.5,262.6 494.4,263.5 495.2,262.7 496.1,265.4 496.9,260.9 497.8,263.0 498.6,266.9 499.5,263.1 500.4,265.9 501.2,263.7 502.1,262.3 502.9,266.9 503.8,265.6 504.6,280.8 505.5,265.9 506.3,259.5 507.2,265.3 508.0,270.6 508.9,266.9 508.9,304.0 351.2,304.0" fill="url(#gdb3)"/>
<polygon points="506.8,309.5 508.9,304.0 508.9,266.9 506.8,271.8" fill="#c094f0"/>
<polygon points="346.3,273.6 347.1,268.7 348.0,266.9 348.9,294.4 349.7,291.5 350.6,266.2 351.5,267.8 352.3,300.4 353.2,265.5 354.1,280.1 354.9,272.5 355.8,282.2 356.7,270.4 357.6,268.1 358.4,267.3 359.3,259.9 360.2,264.8 361.0,294.4 361.9,267.4 362.8,266.5 363.6,266.0 364.5,269.6 365.4,292.3 366.2,278.4 367.1,269.2 368.0,267.5 368.8,263.7 369.7,264.3 370.6,276.9 371.4,262.8 372.3,266.6 373.2,283.3 374.0,261.7 374.9,269.0 375.8,270.0 376.6,273.1 377.5,270.3 378.4,263.5 379.2,269.0 380.1,287.4 381.0,264.8 381.8,269.4 382.7,268.5 383.6,268.6 384.5,264.5 385.3,268.1 386.2,277.5 387.1,276.3 387.9,271.8 388.8,266.4 389.7,271.6 390.5,269.5 391.4,267.0 392.3,264.9 393.1,266.1 394.0,261.7 394.9,264.8 395.7,273.5 396.6,266.7 397.5,267.2 398.3,259.3 399.2,270.4 400.1,260.9 400.9,267.3 401.8,262.5 402.7,269.0 403.5,263.0 404.4,263.5 405.3,271.6 406.1,276.3 407.0,273.3 407.9,261.0 408.7,263.4 409.6,266.2 410.5,277.4 411.4,268.6 412.2,267.5 413.1,263.4 414.0,264.1 414.8,261.7 415.7,287.4 416.6,273.1 417.4,264.3 418.3,261.9 419.2,255.6 420.0,267.2 420.9,284.8 421.8,265.4 422.6,262.1 423.5,262.2 424.4,266.4 425.2,263.1 426.1,262.9 427.0,287.3 427.8,289.0 428.7,258.9 429.6,261.5 430.4,264.4 431.3,262.7 432.2,256.8 433.0,277.6 433.9,259.7 434.8,265.7 435.6,288.8 436.5,265.8 437.4,262.3 438.3,264.2 439.1,265.8 440.0,275.5 440.9,266.7 441.7,277.0 442.6,289.0 443.5,271.8 444.3,262.0 445.2,262.5 446.1,263.2 446.9,260.5 447.8,265.5 448.7,263.6 449.5,272.3 450.4,263.0 451.3,289.5 452.1,288.4 453.0,287.5 453.9,264.3 454.7,268.0 455.6,262.7 456.5,261.0 457.3,275.0 458.2,265.7 459.1,285.2 459.9,264.9 460.8,267.5 461.7,271.3 462.5,262.9 463.4,262.8 464.3,289.4 465.2,267.3 466.0,264.7 466.9,268.8 467.8,269.8 468.6,263.3 469.5,271.1 470.4,266.3 471.2,257.3 472.1,282.9 473.0,275.5 473.8,263.5 474.7,266.4 475.6,267.8 476.4,259.1 477.3,266.7 478.2,268.1 479.0,275.9 479.9,266.6 480.8,262.2 481.6,268.8 482.5,269.6 483.4,268.3 484.2,279.0 485.1,264.1 486.0,266.4 486.8,267.2 487.7,266.5 488.6,271.0 489.4,266.2 490.3,269.7 491.2,267.4 492.1,268.3 492.9,267.5 493.8,270.3 494.7,265.7 495.5,267.8 496.4,271.8 497.3,267.9 498.1,270.7 499.0,268.5 499.9,267.1 500.7,271.8 501.6,270.5 502.5,285.9 503.3,270.7 504.2,264.3 505.1,270.2 505.9,275.5 506.8,271.8 506.8,309.5 346.3,309.5" fill="url(#gd3)"/>
<polyline points="351.2,268.7 352.1,263.9 352.9,262.1 353.8,289.1 354.6,286.2 355.5,261.5 356.3,263.0 357.2,295.0 358.0,260.7 358.9,275.1 359.7,267.6 360.6,277.1 361.4,265.6 362.3,263.3 363.1,262.5 364.0,255.2 364.8,260.1 365.7,289.1 366.5,262.6 367.4,261.7 368.3,261.2 369.1,264.8 370.0,287.1 370.8,273.4 371.7,264.4 372.5,262.7 373.4,259.0 374.2,259.5 375.1,272.0 375.9,258.1 376.8,261.8 377.6,278.2 378.5,257.0 379.3,264.2 380.2,265.2 381.0,268.2 381.9,265.5 382.7,258.8 383.6,264.1 384.4,282.2 385.3,260.0 386.2,264.6 387.0,263.7 387.9,263.8 388.7,259.8 389.6,263.3 390.4,272.5 391.3,271.3 392.1,266.9 393.0,261.6 393.8,266.7 394.7,264.6 395.5,262.2 396.4,260.2 397.2,261.4 398.1,257.0 398.9,260.0 399.8,268.6 400.6,261.9 401.5,262.4 402.3,254.6 403.2,265.6 404.0,256.2 404.9,262.5 405.8,257.8 406.6,264.2 407.5,258.3 408.3,258.8 409.2,266.8 410.0,271.4 410.9,268.4 411.7,256.3 412.6,258.6 413.4,261.4 414.3,272.4 415.1,263.8 416.0,262.7 416.8,258.7 417.7,259.4 418.5,257.0 419.4,282.2 420.2,268.2 421.1,259.6 421.9,257.2 422.8,251.1 423.6,262.4 424.5,279.7 425.4,260.6 426.2,257.4 427.1,257.5 427.9,261.6 428.8,258.4 429.6,258.2 430.5,282.2 431.3,283.8 432.2,254.3 433.0,256.8 433.9,259.6 434.7,258.0 435.6,252.2 436.4,272.6 437.3,255.0 438.1,260.9 439.0,283.7 439.8,261.0 440.7,257.6 441.5,259.5 442.4,261.0 443.3,270.5 444.1,261.9 445.0,272.0 445.8,283.8 446.7,267.0 447.5,257.3 448.4,257.8 449.2,258.5 450.1,255.8 450.9,260.8 451.8,258.9 452.6,267.4 453.5,258.3 454.3,284.3 455.2,283.2 456.0,282.4 456.9,259.6 457.7,263.2 458.6,257.9 459.4,256.3 460.3,270.1 461.1,260.9 462.0,280.1 462.9,260.1 463.7,262.7 464.6,266.4 465.4,258.2 466.3,258.1 467.1,284.2 468.0,262.5 468.8,260.0 469.7,263.9 470.5,264.9 471.4,258.6 472.2,266.3 473.1,261.5 473.9,252.7 474.8,277.8 475.6,270.6 476.5,258.8 477.3,261.6 478.2,263.0 479.0,254.5 479.9,261.9 480.7,263.3 481.6,270.9 482.5,261.8 483.3,257.5 484.2,264.0 485.0,264.7 485.9,263.5 486.7,274.0 487.6,259.3 488.4,261.7 489.3,262.4 490.1,261.7 491.0,266.2 491.8,261.4 492.7,264.9 493.5,262.6 494.4,263.5 495.2,262.7 496.1,265.4 496.9,260.9 497.8,263.0 498.6,266.9 499.5,263.1 500.4,265.9 501.2,263.7 502.1,262.3 502.9,266.9 503.8,265.6 504.6,280.8 505.5,265.9 506.3,259.5 507.2,265.3 508.0,270.6 508.9,266.9" fill="none" stroke="#e070c8" stroke-width="0.8"/>
<polygon points="344.1,274.5 345.0,274.5 345.9,296.7 346.7,271.6 347.6,267.2 348.5,297.3 349.3,268.0 350.2,274.1 351.1,269.1 352.0,260.4 352.8,271.5 353.7,271.2 354.6,267.3 355.5,298.0 356.3,298.7 357.2,272.4 358.1,269.5 359.0,275.1 359.8,265.3 360.7,269.7 361.6,269.5 362.5,280.6 363.3,270.1 364.2,277.9 365.1,265.5 366.0,272.9 366.8,266.9 367.7,270.2 368.6,270.3 369.5,290.6 370.3,263.7 371.2,269.8 372.1,271.4 373.0,286.4 373.8,277.8 374.7,272.2 375.6,272.6 376.5,270.3 377.3,273.8 378.2,266.1 379.1,296.6 380.0,268.4 380.8,268.8 381.7,269.8 382.6,271.0 383.5,264.2 384.3,265.7 385.2,277.1 386.1,269.0 387.0,267.5 387.8,267.2 388.7,269.5 389.6,268.4 390.5,295.5 391.3,292.0 392.2,286.6 393.1,272.1 394.0,266.6 394.8,266.8 395.7,266.6 396.6,268.8 397.4,264.4 398.3,288.0 399.2,265.8 400.1,293.2 400.9,262.4 401.8,271.8 402.7,273.3 403.6,272.1 404.4,263.4 405.3,289.7 406.2,269.5 407.1,275.5 407.9,268.2 408.8,270.8 409.7,274.6 410.6,263.6 411.4,267.2 412.3,283.5 413.2,267.3 414.1,265.3 414.9,279.4 415.8,265.0 416.7,268.5 417.6,265.0 418.4,266.4 419.3,270.9 420.2,267.0 421.1,266.4 421.9,269.4 422.8,267.4 423.7,281.0 424.6,262.7 425.4,266.7 426.3,296.3 427.2,264.3 428.1,260.5 428.9,267.7 429.8,269.8 430.7,265.8 431.6,266.1 432.4,263.8 433.3,269.0 434.2,260.8 435.1,286.5 435.9,296.1 436.8,263.2 437.7,267.3 438.6,272.5 439.4,265.6 440.3,266.6 441.2,281.4 442.1,268.3 442.9,269.4 443.8,267.7 444.7,292.7 445.5,265.5 446.4,266.2 447.3,272.5 448.2,264.0 449.0,267.1 449.9,264.0 450.8,264.6 451.7,283.4 452.5,275.9 453.4,272.0 454.3,261.7 455.2,260.4 456.0,264.9 456.9,268.9 457.8,264.7 458.7,268.3 459.5,261.6 460.4,277.9 461.3,271.3 462.2,291.0 463.0,281.1 463.9,265.0 464.8,267.7 465.7,266.6 466.5,268.8 467.4,279.9 468.3,267.7 469.2,267.1 470.0,278.9 470.9,267.0 471.8,285.4 472.7,269.0 473.5,264.3 474.4,267.0 475.3,271.1 476.2,264.4 477.0,289.9 477.9,276.0 478.8,272.1 479.7,295.1 480.5,269.6 481.4,268.9 482.3,292.5 483.2,271.2 484.0,298.1 484.9,266.2 485.8,294.2 486.7,293.6 487.5,277.6 488.4,270.1 489.3,268.4 490.2,275.4 491.0,276.8 491.9,268.5 492.8,266.6 493.7,277.6 494.5,278.2 495.4,271.2 496.3,278.8 497.1,272.2 498.0,271.0 498.9,274.0 499.8,283.2 500.6,269.7 501.5,273.3 502.4,273.2 503.3,269.5 504.1,275.7 505.0,270.8 505.9,268.3 505.9,312.0 344.1,312.0" fill="url(#gdb2)"/>
<polygon points="503.7,317.8 505.9,312.0 505.9,268.3 503.7,273.4" fill="#70dc80"/>
<polygon points="338.9,279.7 339.8,279.7 340.7,302.2 341.6,276.7 342.5,272.2 343.4,302.9 344.2,273.0 345.1,279.2 346.0,274.2 346.9,265.3 347.8,276.6 348.7,276.3 349.6,272.3 350.5,303.6 351.4,304.3 352.3,277.5 353.2,274.6 354.0,280.2 354.9,270.3 355.8,274.8 356.7,274.6 357.6,285.8 358.5,275.2 359.4,283.2 360.3,270.4 361.2,278.0 362.1,271.9 363.0,275.3 363.8,275.4 364.7,296.1 365.6,268.6 366.5,274.8 367.4,276.5 368.3,291.8 369.2,283.0 370.1,277.3 371.0,277.7 371.9,275.4 372.8,278.9 373.6,271.0 374.5,302.1 375.4,273.4 376.3,273.8 377.2,274.9 378.1,276.1 379.0,269.1 379.9,270.7 380.8,282.3 381.7,274.1 382.6,272.5 383.4,272.2 384.3,274.5 385.2,273.5 386.1,301.0 387.0,297.5 387.9,291.9 388.8,277.2 389.7,271.6 390.6,271.8 391.5,271.6 392.4,273.9 393.2,269.3 394.1,293.4 395.0,270.8 395.9,298.7 396.8,267.3 397.7,276.9 398.6,278.4 399.5,277.2 400.4,268.3 401.3,295.1 402.2,274.6 403.0,280.7 403.9,273.2 404.8,275.9 405.7,279.7 406.6,268.5 407.5,272.2 408.4,288.8 409.3,272.3 410.2,270.3 411.1,284.6 412.0,270.0 412.8,273.6 413.7,270.0 414.6,271.3 415.5,275.9 416.4,272.0 417.3,271.4 418.2,274.5 419.1,272.4 420.0,286.2 420.9,267.6 421.8,271.7 422.6,301.9 423.5,269.3 424.4,265.4 425.3,272.7 426.2,274.9 427.1,270.8 428.0,271.1 428.9,268.7 429.8,274.0 430.7,265.7 431.6,291.8 432.4,301.6 433.3,268.2 434.2,272.3 435.1,277.6 436.0,270.5 436.9,271.6 437.8,286.7 438.7,273.3 439.6,274.4 440.5,272.7 441.4,298.2 442.2,270.5 443.1,271.2 444.0,277.6 444.9,269.0 445.8,272.1 446.7,268.9 447.6,269.6 448.5,288.8 449.4,281.0 450.3,277.1 451.2,266.6 452.0,265.3 452.9,269.9 453.8,273.9 454.7,269.7 455.6,273.4 456.5,266.5 457.4,283.1 458.3,276.4 459.2,296.4 460.1,286.3 461.0,269.9 461.8,272.7 462.7,271.6 463.6,273.9 464.5,285.2 465.4,272.8 466.3,272.1 467.2,284.1 468.1,272.0 469.0,290.7 469.9,274.0 470.8,269.3 471.6,272.0 472.5,276.1 473.4,269.4 474.3,295.4 475.2,281.2 476.1,277.2 477.0,300.6 477.9,274.6 478.8,273.9 479.7,298.0 480.6,276.3 481.4,303.7 482.3,271.2 483.2,299.7 484.1,299.1 485.0,282.8 485.9,275.1 486.8,273.4 487.7,280.6 488.6,282.0 489.5,273.6 490.4,271.6 491.2,282.8 492.1,283.4 493.0,276.3 493.9,284.1 494.8,277.3 495.7,276.1 496.6,279.2 497.5,288.5 498.4,274.7 499.3,278.5 500.2,278.3 501.0,274.5 501.9,280.9 502.8,275.9 503.7,273.4 503.7,317.8 338.9,317.8" fill="url(#gd2)"/>
<polyline points="344.1,274.5 345.0,274.5 345.9,296.7 346.7,271.6 347.6,267.2 348.5,297.3 349.3,268.0 350.2,274.1 351.1,269.1 352.0,260.4 352.8,271.5 353.7,271.2 354.6,267.3 355.5,298.0 356.3,298.7 357.2,272.4 358.1,269.5 359.0,275.1 359.8,265.3 360.7,269.7 361.6,269.5 362.5,280.6 363.3,270.1 364.2,277.9 365.1,265.5 366.0,272.9 366.8,266.9 367.7,270.2 368.6,270.3 369.5,290.6 370.3,263.7 371.2,269.8 372.1,271.4 373.0,286.4 373.8,277.8 374.7,272.2 375.6,272.6 376.5,270.3 377.3,273.8 378.2,266.1 379.1,296.6 380.0,268.4 380.8,268.8 381.7,269.8 382.6,271.0 383.5,264.2 384.3,265.7 385.2,277.1 386.1,269.0 387.0,267.5 387.8,267.2 388.7,269.5 389.6,268.4 390.5,295.5 391.3,292.0 392.2,286.6 393.1,272.1 394.0,266.6 394.8,266.8 395.7,266.6 396.6,268.8 397.4,264.4 398.3,288.0 399.2,265.8 400.1,293.2 400.9,262.4 401.8,271.8 402.7,273.3 403.6,272.1 404.4,263.4 405.3,289.7 406.2,269.5 407.1,275.5 407.9,268.2 408.8,270.8 409.7,274.6 410.6,263.6 411.4,267.2 412.3,283.5 413.2,267.3 414.1,265.3 414.9,279.4 415.8,265.0 416.7,268.5 417.6,265.0 418.4,266.4 419.3,270.9 420.2,267.0 421.1,266.4 421.9,269.4 422.8,267.4 423.7,281.0 424.6,262.7 425.4,266.7 426.3,296.3 427.2,264.3 428.1,260.5 428.9,267.7 429.8,269.8 430.7,265.8 431.6,266.1 432.4,263.8 433.3,269.0 434.2,260.8 435.1,286.5 435.9,296.1 436.8,263.2 437.7,267.3 438.6,272.5 439.4,265.6 440.3,266.6 441.2,281.4 442.1,268.3 442.9,269.4 443.8,267.7 444.7,292.7 445.5,265.5 446.4,266.2 447.3,272.5 448.2,264.0 449.0,267.1 449.9,264.0 450.8,264.6 451.7,283.4 452.5,275.9 453.4,272.0 454.3,261.7 455.2,260.4 456.0,264.9 456.9,268.9 457.8,264.7 458.7,268.3 459.5,261.6 460.4,277.9 461.3,271.3 462.2,291.0 463.0,281.1 463.9,265.0 464.8,267.7 465.7,266.6 466.5,268.8 467.4,279.9 468.3,267.7 469.2,267.1 470.0,278.9 470.9,267.0 471.8,285.4 472.7,269.0 473.5,264.3 474.4,267.0 475.3,271.1 476.2,264.4 477.0,289.9 477.9,276.0 478.8,272.1 479.7,295.1 480.5,269.6 481.4,268.9 482.3,292.5 483.2,271.2 484.0,298.1 484.9,266.2 485.8,294.2 486.7,293.6 487.5,277.6 488.4,270.1 489.3,268.4 490.2,275.4 491.0,276.8 491.9,268.5 492.8,266.6 493.7,277.6 494.5,278.2 495.4,271.2 496.3,278.8 497.1,272.2 498.0,271.0 498.9,274.0 499.8,283.2 500.6,269.7 501.5,273.3 502.4,273.2 503.3,269.5 504.1,275.7 505.0,270.8 505.9,268.3" fill="none" stroke="#68d890" stroke-width="0.8"/>
<polygon points="331.1,301.6 332.0,268.9 333.0,272.5 333.9,268.4 334.8,274.8 335.7,291.4 336.6,270.0 337.5,277.0 338.5,278.4 339.4,274.7 340.3,271.4 341.2,268.6 342.1,272.3 343.0,280.7 343.9,272.2 344.9,277.8 345.8,302.9 346.7,277.8 347.6,272.4 348.5,279.1 349.4,276.6 350.4,274.4 351.3,268.1 352.2,269.3 353.1,272.5 354.0,296.8 354.9,286.2 355.8,284.7 356.8,276.7 357.7,289.3 358.6,277.4 359.5,303.2 360.4,271.7 361.3,281.2 362.3,283.5 363.2,271.1 364.1,270.6 365.0,269.3 365.9,273.2 366.8,267.6 367.7,298.4 368.7,268.8 369.6,267.7 370.5,267.5 371.4,266.7 372.3,281.9 373.2,267.6 374.2,288.0 375.1,305.5 376.0,288.1 376.9,267.6 377.8,283.6 378.7,267.6 379.6,265.8 380.6,275.0 381.5,270.6 382.4,269.4 383.3,271.4 384.2,267.3 385.1,266.3 386.0,288.0 387.0,267.8 387.9,260.0 388.8,267.8 389.7,267.9 390.6,263.6 391.5,261.4 392.5,271.0 393.4,271.2 394.3,262.9 395.2,263.6 396.1,264.6 397.0,268.4 397.9,265.1 398.9,281.6 399.8,271.4 400.7,261.8 401.6,271.7 402.5,276.7 403.4,264.9 404.4,282.3 405.3,270.9 406.2,269.1 407.1,264.9 408.0,295.4 408.9,261.1 409.8,267.4 410.8,260.4 411.7,266.9 412.6,262.4 413.5,291.9 414.4,266.5 415.3,271.5 416.3,290.1 417.2,292.4 418.1,265.4 419.0,268.6 419.9,270.0 420.8,287.7 421.7,290.9 422.7,263.4 423.6,267.8 424.5,270.5 425.4,269.6 426.3,292.2 427.2,272.4 428.2,280.1 429.1,269.0 430.0,267.9 430.9,260.0 431.8,263.4 432.7,261.6 433.6,266.6 434.6,275.4 435.5,269.5 436.4,272.9 437.3,272.3 438.2,291.0 439.1,265.1 440.0,276.3 441.0,293.9 441.9,272.2 442.8,268.2 443.7,265.1 444.6,271.0 445.5,268.6 446.5,265.2 447.4,266.6 448.3,265.5 449.2,295.3 450.1,285.6 451.0,272.9 451.9,264.0 452.9,281.5 453.8,265.4 454.7,267.5 455.6,285.4 456.5,266.0 457.4,280.2 458.4,258.5 459.3,266.7 460.2,266.1 461.1,260.2 462.0,287.6 462.9,267.4 463.8,263.4 464.8,289.3 465.7,268.2 466.6,294.6 467.5,290.9 468.4,270.8 469.3,264.7 470.3,266.5 471.2,280.8 472.1,264.6 473.0,272.3 473.9,271.9 474.8,294.4 475.7,268.1 476.7,273.2 477.6,271.9 478.5,287.9 479.4,271.8 480.3,269.0 481.2,279.1 482.2,268.2 483.1,270.3 484.0,269.0 484.9,271.9 485.8,269.2 486.7,269.4 487.6,268.4 488.6,269.8 489.5,272.5 490.4,271.5 491.3,266.9 492.2,272.6 493.1,271.6 494.1,291.6 495.0,270.0 495.9,284.6 496.8,304.5 497.7,276.1 498.6,272.2 499.5,266.1 500.5,280.4 500.5,326.5 331.1,326.5" fill="url(#gdb1)"/>
<polygon points="500.5,326.5 500.5,326.5 500.5,280.4 500.5,280.4" fill="#f88818"/>
<polygon points="331.1,301.6 332.0,268.9 333.0,272.5 333.9,268.4 334.8,274.8 335.7,291.4 336.6,270.0 337.5,277.0 338.4,278.4 339.4,274.7 340.3,271.4 341.2,268.6 342.1,272.3 343.0,280.7 343.9,272.2 344.9,277.9 345.8,302.9 346.7,277.8 347.6,272.5 348.5,279.1 349.4,276.6 350.3,274.4 351.3,268.1 352.2,269.3 353.1,272.5 354.0,296.8 354.9,286.2 355.8,284.7 356.8,276.7 357.7,289.3 358.6,277.4 359.5,303.2 360.4,271.7 361.3,281.2 362.2,283.5 363.2,271.1 364.1,270.6 365.0,269.3 365.9,273.2 366.8,267.6 367.7,298.4 368.7,268.9 369.6,267.7 370.5,267.5 371.4,266.7 372.3,281.9 373.2,267.6 374.1,288.0 375.1,305.5 376.0,288.1 376.9,267.6 377.8,283.6 378.7,267.6 379.6,265.8 380.6,275.0 381.5,270.6 382.4,269.4 383.3,271.4 384.2,267.3 385.1,266.3 386.0,288.0 387.0,267.8 387.9,260.0 388.8,267.8 389.7,267.9 390.6,263.6 391.5,261.4 392.4,271.0 393.4,271.2 394.3,262.9 395.2,263.7 396.1,264.6 397.0,268.4 397.9,265.1 398.9,281.6 399.8,271.4 400.7,261.8 401.6,271.7 402.5,276.7 403.4,264.9 404.3,282.3 405.3,270.9 406.2,269.1 407.1,264.9 408.0,295.4 408.9,261.1 409.8,267.4 410.8,260.4 411.7,266.9 412.6,262.5 413.5,291.9 414.4,266.5 415.3,271.5 416.2,290.1 417.2,292.4 418.1,265.4 419.0,268.6 419.9,270.0 420.8,287.7 421.7,290.9 422.7,263.4 423.6,267.8 424.5,270.5 425.4,269.6 426.3,292.2 427.2,272.4 428.1,280.1 429.1,269.0 430.0,268.0 430.9,260.0 431.8,263.4 432.7,261.6 433.6,266.6 434.6,275.4 435.5,269.5 436.4,272.9 437.3,272.3 438.2,291.0 439.1,265.1 440.0,276.3 441.0,293.9 441.9,272.2 442.8,268.2 443.7,265.1 444.6,271.0 445.5,268.7 446.5,265.2 447.4,266.6 448.3,265.5 449.2,295.3 450.1,285.6 451.0,272.9 451.9,264.0 452.9,281.5 453.8,265.4 454.7,267.5 455.6,285.4 456.5,266.0 457.4,280.2 458.4,258.5 459.3,266.7 460.2,266.2 461.1,260.2 462.0,287.6 462.9,267.4 463.8,263.4 464.8,289.3 465.7,268.2 466.6,294.6 467.5,290.9 468.4,270.8 469.3,264.7 470.2,266.5 471.2,280.8 472.1,264.6 473.0,272.3 473.9,271.9 474.8,294.4 475.7,268.1 476.7,273.2 477.6,271.9 478.5,287.9 479.4,271.8 480.3,269.0 481.2,279.1 482.1,268.2 483.1,270.3 484.0,269.0 484.9,271.9 485.8,269.2 486.7,269.4 487.6,268.4 488.6,269.8 489.5,272.5 490.4,271.5 491.3,266.9 492.2,272.6 493.1,271.6 494.0,291.7 495.0,270.0 495.9,284.6 496.8,304.5 497.7,276.1 498.6,272.2 499.5,266.1 500.5,280.4 500.5,326.5 331.1,326.5" fill="url(#gd1)"/>
<polyline points="331.1,301.6 332.0,268.9 333.0,272.5 333.9,268.4 334.8,274.8 335.7,291.4 336.6,270.0 337.5,277.0 338.5,278.4 339.4,274.7 340.3,271.4 341.2,268.6 342.1,272.3 343.0,280.7 343.9,272.2 344.9,277.8 345.8,302.9 346.7,277.8 347.6,272.4 348.5,279.1 349.4,276.6 350.4,274.4 351.3,268.1 352.2,269.3 353.1,272.5 354.0,296.8 354.9,286.2 355.8,284.7 356.8,276.7 357.7,289.3 358.6,277.4 359.5,303.2 360.4,271.7 361.3,281.2 362.3,283.5 363.2,271.1 364.1,270.6 365.0,269.3 365.9,273.2 366.8,267.6 367.7,298.4 368.7,268.8 369.6,267.7 370.5,267.5 371.4,266.7 372.3,281.9 373.2,267.6 374.2,288.0 375.1,305.5 376.0,288.1 376.9,267.6 377.8,283.6 378.7,267.6 379.6,265.8 380.6,275.0 381.5,270.6 382.4,269.4 383.3,271.4 384.2,267.3 385.1,266.3 386.0,288.0 387.0,267.8 387.9,260.0 388.8,267.8 389.7,267.9 390.6,263.6 391.5,261.4 392.5,271.0 393.4,271.2 394.3,262.9 395.2,263.6 396.1,264.6 397.0,268.4 397.9,265.1 398.9,281.6 399.8,271.4 400.7,261.8 401.6,271.7 402.5,276.7 403.4,264.9 404.4,282.3 405.3,270.9 406.2,269.1 407.1,264.9 408.0,295.4 408.9,261.1 409.8,267.4 410.8,260.4 411.7,266.9 412.6,262.4 413.5,291.9 414.4,266.5 415.3,271.5 416.3,290.1 417.2,292.4 418.1,265.4 419.0,268.6 419.9,270.0 420.8,287.7 421.7,290.9 422.7,263.4 423.6,267.8 424.5,270.5 425.4,269.6 426.3,292.2 427.2,272.4 428.2,280.1 429.1,269.0 430.0,267.9 430.9,260.0 431.8,263.4 432.7,261.6 433.6,266.6 434.6,275.4 435.5,269.5 436.4,272.9 437.3,272.3 438.2,291.0 439.1,265.1 440.0,276.3 441.0,293.9 441.9,272.2 442.8,268.2 443.7,265.1 444.6,271.0 445.5,268.6 446.5,265.2 447.4,266.6 448.3,265.5 449.2,295.3 450.1,285.6 451.0,272.9 451.9,264.0 452.9,281.5 453.8,265.4 454.7,267.5 455.6,285.4 456.5,266.0 457.4,280.2 458.4,258.5 459.3,266.7 460.2,266.1 461.1,260.2 462.0,287.6 462.9,267.4 463.8,263.4 464.8,289.3 465.7,268.2 466.6,294.6 467.5,290.9 468.4,270.8 469.3,264.7 470.3,266.5 471.2,280.8 472.1,264.6 473.0,272.3 473.9,271.9 474.8,294.4 475.7,268.1 476.7,273.2 477.6,271.9 478.5,287.9 479.4,271.8 480.3,269.0 481.2,279.1 482.2,268.2 483.1,270.3 484.0,269.0 484.9,271.9 485.8,269.2 486.7,269.4 487.6,268.4 488.6,269.8 489.5,272.5 490.4,271.5 491.3,266.9 492.2,272.6 493.1,271.6 494.1,291.6 495.0,270.0 495.9,284.6 496.8,304.5 497.7,276.1 498.6,272.2 499.5,266.1 500.5,280.4" fill="none" stroke="#f04a80" stroke-width="0.8"/>
<polygon points="326.0,331.1 499.3,331.1 501.0,326.5 330.1,326.5" fill="#74eef2"/>
<line x1="326.0" y1="245.0" x2="326.0" y2="331.1" stroke="#767676" stroke-width="1.0"/>
<line x1="326.0" y1="331.1" x2="499.3" y2="331.1" stroke="#767676" stroke-width="1.0"/>
<line x1="499.3" y1="331.1" x2="524.0" y2="264.6" stroke="#767676" stroke-width="0.9"/>
<line x1="323.5" y1="331.1" x2="326.0" y2="331.1" stroke="#767676" stroke-width="0.8"/>
<line x1="323.5" y1="318.9" x2="326.0" y2="318.9" stroke="#767676" stroke-width="0.8"/>
<line x1="323.5" y1="306.7" x2="326.0" y2="306.7" stroke="#767676" stroke-width="0.8"/>
<line x1="323.5" y1="294.5" x2="326.0" y2="294.5" stroke="#767676" stroke-width="0.8"/>
<line x1="323.5" y1="282.3" x2="326.0" y2="282.3" stroke="#767676" stroke-width="0.8"/>
<line x1="323.5" y1="270.1" x2="326.0" y2="270.1" stroke="#767676" stroke-width="0.8"/>
<line x1="323.5" y1="257.9" x2="326.0" y2="257.9" stroke="#767676" stroke-width="0.8"/>
<line x1="323.5" y1="245.7" x2="326.0" y2="245.7" stroke="#767676" stroke-width="0.8"/>
<line x1="324.5" y1="325.0" x2="326.0" y2="325.0" stroke="#767676" stroke-width="0.7"/>
<line x1="324.5" y1="312.8" x2="326.0" y2="312.8" stroke="#767676" stroke-width="0.7"/>
<line x1="324.5" y1="300.6" x2="326.0" y2="300.6" stroke="#767676" stroke-width="0.7"/>
<line x1="324.5" y1="288.4" x2="326.0" y2="288.4" stroke="#767676" stroke-width="0.7"/>
<line x1="324.5" y1="276.2" x2="326.0" y2="276.2" stroke="#767676" stroke-width="0.7"/>
<line x1="324.5" y1="264.0" x2="326.0" y2="264.0" stroke="#767676" stroke-width="0.7"/>
<line x1="324.5" y1="251.8" x2="326.0" y2="251.8" stroke="#767676" stroke-width="0.7"/>
<line x1="334.5" y1="331.1" x2="333.3" y2="333.5" stroke="#767676" stroke-width="0.8"/>
<line x1="353.1" y1="331.1" x2="351.9" y2="333.5" stroke="#767676" stroke-width="0.8"/>
<line x1="371.6" y1="331.1" x2="370.4" y2="333.5" stroke="#767676" stroke-width="0.8"/>
<line x1="390.2" y1="331.1" x2="389.0" y2="333.5" stroke="#767676" stroke-width="0.8"/>
<line x1="408.7" y1="331.1" x2="407.5" y2="333.5" stroke="#767676" stroke-width="0.8"/>
<line x1="427.3" y1="331.1" x2="426.1" y2="333.5" stroke="#767676" stroke-width="0.8"/>
<line x1="445.9" y1="331.1" x2="444.7" y2="333.5" stroke="#767676" stroke-width="0.8"/>
<line x1="464.4" y1="331.1" x2="463.2" y2="333.5" stroke="#767676" stroke-width="0.8"/>
<line x1="483.0" y1="331.1" x2="481.8" y2="333.5" stroke="#767676" stroke-width="0.8"/>
<line x1="343.8" y1="331.1" x2="343.1" y2="332.5" stroke="#767676" stroke-width="0.7"/>
<line x1="362.3" y1="331.1" x2="361.6" y2="332.5" stroke="#767676" stroke-width="0.7"/>
<line x1="380.9" y1="331.1" x2="380.2" y2="332.5" stroke="#767676" stroke-width="0.7"/>
<line x1="399.5" y1="331.1" x2="398.8" y2="332.5" stroke="#767676" stroke-width="0.7"/>
<line x1="418.0" y1="331.1" x2="417.3" y2="332.5" stroke="#767676" stroke-width="0.7"/>
<line x1="436.6" y1="331.1" x2="435.9" y2="332.5" stroke="#767676" stroke-width="0.7"/>
<line x1="455.1" y1="331.1" x2="454.4" y2="332.5" stroke="#767676" stroke-width="0.7"/>
<line x1="473.7" y1="331.1" x2="473.0" y2="332.5" stroke="#767676" stroke-width="0.7"/>
<line x1="492.3" y1="331.1" x2="491.6" y2="332.5" stroke="#767676" stroke-width="0.7"/>
<line x1="501.0" y1="326.5" x2="503.5" y2="326.5" stroke="#767676" stroke-width="0.8"/>
<line x1="504.2" y1="317.8" x2="506.7" y2="317.8" stroke="#767676" stroke-width="0.8"/>
<line x1="507.3" y1="309.5" x2="509.8" y2="309.5" stroke="#767676" stroke-width="0.8"/>
<line x1="510.2" y1="301.6" x2="512.7" y2="301.6" stroke="#767676" stroke-width="0.8"/>
<line x1="513.0" y1="294.2" x2="515.5" y2="294.2" stroke="#767676" stroke-width="0.8"/>
<line x1="515.7" y1="287.0" x2="518.2" y2="287.0" stroke="#767676" stroke-width="0.8"/>
<line x1="518.2" y1="280.3" x2="520.7" y2="280.3" stroke="#767676" stroke-width="0.8"/>
<line x1="520.6" y1="273.8" x2="523.1" y2="273.8" stroke="#767676" stroke-width="0.8"/>
<line x1="522.9" y1="267.6" x2="525.4" y2="267.6" stroke="#767676" stroke-width="0.8"/>
<text x="16.0" y="19.5" font-size="16.4" text-anchor="start" style="stroke-width:0.05px">(a)</text>
<text x="292.8" y="18.8" font-size="16.6" text-anchor="start" style="stroke-width:0.05px">(b)</text>
<text x="22.0" y="206.8" font-size="16.4" text-anchor="start" style="stroke-width:0.05px">(c)</text>
<text x="303.8" y="202.8" font-size="15.8" text-anchor="start" style="stroke-width:0.05px">(d)</text>
<text x="34.2" y="73.4" font-size="11.2" text-anchor="end" >40</text>
<text x="34.2" y="95.3" font-size="11.2" text-anchor="end" >30</text>
<text x="34.2" y="116.8" font-size="11.2" text-anchor="end" >20</text>
<text x="34.2" y="138.8" font-size="11.2" text-anchor="end" >10</text>
<text x="34.2" y="160.9" font-size="11.2" text-anchor="end" >0</text>
<text x="43.1" y="172.7" font-size="12.1" text-anchor="middle" >100</text>
<text x="64.0" y="172.7" font-size="12.1" text-anchor="middle" >120</text>
<text x="84.9" y="172.7" font-size="12.1" text-anchor="middle" >140</text>
<text x="105.8" y="172.7" font-size="12.1" text-anchor="middle" >160</text>
<text x="126.7" y="172.7" font-size="12.1" text-anchor="middle" >180</text>
<text x="147.7" y="172.7" font-size="12.1" text-anchor="middle" >200</text>
<text x="168.6" y="172.7" font-size="12.1" text-anchor="middle" >220</text>
<text x="189.5" y="172.7" font-size="12.1" text-anchor="middle" >240</text>
<text x="210.4" y="172.7" font-size="12.1" text-anchor="middle" >260</text>
<text x="128.6" y="185.0" font-size="12.9" text-anchor="middle" textLength="94.6" lengthAdjust="spacingAndGlyphs">DOY(day of year)</text>
<text transform="translate(17.1,113.2) rotate(-90)" font-size="13.15" text-anchor="middle" textLength="146.9" lengthAdjust="spacingAndGlyphs">Maximum Temperature(°C)</text>
<text x="301.3" y="156.6" font-size="10.1" text-anchor="end" >0</text>
<text x="301.3" y="146.0" font-size="10.1" text-anchor="end" >5</text>
<text x="301.3" y="135.4" font-size="10.1" text-anchor="end" >10</text>
<text x="301.3" y="124.8" font-size="10.1" text-anchor="end" >15</text>
<text x="301.3" y="114.2" font-size="10.1" text-anchor="end" >20</text>
<text x="301.3" y="103.6" font-size="10.1" text-anchor="end" >25</text>
<text x="301.3" y="93.0" font-size="10.1" text-anchor="end" >30</text>
<text x="301.3" y="82.4" font-size="10.1" text-anchor="end" >35</text>
<text x="301.3" y="71.8" font-size="10.1" text-anchor="end" >40</text>
<text x="317.7" y="169.5" font-size="11.6" text-anchor="middle" >100</text>
<text x="338.0" y="169.5" font-size="11.6" text-anchor="middle" >120</text>
<text x="358.2" y="169.5" font-size="11.6" text-anchor="middle" >140</text>
<text x="378.5" y="169.5" font-size="11.6" text-anchor="middle" >160</text>
<text x="398.7" y="169.5" font-size="11.6" text-anchor="middle" >180</text>
<text x="419.0" y="169.5" font-size="11.6" text-anchor="middle" >200</text>
<text x="439.3" y="169.5" font-size="11.6" text-anchor="middle" >220</text>
<text x="459.5" y="169.5" font-size="11.6" text-anchor="middle" >240</text>
<text x="479.8" y="169.5" font-size="11.6" text-anchor="middle" >260</text>
<text x="401.2" y="182.0" font-size="12.2" text-anchor="middle" textLength="89.4" lengthAdjust="spacingAndGlyphs">DOY(day of year)</text>
<text transform="translate(286.8,107.3) rotate(-90)" font-size="12.17" text-anchor="middle" textLength="133.9" lengthAdjust="spacingAndGlyphs">Minimum Temperature(°C)</text>
<text x="26.3" y="349.7" font-size="11.5" text-anchor="end" >0</text>
<text x="26.3" y="330.7" font-size="11.5" text-anchor="end" >1</text>
<text x="26.3" y="311.8" font-size="11.5" text-anchor="end" >2</text>
<text x="26.3" y="292.8" font-size="11.5" text-anchor="end" >3</text>
<text x="26.3" y="273.9" font-size="11.5" text-anchor="end" >4</text>
<text x="26.3" y="254.9" font-size="11.5" text-anchor="end" >5</text>
<text x="40.2" y="362.7" font-size="12.1" text-anchor="middle" >100</text>
<text x="61.2" y="362.7" font-size="12.1" text-anchor="middle" >120</text>
<text x="82.2" y="362.7" font-size="12.1" text-anchor="middle" >140</text>
<text x="103.1" y="362.7" font-size="12.1" text-anchor="middle" >160</text>
<text x="124.1" y="362.7" font-size="12.1" text-anchor="middle" >180</text>
<text x="145.1" y="362.7" font-size="12.1" text-anchor="middle" >200</text>
<text x="166.1" y="362.7" font-size="12.1" text-anchor="middle" >220</text>
<text x="187.1" y="362.7" font-size="12.1" text-anchor="middle" >240</text>
<text x="208.0" y="362.7" font-size="12.1" text-anchor="middle" >260</text>
<text x="127.1" y="375.5" font-size="12.5" text-anchor="middle" textLength="91.6" lengthAdjust="spacingAndGlyphs">DOY(day of year)</text>
<text transform="translate(16.8,296.6) rotate(-90)" font-size="12.4" text-anchor="middle" textLength="67.6" lengthAdjust="spacingAndGlyphs">Rainfall(mm)</text>
<text x="321.2" y="334.7" font-size="10.8" text-anchor="end" >0</text>
<text x="321.2" y="322.5" font-size="10.8" text-anchor="end" >5,000</text>
<text x="321.2" y="310.3" font-size="10.8" text-anchor="end" >10,000</text>
<text x="321.2" y="298.1" font-size="10.8" text-anchor="end" >15,000</text>
<text x="321.2" y="285.9" font-size="10.8" text-anchor="end" >20,000</text>
<text x="321.2" y="273.7" font-size="10.8" text-anchor="end" >25,000</text>
<text x="321.2" y="261.5" font-size="10.8" text-anchor="end" >30,000</text>
<text x="321.2" y="249.3" font-size="10.8" text-anchor="end" >35,000</text>
<text x="334.5" y="345.8" font-size="11.6" text-anchor="middle" >100</text>
<text x="353.1" y="345.8" font-size="11.6" text-anchor="middle" >120</text>
<text x="371.6" y="345.8" font-size="11.6" text-anchor="middle" >140</text>
<text x="390.2" y="345.8" font-size="11.6" text-anchor="middle" >160</text>
<text x="408.7" y="345.8" font-size="11.6" text-anchor="middle" >180</text>
<text x="427.3" y="345.8" font-size="11.6" text-anchor="middle" >200</text>
<text x="445.9" y="345.8" font-size="11.6" text-anchor="middle" >220</text>
<text x="464.4" y="345.8" font-size="11.6" text-anchor="middle" >240</text>
<text x="483.0" y="345.8" font-size="11.6" text-anchor="middle" >260</text>
<text x="412.5" y="357.3" font-size="11.5" text-anchor="middle" textLength="81.4" lengthAdjust="spacingAndGlyphs">DOY(day of year)</text>
<text transform="translate(287,288.1) rotate(-90)" font-size="11.2" text-anchor="middle">Global radiation(kJ/m<tspan dy="-4" font-size="7.5">2</tspan><tspan dy="4">)</tspan></text>
<text x="230.9" y="152.2" font-size="11.2" text-anchor="start" >MS1</text>
<text x="234.5" y="142.5" font-size="10.9" text-anchor="start" >MS2</text>
<text x="237.9" y="133.4" font-size="10.62" text-anchor="start" >MS3</text>
<text x="241.1" y="124.6" font-size="10.35" text-anchor="start" >MS4</text>
<text x="244.2" y="116.4" font-size="10.09" text-anchor="start" >MS5</text>
<text x="247.1" y="108.5" font-size="9.85" text-anchor="start" >MS6</text>
<text x="249.9" y="101.0" font-size="9.62" text-anchor="start" >MS7</text>
<text x="252.5" y="93.8" font-size="9.4" text-anchor="start" >MS8</text>
<text x="255.1" y="87.0" font-size="9.19" text-anchor="start" >MS9</text>
<text x="501.0" y="152.2" font-size="11.0" text-anchor="start" >MS1</text>
<text x="504.6" y="142.5" font-size="10.71" text-anchor="start" >MS2</text>
<text x="508.0" y="133.4" font-size="10.43" text-anchor="start" >MS3</text>
<text x="511.2" y="124.7" font-size="10.16" text-anchor="start" >MS4</text>
<text x="514.3" y="116.4" font-size="9.91" text-anchor="start" >MS5</text>
<text x="517.2" y="108.6" font-size="9.67" text-anchor="start" >MS6</text>
<text x="520.0" y="101.1" font-size="9.45" text-anchor="start" >MS7</text>
<text x="522.6" y="93.9" font-size="9.23" text-anchor="start" >MS8</text>
<text x="525.2" y="87.1" font-size="9.02" text-anchor="start" >MS9</text>
<text x="229.2" y="345.2" font-size="11.0" text-anchor="start" >MS1</text>
<text x="232.8" y="335.5" font-size="10.71" text-anchor="start" >MS2</text>
<text x="236.2" y="326.4" font-size="10.43" text-anchor="start" >MS3</text>
<text x="239.4" y="317.7" font-size="10.16" text-anchor="start" >MS4</text>
<text x="242.5" y="309.4" font-size="9.91" text-anchor="start" >MS5</text>
<text x="245.5" y="301.6" font-size="9.67" text-anchor="start" >MS6</text>
<text x="248.3" y="294.1" font-size="9.45" text-anchor="start" >MS7</text>
<text x="250.9" y="286.9" font-size="9.23" text-anchor="start" >MS8</text>
<text x="253.5" y="280.1" font-size="9.02" text-anchor="start" >MS9</text>
<text x="505.0" y="330.2" font-size="10.2" text-anchor="start" >MS1</text>
<text x="508.2" y="321.4" font-size="9.93" text-anchor="start" >MS2</text>
<text x="511.3" y="313.0" font-size="9.67" text-anchor="start" >MS3</text>
<text x="514.2" y="305.1" font-size="9.43" text-anchor="start" >MS4</text>
<text x="517.0" y="297.5" font-size="9.19" text-anchor="start" >MS5</text>
<text x="519.7" y="290.3" font-size="8.97" text-anchor="start" >MS6</text>
<text x="522.2" y="283.5" font-size="8.76" text-anchor="start" >MS7</text>
<text x="524.6" y="276.9" font-size="8.56" text-anchor="start" >MS8</text>
<text x="526.9" y="270.7" font-size="8.37" text-anchor="start" >MS9</text>
</svg></body></html>
